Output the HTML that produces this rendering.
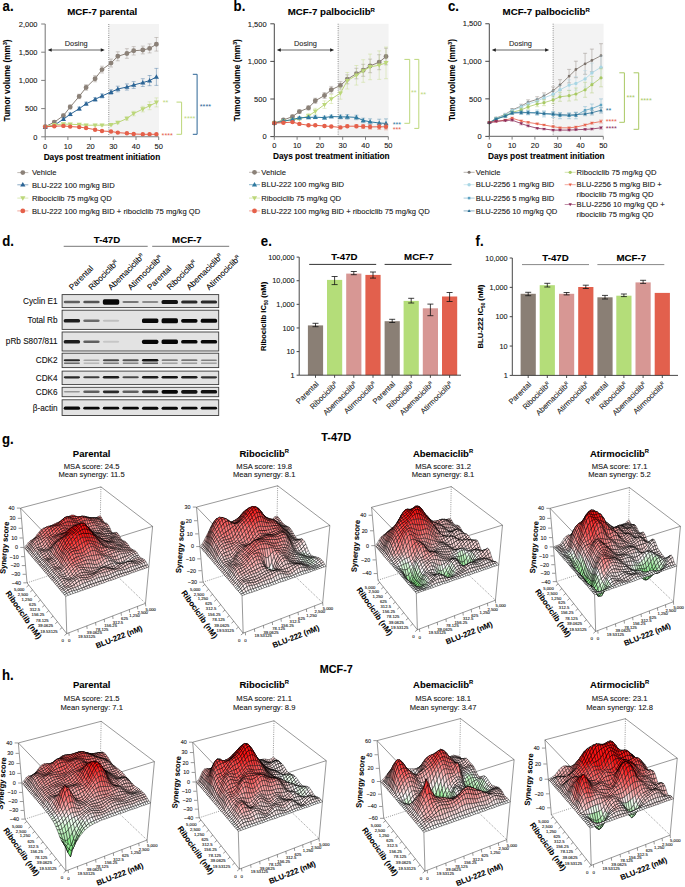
<!DOCTYPE html>
<html><head><meta charset="utf-8"><style>
html,body{margin:0;padding:0;background:#fff;width:685px;height:887px;overflow:hidden}
svg{display:block;font-family:"Liberation Sans",sans-serif}
text{stroke:#000;stroke-width:.22px;stroke-opacity:.45}.ns{stroke:none}
.a{fill:#ffa0a0}.b{fill:#ffb4b4}.c{fill:#ffc8c8}.d{fill:#ffdcdc}.e{fill:#fff0f0}.f{fill:#ff8c8c}.g{fill:#ff7878}.h{fill:#ff6464}.i{fill:#ff5050}.j{fill:#ff3c3c}.k{fill:#ff2828}.l{fill:#ff1414}.m{fill:#ffffff}.n{fill:#f0fff0}.o{fill:#dcffdc}.p{fill:#c8ffc8}.q{fill:#b4f0b4}.r{fill:#a0f0a0}.s{fill:#8cf08c}.t{fill:#c8f0c8}.u{fill:#78f078}.v{fill:#64f064}.w{fill:#50f050}.x{fill:#3cf03c}.y{fill:#28f028}
</style></head><body>
<svg width="685" height="887" viewBox="0 0 685 887">
<rect x="108.76" y="24" width="50.24" height="112.8" fill="#f3f3f3"/>
<line x1="108.76" y1="24" x2="108.76" y2="136.8" stroke="#555" stroke-width="0.8" stroke-dasharray="0.8 1.4"/>
<path d="M45.2 126V127.2M43.2 126h4M43.2 127.2h4M54.3 121.1V123.3M52.3 121.1h4M52.3 123.3h4M63.4 114V117.4M61.4 114h4M61.4 117.4h4M70.2 105V109M68.2 105h4M68.2 109h4M79.2 94.2V98.7M77.2 94.2h4M77.2 98.7h4M86.1 84.7V90.3M84.1 84.7h4M84.1 90.3h4M95.1 75.6V81.8M93.1 75.6h4M93.1 81.8h4M102 66.2V73M100 66.2h4M100 73h4M111 59.1V67M109 59.1h4M109 67h4M117.8 51.8V60.8M115.8 51.8h4M115.8 60.8h4M126.9 48.7V58.3M124.9 48.7h4M124.9 58.3h4M133.7 46.6V55M131.7 46.6h4M131.7 55h4M142.8 46.1V53.9M140.8 46.1h4M140.8 53.9h4M149.6 43.9V52.9M147.6 43.9h4M147.6 52.9h4M156.4 37.5V51.1M154.4 37.5h4M154.4 51.1h4" stroke="#8b8178" stroke-width="0.7" fill="none" opacity="0.55"/>
<polyline points="45.2,126.6 54.3,122.2 63.4,115.7 70.2,107 79.2,96.4 86.1,87.5 95.1,78.7 102,69.6 111,63.1 117.8,56.3 126.9,53.5 133.7,50.8 142.8,50 149.6,48.4 156.4,44.3" fill="none" stroke="#8b8178" stroke-width="1.0"/>
<path d="M45.2 126.6h0M54.3 122.2h0M63.4 115.7h0M70.2 107h0M79.2 96.4h0M86.1 87.5h0M95.1 78.7h0M102 69.6h0M111 63.1h0M117.8 56.3h0M126.9 53.5h0M133.7 50.8h0M142.8 50h0M149.6 48.4h0M156.4 44.3h0" stroke="#8b8178" stroke-width="4.9" stroke-linecap="round"/>
<path d="M45.2 126.6V127.8M43.2 126.6h4M43.2 127.8h4M54.3 124.4V126.1M52.3 124.4h4M52.3 126.1h4M63.4 118.1V120.3M61.4 118.1h4M61.4 120.3h4M70.2 112.9V115.7M68.2 112.9h4M68.2 115.7h4M79.2 107V110.4M77.2 107h4M77.2 110.4h4M86.1 102.1V105.5M84.1 102.1h4M84.1 105.5h4M95.1 97.7V101.1M93.1 97.7h4M93.1 101.1h4M102 93.9V97.9M100 93.9h4M100 97.9h4M111 89.8V94.3M109 89.8h4M109 94.3h4M117.8 86.2V91.8M115.8 86.2h4M115.8 91.8h4M126.9 83.9V90.1M124.9 83.9h4M124.9 90.1h4M133.7 81.6V88.4M131.7 81.6h4M131.7 88.4h4M142.8 78.7V86.5M140.8 78.7h4M140.8 86.5h4M149.6 75.5V85.7M147.6 75.5h4M147.6 85.7h4M156.4 68.4V85.4M154.4 68.4h4M154.4 85.4h4" stroke="#2c6596" stroke-width="0.7" fill="none" opacity="0.55"/>
<polyline points="45.2,127.2 54.3,125.2 63.4,119.2 70.2,114.3 79.2,108.7 86.1,103.8 95.1,99.4 102,95.9 111,92.1 117.8,89 126.9,87 133.7,85 142.8,82.6 149.6,80.6 156.4,76.9" fill="none" stroke="#2c6596" stroke-width="1.0"/>
<path d="M45.2 124.6l-2.5 4.4h5.1zM54.3 122.6l-2.5 4.4h5.1zM63.4 116.6l-2.5 4.4h5.1zM70.2 111.7l-2.5 4.4h5.1zM79.2 106.1l-2.5 4.4h5.1zM86.1 101.2l-2.5 4.4h5.1zM95.1 96.8l-2.5 4.4h5.1zM102 93.3l-2.5 4.4h5.1zM111 89.5l-2.5 4.4h5.1zM117.8 86.4l-2.5 4.4h5.1zM126.9 84.4l-2.5 4.4h5.1zM133.7 82.4l-2.5 4.4h5.1zM142.8 80l-2.5 4.4h5.1zM149.6 78l-2.5 4.4h5.1zM156.4 74.3l-2.5 4.4h5.1z" fill="#2c6596"/>
<path d="M45.2 126.1V127.2M43.2 126.1h4M43.2 127.2h4M54.3 124V125.7M52.3 124h4M52.3 125.7h4M63.4 123.3V125M61.4 123.3h4M61.4 125h4M70.2 123.4V125.1M68.2 123.4h4M68.2 125.1h4M79.2 123.8V125.5M77.2 123.8h4M77.2 125.5h4M86.1 124.3V126M84.1 124.3h4M84.1 126h4M95.1 124.3V126M93.1 124.3h4M93.1 126h4M102 124.3V126M100 124.3h4M100 126h4M111 123.9V125.6M109 123.9h4M109 125.6h4M117.8 121.5V123.7M115.8 121.5h4M115.8 123.7h4M126.9 116.8V120.2M124.9 116.8h4M124.9 120.2h4M133.7 111.3V115.8M131.7 111.3h4M131.7 115.8h4M142.8 106.3V111.9M140.8 106.3h4M140.8 111.9h4M149.6 101.8V109.7M147.6 101.8h4M147.6 109.7h4M156.4 97.9V106.9M154.4 97.9h4M154.4 106.9h4" stroke="#bcd77a" stroke-width="0.7" fill="none" opacity="0.55"/>
<polyline points="45.2,126.6 54.3,124.8 63.4,124.1 70.2,124.3 79.2,124.6 86.1,125.2 95.1,125.2 102,125.2 111,124.8 117.8,122.6 126.9,118.5 133.7,113.5 142.8,109.1 149.6,105.8 156.4,102.4" fill="none" stroke="#bcd77a" stroke-width="1.0"/>
<path d="M45.2 129.3l-2.5 -4.4h5.1zM54.3 127.5l-2.5 -4.4h5.1zM63.4 126.7l-2.5 -4.4h5.1zM70.2 126.9l-2.5 -4.4h5.1zM79.2 127.2l-2.5 -4.4h5.1zM86.1 127.8l-2.5 -4.4h5.1zM95.1 127.8l-2.5 -4.4h5.1zM102 127.8l-2.5 -4.4h5.1zM111 127.4l-2.5 -4.4h5.1zM117.8 125.2l-2.5 -4.4h5.1zM126.9 121.1l-2.5 -4.4h5.1zM133.7 116.1l-2.5 -4.4h5.1zM142.8 111.7l-2.5 -4.4h5.1zM149.6 108.4l-2.5 -4.4h5.1zM156.4 105l-2.5 -4.4h5.1z" fill="#bcd77a"/>
<path d="M45.2 126.3V127.2M43.2 126.3h4M43.2 127.2h4M54.3 125.6V126.8M52.3 125.6h4M52.3 126.8h4M63.4 125.4V126.5M61.4 125.4h4M61.4 126.5h4M70.2 126V127.2M68.2 126h4M68.2 127.2h4M79.2 126.5V127.7M77.2 126.5h4M77.2 127.7h4M86.1 127.4V128.6M84.1 127.4h4M84.1 128.6h4M95.1 129.1V130.3M93.1 129.1h4M93.1 130.3h4M102 130.4V131.6M100 130.4h4M100 131.6h4M111 130.9V132.1M109 130.9h4M109 132.1h4M117.8 132.2V133.1M115.8 132.2h4M115.8 133.1h4M126.9 132.9V133.8M124.9 132.9h4M124.9 133.8h4M133.7 133.5V134.4M131.7 133.5h4M131.7 134.4h4M142.8 133.9V134.8M140.8 133.9h4M140.8 134.8h4M149.6 133.9V134.8M147.6 133.9h4M147.6 134.8h4M156.4 133.9V134.8M154.4 133.9h4M154.4 134.8h4" stroke="#e5604a" stroke-width="0.7" fill="none" opacity="0.55"/>
<polyline points="45.2,126.8 54.3,126.2 63.4,125.9 70.2,126.6 79.2,127.1 86.1,128 95.1,129.7 102,131 111,131.5 117.8,132.6 126.9,133.3 133.7,134 142.8,134.3 149.6,134.3 156.4,134.3" fill="none" stroke="#e5604a" stroke-width="1.0"/>
<path d="M45.2 126.8h0M54.3 126.2h0M63.4 125.9h0M70.2 126.6h0M79.2 127.1h0M86.1 128h0M95.1 129.7h0M102 131h0M111 131.5h0M117.8 132.6h0M126.9 133.3h0M133.7 134h0M142.8 134.3h0M149.6 134.3h0M156.4 134.3h0" stroke="#e5604a" stroke-width="4.4" stroke-linecap="round"/>
<path d="M45.2 24V136.8" stroke="#7f7f7f" stroke-width="1.1" fill="none"/>
<path d="M44.7 136.8H158.7" stroke="#7f7f7f" stroke-width="1.1" fill="none"/>
<path d="M41.2 136.8h4" stroke="#7f7f7f" stroke-width="1.0"/>
<text x="37.5" y="139.5" font-size="7.5" text-anchor="end" fill="#222">0</text>
<path d="M41.2 108.6h4" stroke="#7f7f7f" stroke-width="1.0"/>
<text x="37.5" y="111.3" font-size="7.5" text-anchor="end" fill="#222">500</text>
<path d="M41.2 80.4h4" stroke="#7f7f7f" stroke-width="1.0"/>
<text x="37.5" y="83.1" font-size="7.5" text-anchor="end" fill="#222">1,000</text>
<path d="M41.2 52.2h4" stroke="#7f7f7f" stroke-width="1.0"/>
<text x="37.5" y="54.9" font-size="7.5" text-anchor="end" fill="#222">1,500</text>
<path d="M41.2 24h4" stroke="#7f7f7f" stroke-width="1.0"/>
<text x="37.5" y="26.7" font-size="7.5" text-anchor="end" fill="#222">2,000</text>
<path d="M45.2 136.8v3.2" stroke="#7f7f7f" stroke-width="1"/>
<text x="45.2" y="148.5" font-size="7.5" text-anchor="middle" fill="#222">0</text>
<path d="M67.9 136.8v3.2" stroke="#7f7f7f" stroke-width="1"/>
<text x="67.9" y="148.5" font-size="7.5" text-anchor="middle" fill="#222">10</text>
<path d="M90.6 136.8v3.2" stroke="#7f7f7f" stroke-width="1"/>
<text x="90.6" y="148.5" font-size="7.5" text-anchor="middle" fill="#222">20</text>
<path d="M113.3 136.8v3.2" stroke="#7f7f7f" stroke-width="1"/>
<text x="113.3" y="148.5" font-size="7.5" text-anchor="middle" fill="#222">30</text>
<path d="M136 136.8v3.2" stroke="#7f7f7f" stroke-width="1"/>
<text x="136" y="148.5" font-size="7.5" text-anchor="middle" fill="#222">40</text>
<path d="M158.7 136.8v3.2" stroke="#7f7f7f" stroke-width="1"/>
<text x="158.7" y="148.5" font-size="7.5" text-anchor="middle" fill="#222">50</text>
<path d="M49.7 50H102.76" stroke="#222" stroke-width="0.7"/>
<path d="M47.7 50l4 -1.8v3.6z" fill="#222"/>
<path d="M104.76 50l-4 -1.8v3.6z" fill="#222"/>
<text x="76.23" y="46" font-size="7.4" text-anchor="middle" fill="#333">Dosing</text>
<text x="101.95" y="159.5" font-size="8.3" font-weight="bold" text-anchor="middle" fill="#000">Days post treatment initiation</text>
<text transform="translate(9.9 80.4) rotate(-90)" font-size="8.3" font-weight="bold" text-anchor="middle">Tumor volume (mm<tspan font-size="5.2" dy="-3">3</tspan><tspan dy="3">)</tspan></text>
<path d="M192.8 74.3H197.1V134.3H192.8" fill="none" stroke="#2c6596" stroke-width="1"/>
<text x="199.8" y="108.7" font-size="7.2" fill="#2c6596" class="ns">****</text>
<path d="M176.5 102.1H181.6V134.3H176.5" fill="none" stroke="#bcd77a" stroke-width="1"/>
<text x="184.1" y="121.2" font-size="7.2" fill="#bcd77a" class="ns">****</text>
<text x="162.7" y="105.1" font-size="7.2" fill="#bcd77a" class="ns">**</text>
<text x="161.6" y="138.3" font-size="7.2" fill="#e5604a" class="ns">****</text>
<path d="M17.3 172.6h11" stroke="#8b8178" stroke-width="0.9" opacity="0.6"/>
<circle cx="22.8" cy="172.6" r="2.4" fill="#8b8178"/>
<text x="31.9" y="175.3" font-size="7.65" fill="#222">Vehicle</text>
<path d="M17.3 184.8h11" stroke="#2c6596" stroke-width="0.9" opacity="0.6"/>
<path d="M22.8 182.06L20.16 186.62L25.44 186.62Z" fill="#2c6596"/>
<text x="31.9" y="187.5" font-size="7.65" fill="#222">BLU-222 100 mg/kg BID</text>
<path d="M17.3 198.1h11" stroke="#bcd77a" stroke-width="0.9" opacity="0.6"/>
<path d="M22.8 200.84L20.16 196.28L25.44 196.28Z" fill="#bcd77a"/>
<text x="31.9" y="200.8" font-size="7.65" fill="#222">Ribociclib 75 mg/kg QD</text>
<path d="M17.3 210.9h11" stroke="#e5604a" stroke-width="0.9" opacity="0.6"/>
<circle cx="22.8" cy="210.9" r="2.4" fill="#e5604a"/>
<text x="31.9" y="213.6" font-size="7.65" fill="#222">BLU-222 100 mg/kg BID + ribociclib 75 mg/kg QD</text>
<rect x="338.14" y="23.8" width="50.46" height="112.8" fill="#f3f3f3"/>
<line x1="338.14" y1="23.8" x2="338.14" y2="136.6" stroke="#555" stroke-width="0.8" stroke-dasharray="0.8 1.4"/>
<path d="M274.3 122.2V123.7M272.3 122.2h4M272.3 123.7h4M283.4 118.9V121.1M281.4 118.9h4M281.4 121.1h4M292.5 115.1V118.1M290.5 115.1h4M290.5 118.1h4M299.4 109.8V113.5M297.4 109.8h4M297.4 113.5h4M308.5 105.6V110.1M306.5 105.6h4M306.5 110.1h4M315.3 98.2V103.4M313.3 98.2h4M313.3 103.4h4M324.5 92.5V98.5M322.5 92.5h4M322.5 98.5h4M331.3 86.4V93.2M329.3 86.4h4M329.3 93.2h4M340.4 81.6V89.1M338.4 81.6h4M338.4 89.1h4M347.3 74.8V83.8M345.3 74.8h4M345.3 83.8h4M356.4 68.3V78.8M354.4 68.3h4M354.4 78.8h4M363.2 64.3V76.3M361.2 64.3h4M361.2 76.3h4M370.1 59.1V72.7M368.1 59.1h4M368.1 72.7h4M379.2 54.7V69.7M377.2 54.7h4M377.2 69.7h4M386 48.2V64.8M384 48.2h4M384 64.8h4" stroke="#8b8178" stroke-width="0.7" fill="none" opacity="0.55"/>
<polyline points="274.3,123 283.4,120 292.5,116.6 299.4,111.6 308.5,107.9 315.3,100.8 324.5,95.5 331.3,89.8 340.4,85.4 347.3,79.3 356.4,73.6 363.2,70.3 370.1,65.9 379.2,62.2 386,56.5" fill="none" stroke="#8b8178" stroke-width="1.0"/>
<path d="M274.3 123h0M283.4 120h0M292.5 116.6h0M299.4 111.6h0M308.5 107.9h0M315.3 100.8h0M324.5 95.5h0M331.3 89.8h0M340.4 85.4h0M347.3 79.3h0M356.4 73.6h0M363.2 70.3h0M370.1 65.9h0M379.2 62.2h0M386 56.5h0" stroke="#8b8178" stroke-width="4.9" stroke-linecap="round"/>
<path d="M274.3 122.3V123.8M272.3 122.3h4M272.3 123.8h4M283.4 120.1V122.3M281.4 120.1h4M281.4 122.3h4M292.5 118.6V120.8M290.5 118.6h4M290.5 120.8h4M299.4 117.4V120.4M297.4 117.4h4M297.4 120.4h4M308.5 113.7V118.3M306.5 113.7h4M306.5 118.3h4M315.3 108.3V114.3M313.3 108.3h4M313.3 114.3h4M324.5 100.9V108.4M322.5 100.9h4M322.5 108.4h4M331.3 94.5V103.5M329.3 94.5h4M329.3 103.5h4M340.4 87.2V99.2M338.4 87.2h4M338.4 99.2h4M347.3 72.5V89M345.3 72.5h4M345.3 89h4M356.4 65.5V85.1M354.4 65.5h4M354.4 85.1h4M363.2 59.7V82.3M361.2 59.7h4M361.2 82.3h4M370.1 54.1V79.7M368.1 54.1h4M368.1 79.7h4M379.2 50.9V79.4M377.2 50.9h4M377.2 79.4h4M386 47.1V78.7M384 47.1h4M384 78.7h4" stroke="#bcd77a" stroke-width="0.7" fill="none" opacity="0.55"/>
<polyline points="274.3,123.1 283.4,121.2 292.5,119.7 299.4,118.9 308.5,116 315.3,111.3 324.5,104.6 331.3,99 340.4,93.2 347.3,80.7 356.4,75.3 363.2,71 370.1,66.9 379.2,65.2 386,62.9" fill="none" stroke="#bcd77a" stroke-width="1.0"/>
<path d="M274.3 125.7l-2.5 -4.4h5.1zM283.4 123.8l-2.5 -4.4h5.1zM292.5 122.3l-2.5 -4.4h5.1zM299.4 121.5l-2.5 -4.4h5.1zM308.5 118.6l-2.5 -4.4h5.1zM315.3 114l-2.5 -4.4h5.1zM324.5 107.3l-2.5 -4.4h5.1zM331.3 101.6l-2.5 -4.4h5.1zM340.4 95.8l-2.5 -4.4h5.1zM347.3 83.3l-2.5 -4.4h5.1zM356.4 77.9l-2.5 -4.4h5.1zM363.2 73.6l-2.5 -4.4h5.1zM370.1 69.5l-2.5 -4.4h5.1zM379.2 67.8l-2.5 -4.4h5.1zM386 65.5l-2.5 -4.4h5.1z" fill="#bcd77a"/>
<path d="M274.3 122.3V123.8M272.3 122.3h4M272.3 123.8h4M283.4 120.1V122.3M281.4 120.1h4M281.4 122.3h4M292.5 118.4V120.7M290.5 118.4h4M290.5 120.7h4M299.4 116.7V118.9M297.4 116.7h4M297.4 118.9h4M308.5 116.3V118.6M306.5 116.3h4M306.5 118.6h4M315.3 115.7V118.7M313.3 115.7h4M313.3 118.7h4M324.5 116.1V119.1M322.5 116.1h4M322.5 119.1h4M331.3 115V118M329.3 115h4M329.3 118h4M340.4 115V118.8M338.4 115h4M338.4 118.8h4M347.3 114.6V119.2M345.3 114.6h4M345.3 119.2h4M356.4 115.2V119.7M354.4 115.2h4M354.4 119.7h4M363.2 118.2V122.7M361.2 118.2h4M361.2 122.7h4M370.1 118.8V124.8M368.1 118.8h4M368.1 124.8h4M379.2 119.2V126.7M377.2 119.2h4M377.2 126.7h4M386 118.9V128M384 118.9h4M384 128h4" stroke="#2f7aa0" stroke-width="0.7" fill="none" opacity="0.55"/>
<polyline points="274.3,123.1 283.4,121.2 292.5,119.5 299.4,117.8 308.5,117.4 315.3,117.2 324.5,117.6 331.3,116.5 340.4,116.9 347.3,116.9 356.4,117.4 363.2,120.4 370.1,121.8 379.2,123 386,123.4" fill="none" stroke="#2f7aa0" stroke-width="1.0"/>
<path d="M274.3 120.4l-2.5 4.4h5.1zM283.4 118.6l-2.5 4.4h5.1zM292.5 116.9l-2.5 4.4h5.1zM299.4 115.2l-2.5 4.4h5.1zM308.5 114.8l-2.5 4.4h5.1zM315.3 114.6l-2.5 4.4h5.1zM324.5 115l-2.5 4.4h5.1zM331.3 113.9l-2.5 4.4h5.1zM340.4 114.3l-2.5 4.4h5.1zM347.3 114.3l-2.5 4.4h5.1zM356.4 114.8l-2.5 4.4h5.1zM363.2 117.8l-2.5 4.4h5.1zM370.1 119.2l-2.5 4.4h5.1zM379.2 120.4l-2.5 4.4h5.1zM386 120.8l-2.5 4.4h5.1z" fill="#2f7aa0"/>
<path d="M274.3 122.5V123.7M272.3 122.5h4M272.3 123.7h4M283.4 121.9V123.4M281.4 121.9h4M281.4 123.4h4M292.5 121.3V122.8M290.5 121.3h4M290.5 122.8h4M299.4 123.1V124.6M297.4 123.1h4M297.4 124.6h4M308.5 124.6V126.1M306.5 124.6h4M306.5 126.1h4M315.3 124.6V126.1M313.3 124.6h4M313.3 126.1h4M324.5 125.2V126.7M322.5 125.2h4M322.5 126.7h4M331.3 125.8V127.3M329.3 125.8h4M329.3 127.3h4M340.4 126.3V128.6M338.4 126.3h4M338.4 128.6h4M347.3 125.1V127.4M345.3 125.1h4M345.3 127.4h4M356.4 124.7V127.7M354.4 124.7h4M354.4 127.7h4M363.2 124.6V128.4M361.2 124.6h4M361.2 128.4h4M370.1 124.6V129.2M368.1 124.6h4M368.1 129.2h4M379.2 124.2V129.5M377.2 124.2h4M377.2 129.5h4M386 123.8V129.8M384 123.8h4M384 129.8h4" stroke="#e5604a" stroke-width="0.7" fill="none" opacity="0.55"/>
<polyline points="274.3,123.1 283.4,122.7 292.5,122.1 299.4,123.9 308.5,125.3 315.3,125.3 324.5,126 331.3,126.5 340.4,127.4 347.3,126.2 356.4,126.2 363.2,126.5 370.1,126.9 379.2,126.8 386,126.8" fill="none" stroke="#e5604a" stroke-width="1.0"/>
<path d="M274.3 123.1h0M283.4 122.7h0M292.5 122.1h0M299.4 123.9h0M308.5 125.3h0M315.3 125.3h0M324.5 126h0M331.3 126.5h0M340.4 127.4h0M347.3 126.2h0M356.4 126.2h0M363.2 126.5h0M370.1 126.9h0M379.2 126.8h0M386 126.8h0" stroke="#e5604a" stroke-width="4.4" stroke-linecap="round"/>
<path d="M274.3 23.8V136.6" stroke="#333" stroke-width="0.9" fill="none"/>
<path d="M273.8 136.6H388.3" stroke="#7f7f7f" stroke-width="1.1" fill="none"/>
<path d="M270.3 136.6h4" stroke="#333" stroke-width="0.9"/>
<text x="266.6" y="139.3" font-size="7.5" text-anchor="end" fill="#222">0</text>
<path d="M270.3 99h4" stroke="#333" stroke-width="0.9"/>
<text x="266.6" y="101.7" font-size="7.5" text-anchor="end" fill="#222">500</text>
<path d="M270.3 61.4h4" stroke="#333" stroke-width="0.9"/>
<text x="266.6" y="64.1" font-size="7.5" text-anchor="end" fill="#222">1,000</text>
<path d="M270.3 23.8h4" stroke="#333" stroke-width="0.9"/>
<text x="266.6" y="26.5" font-size="7.5" text-anchor="end" fill="#222">1,500</text>
<path d="M274.3 136.6v3.2" stroke="#7f7f7f" stroke-width="1"/>
<text x="274.3" y="148.3" font-size="7.5" text-anchor="middle" fill="#222">0</text>
<path d="M297.1 136.6v3.2" stroke="#7f7f7f" stroke-width="1"/>
<text x="297.1" y="148.3" font-size="7.5" text-anchor="middle" fill="#222">10</text>
<path d="M319.9 136.6v3.2" stroke="#7f7f7f" stroke-width="1"/>
<text x="319.9" y="148.3" font-size="7.5" text-anchor="middle" fill="#222">20</text>
<path d="M342.7 136.6v3.2" stroke="#7f7f7f" stroke-width="1"/>
<text x="342.7" y="148.3" font-size="7.5" text-anchor="middle" fill="#222">30</text>
<path d="M365.5 136.6v3.2" stroke="#7f7f7f" stroke-width="1"/>
<text x="365.5" y="148.3" font-size="7.5" text-anchor="middle" fill="#222">40</text>
<path d="M388.3 136.6v3.2" stroke="#7f7f7f" stroke-width="1"/>
<text x="388.3" y="148.3" font-size="7.5" text-anchor="middle" fill="#222">50</text>
<path d="M278.8 50H332.14" stroke="#222" stroke-width="0.7"/>
<path d="M276.8 50l4 -1.8v3.6z" fill="#222"/>
<path d="M334.14 50l-4 -1.8v3.6z" fill="#222"/>
<text x="305.47" y="46" font-size="7.4" text-anchor="middle" fill="#333">Dosing</text>
<text x="331.3" y="159.3" font-size="8.3" font-weight="bold" text-anchor="middle" fill="#000">Days post treatment initiation</text>
<text transform="translate(239.5 80.2) rotate(-90)" font-size="8.3" font-weight="bold" text-anchor="middle">Tumor volume (mm<tspan font-size="5.2" dy="-3">3</tspan><tspan dy="3">)</tspan></text>
<path d="M404.4 59.4H409.7V123.3H404.4" fill="none" stroke="#bcd77a" stroke-width="1"/>
<text x="411" y="94.8" font-size="7.2" fill="#bcd77a" class="ns">**</text>
<path d="M414.3 59.4H418.8V128.4H414.3" fill="none" stroke="#bcd77a" stroke-width="1"/>
<text x="420.4" y="97.1" font-size="7.2" fill="#bcd77a" class="ns">**</text>
<text x="392.7" y="126.5" font-size="7.2" fill="#2f7aa0" class="ns">***</text>
<text x="392.7" y="132.2" font-size="7.2" fill="#e5604a" class="ns">***</text>
<path d="M249 172.3h11" stroke="#8b8178" stroke-width="0.9" opacity="0.6"/>
<circle cx="254.5" cy="172.3" r="2.4" fill="#8b8178"/>
<text x="261.3" y="175" font-size="7.65" fill="#222">Vehicle</text>
<path d="M249 184.7h11" stroke="#2f7aa0" stroke-width="0.9" opacity="0.6"/>
<path d="M254.5 181.96L251.86 186.52L257.14 186.52Z" fill="#2f7aa0"/>
<text x="261.3" y="187.4" font-size="7.65" fill="#222">BLU-222 100 mg/kg BID</text>
<path d="M249 198.1h11" stroke="#bcd77a" stroke-width="0.9" opacity="0.6"/>
<path d="M254.5 200.84L251.86 196.28L257.14 196.28Z" fill="#bcd77a"/>
<text x="261.3" y="200.8" font-size="7.65" fill="#222">Ribociclib 75 mg/kg QD</text>
<path d="M249 210.9h11" stroke="#e5604a" stroke-width="0.9" opacity="0.6"/>
<circle cx="254.5" cy="210.9" r="2.4" fill="#e5604a"/>
<text x="261.3" y="213.6" font-size="7.65" fill="#222">BLU-222 100 mg/kg BID + ribociclib 75 mg/kg QD</text>
<rect x="553.14" y="23.75" width="50.46" height="112.65" fill="#f3f3f3"/>
<line x1="553.14" y1="23.75" x2="553.14" y2="136.4" stroke="#555" stroke-width="0.8" stroke-dasharray="0.8 1.4"/>
<path d="M489.3 122.2V123.4M487.3 122.2h4M487.3 123.4h4M496.1 117.2V119M494.1 117.2h4M494.1 119h4M505.3 113.3V115.5M503.3 113.3h4M503.3 115.5h4M512.1 108.5V111.5M510.1 108.5h4M510.1 111.5h4M521.2 104.2V107.9M519.2 104.2h4M519.2 107.9h4M528.1 99.8V104.3M526.1 99.8h4M526.1 104.3h4M537.2 96.7V102M535.2 96.7h4M535.2 102h4M544 92.9V98.9M542 92.9h4M542 98.9h4M553.1 86.9V94.4M551.1 86.9h4M551.1 94.4h4M560 79.7V90.2M558 79.7h4M558 90.2h4M569.1 69.4V82.9M567.1 69.4h4M567.1 82.9h4M575.9 61.2V77.7M573.9 61.2h4M573.9 77.7h4M585.1 53.3V74.3M583.1 53.3h4M583.1 74.3h4M591.9 49.1V71.7M589.9 49.1h4M589.9 71.7h4M601 43.7V67.7M599 43.7h4M599 67.7h4" stroke="#7d736c" stroke-width="0.7" fill="none" opacity="0.55"/>
<polyline points="489.3,122.8 496.1,118.1 505.3,114.4 512.1,110 521.2,106.1 528.1,102.1 537.2,99.4 544,95.9 553.1,90.7 560,85 569.1,76.2 575.9,69.5 585.1,63.8 591.9,60.4 601,55.7" fill="none" stroke="#7d736c" stroke-width="0.8"/>
<path d="M489.3 122.8h0M496.1 118.1h0M505.3 114.4h0M512.1 110h0M521.2 106.1h0M528.1 102.1h0M537.2 99.4h0M544 95.9h0M553.1 90.7h0M560 85h0M569.1 76.2h0M575.9 69.5h0M585.1 63.8h0M591.9 60.4h0M601 55.7h0" stroke="#7d736c" stroke-width="2.8" stroke-linecap="round"/>
<path d="M489.3 122.2V123.4M487.3 122.2h4M487.3 123.4h4M496.1 117.6V119.4M494.1 117.6h4M494.1 119.4h4M505.3 113.6V115.9M503.3 113.6h4M503.3 115.9h4M512.1 109.1V112.1M510.1 109.1h4M510.1 112.1h4M521.2 105.1V108.8M519.2 105.1h4M519.2 108.8h4M528.1 101.7V106.2M526.1 101.7h4M526.1 106.2h4M537.2 98.5V103.7M535.2 98.5h4M535.2 103.7h4M544 94.9V101M542 94.9h4M542 101h4M553.1 90.6V98.1M551.1 90.6h4M551.1 98.1h4M560 85.3V94.3M558 85.3h4M558 94.3h4M569.1 79.8V90.4M567.1 79.8h4M567.1 90.4h4M575.9 76.7V90.2M573.9 76.7h4M573.9 90.2h4M585.1 70.6V87.1M583.1 70.6h4M583.1 87.1h4M591.9 63.1V82.6M589.9 63.1h4M589.9 82.6h4M601 55.9V78.4M599 55.9h4M599 78.4h4" stroke="#a8d6e4" stroke-width="0.7" fill="none" opacity="0.55"/>
<polyline points="489.3,122.8 496.1,118.5 505.3,114.8 512.1,110.6 521.2,107 528.1,104 537.2,101.1 544,97.9 553.1,94.3 560,89.8 569.1,85.1 575.9,83.5 585.1,78.9 591.9,72.9 601,67.2" fill="none" stroke="#a8d6e4" stroke-width="0.8"/>
<path d="M489.3 122.8h0M496.1 118.5h0M505.3 114.8h0M512.1 110.6h0M521.2 107h0M528.1 104h0M537.2 101.1h0M544 97.9h0M553.1 94.3h0M560 89.8h0M569.1 85.1h0M575.9 83.5h0M585.1 78.9h0M591.9 72.9h0M601 67.2h0" stroke="#a8d6e4" stroke-width="3.4" stroke-linecap="round"/>
<path d="M489.3 122.2V123.4M487.3 122.2h4M487.3 123.4h4M496.1 118.2V120M494.1 118.2h4M494.1 120h4M505.3 114.6V116.9M503.3 114.6h4M503.3 116.9h4M512.1 110.9V113.9M510.1 110.9h4M510.1 113.9h4M521.2 108V111.8M519.2 108h4M519.2 111.8h4M528.1 104.6V109.1M526.1 104.6h4M526.1 109.1h4M537.2 101.4V106.7M535.2 101.4h4M535.2 106.7h4M544 99.7V105.7M542 99.7h4M542 105.7h4M553.1 96.1V103.7M551.1 96.1h4M551.1 103.7h4M560 92.3V101.3M558 92.3h4M558 101.3h4M569.1 90.4V101M567.1 90.4h4M567.1 101h4M575.9 88V100M573.9 88h4M573.9 100h4M585.1 82.3V97.3M583.1 82.3h4M583.1 97.3h4M591.9 76.4V92.9M589.9 76.4h4M589.9 92.9h4M601 68.8V86.8M599 68.8h4M599 86.8h4" stroke="#a9c963" stroke-width="0.7" fill="none" opacity="0.55"/>
<polyline points="489.3,122.8 496.1,119.1 505.3,115.7 512.1,112.4 521.2,109.9 528.1,106.9 537.2,104 544,102.7 553.1,99.9 560,96.8 569.1,95.7 575.9,94 585.1,89.8 591.9,84.7 601,77.8" fill="none" stroke="#a9c963" stroke-width="0.8"/>
<path d="M489.3 122.8h0M496.1 119.1h0M505.3 115.7h0M512.1 112.4h0M521.2 109.9h0M528.1 106.9h0M537.2 104h0M544 102.7h0M553.1 99.9h0M560 96.8h0M569.1 95.7h0M575.9 94h0M585.1 89.8h0M591.9 84.7h0M601 77.8h0" stroke="#a9c963" stroke-width="3.2" stroke-linecap="round"/>
<path d="M489.3 122.2V123.4M487.3 122.2h4M487.3 123.4h4M496.1 118.1V119.9M494.1 118.1h4M494.1 119.9h4M505.3 114.8V117.1M503.3 114.8h4M503.3 117.1h4M512.1 111.2V114.2M510.1 111.2h4M510.1 114.2h4M521.2 110.3V114M519.2 110.3h4M519.2 114h4M528.1 110.3V114.8M526.1 110.3h4M526.1 114.8h4M537.2 110V115.2M535.2 110h4M535.2 115.2h4M544 110.9V116.9M542 110.9h4M542 116.9h4M553.1 111.5V117.5M551.1 111.5h4M551.1 117.5h4M560 112.7V118.7M558 112.7h4M558 118.7h4M569.1 112.7V118.7M567.1 112.7h4M567.1 118.7h4M575.9 112.1V118.8M573.9 112.1h4M573.9 118.8h4M585.1 106.6V114.1M583.1 106.6h4M583.1 114.1h4M591.9 104V113M589.9 104h4M589.9 113h4M601 98.9V110.9M599 98.9h4M599 110.9h4" stroke="#5da3c2" stroke-width="0.7" fill="none" opacity="0.55"/>
<polyline points="489.3,122.8 496.1,119 505.3,116 512.1,112.7 521.2,112.1 528.1,112.6 537.2,112.6 544,113.9 553.1,114.5 560,115.7 569.1,115.7 575.9,115.4 585.1,110.3 591.9,108.5 601,104.9" fill="none" stroke="#5da3c2" stroke-width="0.8"/>
<path d="M488 121.5h2.5v2.5h-2.5zM494.9 117.7h2.5v2.5h-2.5zM504 114.7h2.5v2.5h-2.5zM510.8 111.5h2.5v2.5h-2.5zM519.9 110.9h2.5v2.5h-2.5zM526.8 111.3h2.5v2.5h-2.5zM535.9 111.3h2.5v2.5h-2.5zM542.7 112.6h2.5v2.5h-2.5zM551.9 113.3h2.5v2.5h-2.5zM558.7 114.4h2.5v2.5h-2.5zM567.8 114.4h2.5v2.5h-2.5zM574.7 114.2h2.5v2.5h-2.5zM583.8 109.1h2.5v2.5h-2.5zM590.6 107.2h2.5v2.5h-2.5zM599.7 103.7h2.5v2.5h-2.5z" fill="#5da3c2"/>
<path d="M489.3 122.2V123.4M487.3 122.2h4M487.3 123.4h4M496.1 118.2V120M494.1 118.2h4M494.1 120h4M505.3 115V117.2M503.3 115h4M503.3 117.2h4M512.1 111.6V114.6M510.1 111.6h4M510.1 114.6h4M521.2 111.2V114.2M519.2 111.2h4M519.2 114.2h4M528.1 111.2V114.2M526.1 111.2h4M526.1 114.2h4M537.2 111.6V114.6M535.2 111.6h4M535.2 114.6h4M544 112V115M542 112h4M542 115h4M553.1 112.4V115.4M551.1 112.4h4M551.1 115.4h4M560 113.1V116.1M558 113.1h4M558 116.1h4M569.1 113.5V116.5M567.1 113.5h4M567.1 116.5h4M575.9 112.7V116.5M573.9 112.7h4M573.9 116.5h4M585.1 112V115.7M583.1 112h4M583.1 115.7h4M591.9 110.4V114.9M589.9 110.4h4M589.9 114.9h4M601 107.7V113M599 107.7h4M599 113h4" stroke="#2b6f94" stroke-width="0.7" fill="none" opacity="0.55"/>
<polyline points="489.3,122.8 496.1,119.1 505.3,116.1 512.1,113.1 521.2,112.7 528.1,112.7 537.2,113.1 544,113.5 553.1,113.9 560,114.6 569.1,115 575.9,114.6 585.1,113.9 591.9,112.7 601,110.3" fill="none" stroke="#2b6f94" stroke-width="0.8"/>
<path d="M489.3 121.2l-1.5 2.7h3.1zM496.1 117.5l-1.5 2.7h3.1zM505.3 114.5l-1.5 2.7h3.1zM512.1 111.5l-1.5 2.7h3.1zM521.2 111.1l-1.5 2.7h3.1zM528.1 111.1l-1.5 2.7h3.1zM537.2 111.5l-1.5 2.7h3.1zM544 111.9l-1.5 2.7h3.1zM553.1 112.3l-1.5 2.7h3.1zM560 113l-1.5 2.7h3.1zM569.1 113.4l-1.5 2.7h3.1zM575.9 113l-1.5 2.7h3.1zM585.1 112.3l-1.5 2.7h3.1zM591.9 111.1l-1.5 2.7h3.1zM601 108.7l-1.5 2.7h3.1z" fill="#2b6f94"/>
<path d="M489.3 121.8V123M487.3 121.8h4M487.3 123h4M496.1 120.6V122.1M494.1 120.6h4M494.1 122.1h4M505.3 119.2V121M503.3 119.2h4M503.3 121h4M512.1 117.1V119.4M510.1 117.1h4M510.1 119.4h4M521.2 119.9V122.1M519.2 119.9h4M519.2 122.1h4M528.1 121.5V123.3M526.1 121.5h4M526.1 123.3h4M537.2 123V124.5M535.2 123h4M535.2 124.5h4M544 124.2V125.7M542 124.2h4M542 125.7h4M553.1 125.9V127.4M551.1 125.9h4M551.1 127.4h4M560 127.1V128.6M558 127.1h4M558 128.6h4M569.1 127.1V128.6M567.1 127.1h4M567.1 128.6h4M575.9 126.2V128M573.9 126.2h4M573.9 128h4M585.1 123.9V126.1M583.1 123.9h4M583.1 126.1h4M591.9 122V124.2M589.9 122h4M589.9 124.2h4M601 120V123M599 120h4M599 123h4" stroke="#e8604a" stroke-width="0.7" fill="none" opacity="0.55"/>
<polyline points="489.3,122.4 496.1,121.4 505.3,120.1 512.1,118.2 521.2,121 528.1,122.4 537.2,123.8 544,125 553.1,126.6 560,127.8 569.1,127.8 575.9,127.1 585.1,125 591.9,123.1 601,121.5" fill="none" stroke="#e8604a" stroke-width="0.8"/>
<path d="M489.3 124l-1.5 -2.7h3.1zM496.1 123l-1.5 -2.7h3.1zM505.3 121.7l-1.5 -2.7h3.1zM512.1 119.8l-1.5 -2.7h3.1zM521.2 122.6l-1.5 -2.7h3.1zM528.1 124l-1.5 -2.7h3.1zM537.2 125.4l-1.5 -2.7h3.1zM544 126.6l-1.5 -2.7h3.1zM553.1 128.2l-1.5 -2.7h3.1zM560 129.4l-1.5 -2.7h3.1zM569.1 129.4l-1.5 -2.7h3.1zM575.9 128.7l-1.5 -2.7h3.1zM585.1 126.6l-1.5 -2.7h3.1zM591.9 124.7l-1.5 -2.7h3.1zM601 123.1l-1.5 -2.7h3.1z" fill="#e8604a"/>
<path d="M489.3 122.2V123.4M487.3 122.2h4M487.3 123.4h4M496.1 120.6V122.1M494.1 120.6h4M494.1 122.1h4M505.3 119.7V121.5M503.3 119.7h4M503.3 121.5h4M512.1 119V121.2M510.1 119h4M510.1 121.2h4M521.2 122.5V124.8M519.2 122.5h4M519.2 124.8h4M528.1 125V126.8M526.1 125h4M526.1 126.8h4M537.2 127.5V129M535.2 127.5h4M535.2 129h4M544 128.3V129.8M542 128.3h4M542 129.8h4M553.1 129.3V130.8M551.1 129.3h4M551.1 130.8h4M560 129.3V130.8M558 129.3h4M558 130.8h4M569.1 129.3V130.8M567.1 129.3h4M567.1 130.8h4M575.9 129V130.5M573.9 129h4M573.9 130.5h4M585.1 128.7V130.2M583.1 128.7h4M583.1 130.2h4M591.9 128.1V129.9M589.9 128.1h4M589.9 129.9h4M601 126.7V129M599 126.7h4M599 129h4" stroke="#8c2d5c" stroke-width="0.7" fill="none" opacity="0.55"/>
<polyline points="489.3,122.8 496.1,121.4 505.3,120.6 512.1,120.1 521.2,123.6 528.1,125.9 537.2,128.3 544,129 553.1,130.1 560,130.1 569.1,130.1 575.9,129.7 585.1,129.4 591.9,129 601,127.8" fill="none" stroke="#8c2d5c" stroke-width="0.8"/>
<path d="M489.3 124.4l-1.5 -2.7h3.1zM496.1 123l-1.5 -2.7h3.1zM505.3 122.2l-1.5 -2.7h3.1zM512.1 121.7l-1.5 -2.7h3.1zM521.2 125.2l-1.5 -2.7h3.1zM528.1 127.5l-1.5 -2.7h3.1zM537.2 129.9l-1.5 -2.7h3.1zM544 130.6l-1.5 -2.7h3.1zM553.1 131.7l-1.5 -2.7h3.1zM560 131.7l-1.5 -2.7h3.1zM569.1 131.7l-1.5 -2.7h3.1zM575.9 131.3l-1.5 -2.7h3.1zM585.1 131l-1.5 -2.7h3.1zM591.9 130.6l-1.5 -2.7h3.1zM601 129.4l-1.5 -2.7h3.1z" fill="#8c2d5c"/>
<path d="M489.3 23.75V136.4" stroke="#333" stroke-width="0.9" fill="none"/>
<path d="M488.8 136.4H603.3" stroke="#7f7f7f" stroke-width="1.1" fill="none"/>
<path d="M485.3 136.4h4" stroke="#333" stroke-width="0.9"/>
<text x="481.6" y="139.1" font-size="7.5" text-anchor="end" fill="#222">0</text>
<path d="M485.3 98.85h4" stroke="#333" stroke-width="0.9"/>
<text x="481.6" y="101.55" font-size="7.5" text-anchor="end" fill="#222">500</text>
<path d="M485.3 61.3h4" stroke="#333" stroke-width="0.9"/>
<text x="481.6" y="64" font-size="7.5" text-anchor="end" fill="#222">1,000</text>
<path d="M485.3 23.75h4" stroke="#333" stroke-width="0.9"/>
<text x="481.6" y="26.45" font-size="7.5" text-anchor="end" fill="#222">1,500</text>
<path d="M489.3 136.4v3.2" stroke="#7f7f7f" stroke-width="1"/>
<text x="489.3" y="148.1" font-size="7.5" text-anchor="middle" fill="#222">0</text>
<path d="M512.1 136.4v3.2" stroke="#7f7f7f" stroke-width="1"/>
<text x="512.1" y="148.1" font-size="7.5" text-anchor="middle" fill="#222">10</text>
<path d="M534.9 136.4v3.2" stroke="#7f7f7f" stroke-width="1"/>
<text x="534.9" y="148.1" font-size="7.5" text-anchor="middle" fill="#222">20</text>
<path d="M557.7 136.4v3.2" stroke="#7f7f7f" stroke-width="1"/>
<text x="557.7" y="148.1" font-size="7.5" text-anchor="middle" fill="#222">30</text>
<path d="M580.5 136.4v3.2" stroke="#7f7f7f" stroke-width="1"/>
<text x="580.5" y="148.1" font-size="7.5" text-anchor="middle" fill="#222">40</text>
<path d="M603.3 136.4v3.2" stroke="#7f7f7f" stroke-width="1"/>
<text x="603.3" y="148.1" font-size="7.5" text-anchor="middle" fill="#222">50</text>
<path d="M493.8 50H547.14" stroke="#222" stroke-width="0.7"/>
<path d="M491.8 50l4 -1.8v3.6z" fill="#222"/>
<path d="M549.14 50l-4 -1.8v3.6z" fill="#222"/>
<text x="520.47" y="46" font-size="7.4" text-anchor="middle" fill="#333">Dosing</text>
<text x="546.3" y="159.1" font-size="8.3" font-weight="bold" text-anchor="middle" fill="#000">Days post treatment initiation</text>
<text transform="translate(454.5 80.08) rotate(-90)" font-size="8.3" font-weight="bold" text-anchor="middle">Tumor volume (mm<tspan font-size="5.2" dy="-3">3</tspan><tspan dy="3">)</tspan></text>
<path d="M619.3 72.8H624.4V122.3H619.3" fill="none" stroke="#a9c963" stroke-width="1"/>
<text x="626.5" y="100" font-size="7.2" fill="#a9c963" class="ns">***</text>
<path d="M633.6 72.8H638.7V129.3H633.6" fill="none" stroke="#a9c963" stroke-width="1"/>
<text x="640.5" y="103.2" font-size="7.2" fill="#a9c963" class="ns">****</text>
<text x="605.7" y="113.3" font-size="7.2" fill="#2b6f94" class="ns">**</text>
<text x="605.7" y="124.3" font-size="7.2" fill="#e8604a" class="ns">****</text>
<text x="605.7" y="130.8" font-size="7.2" fill="#8c2d5c" class="ns">****</text>
<path d="M463.6 172.3h11" stroke="#7d736c" stroke-width="0.9" opacity="0.6"/>
<circle cx="469.1" cy="172.3" r="1.5" fill="#7d736c"/>
<text x="475.8" y="175" font-size="7.65" fill="#222">Vehicle</text>
<path d="M463.6 184.7h11" stroke="#a8d6e4" stroke-width="0.9" opacity="0.6"/>
<circle cx="469.1" cy="184.7" r="1.7" fill="#a8d6e4"/>
<text x="475.8" y="187.4" font-size="7.65" fill="#222">BLU-2256 1 mg/kg BID</text>
<path d="M463.6 198.1h11" stroke="#5da3c2" stroke-width="0.9" opacity="0.6"/>
<rect x="467.83" y="196.82" width="2.55" height="2.55" fill="#5da3c2"/>
<text x="475.8" y="200.8" font-size="7.65" fill="#222">BLU-2256 5 mg/kg BID</text>
<path d="M463.6 210.9h11" stroke="#2b6f94" stroke-width="0.9" opacity="0.6"/>
<path d="M469.1 209.19L467.45 212.04L470.75 212.04Z" fill="#2b6f94"/>
<text x="475.8" y="213.6" font-size="7.65" fill="#222">BLU-2256 10 mg/kg QD</text>
<path d="M564.7 172.3h11" stroke="#a9c963" stroke-width="0.9" opacity="0.6"/>
<circle cx="570.2" cy="172.3" r="1.6" fill="#a9c963"/>
<text x="576.6" y="175" font-size="7.65" fill="#222">Ribociclib 75 mg/kg QD</text>
<path d="M564.7 184.7h11" stroke="#e8604a" stroke-width="0.9" opacity="0.6"/>
<path d="M570.2 186.41L568.55 183.56L571.85 183.56Z" fill="#e8604a"/>
<text x="576.6" y="187.4" font-size="7.65" fill="#222">BLU-2256 5 mg/kg BID +</text>
<text x="576.6" y="196.9" font-size="7.65" fill="#222">ribociclib 75 mg/kg QD</text>
<path d="M564.7 204.5h11" stroke="#8c2d5c" stroke-width="0.9" opacity="0.6"/>
<path d="M570.2 206.21L568.55 203.36L571.85 203.36Z" fill="#8c2d5c"/>
<text x="576.6" y="207.2" font-size="7.65" fill="#222">BLU-2256 10 mg/kg QD +</text>
<text x="576.6" y="216.7" font-size="7.65" fill="#222">ribociclib 75 mg/kg QD</text>
<text x="67.3" y="15.4" font-size="9.7" font-weight="bold" fill="#000">MCF-7 parental</text>
<text x="287.7" y="15.4" font-size="9.7" font-weight="bold">MCF-7 palbociclib<tspan font-size="6" dy="-3.6">R</tspan></text>
<text x="502.6" y="15.4" font-size="9.7" font-weight="bold">MCF-7 palbociclib<tspan font-size="6" dy="-3.6">R</tspan></text>
<defs><filter id="bl" x="-20%" y="-100%" width="140%" height="300%"><feGaussianBlur stdDeviation="0.55 0.45"/></filter></defs>
<rect x="62.1" y="294.6" width="156.6" height="13" fill="#e3e3e3" stroke="#3a3a3a" stroke-width="0.9"/>
<g filter="url(#bl)"><rect x="63.69" y="300.8" width="16.4" height="2.4" rx="1.6" fill="#000" opacity="0.58"/><rect x="83.26" y="300.8" width="16.4" height="2.4" rx="1.6" fill="#000" opacity="0.63"/><rect x="102.84" y="299.3" width="16.4" height="5.4" rx="1.6" fill="#000" opacity="0.97"/><rect x="122.41" y="301" width="16.4" height="2" rx="1.6" fill="#000" opacity="0.48"/><rect x="141.99" y="301.1" width="16.4" height="1.8" rx="1.6" fill="#000" opacity="0.39"/><rect x="161.56" y="300" width="16.4" height="4" rx="1.6" fill="#000" opacity="0.92"/><rect x="181.14" y="300.4" width="16.4" height="3.2" rx="1.6" fill="#000" opacity="0.82"/><rect x="200.71" y="300.5" width="16.4" height="3" rx="1.6" fill="#000" opacity="0.82"/></g>
<text x="57.6" y="304" font-size="8.2" text-anchor="end" fill="#111">Cyclin E1</text>
<rect x="62.1" y="310.2" width="156.6" height="19.2" fill="#e3e3e3" stroke="#3a3a3a" stroke-width="0.9"/>
<g filter="url(#bl)"><rect x="63.69" y="319" width="16.4" height="3.6" rx="1.6" fill="#000" opacity="0.87"/><rect x="83.26" y="319.5" width="16.4" height="2.6" rx="1.6" fill="#000" opacity="0.53"/><rect x="102.84" y="319.8" width="16.4" height="2" rx="1.6" fill="#000" opacity="0.16"/><rect x="141.99" y="318.5" width="16.4" height="4.6" rx="1.6" fill="#000" opacity="0.97"/><rect x="161.56" y="318.3" width="16.4" height="5" rx="1.6" fill="#000" opacity="0.97"/><rect x="181.14" y="318.9" width="16.4" height="3.8" rx="1.6" fill="#000" opacity="0.97"/><rect x="200.71" y="318.8" width="16.4" height="4" rx="1.6" fill="#000" opacity="0.97"/></g>
<text x="57.6" y="322.7" font-size="8.2" text-anchor="end" fill="#111">Total Rb</text>
<rect x="62.1" y="332" width="156.6" height="19" fill="#e3e3e3" stroke="#3a3a3a" stroke-width="0.9"/>
<g filter="url(#bl)"><rect x="63.69" y="340" width="16.4" height="3.6" rx="1.6" fill="#000" opacity="0.87"/><rect x="83.26" y="340.5" width="16.4" height="2.6" rx="1.6" fill="#000" opacity="0.58"/><rect x="102.84" y="340.8" width="16.4" height="2" rx="1.6" fill="#000" opacity="0.13"/><rect x="141.99" y="339.7" width="16.4" height="4.2" rx="1.6" fill="#000" opacity="0.97"/><rect x="161.56" y="339.5" width="16.4" height="4.6" rx="1.6" fill="#000" opacity="0.97"/><rect x="181.14" y="340" width="16.4" height="3.6" rx="1.6" fill="#000" opacity="0.97"/><rect x="200.71" y="340" width="16.4" height="3.6" rx="1.6" fill="#000" opacity="0.97"/></g>
<text x="57.6" y="344.4" font-size="8.2" text-anchor="end" fill="#111">pRb S807/811</text>
<rect x="62.1" y="353.2" width="156.6" height="14.4" fill="#e3e3e3" stroke="#3a3a3a" stroke-width="0.9"/>
<g filter="url(#bl)"><rect x="63.69" y="359.2" width="16.4" height="2" rx="1.6" fill="#000" opacity="0.82"/><rect x="83.26" y="359.4" width="16.4" height="1.6" rx="1.6" fill="#000" opacity="0.29"/><rect x="102.84" y="359.2" width="16.4" height="2" rx="1.6" fill="#000" opacity="0.68"/><rect x="122.41" y="359.2" width="16.4" height="2" rx="1.6" fill="#000" opacity="0.63"/><rect x="141.99" y="359" width="16.4" height="2.4" rx="1.6" fill="#000" opacity="0.92"/><rect x="161.56" y="359.3" width="16.4" height="1.8" rx="1.6" fill="#000" opacity="0.44"/><rect x="181.14" y="359.3" width="16.4" height="1.8" rx="1.6" fill="#000" opacity="0.48"/><rect x="200.71" y="359.4" width="16.4" height="1.6" rx="1.6" fill="#000" opacity="0.44"/></g>
<g filter="url(#bl)"><rect x="64.09" y="362.5" width="15.6" height="1.4" fill="#000" opacity="0.59"/><rect x="83.66" y="362.5" width="15.6" height="1.4" fill="#000" opacity="0.21"/><rect x="103.24" y="362.5" width="15.6" height="1.4" fill="#000" opacity="0.49"/><rect x="122.81" y="362.5" width="15.6" height="1.4" fill="#000" opacity="0.45"/><rect x="142.39" y="362.5" width="15.6" height="1.4" fill="#000" opacity="0.66"/><rect x="161.96" y="362.5" width="15.6" height="1.4" fill="#000" opacity="0.32"/><rect x="181.54" y="362.5" width="15.6" height="1.4" fill="#000" opacity="0.35"/><rect x="201.11" y="362.5" width="15.6" height="1.4" fill="#000" opacity="0.32"/></g>
<text x="57.6" y="363.3" font-size="8.2" text-anchor="end" fill="#111">CDK2</text>
<rect x="62.1" y="371.1" width="156.6" height="13.5" fill="#e3e3e3" stroke="#3a3a3a" stroke-width="0.9"/>
<g filter="url(#bl)"><rect x="63.69" y="376.2" width="16.4" height="2.2" rx="1.6" fill="#000" opacity="0.82"/><rect x="83.26" y="376.3" width="16.4" height="2" rx="1.6" fill="#000" opacity="0.73"/><rect x="102.84" y="376.1" width="16.4" height="2.4" rx="1.6" fill="#000" opacity="0.87"/><rect x="122.41" y="376.3" width="16.4" height="2" rx="1.6" fill="#000" opacity="0.68"/><rect x="141.99" y="376.1" width="16.4" height="2.4" rx="1.6" fill="#000" opacity="0.87"/><rect x="161.56" y="376" width="16.4" height="2.6" rx="1.6" fill="#000" opacity="0.92"/><rect x="181.14" y="376.1" width="16.4" height="2.4" rx="1.6" fill="#000" opacity="0.87"/><rect x="200.71" y="376.2" width="16.4" height="2.2" rx="1.6" fill="#000" opacity="0.78"/></g>
<text x="57.6" y="380.75" font-size="8.2" text-anchor="end" fill="#111">CDK4</text>
<rect x="62.1" y="387.3" width="156.6" height="9.4" fill="#e3e3e3" stroke="#3a3a3a" stroke-width="0.9"/>
<g filter="url(#bl)"><rect x="63.69" y="391" width="16.4" height="1.6" rx="1.6" fill="#000" opacity="0.34"/><rect x="83.26" y="390.6" width="16.4" height="2.4" rx="1.6" fill="#000" opacity="0.58"/><rect x="102.84" y="390.4" width="16.4" height="2.8" rx="1.6" fill="#000" opacity="0.82"/><rect x="122.41" y="390.6" width="16.4" height="2.4" rx="1.6" fill="#000" opacity="0.58"/><rect x="141.99" y="390.3" width="16.4" height="3" rx="1.6" fill="#000" opacity="0.82"/><rect x="161.56" y="389.9" width="16.4" height="3.8" rx="1.6" fill="#000" opacity="0.97"/><rect x="181.14" y="389.9" width="16.4" height="3.8" rx="1.6" fill="#000" opacity="0.92"/><rect x="200.71" y="390.1" width="16.4" height="3.4" rx="1.6" fill="#000" opacity="0.92"/></g>
<text x="57.6" y="394.9" font-size="8.2" text-anchor="end" fill="#111">CDK6</text>
<rect x="62.1" y="399.8" width="156.6" height="15.7" fill="#e3e3e3" stroke="#3a3a3a" stroke-width="0.9"/>
<g filter="url(#bl)"><rect x="63.69" y="406.6" width="16.4" height="3.2" rx="1.6" fill="#000" opacity="0.97"/><rect x="83.26" y="406.8" width="16.4" height="2.8" rx="1.6" fill="#000" opacity="0.97"/><rect x="102.84" y="406.8" width="16.4" height="2.8" rx="1.6" fill="#000" opacity="0.97"/><rect x="122.41" y="406.8" width="16.4" height="2.8" rx="1.6" fill="#000" opacity="0.97"/><rect x="141.99" y="406.7" width="16.4" height="3" rx="1.6" fill="#000" opacity="0.97"/><rect x="161.56" y="406.7" width="16.4" height="3" rx="1.6" fill="#000" opacity="0.97"/><rect x="181.14" y="406.8" width="16.4" height="2.8" rx="1.6" fill="#000" opacity="0.97"/><rect x="200.71" y="406.8" width="16.4" height="2.8" rx="1.6" fill="#000" opacity="0.97"/></g>
<text x="57.6" y="410.55" font-size="8.2" text-anchor="end" fill="#111">β-actin</text>
<text x="107" y="243.1" font-size="9.7" font-weight="bold" text-anchor="middle" fill="#000">T-47D</text>
<text x="186.9" y="243.1" font-size="9.7" font-weight="bold" text-anchor="middle" fill="#000">MCF-7</text>
<path d="M63.7 246.3H147.7M152.2 246.3H229.2" stroke="#777" stroke-width="1"/>
<text transform="translate(72.19 290.6) rotate(-45)" font-size="8.2">Parental</text>
<text transform="translate(91.76 290.6) rotate(-45)" font-size="8.2">Ribociclib<tspan font-size="4.8" dy="-3">R</tspan></text>
<text transform="translate(111.34 290.6) rotate(-45)" font-size="8.2">Abemaciclib<tspan font-size="4.8" dy="-3">R</tspan></text>
<text transform="translate(130.91 290.6) rotate(-45)" font-size="8.2">Atirmociclib<tspan font-size="4.8" dy="-3">R</tspan></text>
<text transform="translate(150.49 290.6) rotate(-45)" font-size="8.2">Parental</text>
<text transform="translate(170.06 290.6) rotate(-45)" font-size="8.2">Ribociclib<tspan font-size="4.8" dy="-3">R</tspan></text>
<text transform="translate(189.64 290.6) rotate(-45)" font-size="8.2">Abemaciclib<tspan font-size="4.8" dy="-3">R</tspan></text>
<text transform="translate(209.21 290.6) rotate(-45)" font-size="8.2">Atirmociclib<tspan font-size="4.8" dy="-3">R</tspan></text>
<rect x="307.9" y="325.4" width="15.2" height="49.8" fill="#8a7f75"/>
<rect x="327" y="279.9" width="15.2" height="95.3" fill="#b4dd79"/>
<rect x="346.2" y="273.6" width="15.2" height="101.6" fill="#d79794"/>
<rect x="365.4" y="274.9" width="15.2" height="100.3" fill="#e2604d"/>
<rect x="384.6" y="321.2" width="15.2" height="54" fill="#8a7f75"/>
<rect x="403.6" y="300.9" width="15.2" height="74.3" fill="#b4dd79"/>
<rect x="422.8" y="308.3" width="15.2" height="66.9" fill="#d79794"/>
<rect x="442" y="296.5" width="15.2" height="78.7" fill="#e2604d"/>
<path d="M315.5 323.3V326.7M312.5 323.3h6M312.5 326.7h6" stroke="#111" stroke-width="0.8" fill="none"/>
<path d="M334.6 276.5V284.6M331.6 276.5h6M331.6 284.6h6" stroke="#111" stroke-width="0.8" fill="none"/>
<path d="M353.8 271.5V274.7M350.8 271.5h6M350.8 274.7h6" stroke="#111" stroke-width="0.8" fill="none"/>
<path d="M373 272V278.1M370 272h6M370 278.1h6" stroke="#111" stroke-width="0.8" fill="none"/>
<path d="M392.2 319.3V322.5M389.2 319.3h6M389.2 322.5h6" stroke="#111" stroke-width="0.8" fill="none"/>
<path d="M411.2 298.3V303M408.2 298.3h6M408.2 303h6" stroke="#111" stroke-width="0.8" fill="none"/>
<path d="M430.4 304.1V315.7M427.4 304.1h6M427.4 315.7h6" stroke="#111" stroke-width="0.8" fill="none"/>
<path d="M449.6 292.5V301.5M446.6 292.5h6M446.6 301.5h6" stroke="#111" stroke-width="0.8" fill="none"/>
<path d="M299.2 257.1V375.2H461" stroke="#333" stroke-width="0.9" fill="none"/>
<path d="M296.6 375.2h2.6" stroke="#333" stroke-width="0.9"/>
<text x="294.6" y="377.8" font-size="7.3" text-anchor="end" fill="#222">1</text>
<path d="M296.6 351.58h2.6" stroke="#333" stroke-width="0.9"/>
<text x="294.6" y="354.18" font-size="7.3" text-anchor="end" fill="#222">10</text>
<path d="M296.6 327.96h2.6" stroke="#333" stroke-width="0.9"/>
<text x="294.6" y="330.56" font-size="7.3" text-anchor="end" fill="#222">100</text>
<path d="M296.6 304.34h2.6" stroke="#333" stroke-width="0.9"/>
<text x="294.6" y="306.94" font-size="7.3" text-anchor="end" fill="#222">1,000</text>
<path d="M296.6 280.72h2.6" stroke="#333" stroke-width="0.9"/>
<text x="294.6" y="283.32" font-size="7.3" text-anchor="end" fill="#222">10,000</text>
<path d="M296.6 257.1h2.6" stroke="#333" stroke-width="0.9"/>
<text x="294.6" y="259.7" font-size="7.3" text-anchor="end" fill="#222">100,000</text>
<path d="M315.5 375.2v2.6" stroke="#333" stroke-width="0.9"/>
<text transform="translate(319.1 384.6) rotate(-45)" font-size="7.6" text-anchor="end" fill="#222">Parental</text>
<path d="M334.6 375.2v2.6" stroke="#333" stroke-width="0.9"/>
<text transform="translate(338.2 384.6) rotate(-45)" font-size="7.6" text-anchor="end" fill="#222">Ribociclib<tspan font-size="4.4" dy="-2.6">R</tspan></text>
<path d="M353.8 375.2v2.6" stroke="#333" stroke-width="0.9"/>
<text transform="translate(357.4 384.6) rotate(-45)" font-size="7.6" text-anchor="end" fill="#222">Abemaciclib<tspan font-size="4.4" dy="-2.6">R</tspan></text>
<path d="M373 375.2v2.6" stroke="#333" stroke-width="0.9"/>
<text transform="translate(376.6 384.6) rotate(-45)" font-size="7.6" text-anchor="end" fill="#222">Atirmociclib<tspan font-size="4.4" dy="-2.6">R</tspan></text>
<path d="M392.2 375.2v2.6" stroke="#333" stroke-width="0.9"/>
<text transform="translate(395.8 384.6) rotate(-45)" font-size="7.6" text-anchor="end" fill="#222">Parental</text>
<path d="M411.2 375.2v2.6" stroke="#333" stroke-width="0.9"/>
<text transform="translate(414.8 384.6) rotate(-45)" font-size="7.6" text-anchor="end" fill="#222">Ribociclib<tspan font-size="4.4" dy="-2.6">R</tspan></text>
<path d="M430.4 375.2v2.6" stroke="#333" stroke-width="0.9"/>
<text transform="translate(434 384.6) rotate(-45)" font-size="7.6" text-anchor="end" fill="#222">Abemaciclib<tspan font-size="4.4" dy="-2.6">R</tspan></text>
<path d="M449.6 375.2v2.6" stroke="#333" stroke-width="0.9"/>
<text transform="translate(453.2 384.6) rotate(-45)" font-size="7.6" text-anchor="end" fill="#222">Atirmociclib<tspan font-size="4.4" dy="-2.6">R</tspan></text>
<text x="344.4" y="260.3" font-size="9.7" font-weight="bold" text-anchor="middle" fill="#000">T-47D</text>
<text x="418.9" y="260.3" font-size="9.7" font-weight="bold" text-anchor="middle" fill="#000">MCF-7</text>
<path d="M309.2 264.4H376.2M384.6 264.4H451.6" stroke="#333" stroke-width="1"/>
<text transform="translate(266.3 316.4) rotate(-90)" font-size="7.6" font-weight="bold" text-anchor="middle">Ribociclib IC<tspan font-size="4.6" dy="1.6">50</tspan><tspan dy="-1.6"> (nM)</tspan></text>
<rect x="520.6" y="293.8" width="15.2" height="81.6" fill="#8a7f75"/>
<rect x="539.7" y="285.2" width="15.2" height="90.2" fill="#b4dd79"/>
<rect x="559" y="293.8" width="15.2" height="81.6" fill="#d79794"/>
<rect x="578.2" y="287" width="15.2" height="88.4" fill="#e2604d"/>
<rect x="597.4" y="297.3" width="15.2" height="78.1" fill="#8a7f75"/>
<rect x="616.3" y="295.7" width="15.2" height="79.7" fill="#b4dd79"/>
<rect x="635.5" y="282.4" width="15.2" height="93" fill="#d79794"/>
<rect x="654.7" y="292.9" width="15.2" height="82.5" fill="#e2604d"/>
<path d="M528.2 292.3V295.7M525.2 292.3h6M525.2 295.7h6" stroke="#111" stroke-width="0.8" fill="none"/>
<path d="M547.3 283.3V287M544.3 283.3h6M544.3 287h6" stroke="#111" stroke-width="0.8" fill="none"/>
<path d="M566.6 292.5V294.9M563.6 292.5h6M563.6 294.9h6" stroke="#111" stroke-width="0.8" fill="none"/>
<path d="M585.8 285.2V288.5M582.8 285.2h6M582.8 288.5h6" stroke="#111" stroke-width="0.8" fill="none"/>
<path d="M605 295.4V299M602 295.4h6M602 299h6" stroke="#111" stroke-width="0.8" fill="none"/>
<path d="M623.9 294V296.6M620.9 294h6M620.9 296.6h6" stroke="#111" stroke-width="0.8" fill="none"/>
<path d="M643.1 280.3V283.4M640.1 280.3h6M640.1 283.4h6" stroke="#111" stroke-width="0.8" fill="none"/>
<path d="M512.3 258V375.4H678" stroke="#333" stroke-width="0.9" fill="none"/>
<path d="M509.7 375.4h2.6" stroke="#333" stroke-width="0.9"/>
<text x="507.7" y="378" font-size="7.3" text-anchor="end" fill="#222">1</text>
<path d="M509.7 346.05h2.6" stroke="#333" stroke-width="0.9"/>
<text x="507.7" y="348.65" font-size="7.3" text-anchor="end" fill="#222">10</text>
<path d="M509.7 316.7h2.6" stroke="#333" stroke-width="0.9"/>
<text x="507.7" y="319.3" font-size="7.3" text-anchor="end" fill="#222">100</text>
<path d="M509.7 287.35h2.6" stroke="#333" stroke-width="0.9"/>
<text x="507.7" y="289.95" font-size="7.3" text-anchor="end" fill="#222">1,000</text>
<path d="M509.7 258h2.6" stroke="#333" stroke-width="0.9"/>
<text x="507.7" y="260.6" font-size="7.3" text-anchor="end" fill="#222">10,000</text>
<path d="M528.2 375.4v2.6" stroke="#333" stroke-width="0.9"/>
<text transform="translate(531.8 384.8) rotate(-45)" font-size="7.6" text-anchor="end" fill="#222">Parental</text>
<path d="M547.3 375.4v2.6" stroke="#333" stroke-width="0.9"/>
<text transform="translate(550.9 384.8) rotate(-45)" font-size="7.6" text-anchor="end" fill="#222">Ribociclib<tspan font-size="4.4" dy="-2.6">R</tspan></text>
<path d="M566.6 375.4v2.6" stroke="#333" stroke-width="0.9"/>
<text transform="translate(570.2 384.8) rotate(-45)" font-size="7.6" text-anchor="end" fill="#222">Abemaciclib<tspan font-size="4.4" dy="-2.6">R</tspan></text>
<path d="M585.8 375.4v2.6" stroke="#333" stroke-width="0.9"/>
<text transform="translate(589.4 384.8) rotate(-45)" font-size="7.6" text-anchor="end" fill="#222">Atirmociclib<tspan font-size="4.4" dy="-2.6">R</tspan></text>
<path d="M605 375.4v2.6" stroke="#333" stroke-width="0.9"/>
<text transform="translate(608.6 384.8) rotate(-45)" font-size="7.6" text-anchor="end" fill="#222">Parental</text>
<path d="M623.9 375.4v2.6" stroke="#333" stroke-width="0.9"/>
<text transform="translate(627.5 384.8) rotate(-45)" font-size="7.6" text-anchor="end" fill="#222">Ribociclib<tspan font-size="4.4" dy="-2.6">R</tspan></text>
<path d="M643.1 375.4v2.6" stroke="#333" stroke-width="0.9"/>
<text transform="translate(646.7 384.8) rotate(-45)" font-size="7.6" text-anchor="end" fill="#222">Abemaciclib<tspan font-size="4.4" dy="-2.6">R</tspan></text>
<path d="M662.3 375.4v2.6" stroke="#333" stroke-width="0.9"/>
<text transform="translate(665.9 384.8) rotate(-45)" font-size="7.6" text-anchor="end" fill="#222">Atirmociclib<tspan font-size="4.4" dy="-2.6">R</tspan></text>
<text x="555.5" y="261" font-size="9.7" font-weight="bold" text-anchor="middle" fill="#000">T-47D</text>
<text x="631.3" y="261" font-size="9.7" font-weight="bold" text-anchor="middle" fill="#000">MCF-7</text>
<path d="M522 264.6H589M597.4 264.6H664.3" stroke="#888" stroke-width="1"/>
<text transform="translate(483.3 316.5) rotate(-90)" font-size="7.6" font-weight="bold" text-anchor="middle">BLU-222 IC<tspan font-size="4.6" dy="1.6">50</tspan><tspan dy="-1.6"> (nM)</tspan></text>
<text x="336.2" y="440.8" font-size="11" font-weight="bold" text-anchor="middle" fill="#000">T-47D</text>
<text x="336.3" y="672.8" font-size="10.8" font-weight="bold" text-anchor="middle" fill="#000">MCF-7</text>
<g stroke="#333" stroke-width="0.5"><line x1="20.57" y1="508.08" x2="100.94" y2="486.87"/><line x1="100.94" y1="486.87" x2="152.6" y2="526.36"/><line x1="20.57" y1="508.08" x2="27.03" y2="582.83"/><line x1="152.6" y1="526.36" x2="145.48" y2="603.35"/><line x1="27.03" y1="582.83" x2="66.76" y2="633.6"/><line x1="66.76" y1="633.6" x2="145.48" y2="603.35"/><line x1="20.57" y1="508.08" x2="64.42" y2="554.06"/><line x1="152.6" y1="526.36" x2="64.42" y2="554.06"/><line x1="64.42" y1="554.06" x2="66.76" y2="633.6"/><line x1="100.94" y1="486.87" x2="99.46" y2="559.04" stroke-dasharray="1 1.2"/><line x1="27.03" y1="582.83" x2="99.46" y2="559.04" stroke-dasharray="1 1.2"/><line x1="99.46" y1="559.04" x2="145.48" y2="603.35" stroke-dasharray="1 1.2"/></g>
<g transform="scale(0.25)" stroke="#000" stroke-width="1.68" stroke-linejoin="round"><path class="a" d="M398 2071l8 0-5-8-8 3zm5 7l8 2-5-9-8 0zm5 7l8 3-5-8-8-2zm5 5l8 2-5-4-8-3z"/><path class="b" d="M418 2095l8-2-5-1-8-2zm5 5l8-3-5-4-8 2zm5 7l8-3-5-7-8 3z"/><path class="c" d="M432 2114l9 1-5-11-8 3zm5 9l8 2-4-10-9-1zm5 6l8 2-5-6-8-2zm6 5l8-2-6-1-8-2zm5 1l8-5-5 2-8 2zm5 2l9-7-6 0-8 5zm6 2l8-5-5-4-9 7zm5 5l8-2-5-8-8 5zm5 7l8 1-5-10-8 2zm5 7l8 1-5-7-8-1zm6 6l8-1-6-4-8-1zm5 4l8-3-5-2-8 1zm6 4l8-4-6-3-8 3zm5 5l8-3-5-6-8 4zm6 6l8-1-6-8-8 3zm5 8l8 0-5-9-8 1zm5 6l9-1-6-5-8 0zm6 5l9-3-6-3-9 1zm6 3l8-4-5-2-9 3z"/><path class="d" d="M535 2208l8-3-6-4-8 4zm5 7l9-3-6-7-8 3z"/><path class="e" d="M546 2223l8-2-5-9-9 3zm6 8l8-3-6-7-8 2z"/><path class="d" d="M557 2237l9-4-6-5-8 3zm6 5l9-7-6-2-9 4zm7 3l8-6-6-4-9 7zm6 5l8-3-6-8-8 6z"/><path class="e" d="M581 2262l9-3-6-12-8 3zm6 9l8-3-5-9-9 3z"/><path class="a" d="M390 2072l8-1-5-5-8 5zm5 2l8 4-5-7-8 1zm5 6l8 5-5-7-8-4zm5 8l8 2-5-5-8-5zm5 9l8-2-5-5-8-2z"/><path class="b" d="M414 2105l9-5-5-5-8 2zm5 5l9-3-5-7-9 5z"/><path class="c" d="M424 2115l8-1-4-7-9 3zm5 5l8 3-5-9-8 1zm5 7l8 2-5-6-8-3zm5 7l9 0-6-5-8-2zm6 6l8-5-5-1-9 0zm5 4l8-7-5-2-8 5zm5 1l9-6-6-2-8 7zm6 2l8-3-5-5-9 6zm5 4l8 0-5-7-8 3zm5 6l8 1-5-7-8 0zm5 7l9 0-6-6-8-1zm6 7l8-3-5-4-9 0zm5 5l9-4-6-4-8 3zm6 4l8-3-5-5-9 4zm5 4l9-1-6-6-8 3zm6 6l8 1-5-8-9 1zm5 7l8 0-5-6-8-1zm6 6l8-1-6-5-8 0zm5 6l9-4-6-3-8 1z"/><path class="d" d="M526 2214l9-6-6-3-9 4zm6 5l8-4-5-7-9 6z"/><path class="e" d="M537 2226l9-3-6-8-8 4zm6 7l9-2-6-8-9 3z"/><path class="d" d="M549 2240l8-3-5-6-9 2zm6 6l8-4-6-5-8 3zm6 4l9-5-7-3-8 4zm6 5l9-5-6-5-9 5z"/><path class="e" d="M572 2265l9-3-5-12-9 5zm6 9l9-3-6-9-9 3z"/><path class="a" d="M382 2072l8 0-5-1-8 2z"/><path class="f" d="M387 2072l8 2-5-2-8 0zm5 5l8 3-5-6-8-2z"/><path class="a" d="M397 2086l8 2-5-8-8-3zm4 11l9 0-5-9-8-2z"/><path class="b" d="M406 2107l8-2-4-8-9 0zm5 6l8-3-5-5-8 2zm5 3l8-1-5-5-8 3z"/><path class="c" d="M421 2119l8 1-5-5-8 1zm5 6l8 2-5-7-8-1zm5 9l8 0-5-7-8-2zm5 8l9-2-6-6-8 0zm5 6l9-4-5-4-9 2zm6 2l8-5-5-1-9 4zm5 1l9-4-6-2-8 5zm6 1l8-1-5-4-9 4zm5 5l8 0-5-6-8 1zm5 7l8 0-5-7-8 0zm5 8l9-1-6-7-8 0zm6 6l8-2-5-5-9 1zm5 4l9-2-6-4-8 2zm6 3l8-1-5-4-9 2zm5 5l9 0-6-6-8 1zm6 7l8 0-5-7-9 0zm5 7l9-1-6-6-8 0zm6 8l8-3-5-6-9 1z"/><path class="d" d="M517 2219l9-5-6-5-8 3zm6 6l9-6-6-5-9 5z"/><path class="e" d="M529 2231l8-5-5-7-9 6zm6 5l8-3-6-7-8 5z"/><path class="d" d="M540 2242l9-2-6-7-8 3zm6 6l9-2-6-6-9 2zm6 5l9-3-6-4-9 2zm6 5l9-3-6-5-9 3z"/><path class="e" d="M564 2268l8-3-5-10-9 3zm6 9l8-3-6-9-8 3z"/><path class="f" d="M374 2071l8 1-5 1-8 0zm5 1l8 0-5 0-8-1zm5 4l8 1-5-5-8 0zm4 9l9 1-5-9-8-1z"/><path class="a" d="M393 2096l8 1-4-11-9-1zm5 10l8 1-5-10-8-1z"/><path class="b" d="M403 2113l8 0-5-6-8-1zm5 5l8-2-5-3-8 0zm5 4l8-3-5-3-8 2z"/><path class="c" d="M418 2127l8-2-5-6-8 3zm5 7l8 0-5-9-8 2zm5 8l8 0-5-8-8 0zm5 7l8-1-5-6-8 0zm5 4l9-3-6-2-8 1zm6 2l8-4-5-1-9 3zm5 2l9-5-6-1-8 4zm5 3l9-3-5-5-9 5zm6 5l8-1-5-7-9 3zm5 6l8 1-5-8-8 1zm5 7l9 0-6-6-8-1zm6 5l8-1-5-4-9 0zm5 4l9-2-6-3-8 1zm6 4l8-1-5-5-9 2zm5 6l9 0-6-7-8 1zm6 7l8 0-5-7-9 0zm5 9l9-1-6-8-8 0z"/><path class="d" d="M509 2223l8-4-5-7-9 1zm5 9l9-7-6-6-8 4z"/><path class="e" d="M520 2238l9-7-6-6-9 7zm6 4l9-6-6-5-9 7z"/><path class="d" d="M532 2244l8-2-5-6-9 6zm6 4l8 0-6-6-8 2zm6 5l8 0-6-5-8 0zm5 8l9-3-6-5-8 0z"/><path class="e" d="M555 2271l9-3-6-10-9 3zm6 9l9-3-6-9-9 3z"/><path class="f" d="M366 2071l8 0-5 2-8-2zm5 1l8 0-5-1-8 0zm4 5l9-1-5-4-8 0zm5 7l8 1-4-9-9 1zm5 9l8 3-5-11-8-1z"/><path class="a" d="M390 2103l8 3-5-10-8-3z"/><path class="b" d="M395 2113l8 0-5-7-8-3zm5 8l8-3-5-5-8 0zm5 5l8-4-5-4-8 3zm5 4l8-3-5-5-8 4z"/><path class="c" d="M415 2135l8-1-5-7-8 3zm5 5l8 2-5-8-8 1zm5 7l8 2-5-7-8-2zm5 7l8-1-5-4-8-2z"/><path class="b" d="M435 2159l9-4-6-2-8 1zm6 3l8-5-5-2-9 4zm5 2l8-4-5-3-8 5zm5 2l9-1-6-5-8 4zm6 4l8 1-5-6-9 1z"/><path class="c" d="M462 2176l8 2-5-7-8-1zm6 7l8 0-6-5-8-2zm5 6l8-2-5-4-8 0zm5 5l9-3-6-4-8 2zm6 4l8-1-5-6-9 3zm6 6l8 0-6-7-8 1zm5 10l8-1-5-9-8 0z"/><path class="d" d="M500 2226l9-3-6-10-8 1zm5 12l9-6-5-9-9 3z"/><path class="e" d="M511 2246l9-8-6-6-9 6zm6 1l9-5-6-4-9 8z"/><path class="d" d="M523 2246l9-2-6-2-9 5zm6 0l9 2-6-4-9 2zm6 6l9 1-6-5-9-2zm6 11l8-2-5-8-9-1z"/><path class="e" d="M546 2275l9-4-6-10-8 2zm6 8l9-3-6-9-9 4z"/><path class="g" d="M358 2070l8 1-5 0-8-2zm4 3l9-1-5-1-8-1zm5 4l8 0-4-5-9 1z"/><path class="f" d="M372 2083l8 1-5-7-8 0zm5 8l8 2-5-9-8-1z"/><path class="a" d="M382 2101l8 2-5-10-8-2zm5 12l8 0-5-10-8-2z"/><path class="b" d="M391 2123l9-2-5-8-8 0zm5 7l9-4-5-5-9 2zm5 3l9-3-5-4-9 4zm6 3l8-1-5-5-9 3zm5 3l8 1-5-5-8 1zm5 7l8 1-5-7-8-1zm5 8l8 0-5-7-8-1zm5 8l8-3-5-5-8 0zm5 4l9-4-6-3-8 3zm6 1l8-3-5-2-9 4zm5 1l8-2-5-2-8 3zm5 2l9 0-6-4-8 2zm6 6l8 0-5-6-9 0zm5 7l9 0-6-7-8 0zm5 7l9-1-5-6-9 0z"/><path class="c" d="M470 2195l8-1-5-5-9 1zm6 4l8-1-6-4-8 1zm5 6l9-1-6-6-8 1zm5 10l9-1-5-10-9 1z"/><path class="d" d="M492 2229l8-3-5-12-9 1zm5 15l8-6-5-12-8 3z"/><path class="e" d="M502 2252l9-6-6-8-8 6zm6 0l9-5-6-1-9 6z"/><path class="d" d="M515 2247l8-1-6 1-9 5zm6-2l8 1-6 0-8 1zm6 7l8 0-6-6-8-1zm5 13l9-2-6-11-8 0z"/><path class="e" d="M538 2278l8-3-5-12-9 2zm5 8l9-3-6-8-8 3z"/><path class="g" d="M349 2069l9 1-5-1-8 0zm5 2l8 2-4-3-9-1zm5 4l8 2-5-4-8-2zm5 7l8 1-5-6-8-2z"/><path class="f" d="M369 2091l8 0-5-8-8-1zm4 11l9-1-5-10-8 0z"/><path class="a" d="M378 2114l9-1-5-12-9 1z"/><path class="b" d="M383 2124l8-1-4-10-9 1zm5 7l8-1-5-7-8 1zm5 3l8-1-5-3-8 1zm5 2l9 0-6-3-8 1zm5 4l9-1-5-3-9 0zm5 6l9 0-5-7-9 1zm5 8l9 0-5-8-9 0zm6 8l8 0-5-8-9 0zm5 4l8 0-5-4-8 0zm5 2l9-1-6-1-8 0zm5 1l9-1-5-1-9 1zm6 3l8-2-5-2-9 1zm5 5l9-1-6-6-8 2zm6 8l8-2-5-7-9 1zm5 6l8-1-5-7-8 2zm5 5l9-1-6-5-8 1z"/><path class="c" d="M467 2200l9-1-6-4-9 1zm5 6l9-1-5-6-9 1zm6 12l8-3-5-10-9 1z"/><path class="d" d="M483 2233l9-4-6-14-8 3zm5 15l9-4-5-15-9 4z"/><path class="e" d="M494 2256l8-4-5-8-9 4zm6-2l8-2-6 0-8 4z"/><path class="d" d="M506 2248l9-1-7 5-8 2zm6-2l9-1-6 2-9 1zm6 8l9-2-6-7-9 1zm5 14l9-3-5-13-9 2z"/><path class="e" d="M529 2282l9-4-6-13-9 3zm6 7l8-3-5-8-9 4z"/><path class="g" d="M341 2068l8 1-4 0-9 2z"/><path class="h" d="M346 2068l8 3-5-2-8-1zm5 4l8 3-5-4-8-3z"/><path class="g" d="M355 2081l9 1-5-7-8-3zm5 12l9-2-5-9-9-1z"/><path class="f" d="M365 2105l8-3-4-11-9 2z"/><path class="a" d="M370 2116l8-2-5-12-8 3zm5 8l8 0-5-10-8 2z"/><path class="b" d="M380 2130l8 1-5-7-8 0zm5 3l8 1-5-3-8-1zm5 4l8-1-5-2-8-1zm5 5l8-2-5-4-8 1zm5 6l8-2-5-6-8 2zm5 6l8 0-5-8-8 2zm5 5l9 3-6-8-8 0zm5 3l9 4-5-4-9-3zm6 3l8 3-5-2-9-4zm5 4l8 0-5-1-8-3zm5 6l9-3-6-3-8 0zm6 6l8-4-5-5-9 3zm5 5l9-1-6-8-8 4zm5 5l9 0-5-6-9 1zm6 3l8 2-5-5-9 0zm5 6l9 0-6-4-8-2z"/><path class="c" d="M464 2209l8-3-5-6-9 0zm5 13l9-4-6-12-8 3z"/><path class="d" d="M474 2238l9-5-5-15-9 4zm5 13l9-3-5-15-9 5z"/><path class="e" d="M485 2256l9 0-6-8-9 3zm6-2l9 0-6 2-9 0z"/><path class="d" d="M497 2250l9-2-6 6-9 0zm6 0l9-4-6 2-9 2zm6 8l9-4-6-8-9 4zm5 14l9-4-5-14-9 4z"/><path class="e" d="M520 2285l9-3-6-14-9 4zm6 7l9-3-6-7-9 3z"/><path class="h" d="M333 2067l8 1-5 3-8 2zm4-2l9 3-5 0-8-1zm5 4l9 3-5-4-9-3zm5 12l8 0-4-9-9-3z"/><path class="g" d="M352 2096l8-3-5-12-8 0z"/><path class="f" d="M357 2109l8-4-5-12-8 3z"/><path class="a" d="M362 2118l8-2-5-11-8 4zm4 6l9 0-5-8-8 2zm5 3l9 3-5-6-9 0z"/><path class="b" d="M376 2131l9 2-5-3-9-3zm5 7l9-1-5-4-9-2zm5 6l9-2-5-5-9 1z"/><path class="a" d="M391 2150l9-2-5-6-9 2zm6 3l8 1-5-6-9 2zm5 1l8 5-5-5-8-1zm5 2l8 6-5-3-8-5zm5 5l9 4-6-3-8-6zm5 8l9 0-5-4-9-4zm6 8l8-2-5-6-9 0zm5 7l9-3-6-6-8 2z"/><path class="b" d="M433 2188l9-2-5-5-9 3zm6 2l8 1-5-5-9 2zm5 4l9 0-6-3-8-1zm6 7l8-1-5-6-9 0zm5 11l9-3-6-9-8 1z"/><path class="c" d="M460 2226l9-4-5-13-9 3zm5 14l9-2-5-16-9 4z"/><path class="d" d="M471 2251l8 0-5-13-9 2z"/><path class="e" d="M476 2255l9 1-6-5-8 0zm6-1l9 0-6 2-9-1z"/><path class="d" d="M488 2253l9-3-6 4-9 0zm6 3l9-6-6 0-9 3zm6 8l9-6-6-8-9 6zm6 12l8-4-5-14-9 6z"/><path class="e" d="M511 2288l9-3-6-13-8 4zm6 8l9-4-6-7-9 3z"/><path class="h" d="M324 2066l9 1-5 6-8-1zm5-2l8 1-4 2-9-1zm5 6l8-1-5-4-8-1zm5 12l8-1-5-12-8 1z"/><path class="g" d="M343 2097l9-1-5-15-8 1z"/><path class="f" d="M348 2110l9-1-5-13-9 1zm5 8l9 0-5-9-9 1z"/><path class="a" d="M358 2123l8 1-4-6-9 0zm5 3l8 1-5-3-8-1zm5 5l8 0-5-4-8-1zm5 7l8 0-5-7-8 0zm5 6l8 0-5-6-8 0zm5 4l8 2-5-6-8 0zm5 1l9 4-6-3-8-2zm5-1l9 6-5-1-9-4zm6 2l8 6-5-2-9-6zm5 7l8 4-5-5-8-6zm5 10l8 2-5-8-8-4zm5 10l9 0-6-8-8-2zm5 7l9 0-5-7-9 0zm6 3l8 1-5-4-9 0zm5 3l9 0-6-2-8-1z"/><path class="b" d="M436 2196l8-2-5-4-9 0zm5 8l9-3-6-7-8 2zm5 12l9-4-5-11-9 3z"/><path class="c" d="M451 2228l9-2-5-14-9 4zm6 12l8 0-5-14-9 2z"/><path class="d" d="M462 2248l9 3-6-11-8 0z"/><path class="e" d="M468 2253l8 2-5-4-9-3zm6 2l8-1-6 1-8-2z"/><path class="d" d="M480 2258l8-5-6 1-8 1zm5 5l9-7-6-3-8 5zm6 7l9-6-6-8-9 7zm6 9l9-3-6-12-9 6z"/><path class="e" d="M502 2290l9-2-5-12-9 3zm6 9l9-3-6-8-9 2z"/><path class="h" d="M316 2066l8 0-4 6-9-3z"/><path class="i" d="M321 2067l8-3-5 2-8 0zm4 7l9-4-5-6-8 3z"/><path class="h" d="M330 2085l9-3-5-12-9 4zm5 12l8 0-4-15-9 3z"/><path class="g" d="M340 2108l8 2-5-13-8 0z"/><path class="f" d="M345 2116l8 2-5-8-8-2z"/><path class="a" d="M350 2122l8 1-5-5-8-2zm4 5l9-1-5-3-8-1zm5 5l9-1-5-5-9 1zm5 5l9 1-5-7-9 1zm5 4l9 3-5-6-9-1z"/><path class="f" d="M375 2142l8 6-5-4-9-3zm5-1l8 8-5-1-8-6zm5 1l8 6-5 1-8-8zm5 4l9 4-6-2-8-6zm5 7l9 4-5-7-9-4zm5 10l9 4-5-10-9-4zm6 9l8 5-5-10-9-4zm5 7l8 5-5-7-8-5z"/><path class="a" d="M416 2185l9 2-6-3-8-5zm6 6l8-1-5-3-9-2zm5 9l9-4-6-6-8 1z"/><path class="b" d="M432 2209l9-5-5-8-9 4zm5 10l9-3-5-12-9 5zm6 9l8 0-5-12-9 3z"/><path class="c" d="M448 2237l9 3-6-12-8 0z"/><path class="d" d="M454 2245l8 3-5-8-9-3z"/><path class="e" d="M459 2252l9 1-6-5-8-3zm6 6l9-3-6-2-9-1z"/><path class="d" d="M471 2264l9-6-6-3-9 3zm5 5l9-6-5-5-9 6zm6 5l9-4-6-7-9 6zm6 7l9-2-6-9-9 4z"/><path class="e" d="M493 2292l9-2-5-11-9 2zm6 10l9-3-6-9-9 2z"/><path class="h" d="M307 2066l9 0-5 3-8-5z"/><path class="i" d="M312 2071l9-4-5-1-9 0zm5 8l8-5-4-7-9 4zm5 9l8-3-5-11-8 5z"/><path class="h" d="M326 2096l9 1-5-12-8 3z"/><path class="g" d="M331 2104l9 4-5-11-9-1z"/><path class="f" d="M336 2113l9 3-5-8-9-4zm5 9l9 0-5-6-9-3zm5 8l8-3-4-5-9 0zm5 4l8-2-5-5-8 3zm5 1l8 2-5-5-8 2zm5-1l8 7-5-4-8-2z"/><path class="g" d="M366 2131l9 11-6-1-8-7zm5 0l9 10-5 1-9-11zm5 4l9 7-5-1-9-10zm5 7l9 4-5-4-9-7zm6 7l8 4-5-7-9-4zm5 8l8 6-5-10-8-4zm5 7l9 8-6-9-8-6z"/><path class="f" d="M402 2171l9 8-5-7-9-8zm6 10l8 4-5-6-9-8zm5 11l9-1-6-6-8-4z"/><path class="a" d="M418 2204l9-4-5-9-9 1zm5 10l9-5-5-9-9 4z"/><path class="b" d="M429 2221l8-2-5-10-9 5zm5 5l9 2-6-9-8 2z"/><path class="c" d="M440 2233l8 4-5-9-9-2z"/><path class="d" d="M445 2243l9 2-6-8-8-4zm5 11l9-2-5-7-9-2z"/><path class="e" d="M456 2263l9-5-6-6-9 2z"/><path class="d" d="M461 2270l10-6-6-6-9 5zm6 4l9-5-5-5-10 6z"/><path class="c" d="M473 2276l9-2-6-5-9 5z"/><path class="d" d="M479 2282l9-1-6-7-9 2z"/><path class="e" d="M484 2295l9-3-5-11-9 1zm6 10l9-3-6-10-9 3z"/><path class="i" d="M299 2066l8 0-4-2-9-4zm5 9l8-4-5-5-8 0zm4 9l9-5-5-8-8 4zm5 6l9-2-5-9-9 5z"/><path class="h" d="M318 2095l8 1-4-8-9 2z"/><path class="g" d="M323 2101l8 3-5-8-8-1zm5 10l8 2-5-9-8-3z"/><path class="f" d="M332 2122l9 0-5-9-8-2zm5 9l9-1-5-8-9 0zm5 3l9 0-5-4-9 1z"/><path class="g" d="M347 2131l9 4-5-1-9 0zm5-6l9 9-5 1-9-4z"/><path class="h" d="M357 2120l9 11-5 3-9-9zm5 1l9 10-5 0-9-11zm6 6l8 8-5-4-9-10zm5 9l8 6-5-7-8-8zm5 7l9 6-6-7-8-6zm5 5l9 9-5-8-9-6zm5 6l9 10-5-7-9-9z"/><path class="g" d="M394 2162l8 9-5-7-9-10zm5 14l9 5-6-10-8-9z"/><path class="f" d="M404 2192l9 0-5-11-9-5zm5 15l9-3-5-12-9 0z"/><path class="a" d="M414 2217l9-3-5-10-9 3zm6 5l9-1-6-7-9 3z"/><path class="b" d="M425 2225l9 1-5-5-9 1z"/><path class="c" d="M431 2232l9 1-6-7-9-1z"/><path class="d" d="M436 2243l9 0-5-10-9-1zm6 13l8-2-5-11-9 0zm5 11l9-4-6-9-8 2zm6 7l8-4-5-7-9 4zm5 2l9-2-6-4-8 4z"/><path class="c" d="M464 2278l9-2-6-2-9 2z"/><path class="d" d="M470 2284l9-2-6-6-9 2z"/><path class="e" d="M475 2298l9-3-5-13-9 2zm6 10l9-3-6-10-9 3z"/><path class="i" d="M290 2066l9 0-5-6-8 0zm5 9l9 0-5-9-9 0zm5 9l8 0-4-9-9 0zm5 7l8-1-5-6-8 0z"/><path class="h" d="M309 2096l9-1-5-5-8 1zm5 6l9-1-5-6-9 1z"/><path class="g" d="M319 2111l9 0-5-10-9 1zm5 11l8 0-4-11-9 0zm5 7l8 2-5-9-8 0zm5 1l8 4-5-3-8-2zm5-5l8 6-5 3-8-4z"/><path class="h" d="M344 2116l8 9-5 6-8-6z"/><path class="i" d="M349 2111l8 9-5 5-8-9zm5 1l8 9-5-1-8-9z"/><path class="j" d="M359 2118l9 9-6-6-8-9zm5 8l9 10-5-9-9-9zm5 7l9 10-5-7-9-10zm5 6l9 9-5-5-9-10z"/><path class="i" d="M380 2145l8 9-5-6-9-9z"/><path class="h" d="M385 2156l9 6-6-8-8-9zm5 15l9 5-5-14-9-6z"/><path class="g" d="M395 2189l9 3-5-16-9-5z"/><path class="f" d="M400 2205l9 2-5-15-9-3zm6 11l8 1-5-10-9-2z"/><path class="a" d="M411 2221l9 1-6-5-8-1z"/><path class="b" d="M417 2226l8-1-5-3-9-1z"/><path class="c" d="M422 2234l9-2-6-7-8 1zm5 13l9-4-5-11-9 2z"/><path class="d" d="M433 2260l9-4-6-13-9 4zm5 9l9-2-5-11-9 4zm6 5l9 0-6-7-9 2zm5 2l9 0-5-2-9 0z"/><path class="c" d="M455 2279l9-1-6-2-9 0z"/><path class="d" d="M461 2288l9-4-6-6-9 1z"/><path class="e" d="M466 2301l9-3-5-14-9 4zm6 10l9-3-6-10-9 3z"/><path class="i" d="M282 2066l8 0-4-6-9 5z"/><path class="j" d="M286 2072l9 3-5-9-8 0zm5 8l9 4-5-9-9-3z"/><path class="i" d="M296 2089l9 2-5-7-9-4zm5 9l8-2-4-5-9-2z"/><path class="h" d="M305 2106l9-4-5-6-8 2z"/><path class="g" d="M310 2114l9-3-5-9-9 4zm5 7l9 1-5-11-9 3zm5 3l9 5-5-7-9-1z"/><path class="h" d="M325 2123l9 7-5-1-9-5zm5-6l9 8-5 5-9-7z"/><path class="i" d="M335 2110l9 6-5 9-9-8z"/><path class="j" d="M340 2105l9 6-5 5-9-6z"/><path class="k" d="M345 2105l9 7-5-1-9-6zm5 3l9 10-5-6-9-7zm5 6l9 12-5-8-9-10zm5 7l9 12-5-7-9-12zm6 8l8 10-5-6-9-12z"/><path class="j" d="M371 2139l9 6-6-6-8-10zm5 13l9 4-5-11-9-6z"/><path class="i" d="M381 2168l9 3-5-15-9-4z"/><path class="h" d="M386 2185l9 4-5-18-9-3z"/><path class="g" d="M392 2199l8 6-5-16-9-4z"/><path class="f" d="M397 2211l9 5-6-11-8-6z"/><path class="a" d="M402 2220l9 1-5-5-9-5zm6 10l9-4-6-5-9-1z"/><path class="b" d="M413 2241l9-7-5-8-9 4z"/><path class="c" d="M418 2253l9-6-5-13-9 7z"/><path class="d" d="M424 2263l9-3-6-13-9 6zm5 6l9 0-5-9-9 3zm6 3l9 2-6-5-9 0z"/><path class="c" d="M441 2275l8 1-5-2-9-2zm5 6l9-2-6-3-8-1z"/><path class="d" d="M452 2292l9-4-6-9-9 2z"/><path class="e" d="M457 2305l9-4-5-13-9 4zm6 10l9-4-6-10-9 4z"/><path class="i" d="M273 2067l9-1-5-1-8 7z"/><path class="j" d="M278 2068l8 4-4-6-9 1zm4 7l9 5-5-8-8-4z"/><path class="i" d="M287 2088l9 1-5-9-9-5zm5 13l9-3-5-9-9-1z"/><path class="h" d="M297 2112l8-6-4-8-9 3zm5 7l8-5-5-8-8 6z"/><path class="g" d="M306 2120l9 1-5-7-8 5z"/><path class="h" d="M311 2118l9 6-5-3-9-1zm5-4l9 9-5 1-9-6z"/><path class="i" d="M321 2111l9 6-5 6-9-9z"/><path class="j" d="M326 2107l9 3-5 7-9-6z"/><path class="k" d="M331 2103l9 2-5 5-9-3z"/><path class="l" d="M336 2100l9 5-5 0-9-2zm5-1l9 9-5-3-9-5zm5 3l9 12-5-6-9-9zm5 7l9 12-5-7-9-12zm6 12l9 8-6-8-9-12z"/><path class="k" d="M362 2136l9 3-5-10-9-8zm5 15l9 1-5-13-9-3z"/><path class="j" d="M372 2166l9 2-5-16-9-1z"/><path class="i" d="M378 2179l8 6-5-17-9-2z"/><path class="h" d="M383 2192l9 7-6-14-8-6z"/><path class="g" d="M388 2206l9 5-5-12-9-7z"/><path class="f" d="M393 2220l9 0-5-9-9-5z"/><path class="a" d="M398 2235l10-5-6-10-9 0z"/><path class="b" d="M404 2249l9-8-5-11-10 5z"/><path class="c" d="M409 2260l9-7-5-12-9 8z"/><path class="d" d="M415 2266l9-3-6-10-9 7zm5 2l9 1-5-6-9 3zm6 2l9 2-6-3-9-1z"/><path class="c" d="M432 2275l9 0-6-3-9-2zm5 9l9-3-5-6-9 0z"/><path class="d" d="M443 2297l9-5-6-11-9 3z"/><path class="e" d="M448 2309l9-4-5-13-9 5zm6 9l9-3-6-10-9 4z"/><path class="i" d="M264 2070l9-3-4 5-9 7z"/><path class="j" d="M269 2066l9 2-5-1-9 3zm4 6l9 3-4-7-9-2z"/><path class="i" d="M278 2087l9 1-5-13-9-3zm5 17l9-3-5-13-9-1z"/><path class="h" d="M288 2117l9-5-5-11-9 3zm5 5l9-3-5-7-9 5zm5-3l8 1-4-1-9 3zm4-5l9 4-5 2-8-1z"/><path class="i" d="M307 2109l9 5-5 4-9-4z"/><path class="j" d="M312 2107l9 4-5 3-9-5z"/><path class="k" d="M317 2105l9 2-5 4-9-4z"/><path class="l" d="M322 2102l9 1-5 4-9-2zm5-5l9 3-5 3-9-1zm5-4l9 6-5 1-9-3zm5 0l9 9-5-3-9-6zm5 9l9 7-5-7-9-9zm6 15l9 4-6-12-9-7zm5 17l9 2-5-15-9-4z"/><path class="k" d="M358 2151l9 0-5-15-9-2z"/><path class="j" d="M363 2164l9 2-5-15-9 0z"/><path class="i" d="M369 2175l9 4-6-13-9-2z"/><path class="h" d="M374 2187l9 5-5-13-9-4z"/><path class="g" d="M379 2202l9 4-5-14-9-5z"/><path class="f" d="M384 2220l9 0-5-14-9-4z"/><path class="a" d="M389 2239l9-4-5-15-9 0z"/><path class="b" d="M395 2255l9-6-6-14-9 4z"/><path class="c" d="M400 2266l9-6-5-11-9 6z"/><path class="d" d="M405 2270l10-4-6-6-9 6zm6-1l9-1-5-2-10 4zm6 1l9 0-6-2-9 1z"/><path class="c" d="M422 2276l10-1-6-5-9 0zm6 11l9-3-5-9-10 1z"/><path class="d" d="M433 2301l10-4-6-13-9 3z"/><path class="e" d="M439 2313l9-4-5-12-10 4zm6 8l9-3-6-9-9 4z"/><path class="i" d="M256 2074l8-4-4 9-8 6z"/><path class="j" d="M260 2069l9-3-5 4-8 4zm5 5l8-2-4-6-9 3z"/><path class="i" d="M270 2087l8 0-5-15-8 2zm5 17l8 0-5-17-8 0z"/><path class="h" d="M279 2118l9-1-5-13-8 0zm5 5l9-1-5-5-9 1zm5-3l9-1-5 3-9 1zm4-6l9 0-4 5-9 1z"/><path class="i" d="M298 2109l9 0-5 5-9 0z"/><path class="j" d="M303 2106l9 1-5 2-9 0z"/><path class="k" d="M308 2105l9 0-5 2-9-1z"/><path class="l" d="M313 2102l9 0-5 3-9 0zm5-5l9 0-5 5-9 0zm5-5l9 1-5 4-9 0zm5 0l9 1-5 0-9-1zm5 9l9 1-5-9-9-1zm5 15l10 1-6-15-9-1zm6 18l9 0-5-17-10-1zm5 16l9 1-5-17-9 0z"/><path class="k" d="M354 2163l9 1-5-13-9-1z"/><path class="i" d="M359 2174l10 1-6-11-9-1z"/><path class="h" d="M365 2186l9 1-5-12-10-1z"/><path class="g" d="M370 2202l9 0-5-15-9-1z"/><path class="f" d="M375 2222l9-2-5-18-9 0z"/><path class="a" d="M380 2242l9-3-5-19-9 2z"/><path class="b" d="M386 2259l9-4-6-16-9 3z"/><path class="c" d="M391 2270l9-4-5-11-9 4z"/><path class="d" d="M396 2274l9-4-5-4-9 4zm6-1l9-4-6 1-9 4zm6 0l9-3-6-1-9 4z"/><path class="c" d="M413 2279l9-3-5-6-9 3zm6 11l9-3-6-11-9 3z"/><path class="d" d="M424 2304l9-3-5-14-9 3z"/><path class="e" d="M430 2316l9-3-6-12-9 3zm5 8l10-3-6-8-9 3z"/><path class="i" d="M247 2080l9-6-4 11-9 2z"/><path class="j" d="M251 2077l9-8-4 5-9 6zm5 3l9-6-5-5-9 8z"/><path class="i" d="M261 2090l9-3-5-13-9 6zm5 13l9 1-5-17-9 3z"/><path class="h" d="M271 2115l8 3-4-14-9-1zm4 7l9 1-5-5-8-3zm5 0l9-2-5 3-9-1zm5-3l8-5-4 6-9 2z"/><path class="i" d="M289 2114l9-5-5 5-8 5z"/><path class="j" d="M294 2109l9-3-5 3-9 5z"/><path class="k" d="M299 2105l9 0-5 1-9 3z"/><path class="l" d="M304 2102l9 0-5 3-9 0zm5-4l9-1-5 5-9 0zm5-1l9-5-5 5-9 1zm5 2l9-7-5 0-9 5zm5 7l9-5-5-9-9 7zm5 12l9-2-5-15-9 5zm5 15l10 1-6-18-9 2zm6 16l9 1-5-16-10-1z"/><path class="k" d="M345 2164l9-1-5-13-9-1z"/><path class="j" d="M350 2178l9-4-5-11-9 1z"/><path class="h" d="M356 2191l9-5-6-12-9 4z"/><path class="g" d="M361 2206l9-4-5-16-9 5z"/><path class="f" d="M366 2223l9-1-5-20-9 4z"/><path class="a" d="M371 2241l9 1-5-20-9 1z"/><path class="b" d="M376 2258l10 1-6-17-9-1z"/><path class="c" d="M382 2271l9-1-5-11-10-1zm5 7l9-4-5-4-9 1z"/><path class="d" d="M393 2279l9-6-6 1-9 4zm5 0l10-6-6 0-9 6z"/><path class="c" d="M404 2283l9-4-5-6-10 6zm6 9l9-2-6-11-9 4z"/><path class="d" d="M415 2306l9-2-5-14-9 2z"/><path class="e" d="M420 2319l10-3-6-12-9 2zm6 8l9-3-5-8-10 3z"/><path class="i" d="M238 2087l9-7-4 7-9 2z"/><path class="j" d="M243 2086l8-9-4 3-9 7zm4 3l9-9-5-3-8 9z"/><path class="i" d="M252 2094l9-4-5-10-9 9zm5 9l9 0-5-13-9 4z"/><path class="h" d="M262 2112l9 3-5-12-9 0zm4 8l9 2-4-7-9-3zm5 5l9-3-5 0-9-2zm5 0l9-6-5 3-9 3z"/><path class="i" d="M280 2121l9-7-4 5-9 6z"/><path class="j" d="M285 2114l9-5-5 5-9 7z"/><path class="k" d="M290 2108l9-3-5 4-9 5z"/><path class="l" d="M295 2104l9-2-5 3-9 3zm5-1l9-5-5 4-9 2zm5 2l9-8-5 1-9 5zm5 4l9-10-5-2-9 8zm5 5l9-8-5-7-9 10zm5 9l9-5-5-12-9 8zm5 12l9-2-5-15-9 5zm5 15l10-1-6-16-9 2z"/><path class="k" d="M336 2168l9-4-5-15-10 1z"/><path class="j" d="M341 2184l9-6-5-14-9 4z"/><path class="h" d="M346 2199l10-8-6-13-9 6z"/><path class="g" d="M352 2212l9-6-5-15-10 8z"/><path class="f" d="M357 2225l9-2-5-17-9 6z"/><path class="a" d="M362 2240l9 1-5-18-9 2z"/><path class="b" d="M367 2256l9 2-5-17-9-1z"/><path class="c" d="M373 2272l9-1-6-13-9-2zm5 10l9-4-5-7-9 1z"/><path class="d" d="M383 2286l10-7-6-1-9 4z"/><path class="c" d="M389 2286l9-7-5 0-10 7zm6 2l9-5-6-4-9 7zm5 6l10-2-6-9-9 5z"/><path class="d" d="M406 2308l9-2-5-14-10 2z"/><path class="e" d="M411 2322l9-3-5-13-9 2zm6 9l9-4-6-8-9 3z"/><path class="i" d="M230 2093l8-6-4 2-8 3zm4 2l9-9-5 1-8 6zm5 2l8-8-4-3-9 9zm4 2l9-5-5-5-8 8zm5 5l9-1-5-9-9 5z"/><path class="h" d="M253 2112l9 0-5-9-9 1zm5 9l8-1-4-8-9 0zm4 8l9-4-5-5-8 1zm5 2l9-6-5 0-9 4z"/><path class="i" d="M272 2127l8-6-4 4-9 6z"/><path class="j" d="M276 2120l9-6-5 7-8 6z"/><path class="k" d="M281 2113l9-5-5 6-9 6z"/><path class="l" d="M286 2110l9-6-5 4-9 5zm4 2l10-9-5 1-9 6zm5 4l10-11-5-2-10 9zm6 4l9-11-5-4-10 11zm5 4l9-10-5-5-9 11zm5 5l9-6-5-9-9 10zm5 10l9-4-5-12-9 6zm5 16l9-5-5-15-9 4z"/><path class="j" d="M327 2174l9-6-6-18-9 5z"/><path class="i" d="M332 2192l9-8-5-16-9 6z"/><path class="h" d="M337 2207l9-8-5-15-9 8z"/><path class="g" d="M342 2218l10-6-6-13-9 8z"/><path class="f" d="M348 2227l9-2-5-13-10 6z"/><path class="a" d="M353 2239l9 1-5-15-9 2z"/><path class="b" d="M358 2255l9 1-5-16-9-1z"/><path class="c" d="M364 2272l9 0-6-16-9-1zm5 13l9-3-5-10-9 0zm5 6l9-5-5-4-9 3zm6 1l9-6-6 0-9 5zm5 1l10-5-6-2-9 6zm6 5l9-4-5-6-10 5z"/><path class="d" d="M396 2310l10-2-6-14-9 4z"/><path class="e" d="M402 2325l9-3-5-14-10 2zm5 9l10-3-6-9-9 3z"/><path class="i" d="M221 2098l9-5-4-1-9 4zm5 2l8-5-4-2-9 5zm4 2l9-5-5-2-8 5zm5 2l8-5-4-2-9 5zm4 5l9-5-5-5-8 5z"/><path class="h" d="M244 2116l9-4-5-8-9 5zm5 9l9-4-5-9-9 4zm4 7l9-3-4-8-9 4zm5 2l9-3-5-2-9 3z"/><path class="i" d="M263 2132l9-5-5 4-9 3z"/><path class="j" d="M267 2126l9-6-4 7-9 5z"/><path class="k" d="M272 2121l9-8-5 7-9 6z"/><path class="l" d="M277 2120l9-10-5 3-9 8zm4 2l9-10-4-2-9 10zm5 3l9-9-5-4-9 10zm5 3l10-8-6-4-9 9zm5 4l10-8-5-4-10 8zm6 5l9-8-5-5-10 8zm5 10l9-8-5-10-9 8z"/><path class="k" d="M312 2163l9-8-5-16-9 8z"/><path class="j" d="M317 2181l10-7-6-19-9 8z"/><path class="i" d="M323 2198l9-6-5-18-10 7z"/><path class="h" d="M328 2212l9-5-5-15-9 6z"/><path class="g" d="M333 2222l9-4-5-11-9 5z"/><path class="f" d="M338 2230l10-3-6-9-9 4z"/><path class="a" d="M344 2241l9-2-5-12-10 3z"/><path class="b" d="M349 2255l9 0-5-16-9 2zm5 17l10 0-6-17-9 0z"/><path class="c" d="M360 2285l9 0-5-13-10 0zm5 8l9-2-5-6-9 0zm5 3l10-4-6-1-9 2zm6 2l9-5-5-1-10 4zm6 5l9-5-6-5-9 5z"/><path class="d" d="M387 2314l9-4-5-12-9 5z"/><path class="e" d="M393 2327l9-2-6-15-9 4zm5 10l9-3-5-9-9 2z"/><path class="h" d="M212 2101l9-3-4-2-9 5z"/><path class="i" d="M217 2102l9-2-5-2-9 3zm4 3l9-3-4-2-9 2zm5 5l9-6-5-2-9 3z"/><path class="h" d="M230 2117l9-8-4-5-9 6zm5 7l9-8-5-7-9 8zm5 7l9-6-5-9-9 8zm4 4l9-3-4-7-9 6zm5 1l9-2-5-2-9 3z"/><path class="i" d="M254 2135l9-3-5 2-9 2zm4-2l9-7-4 6-9 3z"/><path class="j" d="M263 2132l9-11-5 5-9 7z"/><path class="k" d="M268 2131l9-11-5 1-9 11z"/><path class="l" d="M272 2132l9-10-4-2-9 11zm5 1l9-8-5-3-9 10zm5 2l9-7-5-3-9 8zm5 4l9-7-5-4-9 7zm5 8l10-10-6-5-9 7z"/><path class="k" d="M298 2158l9-11-5-10-10 10zm5 15l9-10-5-16-9 11z"/><path class="j" d="M308 2188l9-7-5-18-9 10z"/><path class="i" d="M313 2202l10-4-6-17-9 7z"/><path class="h" d="M319 2214l9-2-5-14-10 4z"/><path class="g" d="M324 2224l9-2-5-10-9 2z"/><path class="f" d="M329 2233l9-3-5-8-9 2z"/><path class="a" d="M334 2244l10-3-6-11-9 3zm6 13l9-2-5-14-10 3z"/><path class="b" d="M345 2271l9 1-5-17-9 2z"/><path class="c" d="M350 2283l10 2-6-13-9-1zm6 9l9 1-5-8-10-2zm5 6l9-2-5-3-9-1zm6 5l9-5-6-2-9 2zm5 6l10-6-6-5-9 5z"/><path class="d" d="M378 2318l9-4-5-11-10 6z"/><path class="e" d="M383 2331l10-4-6-13-9 4zm6 10l9-4-5-10-10 4z"/><path class="h" d="M204 2103l8-2-4 0-9 5z"/><path class="i" d="M208 2104l9-2-5-1-8 2zm4 4l9-3-4-3-9 2z"/><path class="h" d="M217 2117l9-7-5-5-9 3zm5 9l8-9-4-7-9 7zm4 8l9-10-5-7-8 9z"/><path class="g" d="M231 2137l9-6-5-7-9 10zm4 1l9-3-4-4-9 6z"/><path class="h" d="M240 2138l9-2-5-1-9 3zm5 1l9-4-5 1-9 2z"/><path class="i" d="M249 2141l9-8-4 2-9 4z"/><path class="j" d="M254 2142l9-10-5 1-9 8z"/><path class="k" d="M259 2142l9-11-5 1-9 10zm4-1l9-9-4-1-9 11zm5-1l9-7-5-1-9 9z"/><path class="l" d="M273 2141l9-6-5-2-9 7zm5 7l9-9-5-4-9 6z"/><path class="k" d="M283 2158l9-11-5-8-9 9zm5 12l10-12-6-11-9 11z"/><path class="j" d="M294 2182l9-9-5-15-10 12z"/><path class="i" d="M299 2193l9-5-5-15-9 9zm5 10l9-1-5-14-9 5z"/><path class="h" d="M309 2214l10 0-6-12-9 1z"/><path class="g" d="M314 2226l10-2-5-10-10 0z"/><path class="f" d="M320 2237l9-4-5-9-10 2zm5 12l9-5-5-11-9 4z"/><path class="a" d="M330 2260l10-3-6-13-9 5z"/><path class="b" d="M336 2270l9 1-5-14-10 3z"/><path class="c" d="M341 2280l9 3-5-12-9-1zm5 10l10 2-6-9-9-3zm6 9l9-1-5-6-10-2zm5 8l10-4-6-5-9 1zm6 7l9-5-5-6-10 4z"/><path class="d" d="M368 2322l10-4-6-9-9 5z"/><path class="e" d="M374 2334l9-3-5-13-10 4zm5 10l10-3-6-10-9 3z"/><path class="h" d="M195 2105l9-2-5 3-8 2zm4 2l9-3-4-1-9 2zm5 7l8-6-4-4-9 3zm4 10l9-7-5-9-8 6zm5 11l9-9-5-9-9 7z"/><path class="g" d="M218 2141l8-7-4-8-9 9zm4 2l9-6-5-3-8 7zm5 0l8-5-4-1-9 6zm4 1l9-6-5 0-8 5z"/><path class="h" d="M236 2146l9-7-5-1-9 6z"/><path class="i" d="M240 2149l9-8-4-2-9 7zm5 2l9-9-5-1-9 8z"/><path class="j" d="M250 2150l9-8-5 0-9 9zm4-2l9-7-4 1-9 8z"/><path class="k" d="M259 2147l9-7-5 1-9 7zm5 3l9-9-5-1-9 7zm5 9l9-11-5-7-9 9zm5 11l9-12-5-10-9 11z"/><path class="j" d="M279 2180l9-10-5-12-9 12zm5 9l10-7-6-12-9 10z"/><path class="i" d="M289 2196l10-3-5-11-10 7zm6 8l9-1-5-10-10 3z"/><path class="h" d="M300 2215l9-1-5-11-9 1z"/><path class="g" d="M305 2229l9-3-5-12-9 1zm5 13l10-5-6-11-9 3z"/><path class="f" d="M316 2253l9-4-5-12-10 5z"/><path class="a" d="M321 2261l9-1-5-11-9 4z"/><path class="b" d="M326 2269l10 1-6-10-9 1zm6 9l9 2-5-10-10-1z"/><path class="c" d="M337 2289l9 1-5-10-9-2zm5 11l10-1-6-9-9-1zm6 10l9-3-5-8-10 1zm5 7l10-3-6-7-9 3z"/><path class="d" d="M359 2325l9-3-5-8-10 3z"/><path class="e" d="M364 2337l10-3-6-12-9 3zm6 10l9-3-5-10-10 3z"/><path class="g" d="M186 2108l9-3-4 3-9 2z"/><path class="h" d="M190 2113l9-6-4-2-9 3zm5 9l9-8-5-7-9 6zm5 10l8-8-4-10-9 8z"/><path class="g" d="M204 2141l9-6-5-11-8 8zm5 6l9-6-5-6-9 6zm4 2l9-6-4-2-9 6zm5 2l9-8-5 0-9 6zm4 2l9-9-4-1-9 8zm5 4l9-11-5-2-9 9z"/><path class="h" d="M231 2159l9-10-4-3-9 11z"/><path class="i" d="M236 2158l9-7-5-2-9 10zm4-2l10-6-5 1-9 7z"/><path class="j" d="M245 2154l9-6-4 2-10 6zm5 2l9-9-5 1-9 6zm5 7l9-13-5-3-9 9zm5 10l9-14-5-9-9 13zm5 10l9-13-5-11-9 14zm5 7l9-10-5-10-9 13z"/><path class="i" d="M275 2195l9-6-5-9-9 10zm5 5l9-4-5-7-9 6z"/><path class="h" d="M285 2208l10-4-6-8-9 4zm5 12l10-5-5-11-10 4z"/><path class="g" d="M296 2234l9-5-5-14-10 5zm5 12l9-4-5-13-9 5z"/><path class="f" d="M306 2256l10-3-6-11-9 4z"/><path class="a" d="M312 2263l9-2-5-8-10 3z"/><path class="b" d="M317 2270l9-1-5-8-9 2zm5 9l10-1-6-9-9 1z"/><path class="c" d="M328 2290l9-1-5-11-10 1zm5 11l9-1-5-11-9 1zm5 10l10-1-6-10-9 1zm6 7l9-1-5-7-10 1z"/><path class="d" d="M349 2328l10-3-6-8-9 1z"/><path class="e" d="M355 2341l9-4-5-12-10 3zm5 10l10-4-6-10-9 4z"/><path class="g" d="M177 2114l9-6-4 2-9 3zm5 7l8-8-4-5-9 6zm4 10l9-9-5-9-8 8zm5 9l9-8-5-10-9 9zm4 7l9-6-4-9-9 8zm5 4l9-4-5-6-9 6z"/><path class="f" d="M204 2156l9-7-4-2-9 4zm5 5l9-10-5-2-9 7zm5 5l8-13-4-2-9 10z"/><path class="g" d="M218 2169l9-12-5-4-8 13zm5 0l8-10-4-2-9 12z"/><path class="h" d="M227 2166l9-8-5 1-8 10zm4-3l9-7-4 2-9 8z"/><path class="i" d="M236 2164l9-10-5 2-9 7zm5 6l9-14-5-2-9 10zm5 9l9-16-5-7-9 14zm5 10l9-16-5-10-9 16zm5 7l9-13-5-10-9 16zm5 3l9-9-5-7-9 13zm5 3l9-7-5-5-9 9z"/><path class="h" d="M271 2207l9-7-5-5-9 7zm5 9l9-8-5-8-9 7zm5 12l9-8-5-12-9 8z"/><path class="g" d="M286 2241l10-7-6-14-9 8zm6 10l9-5-5-12-10 7z"/><path class="f" d="M297 2260l9-4-5-10-9 5z"/><path class="a" d="M302 2267l10-4-6-7-9 4zm5 8l10-5-5-7-10 4z"/><path class="b" d="M313 2285l9-6-5-9-10 5z"/><path class="c" d="M318 2294l10-4-6-11-9 6zm5 9l10-2-5-11-10 4zm6 7l9 1-5-10-10 2zm5 9l10-1-6-7-9-1z"/><path class="d" d="M340 2331l9-3-5-10-10 1z"/><path class="e" d="M345 2345l10-4-6-13-9 3zm6 9l9-3-5-10-10 4z"/><path class="f" d="M168 2122l9-8-4-1-9 6z"/><path class="g" d="M173 2130l9-9-5-7-9 8zm5 9l8-8-4-10-9 9zm4 8l9-7-5-9-8 8z"/><path class="f" d="M187 2152l8-5-4-7-9 7zm4 6l9-7-5-4-8 5zm5 7l8-9-4-5-9 7zm4 8l9-12-5-5-8 9zm5 6l9-13-5-5-9 12zm4 3l9-13-4-3-9 13zm5-3l9-10-5 0-9 13z"/><path class="g" d="M218 2176l9-10-4 3-9 10zm4-2l9-11-4 3-9 10zm5 4l9-14-5-1-9 11z"/><path class="h" d="M232 2186l9-16-5-6-9 14zm5 10l9-17-5-9-9 16zm5 9l9-16-5-10-9 17zm5 4l9-13-5-7-9 16zm5 3l9-13-5-3-9 13z"/><path class="g" d="M257 2215l9-13-5-3-9 13zm5 6l9-14-5-5-9 13zm5 8l9-13-5-9-9 14zm5 11l9-12-5-12-9 13zm5 9l9-8-5-13-9 12z"/><path class="f" d="M282 2258l10-7-6-10-9 8zm5 8l10-6-5-9-10 7z"/><path class="a" d="M293 2275l9-8-5-7-10 6z"/><path class="b" d="M298 2285l9-10-5-8-9 8zm5 8l10-8-6-10-9 10z"/><path class="c" d="M308 2300l10-6-5-9-10 8zm6 5l9-2-5-9-10 6zm5 6l10-1-6-7-9 2zm6 10l9-2-5-9-10 1z"/><path class="d" d="M330 2335l10-4-6-12-9 2z"/><path class="e" d="M336 2349l9-4-5-14-10 4zm5 8l10-3-6-9-9 4z"/><path class="f" d="M160 2132l8-10-4-3-8 9zm4 6l9-8-5-8-8 10zm5 8l9-7-5-9-9 8zm4 7l9-6-4-8-9 7zm5 6l9-7-5-5-9 6z"/><path class="a" d="M182 2167l9-9-4-6-9 7zm5 9l9-11-5-7-9 9zm5 9l8-12-4-8-9 11zm4 6l9-12-5-6-8 12zm5 1l8-10-4-3-9 12zm4-1l9-12-5 3-8 10zm4-2l9-13-4 3-9 12z"/><path class="f" d="M214 2191l8-17-4 2-9 13zm5 5l8-18-5-4-8 17zm4 9l9-19-5-8-8 18zm5 8l9-17-5-10-9 19zm5 6l9-14-5-9-9 17zm5 4l9-14-5-4-9 14zm5 4l9-15-5-3-9 14zm5 5l9-17-5-3-9 15zm5 6l9-17-5-6-9 17zm5 8l9-17-5-8-9 17zm5 7l9-13-5-11-9 17z"/><path class="a" d="M268 2260l9-11-5-9-9 13zm5 7l9-9-5-9-9 11zm5 9l9-10-5-8-9 9z"/><path class="b" d="M283 2286l10-11-6-9-9 10zm6 10l9-11-5-10-10 11z"/><path class="c" d="M294 2304l9-11-5-8-9 11zm5 3l9-7-5-7-9 11zm5 3l10-5-6-5-9 7zm6 5l9-4-5-6-10 5z"/><path class="d" d="M315 2325l10-4-6-10-9 4zm5 16l10-6-5-14-10 4z"/><path class="e" d="M326 2353l10-4-6-14-10 6zm5 8l10-4-5-8-10 4z"/><path class="a" d="M151 2142l9-10-4-4-9 12z"/><path class="f" d="M156 2145l8-7-4-6-9 10zm4 5l9-4-5-8-8 7z"/><path class="a" d="M164 2158l9-5-4-7-9 4zm5 9l9-8-5-6-9 5zm5 11l8-11-4-8-9 8z"/><path class="b" d="M178 2187l9-11-5-9-8 11zm5 7l9-9-5-9-9 11zm4 4l9-7-4-6-9 9zm5 2l9-8-5-1-9 7zm4 1l9-10-4 1-9 8zm5 3l8-15-4 2-9 10zm4 5l9-18-5-2-8 15zm5 6l9-19-5-5-9 18z"/><path class="a" d="M215 2221l8-16-4-9-9 19zm4 5l9-13-5-8-8 16zm5 5l9-12-5-6-9 13zm5 5l9-13-5-4-9 12zm5 6l9-15-5-4-9 13zm5 7l9-17-5-5-9 15zm5 7l9-18-5-6-9 17zm5 5l9-15-5-8-9 18z"/><path class="b" d="M253 2265l10-12-5-7-9 15zm5 4l10-9-5-7-10 12zm6 8l9-10-5-7-10 9zm5 10l9-11-5-9-9 10z"/><path class="c" d="M274 2298l9-12-5-10-9 11zm5 9l10-11-6-10-9 12zm5 5l10-8-5-8-10 11z"/><path class="d" d="M289 2314l10-7-5-3-10 8zm6 2l9-6-5-3-10 7zm5 5l10-6-6-5-9 6zm5 11l10-7-5-10-10 6zm6 14l9-5-5-16-10 7z"/><path class="e" d="M316 2357l10-4-6-12-9 5z"/><path class="m" d="M322 2364l9-3-5-8-10 4z"/><path class="a" d="M143 2150l8-8-4-2-8 11zm4 0l9-5-5-3-8 8zm4 4l9-4-4-5-9 5zm4 8l9-4-4-8-9 4z"/><path class="b" d="M160 2174l9-7-5-9-9 4zm5 12l9-8-5-11-9 7zm5 8l8-7-4-9-9 8z"/><path class="c" d="M174 2199l9-5-5-7-8 7zm4 2l9-3-4-4-9 5zm5 3l9-4-5-2-9 3zm4 5l9-8-4-1-9 4zm5 8l9-13-5-3-9 8zm5 7l8-15-4-5-9 13zm4 5l9-14-5-6-8 15zm5 3l9-11-5-6-9 14zm4 2l9-8-4-5-9 11zm5 4l9-7-5-5-9 8zm5 6l9-8-5-5-9 7zm5 9l9-11-5-6-9 8zm5 9l9-13-5-7-9 11zm5 6l9-12-5-7-9 13zm4 3l10-10-5-5-9 12zm5 2l9-8-4-4-10 10zm5 4l9-8-5-4-9 8zm5 8l10-8-6-8-9 8zm5 10l10-8-5-10-10 8zm5 10l10-7-5-11-10 8z"/><path class="d" d="M270 2313l9-6-5-9-10 7zm5 4l9-5-5-5-9 6zm5 2l9-5-5-2-9 5zm5 4l10-7-6-2-9 5zm5 6l10-8-5-5-10 7zm6 10l9-7-5-11-10 8zm5 11l10-4-6-14-9 7z"/><path class="e" d="M307 2360l9-3-5-11-10 4z"/><path class="m" d="M312 2368l10-4-6-7-9 3z"/><path class="a" d="M134 2157l9-7-4 1-9 7zm4-1l9-6-4 0-9 7zm4 3l9-5-4-4-9 6z"/><path class="b" d="M147 2167l8-5-4-8-9 5zm4 12l9-5-5-12-8 5zm5 10l9-3-5-12-9 5z"/><path class="c" d="M161 2196l9-2-5-8-9 3zm4 4l9-1-4-5-9 2zm4 2l9-1-4-2-9 1zm5 5l9-3-5-3-9 1zm4 8l9-6-4-5-9 3zm5 9l9-7-5-8-9 6zm5 8l9-8-5-7-9 7zm4 4l9-7-4-5-9 8zm5 1l9-5-5-3-9 7zm4 1l9-4-4-2-9 5zm5 4l9-4-5-4-9 4zm4 7l10-5-5-6-9 4zm5 9l10-5-5-9-10 5zm5 9l10-5-5-9-10 5zm5 5l10-4-5-6-10 5zm5 3l9-4-4-3-10 4zm5 3l9-5-5-2-9 4zm5 5l9-6-5-4-9 5zm5 7l9-5-5-8-9 6z"/><path class="d" d="M250 2299l9-4-5-10-9 5zm5 8l9-2-5-10-9 4zm5 7l10-1-6-8-9 2zm5 5l10-2-5-4-10 1zm5 5l10-5-5-2-10 2zm5 6l10-7-5-4-10 5zm6 7l9-8-5-6-10 7zm5 8l10-6-6-10-9 8zm5 8l10-3-5-11-10 6z"/><path class="e" d="M297 2362l10-2-6-10-10 3z"/><path class="m" d="M302 2371l10-3-5-8-10 2z"/><path class="b" d="M125 2165l9-8-4 1-9 5zm4 1l9-10-4 1-9 8zm4 3l9-10-4-3-9 10zm5 6l9-8-5-8-9 10zm4 8l9-4-4-12-9 8z"/><path class="c" d="M147 2191l9-2-5-10-9 4zm4 7l10-2-5-7-9 2zm5 4l9-2-4-4-10 2zm4 4l9-4-4-2-9 2zm4 6l10-5-5-5-9 4zm5 8l9-5-4-8-10 5zm5 9l9-5-5-9-9 5zm4 7l10-4-5-8-9 5zm5 4l9-4-4-4-10 4zm4 2l10-5-5-1-9 4zm5 2l9-6-4-1-10 5zm4 4l10-6-5-4-9 6zm5 6l9-5-4-7-10 6zm5 7l9-3-5-9-9 5zm5 7l9-1-5-9-9 3zm5 6l9-2-5-5-9 1zm4 5l10-4-5-3-9 2zm5 5l10-6-5-3-10 4z"/><path class="d" d="M230 2289l10-6-5-5-10 6zm5 6l10-5-5-7-10 6zm5 6l10-2-5-9-10 5zm5 6l10 0-5-8-10 2zm5 7l10 0-5-7-10 0zm5 8l10-3-5-5-10 0zm6 8l9-6-5-5-10 3zm5 8l9-8-5-6-9 6zm5 6l10-7-6-7-9 8zm5 5l10-4-5-8-10 7zm6 6l9-2-5-8-10 4z"/><path class="e" d="M287 2365l10-3-6-9-9 2z"/><path class="m" d="M292 2374l10-3-5-9-10 3z"/><path class="c" d="M117 2175l8-10-4-2-8 8zm4 4l8-13-4-1-8 10zm4 4l8-14-4-3-8 13zm4 4l9-12-5-6-8 14zm5 5l8-9-4-8-9 12zm4 6l9-7-5-8-8 9zm4 6l9-6-4-7-9 7z"/><path class="d" d="M147 2210l9-8-5-4-9 6zm4 6l9-10-4-4-9 8zm5 6l8-10-4-6-9 10zm4 6l9-8-5-8-8 10zm5 6l9-5-5-9-9 8zm4 6l9-4-4-7-9 5zm5 5l9-5-5-4-9 4zm4 5l9-8-4-2-9 5zm5 4l9-10-5-2-9 8zm4 4l9-10-4-4-9 10zm5 4l9-8-5-6-9 10zm5 5l9-6-5-7-9 8zm4 6l10-5-5-7-9 6zm5 7l10-6-5-6-10 5zm5 6l9-7-4-5-10 6zm5 7l9-9-5-5-9 7zm5 5l9-9-5-5-9 9zm5 4l9-7-5-6-9 9zm5 5l9-6-5-6-9 7zm5 6l9-6-5-6-9 6zm5 7l9-6-5-7-9 6zm5 8l9-6-5-8-9 6zm5 9l10-7-6-8-9 6zm5 7l10-6-5-8-10 7zm5 5l10-5-5-6-10 6zm5 4l10-4-5-5-10 5z"/><path class="e" d="M272 2360l10-5-6-6-10 4zm5 9l10-4-5-10-10 5z"/><path class="m" d="M282 2378l10-4-5-9-10 4z"/><path class="d" d="M109 2187l8-12-4-4-8 11zm4 5l8-13-4-4-8 12zm4 5l8-14-4-4-8 13zm4 4l8-14-4-4-8 14zm4 5l9-14-5-5-8 14zm4 5l9-13-4-6-9 14zm5 5l8-12-4-6-9 13z"/><path class="e" d="M138 2222l9-12-5-6-8 12zm5 5l8-11-4-6-9 12zm4 6l9-11-5-6-8 11zm4 5l9-10-4-6-9 11zm5 5l9-9-5-6-9 10zm4 5l9-8-4-6-9 9zm5 6l9-9-5-5-9 8zm4 5l9-9-4-5-9 9zm5 5l9-10-5-4-9 9zm4 5l9-11-4-4-9 10zm5 5l9-12-5-4-9 11zm5 4l9-11-5-5-9 12zm4 6l9-11-4-6-9 11zm5 6l9-10-5-7-9 11zm5 6l9-10-5-6-9 10zm5 6l9-9-5-7-9 10zm5 6l9-10-5-5-9 9zm4 5l10-11-5-4-9 10zm5 5l10-11-5-5-10 11zm5 6l10-11-5-6-10 11zm5 6l10-10-5-7-10 11zm5 7l10-9-5-8-10 10zm5 7l10-7-5-9-10 9zm5 6l10-6-5-7-10 7zm6 5l9-6-5-5-10 6zm5 6l9-8-5-4-9 6zm5 6l10-7-6-7-9 8zm5 7l10-5-5-9-10 7z"/><path class="m" d="M273 2381l9-3-5-9-10 5z"/><path class="e" d="M100 2194l9-7-4-5-9 8zm4 5l9-7-4-5-9 7zm4 5l9-7-4-5-9 7zm4 5l9-8-4-4-9 7zm5 5l8-8-4-5-9 8zm4 5l8-8-4-5-8 8zm4 5l9-8-5-5-8 8zm4 5l9-7-4-6-9 8zm5 5l9-7-5-5-9 7zm4 5l9-6-4-6-9 7zm4 5l9-6-4-5-9 6zm5 5l9-6-5-5-9 6zm4 5l9-6-4-5-9 6zm5 6l9-6-5-6-9 6zm4 5l9-6-4-5-9 6zm5 5l9-6-5-5-9 6zm4 5l9-6-4-5-9 6zm5 6l9-7-5-5-9 6zm4 5l10-8-5-4-9 7zm5 6l9-8-4-6-10 8zm5 5l9-7-5-6-9 8zm4 6l10-7-5-6-9 7zm5 5l10-6-5-6-10 7zm5 6l10-6-5-6-10 6zm5 6l9-7-4-5-10 6zm5 5l9-7-5-5-9 7zm5 6l9-7-5-6-9 7zm5 6l9-7-5-6-9 7zm5 6l9-6-5-7-9 7zm5 6l9-5-5-7-9 6zm5 6l9-5-5-6-9 5zm5 6l10-6-6-5-9 5zm5 6l10-6-5-6-10 6z"/><path class="m" d="M252 2373l10-6-5-6-10 6zm5 6l10-5-5-7-10 6zm6 6l10-4-6-7-10 5z"/></g>
<path d="M26.63 582.83h-3.3M25.89 574.31h-3.3M25.14 565.58h-3.3M24.36 556.62h-3.3M23.57 547.42h-3.3M22.75 537.98h-3.3M21.92 528.28h-3.3M21.06 518.32h-3.3M20.17 508.08h-3.3M66.76 633.6l-2.3 1.9M62.08 627.61l-2.3 1.9M57.52 621.79l-2.3 1.9M53.08 616.12l-2.3 1.9M48.77 610.61l-2.3 1.9M44.56 605.24l-2.3 1.9M40.47 600.01l-2.3 1.9M36.48 594.91l-2.3 1.9M32.6 589.95l-2.3 1.9M28.81 585.1l-2.3 1.9M68.87 632.79l0.3 3M77.92 629.32l0.3 3M86.83 625.89l0.3 3M95.6 622.52l0.3 3M104.23 619.2l0.3 3M112.73 615.94l0.3 3M121.1 612.72l0.3 3M129.34 609.55l0.3 3M137.46 606.43l0.3 3M145.46 603.36l0.3 3" stroke="#333" stroke-width="0.5" fill="none"/>
<text x="21.03" y="584.73" font-size="5.4" text-anchor="end" fill="#222">−40</text>
<text x="20.29" y="576.21" font-size="5.4" text-anchor="end" fill="#222">−30</text>
<text x="19.54" y="567.48" font-size="5.4" text-anchor="end" fill="#222">−20</text>
<text x="18.76" y="558.52" font-size="5.4" text-anchor="end" fill="#222">−10</text>
<text x="17.97" y="549.32" font-size="5.4" text-anchor="end" fill="#222">0</text>
<text x="17.15" y="539.88" font-size="5.4" text-anchor="end" fill="#222">10</text>
<text x="16.32" y="530.18" font-size="5.4" text-anchor="end" fill="#222">20</text>
<text x="15.46" y="520.22" font-size="5.4" text-anchor="end" fill="#222">30</text>
<text x="14.57" y="509.98" font-size="5.4" text-anchor="end" fill="#222">40</text>
<text x="62.76" y="642.2" font-size="4.4" text-anchor="middle" fill="#222">0</text>
<text x="57.68" y="632.76" font-size="4.2" text-anchor="end" fill="#222">19.53125</text>
<text x="53.12" y="627.09" font-size="4.2" text-anchor="end" fill="#222">39.0625</text>
<text x="48.68" y="621.57" font-size="4.2" text-anchor="end" fill="#222">78.125</text>
<text x="44.37" y="616.21" font-size="4.2" text-anchor="end" fill="#222">156.25</text>
<text x="40.16" y="610.99" font-size="4.2" text-anchor="end" fill="#222">312.5</text>
<text x="36.07" y="605.91" font-size="4.2" text-anchor="end" fill="#222">625</text>
<text x="32.08" y="600.96" font-size="4.2" text-anchor="end" fill="#222">1,250</text>
<text x="28.2" y="596.15" font-size="4.2" text-anchor="end" fill="#222">2,500</text>
<text x="24.41" y="591.45" font-size="4.2" text-anchor="end" fill="#222">5,000</text>
<text x="69.17" y="642.39" font-size="4.4" text-anchor="middle" fill="#222">0</text>
<text x="77.92" y="637.77" font-size="4.2" fill="#222">19.53125</text>
<text x="86.83" y="634.19" font-size="4.2" fill="#222">39.0625</text>
<text x="95.6" y="630.67" font-size="4.2" fill="#222">78.125</text>
<text x="104.23" y="627.2" font-size="4.2" fill="#222">156.25</text>
<text x="112.73" y="623.79" font-size="4.2" fill="#222">312.5</text>
<text x="121.1" y="620.42" font-size="4.2" fill="#222">625</text>
<text x="129.34" y="617.1" font-size="4.2" fill="#222">1,250</text>
<text x="137.46" y="613.83" font-size="4.2" fill="#222">2,500</text>
<text x="145.46" y="610.61" font-size="4.2" fill="#222">5,000</text>
<text transform="translate(7.17 547.92) rotate(-86)" font-size="7.6" font-weight="bold" text-anchor="middle">Synergy score</text>
<text transform="translate(21.38 616.41) rotate(55)" font-size="7.9" font-weight="bold" text-anchor="middle">Ribociclib (nM)</text>
<text transform="translate(119.93 639.34) rotate(-21.5)" font-size="7.7" font-weight="bold" text-anchor="middle">BLU-222 (nM)</text>
<text x="91.6" y="456.8" font-size="9.5" font-weight="bold" text-anchor="middle">Parental</text>
<text x="91.6" y="469.3" font-size="7.6" text-anchor="middle" fill="#222">MSA score: 24.5</text>
<text x="91.6" y="477.2" font-size="7.6" text-anchor="middle" fill="#222">Mean synergy: 11.5</text>
<g stroke="#333" stroke-width="0.5"><line x1="196.49" y1="507.07" x2="277.68" y2="485.76"/><line x1="277.68" y1="485.76" x2="329.87" y2="525.43"/><line x1="196.49" y1="507.07" x2="203.01" y2="582.16"/><line x1="329.87" y1="525.43" x2="322.68" y2="602.77"/><line x1="203.01" y1="582.16" x2="243.16" y2="633.17"/><line x1="243.16" y1="633.17" x2="322.68" y2="602.77"/><line x1="196.49" y1="507.07" x2="240.78" y2="553.26"/><line x1="329.87" y1="525.43" x2="240.78" y2="553.26"/><line x1="240.78" y1="553.26" x2="243.16" y2="633.17"/><line x1="277.68" y1="485.76" x2="276.18" y2="558.26" stroke-dasharray="1 1.2"/><line x1="203.01" y1="582.16" x2="276.18" y2="558.26" stroke-dasharray="1 1.2"/><line x1="276.18" y1="558.26" x2="322.68" y2="602.77" stroke-dasharray="1 1.2"/></g>
<g transform="scale(0.25)" stroke="#000" stroke-width="1.68" stroke-linejoin="round"><path class="c" d="M1105 2072l8-3-5-5-8 3zm5 6l8-3-5-6-8 3zm5 6l8-2-5-7-8 3zm5 7l8-3-5-6-8 2zm5 5l8-2-5-6-8 3zm5 5l8-2-5-5-8 2zm5 3l8-2-5-3-8 2zm5 2l8-1-5-3-8 2zm5 2l8-1-5-2-8 1zm5 4l9-1-6-4-8 1zm5 5l9 0-5-6-9 1z"/><path class="d" d="M1161 2125l8 0-5-8-9 0zm5 9l8 0-5-9-8 0zm5 9l8 0-5-9-8 0zm5 8l8 0-5-8-8 0zm5 6l9-1-6-5-8 0zm6 2l8-2-5-1-9 1zm5 1l9-4-6 1-8 2zm6 1l9-6-6 1-9 4zm6 4l8-7-5-3-9 6zm5 9l9-9-6-7-8 7z"/><path class="e" d="M1214 2186l9-10-5-11-9 9zm5 13l9-10-5-13-9 10zm5 12l9-9-5-13-9 10z"/><path class="m" d="M1230 2219l9-6-6-11-9 9zm6 6l8-5-5-7-9 6zm5 3l9-4-6-4-8 5zm7 1l8-3-6-2-9 4zm6 1l8-3-6-1-8 3zm6 2l8-3-6-2-8 3z"/><path class="e" d="M1266 2236l9-5-7-2-8 3zm6 5l9-6-6-4-9 5zm6 6l9-7-6-5-9 6zm6 7l9-7-6-7-9 7zm6 7l8-4-5-10-9 7z"/><path class="m" d="M1296 2268l8-3-6-8-8 4z"/><path class="c" d="M1097 2078l8-6-5-5-8 7zm5 4l8-4-5-6-8 6zm5 5l8-3-5-6-8 4zm5 4l8 0-5-7-8 3zm4 4l9 1-5-5-8 0zm6 4l8 2-5-5-9-1zm5 4l8 1-5-3-8-2zm5 3l8 0-5-2-8-1zm5 3l8-1-5-2-8 0zm5 4l8-1-5-4-8 1zm5 5l8-1-5-5-8 1zm5 6l9 1-6-8-8 1z"/><path class="d" d="M1158 2132l8 2-5-9-9-1zm5 7l8 4-5-9-8-2zm5 8l8 4-5-8-8-4zm5 7l8 3-5-6-8-4zm6 5l8 0-6-2-8-3zm5 4l8-3-5-1-8 0zm5 5l9-7-6-1-8 3zm6 7l9-10-6-4-9 7zm5 10l9-11-5-9-9 10z"/><path class="e" d="M1205 2196l9-10-5-12-9 11zm6 11l8-8-5-13-9 10z"/><path class="m" d="M1216 2216l8-5-5-12-8 8z"/><path class="n" d="M1221 2222l9-3-6-8-8 5zm6 4l9-1-6-6-9 3zm6 3l8-1-5-3-9 1zm6 3l9-3-7-1-8 1zm6 2l9-4-6-1-9 3zm6 4l9-6-6-2-9 4z"/><path class="m" d="M1257 2243l9-7-6-4-9 6zm6 6l9-8-6-5-9 7zm6 5l9-7-6-6-9 8z"/><path class="e" d="M1275 2260l9-6-6-7-9 7z"/><path class="m" d="M1281 2265l9-4-6-7-9 6zm6 6l9-3-6-7-9 4z"/><path class="c" d="M1089 2084l8-6-5-4-8 6zm4 2l9-4-5-4-8 6zm5 2l9-1-5-5-9 4zm5 2l9 1-5-4-9 1zm5 2l8 3-4-4-9-1zm5 3l9 4-6-4-8-3zm5 5l9 3-5-4-9-4zm6 5l8 1-5-3-9-3zm5 5l8-1-5-3-8-1zm5 4l8-1-5-4-8 1zm5 5l8-1-5-5-8 1zm5 4l8 1-5-6-8 1zm5 4l9 5-6-8-8-1zm6 6l8 6-5-7-9-5z"/><path class="d" d="M1160 2140l8 7-5-8-8-6zm5 8l8 6-5-7-8-7zm5 8l9 3-6-5-8-6zm6 8l8-1-5-4-9-3zm5 9l8-5-5-5-8 1zm5 10l9-8-6-7-8 5zm5 10l9-8-5-10-9 8z"/><path class="e" d="M1197 2203l8-7-5-11-9 8zm5 8l9-4-6-11-8 7z"/><path class="n" d="M1207 2217l9-1-5-9-9 4zm6 4l8 1-5-6-9 1zm6 4l8 1-6-4-8-1zm6 4l8 0-6-3-8-1zm5 5l9-2-6-3-8 0zm6 5l9-5-6-2-9 2zm6 6l9-7-6-4-9 5zm6 5l9-7-6-5-9 7zm6 5l9-6-6-6-9 7z"/><path class="m" d="M1260 2260l9-6-6-5-9 6zm6 4l9-4-6-6-9 6zm6 5l9-4-6-5-9 4zm6 5l9-3-6-6-9 4z"/><path class="c" d="M1080 2087l9-3-5-4-8 5zm5 1l8-2-4-2-9 3zm5-1l8 1-5-2-8 2zm5 0l8 3-5-2-8-1zm5 1l8 4-5-2-8-3zm5 3l8 4-5-3-8-4z"/><path class="b" d="M1110 2096l8 4-5-5-8-4zm5 6l9 3-6-5-8-4zm5 5l9 3-5-5-9-3zm5 5l9 2-5-4-9-3zm6 4l8 3-5-5-9-2zm5 2l8 5-5-4-8-3z"/><path class="c" d="M1141 2121l8 6-5-4-8-5zm6 4l8 8-6-6-8-6zm5 6l8 9-5-7-8-8zm5 9l8 8-5-8-8-9zm5 10l8 6-5-8-8-8zm5 11l9 3-6-8-8-6z"/><path class="d" d="M1172 2173l9 0-5-9-9-3zm6 12l8-2-5-10-9 0zm5 11l8-3-5-10-8 2z"/><path class="e" d="M1188 2205l9-2-6-10-8 3zm6 7l8-1-5-8-9 2z"/><path class="m" d="M1199 2216l8 1-5-6-8 1z"/><path class="n" d="M1205 2219l8 2-6-4-8-1zm6 4l8 2-6-4-8-2zm5 6l9 0-6-4-8-2zm6 7l8-2-5-5-9 0zm6 7l8-4-6-5-8 2zm5 7l9-5-6-6-8 4zm6 5l9-5-6-5-9 5zm6 5l9-5-6-5-9 5z"/><path class="m" d="M1251 2264l9-4-6-5-9 5zm6 4l9-4-6-4-9 4zm6 4l9-3-6-5-9 4zm6 5l9-3-6-5-9 3z"/><path class="c" d="M1072 2085l8 2-4-2-9-1zm5 0l8 3-5-1-8-2zm5 0l8 2-5 1-8-3z"/><path class="b" d="M1087 2086l8 1-5 0-8-2zm5 1l8 1-5-1-8-1zm5 2l8 2-5-3-8-1zm5 4l8 3-5-5-8-2zm5 4l8 5-5-6-8-3zm5 5l8 5-5-5-8-5zm5 4l8 6-5-5-8-5zm6 2l8 8-6-4-8-6zm5 2l8 8-5-2-8-8zm5 3l8 8-5-3-8-8zm5 4l9 8-6-4-8-8zm6 6l8 8-5-6-9-8zm5 9l8 8-5-9-8-8z"/><path class="c" d="M1154 2143l8 7-5-10-8-8zm5 11l8 7-5-11-8-7zm5 12l8 7-5-12-8-7zm5 12l9 7-6-12-8-7z"/><path class="d" d="M1175 2191l8 5-5-11-9-7zm5 11l8 3-5-9-8-5z"/><path class="e" d="M1185 2209l9 3-6-7-8-3z"/><path class="m" d="M1191 2214l8 2-5-4-9-3z"/><path class="n" d="M1196 2218l9 1-6-3-8-2zm6 5l9 0-6-4-9-1zm6 6l8 0-5-6-9 0zm5 8l9-1-6-7-8 0zm6 8l9-2-6-7-9 1zm6 7l8-2-5-7-9 2zm5 6l9-3-6-5-8 2zm6 4l9-2-6-5-9 3z"/><path class="m" d="M1242 2266l9-2-6-4-9 2zm6 4l9-2-6-4-9 2zm6 5l9-3-6-4-9 2zm7 5l8-3-6-5-9 3z"/><path class="c" d="M1064 2080l8 5-5-1-8-5zm5 1l8 4-5 0-8-5z"/><path class="b" d="M1074 2082l8 3-5 0-8-4zm5 3l8 1-5-1-8-3zm5 2l8 0-5-1-8-1zm5 2l8 0-5-2-8 0zm5 2l8 2-5-4-8 0z"/><path class="a" d="M1099 2093l8 4-5-4-8-2zm5 1l8 8-5-5-8-4zm5 2l8 10-5-4-8-8zm5 2l9 10-6-2-8-10zm6 3l8 9-5-2-9-10zm5 4l8 8-5-3-8-9zm5 6l8 6-5-4-8-8zm5 7l9 5-6-6-8-6zm6 8l8 6-5-9-9-5z"/><path class="b" d="M1146 2135l8 8-5-11-8-6zm5 9l8 10-5-11-8-8zm5 10l8 12-5-12-8-10zm5 12l8 12-5-12-8-12z"/><path class="c" d="M1167 2180l8 11-6-13-8-12z"/><path class="d" d="M1172 2193l8 9-5-11-8-11zm5 11l8 5-5-7-8-9z"/><path class="e" d="M1182 2212l9 2-6-5-8-5zm6 6l8 0-5-4-9-2z"/><path class="m" d="M1194 2224l8-1-6-5-8 0z"/><path class="n" d="M1199 2231l9-2-6-6-8 1zm6 7l8-1-5-8-9 2zm5 8l9-1-6-8-8 1zm6 6l9 0-6-7-9 1z"/><path class="m" d="M1222 2257l8 1-5-6-9 0zm6 5l8 0-6-4-8-1zm6 5l8-1-6-4-8 0z"/><path class="e" d="M1240 2272l8-2-6-4-8 1z"/><path class="m" d="M1246 2277l8-2-6-5-8 2zm6 6l9-3-7-5-8 2z"/><path class="c" d="M1056 2073l8 7-5-1-8-5z"/><path class="b" d="M1061 2075l8 6-5-1-8-7zm4 4l9 3-5-1-8-6zm5 5l9 1-5-3-9-3zm5 4l9-1-5-2-9-1z"/><path class="a" d="M1080 2089l9 0-5-2-9 1zm5 0l9 2-5-2-9 0zm5-1l9 5-5-2-9-2zm6-2l8 8-5-1-9-5z"/><path class="f" d="M1101 2086l8 10-5-2-8-8zm5 2l8 10-5-2-8-10zm5 4l9 9-6-3-8-10zm5 6l9 7-5-4-9-9zm6 8l8 5-5-6-9-7zm5 8l8 4-5-7-8-5zm5 8l9 4-6-8-8-4z"/><path class="a" d="M1137 2128l9 7-5-9-9-4zm6 6l8 10-5-9-9-7zm5 7l8 13-5-10-8-10z"/><path class="b" d="M1153 2152l8 14-5-12-8-13zm6 14l8 14-6-14-8-14z"/><path class="c" d="M1164 2182l8 11-5-13-8-14z"/><path class="d" d="M1169 2197l8 7-5-11-8-11zm5 12l8 3-5-8-8-7z"/><path class="e" d="M1179 2218l9 0-6-6-8-3zm6 8l9-2-6-6-9 0zm5 7l9-2-5-7-9 2zm6 7l9-2-6-7-9 2z"/><path class="m" d="M1202 2246l8 0-5-8-9 2zm6 5l8 1-6-6-8 0z"/><path class="e" d="M1213 2256l9 1-6-5-8-1zm6 4l9 2-6-5-9-1zm6 5l9 2-6-5-9-2zm6 7l9 0-6-5-9-2zm6 7l9-2-6-5-9 0z"/><path class="m" d="M1243 2287l9-4-6-6-9 2z"/><path class="b" d="M1047 2070l9 3-5 1-8-4zm5 3l9 2-5-2-9-3zm5 5l8 1-4-4-9-2zm5 5l8 1-5-5-8-1z"/><path class="a" d="M1067 2087l8 1-5-4-8-1zm5 1l8 1-5-1-8-1zm5-2l8 3-5 0-8-1z"/><path class="f" d="M1082 2083l8 5-5 1-8-3zm5-3l9 6-6 2-8-5zm5-1l9 7-5 0-9-6z"/><path class="g" d="M1098 2081l8 7-5-2-9-7zm5 5l8 6-5-4-8-7zm5 8l8 4-5-6-8-6zm5 9l9 3-6-8-8-4zm5 9l9 2-5-8-9-3z"/><path class="f" d="M1124 2120l8 2-5-8-9-2zm5 5l8 3-5-6-8-2zm5 3l9 6-6-6-8-3zm6 4l8 9-5-7-9-6z"/><path class="a" d="M1145 2141l8 11-5-11-8-9zm5 14l9 11-6-14-8-11z"/><path class="b" d="M1155 2173l9 9-5-16-9-11z"/><path class="c" d="M1160 2190l9 7-5-15-9-9z"/><path class="d" d="M1166 2204l8 5-5-12-9-7zm5 12l8 2-5-9-8-5zm5 10l9 0-6-8-8-2z"/><path class="e" d="M1182 2235l8-2-5-7-9 0zm5 7l9-2-6-7-8 2zm6 5l9-1-6-6-9 2zm6 4l9 0-6-5-9 1zm6 3l8 2-5-5-9 0zm6 4l8 2-6-4-8-2zm6 4l8 3-6-5-8-2zm5 8l9 2-6-7-8-3zm6 11l9-2-6-7-9-2z"/><path class="m" d="M1234 2290l9-3-6-8-9 2z"/><path class="b" d="M1039 2071l8-1-4 0-9 1zm5 3l8-1-5-3-8 1zm5 4l8 0-5-5-8 1z"/><path class="a" d="M1053 2081l9 2-5-5-8 0zm5 2l9 4-5-4-9-2zm5 0l9 5-5-1-9-4z"/><path class="f" d="M1068 2081l9 5-5 2-9-5zm5-2l9 4-5 3-9-5z"/><path class="g" d="M1079 2076l8 4-5 3-9-4zm5 0l8 3-5 1-8-4zm5 2l9 3-6-2-8-3zm5 6l9 2-5-5-9-3zm5 8l9 2-5-8-9-2zm5 10l9 1-5-9-9-2zm6 10l8 0-5-9-9-1zm5 8l9 0-6-8-8 0z"/><path class="f" d="M1120 2124l9 1-5-5-9 0zm6 3l8 1-5-3-9-1zm5 3l9 2-6-4-8-1zm6 7l8 4-5-9-9-2z"/><path class="a" d="M1142 2150l8 5-5-14-8-4z"/><path class="b" d="M1147 2166l8 7-5-18-8-5zm5 17l8 7-5-17-8-7z"/><path class="c" d="M1157 2199l9 5-6-14-8-7z"/><path class="d" d="M1162 2212l9 4-5-12-9-5zm6 12l8 2-5-10-9-4zm5 11l9 0-6-9-8-2zm6 8l8-1-5-7-9 0z"/><path class="e" d="M1184 2249l9-2-6-5-8 1zm6 3l9-1-6-4-9 2zm6 2l9 0-6-3-9 1zm6 1l9 3-6-4-9 0zm6 4l9 3-6-4-9-3zm6 10l8 1-5-8-9-3zm5 14l9-2-6-11-8-1z"/><path class="m" d="M1225 2293l9-3-6-9-9 2z"/><path class="b" d="M1030 2077l9-6-5 0-8 4zm5 1l9-4-5-3-9 6z"/><path class="a" d="M1040 2079l9-1-5-4-9 4zm5 0l8 2-4-3-9 1zm5-2l8 6-5-2-8-2z"/><path class="f" d="M1055 2076l8 7-5 0-8-6zm5-2l8 7-5 2-8-7z"/><path class="g" d="M1065 2073l8 6-5 2-8-7zm5-1l9 4-6 3-8-6zm5 2l9 2-5 0-9-4z"/><path class="h" d="M1080 2078l9 0-5-2-9-2zm5 6l9 0-5-6-9 0zm5 8l9 0-5-8-9 0z"/><path class="g" d="M1096 2102l8 0-5-10-9 0zm5 11l9-1-6-10-8 0zm5 8l9-1-5-8-9 1z"/><path class="f" d="M1111 2127l9-3-5-4-9 1zm6 3l9-3-6-3-9 3zm5 2l9-2-5-3-9 3zm6 7l9-2-6-7-9 2zm5 11l9 0-5-13-9 2z"/><path class="a" d="M1138 2164l9 2-5-16-9 0z"/><path class="b" d="M1143 2179l9 4-5-17-9-2zm6 14l8 6-5-16-9-4z"/><path class="c" d="M1154 2207l8 5-5-13-8-6zm5 13l9 4-6-12-8-5z"/><path class="d" d="M1164 2232l9 3-5-11-9-4zm6 10l9 1-6-8-9-3zm6 7l8 0-5-6-9-1zm5 4l9-1-6-3-8 0zm6 1l9 0-6-2-9 1zm6 1l9 0-6-1-9 0zm6 3l9 1-6-4-9 0z"/><path class="e" d="M1205 2269l9 0-6-10-9-1zm5 16l9-2-5-14-9 0z"/><path class="m" d="M1216 2296l9-3-6-10-9 2z"/><path class="b" d="M1022 2083l8-6-4-2-9 6z"/><path class="a" d="M1027 2082l8-4-5-1-8 6zm5-2l8-1-5-1-8 4z"/><path class="f" d="M1036 2075l9 4-5 0-8 1zm5-5l9 7-5 2-9-4z"/><path class="g" d="M1046 2067l9 9-5 1-9-7zm5-3l9 10-5 2-9-9zm5 0l9 9-5 1-9-10z"/><path class="h" d="M1061 2066l9 6-5 1-9-9zm5 4l9 4-5-2-9-6zm5 6l9 2-5-4-9-4zm6 7l8 1-5-6-9-2zm5 10l8-1-5-8-8-1z"/><path class="g" d="M1087 2104l9-2-6-10-8 1zm5 11l9-2-5-11-9 2zm5 10l9-4-5-8-9 2z"/><path class="f" d="M1102 2131l9-4-5-6-9 4zm6 4l9-5-6-3-9 4zm5 2l9-5-5-2-9 5zm6 6l9-4-6-7-9 5zm5 10l9-3-5-11-9 4z"/><path class="a" d="M1129 2165l9-1-5-14-9 3zm6 13l8 1-5-15-9 1z"/><path class="b" d="M1140 2190l9 3-6-14-8-1zm5 12l9 5-5-14-9-3z"/><path class="c" d="M1151 2215l8 5-5-13-9-5zm5 13l8 4-5-12-8-5z"/><path class="d" d="M1161 2239l9 3-6-10-8-4zm6 8l9 2-6-7-9-3zm6 5l8 1-5-4-9-2zm5 3l9-1-6-1-8-1zm6 1l9-1-6-1-9 1zm6 5l9-3-6-3-9 1zm6 11l9-3-6-11-9 3z"/><path class="e" d="M1201 2288l9-3-5-16-9 3z"/><path class="m" d="M1207 2299l9-3-6-11-9 3z"/><path class="a" d="M1014 2086l8-3-5-2-8 3zm4-2l9-2-5 1-8 3z"/><path class="f" d="M1023 2079l9 1-5 2-9 2zm5-8l8 4-4 5-9-1z"/><path class="g" d="M1032 2063l9 7-5 5-8-4zm5-6l9 10-5 3-9-7z"/><path class="h" d="M1042 2054l9 10-5 3-9-10zm5 0l9 10-5 0-9-10zm5 3l9 9-5-2-9-10z"/><path class="i" d="M1058 2063l8 7-5-4-9-9zm5 8l8 5-5-6-8-7z"/><path class="h" d="M1068 2080l9 3-6-7-8-5zm5 12l9 1-5-10-9-3z"/><path class="g" d="M1078 2105l9-1-5-11-9-1zm5 13l9-3-5-11-9 1z"/><path class="f" d="M1088 2128l9-3-5-10-9 3zm6 7l8-4-5-6-9 3zm5 4l9-4-6-4-8 4zm5 2l9-4-5-2-9 4zm6 6l9-4-6-6-9 4zm5 9l9-3-5-10-9 4zm5 12l9-3-5-12-9 3z"/><path class="a" d="M1126 2180l9-2-6-13-9 3z"/><path class="b" d="M1131 2190l9 0-5-12-9 2zm5 10l9 2-5-12-9 0zm6 11l9 4-6-13-9-2z"/><path class="c" d="M1147 2222l9 6-5-13-9-4zm6 11l8 6-5-11-9-6z"/><path class="d" d="M1158 2242l9 5-6-8-8-6zm6 7l9 3-6-5-9-5zm6 6l8 0-5-3-9-3zm5 5l9-4-6-1-8 0zm6 7l9-6-6-5-9 4zm6 11l9-6-6-11-9 6z"/><path class="e" d="M1192 2292l9-4-5-16-9 6z"/><path class="m" d="M1198 2302l9-3-6-11-9 4z"/><path class="a" d="M1005 2086l9 0-5-2-9 1zm5-3l8 1-4 2-9 0z"/><path class="f" d="M1014 2076l9 3-5 5-8-1z"/><path class="g" d="M1019 2066l9 5-5 8-9-3zm5-9l8 6-4 8-9-5z"/><path class="h" d="M1029 2049l8 8-5 6-8-6z"/><path class="i" d="M1033 2043l9 11-5 3-8-8zm5-1l9 12-5 0-9-11zm6 3l8 12-5-3-9-12zm5 7l9 11-6-6-8-12zm5 10l9 9-5-8-9-11zm5 13l9 5-5-9-9-9z"/><path class="h" d="M1064 2090l9 2-5-12-9-5zm5 16l9-1-5-13-9-2z"/><path class="g" d="M1074 2120l9-2-5-13-9 1z"/><path class="f" d="M1079 2132l9-4-5-10-9 2zm6 6l9-3-6-7-9 4zm5 2l9-1-5-4-9 3zm5 2l9-1-5-2-9 1z"/><path class="g" d="M1101 2148l9-1-6-6-9 1z"/><path class="f" d="M1106 2158l9-2-5-9-9 1zm5 13l9-3-5-12-9 2z"/><path class="a" d="M1117 2183l9-3-6-12-9 3zm5 9l9-2-5-10-9 3z"/><path class="b" d="M1127 2200l9 0-5-10-9 2zm6 9l9 2-6-11-9 0zm5 8l9 5-5-11-9-2z"/><path class="c" d="M1144 2226l9 7-6-11-9-5zm6 10l8 6-5-9-9-7z"/><path class="d" d="M1155 2245l9 4-6-7-8-6zm6 10l9 0-6-6-9-4zm5 9l9-4-5-5-9 0zm6 10l9-7-6-7-9 4zm5 11l10-7-6-11-9 7z"/><path class="e" d="M1183 2297l9-5-5-14-10 7z"/><path class="m" d="M1189 2305l9-3-6-10-9 5z"/><path class="a" d="M996 2082l9 4-5-1-8-1z"/><path class="f" d="M1001 2078l9 5-5 3-9-4zm5-8l8 6-4 7-9-5z"/><path class="g" d="M1010 2060l9 6-5 10-8-6z"/><path class="h" d="M1015 2050l9 7-5 9-9-6z"/><path class="i" d="M1020 2041l9 8-5 8-9-7zm4-7l9 9-4 6-9-8z"/><path class="j" d="M1029 2032l9 10-5 1-9-9zm6 2l9 11-6-3-9-10zm5 7l9 11-5-7-9-11zm5 12l9 9-5-10-9-11z"/><path class="i" d="M1050 2069l9 6-5-13-9-9zm5 19l9 2-5-15-9-6z"/><path class="h" d="M1060 2106l9 0-5-16-9-2z"/><path class="g" d="M1065 2122l9-2-5-14-9 0z"/><path class="f" d="M1070 2134l9-2-5-12-9 2zm6 5l9-1-6-6-9 2zm5 1l9 0-5-2-9 1z"/><path class="g" d="M1086 2141l9 1-5-2-9 0zm6 6l9 1-6-6-9-1z"/><path class="f" d="M1097 2158l9 0-5-10-9-1zm5 15l9-2-5-13-9 0zm6 12l9-2-6-12-9 2z"/><path class="a" d="M1113 2195l9-3-5-9-9 2zm5 7l9-2-5-8-9 3z"/><path class="b" d="M1124 2208l9 1-6-9-9 2zm6 7l8 2-5-8-9-1z"/><path class="c" d="M1135 2222l9 4-6-9-8-2zm6 9l9 5-6-10-9-4zm5 11l9 3-5-9-9-5z"/><path class="d" d="M1152 2255l9 0-6-10-9-3zm5 14l9-5-5-9-9 0zm5 13l10-8-6-10-9 5zm6 10l9-7-5-11-10 8z"/><path class="e" d="M1174 2301l9-4-6-12-9 7z"/><path class="m" d="M1180 2309l9-4-6-8-9 4z"/><path class="a" d="M988 2078l8 4-4 2-9-2z"/><path class="f" d="M992 2071l9 7-5 4-8-4z"/><path class="g" d="M997 2063l9 7-5 8-9-7z"/><path class="h" d="M1001 2054l9 6-4 10-9-7z"/><path class="i" d="M1006 2044l9 6-5 10-9-6z"/><path class="j" d="M1011 2035l9 6-5 9-9-6zm4-6l9 5-4 7-9-6z"/><path class="k" d="M1020 2026l9 6-5 2-9-5zm5 2l10 6-6-2-9-6zm6 8l9 5-5-7-10-6zm5 13l9 4-5-12-9-5z"/><path class="j" d="M1041 2066l9 3-5-16-9-4z"/><path class="i" d="M1046 2086l9 2-5-19-9-3z"/><path class="h" d="M1051 2106l9 0-5-18-9-2z"/><path class="g" d="M1056 2122l9 0-5-16-9 0zm6 12l8 0-5-12-9 0z"/><path class="f" d="M1067 2139l9 0-6-5-8 0zm5 1l9 0-5-1-9 0z"/><path class="g" d="M1077 2141l9 0-5-1-9 0zm6 5l9 1-6-6-9 0zm5 12l9 0-5-11-9-1z"/><path class="f" d="M1093 2173l9 0-5-15-9 0zm6 12l9 0-6-12-9 0z"/><path class="a" d="M1104 2195l9 0-5-10-9 0zm5 7l9 0-5-7-9 0zm6 7l9-1-6-6-9 0z"/><path class="b" d="M1120 2216l10-1-6-7-9 1z"/><path class="c" d="M1126 2223l9-1-5-7-10 1zm6 9l9-1-6-9-9 1zm5 12l9-2-5-11-9 1z"/><path class="d" d="M1142 2258l10-3-6-13-9 2zm6 15l9-4-5-14-10 3zm5 14l9-5-5-13-9 4zm6 10l9-5-6-10-9 5z"/><path class="e" d="M1165 2305l9-4-6-9-9 5z"/><path class="m" d="M1170 2312l10-3-6-8-9 4z"/><path class="a" d="M979 2074l9 4-5 4-9-1z"/><path class="f" d="M983 2066l9 5-4 7-9-4z"/><path class="g" d="M988 2057l9 6-5 8-9-5z"/><path class="h" d="M992 2048l9 6-4 9-9-6z"/><path class="i" d="M997 2039l9 5-5 10-9-6z"/><path class="j" d="M1002 2032l9 3-5 9-9-5z"/><path class="k" d="M1006 2027l9 2-4 6-9-3zm5-1l9 0-5 3-9-2z"/><path class="l" d="M1016 2030l9-2-5-2-9 0zm5 8l10-2-6-8-9 2z"/><path class="k" d="M1027 2051l9-2-5-13-10 2z"/><path class="j" d="M1032 2067l9-1-5-17-9 2z"/><path class="i" d="M1037 2086l9 0-5-20-9 1z"/><path class="h" d="M1042 2105l9 1-5-20-9 0z"/><path class="g" d="M1047 2122l9 0-5-16-9-1zm6 12l9 0-6-12-9 0z"/><path class="f" d="M1058 2140l9-1-5-5-9 0zm5 1l9-1-5-1-9 1z"/><path class="g" d="M1068 2142l9-1-5-1-9 1zm6 5l9-1-6-5-9 1zm5 11l9 0-5-12-9 1z"/><path class="f" d="M1084 2171l9 2-5-15-9 0zm6 12l9 2-6-12-9-2zm5 10l9 2-5-10-9-2z"/><path class="a" d="M1100 2203l9-1-5-7-9-2zm6 11l9-5-6-7-9 1z"/><path class="b" d="M1111 2224l9-8-5-7-9 5z"/><path class="c" d="M1117 2233l9-10-6-7-9 8zm5 8l10-9-6-9-9 10zm6 11l9-8-5-12-10 9z"/><path class="d" d="M1133 2264l9-6-5-14-9 8zm6 12l9-3-6-15-9 6zm5 12l9-1-5-14-9 3zm6 10l9-1-6-10-9 1z"/><path class="e" d="M1155 2307l10-2-6-8-9 1z"/><path class="m" d="M1161 2315l9-3-5-7-10 2z"/><path class="f" d="M970 2073l9 1-5 7-8 0zm4-9l9 2-4 8-9-1z"/><path class="g" d="M979 2054l9 3-5 9-9-2z"/><path class="h" d="M983 2045l9 3-4 9-9-3z"/><path class="i" d="M988 2038l9 1-5 9-9-3z"/><path class="j" d="M993 2033l9-1-5 7-9-1z"/><path class="k" d="M997 2031l9-4-4 5-9 1z"/><path class="l" d="M1002 2032l9-6-5 1-9 4zm5 6l9-8-5-4-9 6zm5 9l9-9-5-8-9 8z"/><path class="k" d="M1018 2059l9-8-6-13-9 9z"/><path class="j" d="M1023 2074l9-7-5-16-9 8zm5 16l9-4-5-19-9 7z"/><path class="h" d="M1033 2107l9-2-5-19-9 4z"/><path class="g" d="M1038 2122l9 0-5-17-9 2zm5 12l10 0-6-12-9 0z"/><path class="f" d="M1049 2141l9-1-5-6-10 0zm5 3l9-3-5-1-9 1z"/><path class="g" d="M1059 2145l9-3-5-1-9 3zm5 5l10-3-6-5-9 3zm6 8l9 0-5-11-10 3zm5 11l9 2-5-13-9 0z"/><path class="f" d="M1080 2179l10 4-6-12-9-2zm6 12l9 2-5-10-10-4z"/><path class="a" d="M1091 2208l9-5-5-10-9-2z"/><path class="b" d="M1096 2227l10-13-6-11-9 5z"/><path class="c" d="M1102 2243l9-19-5-10-10 13zm5 9l10-19-6-9-9 19zm6 5l9-16-5-8-10 19z"/><path class="d" d="M1118 2263l10-11-6-11-9 16zm6 7l9-6-5-12-10 11zm5 8l10-2-6-12-9 6zm6 8l9 2-5-12-10 2zm6 11l9 1-6-10-9-2z"/><path class="e" d="M1146 2309l9-2-5-9-9-1z"/><path class="m" d="M1152 2318l9-3-6-8-9 2z"/><path class="f" d="M961 2074l9-1-4 8-9 1zm5-9l8-1-4 9-9 1z"/><path class="g" d="M970 2056l9-2-5 10-8 1z"/><path class="h" d="M974 2048l9-3-4 9-9 2z"/><path class="i" d="M979 2043l9-5-5 7-9 3z"/><path class="j" d="M984 2040l9-7-5 5-9 5z"/><path class="k" d="M988 2040l9-9-4 2-9 7zm5 3l9-11-5-1-9 9zm5 7l9-12-5-6-9 11zm5 9l9-12-5-9-9 12zm5 11l10-11-6-12-9 12z"/><path class="j" d="M1014 2083l9-9-5-15-10 11z"/><path class="i" d="M1019 2097l9-7-5-16-9 9z"/><path class="h" d="M1024 2112l9-5-5-17-9 7z"/><path class="g" d="M1029 2126l9-4-5-15-9 5zm5 12l9-4-5-12-9 4z"/><path class="f" d="M1040 2146l9-5-6-7-9 4zm5 3l9-5-5-3-9 5z"/><path class="g" d="M1050 2150l9-5-5-1-9 5zm5 3l9-3-5-5-9 5zm6 6l9-1-6-8-9 3zm5 7l9 3-5-11-9 1z"/><path class="f" d="M1071 2176l9 3-5-10-9-3zm6 16l9-1-6-12-9-3z"/><path class="a" d="M1082 2218l9-10-5-17-9 1z"/><path class="c" d="M1087 2250l9-23-5-19-9 10z"/><path class="d" d="M1092 2271l10-28-6-16-9 23zm5 6l10-25-5-9-10 28zm6-1l10-19-6-5-10 25zm6-1l9-12-5-6-10 19zm6 2l9-7-6-7-9 12zm5 2l9-1-5-8-9 7zm6 5l9 2-6-8-9 1zm6 11l9 2-6-11-9-2z"/><path class="e" d="M1137 2311l9-2-5-12-9-2z"/><path class="m" d="M1143 2322l9-4-6-9-9 2z"/><path class="f" d="M952 2076l9-2-4 8-9 1zm5-7l9-4-5 9-9 2z"/><path class="g" d="M961 2063l9-7-4 9-9 4z"/><path class="h" d="M966 2057l8-9-4 8-9 7z"/><path class="i" d="M970 2054l9-11-5 5-8 9z"/><path class="j" d="M975 2052l9-12-5 3-9 11zm5 1l8-13-4 0-9 12z"/><path class="k" d="M984 2056l9-13-5-3-8 13zm5 6l9-12-5-7-9 13zm5 9l9-12-5-9-9 12z"/><path class="j" d="M999 2082l9-12-5-11-9 12zm6 12l9-11-6-13-9 12z"/><path class="i" d="M1010 2107l9-10-5-14-9 11z"/><path class="h" d="M1015 2122l9-10-5-15-9 10z"/><path class="g" d="M1020 2135l9-9-5-14-9 10z"/><path class="f" d="M1025 2146l9-8-5-12-9 9zm5 7l10-7-6-8-9 8zm6 2l9-6-5-3-10 7z"/><path class="g" d="M1041 2154l9-4-5-1-9 6zm5 1l9-2-5-3-9 4zm5 4l10 0-6-6-9 2zm6 6l9 1-5-7-10 0z"/><path class="f" d="M1062 2175l9 1-5-10-9-1zm5 20l10-3-6-16-9-1z"/><path class="b" d="M1073 2230l9-12-5-26-10 3z"/><path class="d" d="M1078 2269l9-19-5-32-9 12z"/><path class="m" d="M1083 2294l9-23-5-21-9 19z"/><path class="n" d="M1088 2297l9-20-5-6-9 23z"/><path class="e" d="M1094 2290l9-14-6 1-9 20z"/><path class="d" d="M1099 2283l10-8-6 1-9 14zm6-2l10-4-6-2-10 8zm6-1l9-1-5-2-10 4zm6 3l9 1-6-5-9 1zm5 12l10 0-6-11-9-1z"/><path class="e" d="M1128 2313l9-2-5-16-10 0z"/><path class="m" d="M1133 2325l10-3-6-11-9 2z"/><path class="f" d="M944 2079l8-3-4 7-9 1zm4-4l9-6-5 7-8 3z"/><path class="g" d="M952 2073l9-10-4 6-9 6z"/><path class="h" d="M957 2070l9-13-5 6-9 10zm4-1l9-15-4 3-9 13z"/><path class="i" d="M966 2067l9-15-5 2-9 15z"/><path class="j" d="M971 2067l9-14-5-1-9 15zm4 2l9-13-4-3-9 14zm5 4l9-11-5-6-9 13zm5 8l9-10-5-9-9 11z"/><path class="i" d="M990 2091l9-9-5-11-9 10zm6 13l9-10-6-12-9 9z"/><path class="h" d="M1001 2119l9-12-5-13-9 10z"/><path class="g" d="M1006 2134l9-12-5-15-9 12zm5 14l9-13-5-13-9 12z"/><path class="f" d="M1016 2157l9-11-5-11-9 13zm5 4l9-8-5-7-9 11zm5-1l10-5-6-2-9 8z"/><path class="g" d="M1032 2158l9-4-5 1-10 5zm5-1l9-2-5-1-9 4zm5 3l9-1-5-4-9 2zm5 6l10-1-6-6-9 1zm6 10l9-1-5-10-10 1z"/><path class="f" d="M1058 2196l9-1-5-20-9 1z"/><path class="b" d="M1063 2231l10-1-6-35-9 1z"/><path class="d" d="M1068 2271l10-2-5-39-10 1z"/><path class="n" d="M1074 2296l9-2-5-25-10 2z"/><path class="o" d="M1079 2299l9-2-5-3-9 2z"/><path class="m" d="M1085 2291l9-1-6 7-9 2z"/><path class="d" d="M1090 2285l9-2-5 7-9 1zm6-3l9-1-6 2-9 2zm6-1l9-1-6 1-9 1zm5 5l10-3-6-3-9 1zm6 12l9-3-5-12-10 3z"/><path class="e" d="M1118 2317l10-4-6-18-9 3z"/><path class="m" d="M1124 2328l9-3-5-12-10 4z"/><path class="f" d="M935 2083l9-4-5 5-8 2zm4-1l9-7-4 4-9 4z"/><path class="g" d="M944 2083l8-10-4 2-9 7zm4 1l9-14-5 3-8 10z"/><path class="h" d="M953 2083l8-14-4 1-9 14zm4-1l9-15-5 2-8 14z"/><path class="i" d="M962 2080l9-13-5 0-9 15zm5-1l8-10-4-2-9 13zm4 3l9-9-5-4-8 10zm5 7l9-8-5-8-9 9zm5 11l9-9-5-10-9 8z"/><path class="h" d="M987 2115l9-11-6-13-9 9z"/><path class="g" d="M992 2131l9-12-5-15-9 11zm5 16l9-13-5-15-9 12z"/><path class="f" d="M1002 2161l9-13-5-14-9 13zm5 8l9-12-5-9-9 13zm5 1l9-9-5-4-9 12zm5-4l9-6-5 1-9 9z"/><path class="g" d="M1022 2161l10-3-6 2-9 6zm5-2l10-2-5 1-10 3zm6 3l9-2-5-3-10 2zm5 6l9-2-5-6-9 2zm5 10l10-2-6-10-9 2z"/><path class="f" d="M1049 2196l9 0-5-20-10 2z"/><path class="a" d="M1054 2223l9 8-5-35-9 0z"/><path class="c" d="M1059 2255l9 16-5-40-9-8z"/><path class="e" d="M1065 2277l9 19-6-25-9-16z"/><path class="m" d="M1070 2284l9 15-5-3-9-19z"/><path class="e" d="M1075 2282l10 9-6 8-9-15z"/><path class="d" d="M1081 2280l9 5-5 6-10-9zm6 1l9 1-6 3-9-5zm5 2l10-2-6 1-9-1zm6 7l9-4-5-5-10 2zm5 14l10-6-6-12-9 4z"/><path class="e" d="M1109 2321l9-4-5-19-10 6z"/><path class="m" d="M1114 2331l10-3-6-11-9 4z"/><path class="f" d="M926 2088l9-5-4 3-9 3zm4 1l9-7-4 1-9 5z"/><path class="g" d="M935 2091l9-8-5-1-9 7zm4 2l9-9-4-1-9 8z"/><path class="h" d="M944 2093l9-10-5 1-9 9zm4-2l9-9-4 1-9 10zm5-2l9-9-5 2-9 9zm5-1l9-9-5 1-9 9zm4 2l9-8-4-3-9 9zm5 7l9-8-5-7-9 8zm5 12l9-9-5-11-9 8z"/><path class="g" d="M978 2125l9-10-6-15-9 9zm5 17l9-11-5-16-9 10z"/><path class="f" d="M988 2158l9-11-5-16-9 11zm5 13l9-10-5-14-9 11z"/><path class="a" d="M998 2177l9-8-5-8-9 10zm5 0l9-7-5-1-9 8z"/><path class="f" d="M1008 2171l9-5-5 4-9 7zm5-6l9-4-5 5-9 5z"/><path class="g" d="M1018 2163l9-4-5 2-9 4zm5 4l10-5-6-3-9 4zm6 7l9-6-5-6-10 5zm5 9l9-5-5-10-9 6z"/><path class="f" d="M1039 2196l10 0-6-18-9 5z"/><path class="a" d="M1045 2215l9 8-5-27-10 0z"/><path class="b" d="M1050 2237l9 18-5-32-9-8z"/><path class="c" d="M1055 2255l10 22-6-22-9-18z"/><path class="d" d="M1061 2266l9 18-5-7-10-22zm5 5l9 11-5 2-9-18zm6 4l9 5-6 2-9-11zm5 5l10 1-6-1-9-5zm6 6l9-3-5-2-10-1zm5 10l10-6-6-7-9 3zm6 14l9-6-5-14-10 6z"/><path class="e" d="M1099 2325l10-4-6-17-9 6z"/><path class="m" d="M1105 2335l9-4-5-10-10 4z"/><path class="f" d="M917 2093l9-5-4 1-9 4zm5 1l8-5-4-1-9 5z"/><path class="g" d="M926 2094l9-3-5-2-8 5zm4 1l9-2-4-2-9 3z"/><path class="h" d="M935 2095l9-2-5 0-9 2zm4-1l9-3-4 2-9 2zm5-1l9-4-5 2-9 3zm5 2l9-7-5 1-9 4zm4 5l9-10-4-2-9 7z"/><path class="g" d="M958 2108l9-11-5-7-9 10zm5 13l9-12-5-12-9 11zm6 15l9-11-6-16-9 12z"/><path class="f" d="M974 2152l9-10-5-17-9 11zm5 14l9-8-5-16-9 10z"/><path class="a" d="M984 2176l9-5-5-13-9 8zm5 5l9-4-5-6-9 5zm5 0l9-4-5 0-9 4z"/><path class="f" d="M999 2176l9-5-5 6-9 4zm5-4l9-7-5 6-9 5z"/><path class="g" d="M1009 2171l9-8-5 2-9 7zm5 5l9-9-5-4-9 8zm5 7l10-9-6-7-9 9zm5 7l10-7-5-9-10 9z"/><path class="f" d="M1030 2199l9-3-5-13-10 7zm5 12l10 4-6-19-9 3z"/><path class="a" d="M1041 2226l9 11-5-22-10-4z"/><path class="b" d="M1046 2242l9 13-5-18-9-11z"/><path class="c" d="M1051 2255l10 11-6-11-9-13zm6 11l9 5-5-5-10-11zm5 8l10 1-6-4-9-5z"/><path class="d" d="M1068 2282l9-2-5-5-10-1zm5 8l10-4-6-6-9 2zm6 11l9-5-5-10-10 4zm5 14l10-5-6-14-9 5z"/><path class="e" d="M1090 2329l9-4-5-15-10 5z"/><path class="m" d="M1095 2338l10-3-6-10-9 4z"/><path class="f" d="M908 2096l9-3-4 0-9 4z"/><path class="g" d="M913 2094l9 0-5-1-9 3zm4-2l9 2-4 0-9 0zm4-2l9 5-4-1-9-2z"/><path class="h" d="M925 2090l10 5-5 0-9-5zm5 1l9 3-4 1-10-5zm5 4l9-2-5 1-9-3zm5 6l9-6-5-2-9 2z"/><path class="g" d="M944 2111l9-11-4-5-9 6zm5 11l9-14-5-8-9 11zm6 13l8-14-5-13-9 14z"/><path class="f" d="M960 2147l9-11-6-15-8 14zm5 12l9-7-5-16-9 11z"/><path class="a" d="M970 2170l9-4-5-14-9 7zm5 8l9-2-5-10-9 4zm5 5l9-2-5-5-9 2zm5 0l9-2-5 0-9 2zm4-2l10-5-5 5-9 2z"/><path class="f" d="M994 2179l10-7-5 4-10 5zm5 2l10-10-5 1-10 7z"/><path class="g" d="M1005 2186l9-10-5-5-10 10zm5 7l9-10-5-7-9 10zm5 5l9-8-5-7-9 10z"/><path class="f" d="M1020 2204l10-5-6-9-9 8zm6 8l9-1-5-12-10 5zm5 12l10 2-6-15-9 1z"/><path class="a" d="M1036 2239l10 3-5-16-10-2z"/><path class="b" d="M1042 2254l9 1-5-13-10-3z"/><path class="c" d="M1047 2266l10 0-6-11-9-1zm6 11l9-3-5-8-10 0z"/><path class="d" d="M1058 2286l10-4-6-8-9 3zm6 9l9-5-5-8-10 4zm5 10l10-4-6-11-9 5zm6 13l9-3-5-14-10 4z"/><path class="e" d="M1080 2332l10-3-6-14-9 3z"/><path class="m" d="M1086 2341l9-3-5-9-10 3z"/><path class="f" d="M899 2096l9 0-4 1-9 2z"/><path class="g" d="M903 2091l10 3-5 2-9 0zm4-5l10 6-4 2-10-3z"/><path class="h" d="M911 2082l10 8-4 2-10-6zm5 0l9 8-4 0-10-8zm5 5l9 4-5-1-9-8zm4 9l10-1-5-4-9-4z"/><path class="g" d="M930 2108l10-7-5-6-10 1zm6 14l8-11-4-10-10 7zm5 14l8-14-5-11-8 11z"/><path class="f" d="M946 2148l9-13-6-13-8 14zm5 10l9-11-5-12-9 13z"/><path class="a" d="M956 2166l9-7-5-12-9 11zm4 7l10-3-5-11-9 7zm5 6l10-1-5-8-10 3zm5 4l10 0-5-5-10 1zm5 3l10-3-5 0-10 0zm5 1l9-6-4 2-10 3z"/><path class="f" d="M985 2188l9-9-5 2-9 6zm5 3l9-10-5-2-9 9zm5 6l10-11-6-5-9 10zm5 6l10-10-5-7-10 11zm6 3l9-8-5-5-10 10zm5 4l9-6-5-6-9 8zm5 6l10-4-6-8-9 6zm6 11l9-3-5-12-10 4z"/><path class="a" d="M1027 2241l9-2-5-15-9 3z"/><path class="b" d="M1032 2257l10-3-6-15-9 2z"/><path class="c" d="M1038 2271l9-5-5-12-10 3zm5 11l10-5-6-11-9 5z"/><path class="d" d="M1049 2292l9-6-5-9-10 5zm5 8l10-5-6-9-9 6zm6 10l9-5-5-10-10 5zm5 11l10-3-6-13-9 5z"/><path class="e" d="M1071 2335l9-3-5-14-10 3z"/><path class="m" d="M1076 2345l10-4-6-9-9 3z"/><path class="g" d="M890 2091l9 5-4 3-9-2zm4-7l9 7-4 5-9-5z"/><path class="h" d="M898 2077l9 9-4 5-9-7zm4-3l9 8-4 4-9-9zm4 2l10 6-5 0-9-8zm5 8l10 3-5-5-10-6zm5 14l9-2-4-9-10-3z"/><path class="g" d="M921 2115l9-7-5-12-9 2zm6 17l9-10-6-14-9 7z"/><path class="f" d="M932 2147l9-11-5-14-9 10zm5 11l9-10-5-12-9 11z"/><path class="a" d="M942 2167l9-9-5-10-9 10zm4 6l10-7-5-8-9 9zm5 5l9-5-4-7-10 7z"/><path class="b" d="M956 2183l9-4-5-6-9 5zm5 4l9-4-5-4-9 4zm5 4l9-5-5-3-9 4z"/><path class="a" d="M971 2193l9-6-5-1-9 5zm5 3l9-8-5-1-9 6z"/><path class="f" d="M981 2200l9-9-5-3-9 8zm5 7l9-10-5-6-9 9zm5 5l9-9-5-6-9 10zm5 3l10-9-6-3-9 9zm5 3l10-8-5-4-10 9zm6 6l9-8-5-6-10 8z"/><path class="a" d="M1012 2234l10-7-6-11-9 8zm5 13l10-6-5-14-10 7z"/><path class="b" d="M1023 2262l9-5-5-16-10 6z"/><path class="c" d="M1028 2276l10-5-6-14-9 5zm6 12l9-6-5-11-10 5z"/><path class="d" d="M1039 2297l10-5-6-10-9 6zm6 9l9-6-5-8-10 5zm5 8l10-4-6-10-9 6zm6 11l9-4-5-11-10 4z"/><path class="e" d="M1061 2338l10-3-6-14-9 4z"/><path class="m" d="M1067 2348l9-3-5-10-10 3z"/><path class="g" d="M880 2084l10 7-4 6-9-4z"/><path class="h" d="M884 2076l10 8-4 7-10-7zm4-6l10 7-4 7-10-8z"/><path class="i" d="M892 2070l10 4-4 3-10-7zm5 5l9 1-4-2-10-4z"/><path class="h" d="M902 2087l9-3-5-8-9-1zm5 17l9-6-5-14-9 3z"/><path class="g" d="M912 2122l9-7-5-17-9 6zm6 17l9-7-6-17-9 7z"/><path class="f" d="M923 2154l9-7-5-15-9 7zm5 11l9-7-5-11-9 7z"/><path class="a" d="M932 2173l10-6-5-9-9 7zm5 6l9-6-4-6-10 6z"/><path class="b" d="M942 2185l9-7-5-5-9 6zm5 5l9-7-5-5-9 7zm5 5l9-8-5-4-9 7zm5 4l9-8-5-4-9 8zm5 3l9-9-5-2-9 8z"/><path class="a" d="M966 2204l10-8-5-3-9 9zm5 4l10-8-5-4-10 8zm6 7l9-8-5-7-10 8zm5 6l9-9-5-5-9 8zm5 4l9-10-5-3-9 9zm5 3l9-10-5-3-9 10zm5 6l10-10-6-6-9 10zm5 9l10-9-5-10-10 10z"/><path class="b" d="M1008 2255l9-8-5-13-10 9zm5 13l10-6-6-15-9 8z"/><path class="c" d="M1019 2281l9-5-5-14-10 6zm5 11l10-4-6-12-9 5z"/><path class="d" d="M1030 2302l9-5-5-9-10 4zm5 9l10-5-6-9-9 5zm5 8l10-5-5-8-10 5zm6 10l10-4-6-11-10 5z"/><path class="e" d="M1051 2341l10-3-5-13-10 4z"/><path class="m" d="M1057 2351l10-3-6-10-10 3z"/><path class="g" d="M871 2080l9 4-3 9-10-4z"/><path class="h" d="M874 2072l10 4-4 8-9-4zm4-3l10 1-4 6-10-4z"/><path class="i" d="M883 2072l9-2-4 0-10-1zm5 9l9-6-5-5-9 2z"/><path class="h" d="M893 2095l9-8-5-12-9 6zm5 17l9-8-5-17-9 8z"/><path class="g" d="M903 2129l9-7-5-18-9 8zm5 15l10-5-6-17-9 7z"/><path class="f" d="M913 2157l10-3-5-15-10 5zm5 10l10-2-5-11-10 3z"/><path class="a" d="M923 2176l9-3-4-8-10 2zm5 8l9-5-5-6-9 3z"/><path class="b" d="M933 2193l9-8-5-6-9 5zm5 8l9-11-5-5-9 8zm5 6l9-12-5-5-9 11zm5 4l9-12-5-4-9 12zm4 1l10-10-5-3-9 12zm5 1l9-9-4-2-10 10zm5 3l9-8-5-4-9 9z"/><path class="a" d="M967 2222l10-7-6-7-9 8zm5 7l10-8-5-6-10 7zm5 5l10-9-5-4-10 8zm6 5l9-11-5-3-10 9zm5 6l9-11-5-6-9 11zm5 8l9-10-5-9-9 11z"/><path class="b" d="M998 2263l10-8-6-12-9 10zm6 11l9-6-5-13-10 8z"/><path class="c" d="M1009 2285l10-4-6-13-9 6zm5 10l10-3-5-11-10 4z"/><path class="d" d="M1020 2306l10-4-6-10-10 3zm5 9l10-4-5-9-10 4zm6 9l9-5-5-8-10 4zm5 9l10-4-6-10-9 5z"/><path class="e" d="M1042 2345l9-4-5-12-10 4z"/><path class="m" d="M1047 2355l10-4-6-10-9 4z"/><path class="g" d="M861 2081l10-1-4 9-9 2z"/><path class="h" d="M865 2075l9-3-3 8-10 1zm4 0l9-6-4 3-9 3z"/><path class="i" d="M874 2081l9-9-5-3-9 6zm5 11l9-11-5-9-9 9z"/><path class="h" d="M884 2106l9-11-5-14-9 11zm5 15l9-9-5-17-9 11z"/><path class="g" d="M894 2135l9-6-5-17-9 9zm5 13l9-4-5-15-9 6z"/><path class="f" d="M904 2159l9-2-5-13-9 4z"/><path class="a" d="M909 2168l9-1-5-10-9 2zm5 10l9-2-5-9-9 1z"/><path class="b" d="M919 2189l9-5-5-8-9 2zm5 11l9-7-5-9-9 5zm5 11l9-10-5-8-9 7z"/><path class="c" d="M934 2219l9-12-5-6-9 10zm5 4l9-12-5-4-9 12zm4 1l9-12-4-1-9 12zm5 0l9-11-5-1-9 12z"/><path class="b" d="M953 2226l9-10-5-3-9 11zm5 5l9-9-5-6-9 10zm5 6l9-8-5-7-9 9zm5 6l9-9-5-5-9 8zm5 6l10-10-6-5-9 9zm5 6l10-10-5-6-10 10zm5 7l10-9-5-8-10 10zm6 9l9-8-5-10-10 9z"/><path class="c" d="M994 2280l10-6-6-11-9 8zm5 9l10-4-5-11-10 6zm6 10l9-4-5-10-10 4z"/><path class="d" d="M1010 2309l10-3-6-11-9 4zm6 10l9-4-5-9-10 3zm5 9l10-4-6-9-9 4zm6 9l9-4-5-9-10 4z"/><path class="e" d="M1032 2348l10-3-6-12-9 4z"/><path class="m" d="M1038 2358l9-3-5-10-10 3z"/><path class="f" d="M853 2091l8-10-3 10-9 8z"/><path class="g" d="M856 2087l9-12-4 6-8 10z"/><path class="h" d="M861 2088l8-13-4 0-9 12zm4 6l9-13-5-6-8 13zm5 11l9-13-5-11-9 13zm5 12l9-11-5-14-9 13z"/><path class="g" d="M880 2130l9-9-5-15-9 11zm5 12l9-7-5-14-9 9z"/><path class="f" d="M890 2152l9-4-5-13-9 7zm5 9l9-2-5-11-9 4z"/><path class="a" d="M900 2171l9-3-5-9-9 2zm5 10l9-3-5-10-9 3z"/><path class="b" d="M910 2193l9-4-5-11-9 3zm5 13l9-6-5-11-9 4z"/><path class="c" d="M920 2218l9-7-5-11-9 6zm5 10l9-9-5-8-9 7zm5 6l9-11-5-4-9 9zm4 2l9-12-4-1-9 11zm5 0l9-12-5 0-9 12zm5 1l9-11-5-2-9 12zm5 3l9-9-5-5-9 11zm4 5l10-8-5-6-9 9zm6 5l9-7-5-6-10 8z"/><path class="b" d="M964 2255l9-6-5-6-9 7zm5 6l9-6-5-6-9 6zm5 8l9-7-5-7-9 6zm5 8l10-6-6-9-9 7z"/><path class="c" d="M984 2286l10-6-5-9-10 6zm6 9l9-6-5-9-10 6zm5 8l10-4-6-10-9 6z"/><path class="d" d="M1000 2312l10-3-5-10-10 4zm6 9l10-2-6-10-10 3zm5 9l10-2-5-9-10 2zm6 10l10-3-6-9-10 2z"/><path class="e" d="M1022 2352l10-4-5-11-10 3z"/><path class="m" d="M1028 2362l10-4-6-10-10 4z"/><path class="f" d="M844 2108l9-17-4 8-8 13z"/><path class="g" d="M848 2105l8-18-3 4-9 17zm4 1l9-18-5-1-8 18zm5 4l8-16-4-6-9 18zm4 8l9-13-5-11-8 16zm5 10l9-11-5-12-9 13zm5 11l9-9-5-13-9 11z"/><path class="f" d="M876 2149l9-7-5-12-9 9zm5 9l9-6-5-10-9 7z"/><path class="a" d="M885 2166l10-5-5-9-9 6zm5 9l10-4-5-10-10 5z"/><path class="b" d="M895 2185l10-4-5-10-10 4zm5 11l10-3-5-12-10 4zm5 13l10-3-5-13-10 3z"/><path class="c" d="M910 2222l10-4-5-12-10 3zm5 12l10-6-5-10-10 4z"/><path class="d" d="M920 2242l10-8-5-6-10 6zm5 4l9-10-4-2-10 8z"/><path class="c" d="M930 2247l9-11-5 0-9 10zm4 1l10-11-5-1-9 11zm5 2l10-10-5-3-10 11zm5 3l9-8-4-5-10 10zm5 3l10-6-6-5-9 8zm5 3l10-4-5-5-10 6zm5 6l10-4-5-6-10 4zm5 8l10-4-5-8-10 4zm5 10l10-6-5-8-10 4zm6 9l9-6-5-9-10 6zm5 9l10-6-6-9-9 6z"/><path class="d" d="M985 2309l10-6-5-8-10 6zm6 7l9-4-5-9-10 6zm5 7l10-2-6-9-9 4zm5 8l10-1-5-9-10 2zm6 11l10-2-6-10-10 1z"/><path class="e" d="M1012 2355l10-3-5-12-10 2z"/><path class="m" d="M1018 2365l10-3-6-10-10 3z"/><path class="a" d="M836 2128l8-20-3 4-8 17z"/><path class="f" d="M840 2127l8-22-4 3-8 20zm4 0l8-21-4-1-8 22z"/><path class="g" d="M848 2128l9-18-5-4-8 21zm5 5l8-15-4-8-9 18z"/><path class="f" d="M857 2140l9-12-5-10-8 15zm5 8l9-9-5-11-9 12zm5 9l9-8-5-10-9 9z"/><path class="a" d="M872 2166l9-8-5-9-9 8zm4 8l9-8-4-8-9 8z"/><path class="b" d="M881 2182l9-7-5-9-9 8zm5 9l9-6-5-10-9 7zm5 10l9-5-5-11-9 6z"/><path class="c" d="M896 2212l9-3-5-13-9 5zm5 12l9-2-5-13-9 3zm5 12l9-2-5-12-9 2z"/><path class="d" d="M911 2245l9-3-5-8-9 2zm5 6l9-5-5-4-9 3zm4 4l10-8-5-1-9 5zm5 2l9-9-4-1-10 8z"/><path class="c" d="M930 2259l9-9-5-2-9 9zm5 1l9-7-5-3-9 9zm4 1l10-5-5-3-9 7zm5 3l10-5-5-3-10 5zm5 5l10-4-5-6-10 5zm6 8l9-4-5-8-10 4zm5 11l9-5-5-10-9 4zm5 10l10-6-6-9-9 5zm5 9l10-6-5-9-10 6z"/><path class="d" d="M976 2314l9-5-5-8-10 6zm5 5l10-3-6-7-9 5zm5 5l10-1-5-7-10 3zm6 7l9 0-5-8-10 1zm5 12l10-1-6-11-9 0z"/><path class="e" d="M1003 2358l9-3-5-13-10 1z"/><path class="m" d="M1008 2369l10-4-6-10-9 3z"/><path class="a" d="M828 2148l8-20-3 1-9 17zm4 0l8-21-4 1-8 20zm4 1l8-22-4 0-8 21zm4 1l8-22-4-1-8 22zm5 2l8-19-5-5-8 22zm4 4l8-16-4-7-8 19zm5 6l8-14-5-8-8 16zm4 8l9-13-5-9-8 14zm5 8l9-12-5-9-9 13z"/><path class="b" d="M868 2186l8-12-4-8-9 12zm4 8l9-12-5-8-8 12zm5 8l9-11-5-9-9 12z"/><path class="c" d="M882 2210l9-9-5-10-9 11zm5 9l9-7-5-11-9 9zm5 10l9-5-5-12-9 7z"/><path class="d" d="M896 2238l10-2-5-12-9 5zm5 9l10-2-5-9-10 2zm5 7l10-3-5-6-10 2zm5 5l9-4-4-4-10 3zm5 4l9-6-5-2-9 4zm4 3l10-7-5-2-9 6zm5 2l10-8-5-1-10 7z"/><path class="c" d="M930 2270l9-9-4-1-10 8zm5 2l9-8-5-3-9 9zm5 5l9-8-5-5-9 8zm5 8l10-8-6-8-9 8zm5 10l10-7-5-11-10 8zm5 10l10-7-5-10-10 7z"/><path class="d" d="M961 2313l9-6-5-9-10 7zm5 6l10-5-6-7-9 6zm5 4l10-4-5-5-10 5zm5 4l10-3-5-5-10 4zm6 7l10-3-6-7-10 3zm5 13l10-4-5-12-10 3z"/><path class="e" d="M993 2362l10-4-6-15-10 4z"/><path class="m" d="M998 2372l10-3-5-11-10 4z"/><path class="c" d="M821 2166l7-18-4-2-8 16z"/><path class="b" d="M825 2169l7-21-4 0-7 18zm4 3l7-23-4-1-7 21zm4 2l7-24-4-1-7 23zm4 3l8-25-5-2-7 24zm4 3l8-24-4-4-8 25zm5 5l8-23-5-6-8 24zm4 6l8-21-4-8-8 23z"/><path class="c" d="M855 2197l8-19-5-8-8 21zm4 7l9-18-5-8-8 19zm5 8l8-18-4-8-9 18zm4 7l9-17-5-8-8 18zm5 7l9-16-5-8-9 17z"/><path class="d" d="M878 2232l9-13-5-9-9 16zm4 7l10-10-5-10-9 13zm5 7l9-8-4-9-10 10zm5 7l9-6-5-9-9 8zm5 6l9-5-5-7-9 6zm4 5l10-5-5-5-9 5zm5 5l10-6-5-4-10 5zm5 5l9-8-4-3-10 6zm5 5l9-11-5-2-9 8zm5 4l9-13-5-2-9 11zm5 4l9-15-5-2-9 13zm5 6l9-16-5-5-9 15zm5 6l9-14-5-8-9 16zm5 8l9-12-5-10-9 14zm5 7l9-9-5-10-9 12zm5 7l10-8-6-8-9 9zm5 5l10-7-5-6-10 8zm5 5l10-8-5-4-10 7zm5 5l10-9-5-4-10 8zm6 7l10-9-6-7-10 9z"/><path class="e" d="M977 2355l10-8-5-13-10 9zm6 12l10-5-6-15-10 8z"/><path class="m" d="M988 2375l10-3-5-10-10 5z"/><path class="d" d="M812 2182l9-16-5-4-8 15zm5 5l8-18-4-3-9 16zm4 4l8-19-4-3-8 18zm4 5l8-22-4-2-8 19zm4 4l8-23-4-3-8 22zm4 4l8-24-4-3-8 23zm5 5l8-24-5-5-8 24zm4 5l8-23-4-6-8 24zm4 5l9-22-5-6-8 23zm5 6l8-21-4-7-9 22zm4 6l9-19-5-8-8 21zm5 6l8-18-4-7-9 19zm5 6l8-17-5-7-8 18z"/><path class="e" d="M869 2248l9-16-5-6-8 17zm5 6l8-15-4-7-9 16zm4 5l9-13-5-7-8 15zm5 5l9-11-5-7-9 13zm5 5l9-10-5-6-9 11zm4 5l9-10-4-5-9 10zm5 6l9-11-5-5-9 10zm5 6l9-12-5-5-9 11zm5 6l9-13-5-5-9 12zm5 6l9-15-5-4-9 13zm4 5l10-16-5-4-9 15zm5 6l10-16-5-6-10 16zm5 6l10-16-5-6-10 16zm5 6l10-14-5-8-10 16zm5 5l10-12-5-7-10 14zm5 6l10-11-5-7-10 12zm6 6l9-12-5-5-10 11zm5 5l9-12-5-5-9 12zm5 6l9-13-5-5-9 12zm5 7l10-13-6-7-9 13zm5 8l10-9-5-12-10 13zm6 8l10-5-6-12-10 9z"/><path class="m" d="M978 2379l10-4-5-8-10 5z"/><path class="e" d="M804 2191l8-9-4-5-8 9zm4 5l9-9-5-5-8 9zm4 5l9-10-4-4-9 9zm4 5l9-10-4-5-9 10zm5 5l8-11-4-4-9 10zm4 5l8-12-4-4-8 11zm4 5l9-12-5-5-8 12zm4 5l9-12-4-5-9 12zm5 5l8-12-4-5-9 12zm4 5l9-11-5-6-8 12zm5 5l8-10-4-6-9 11zm4 5l9-9-5-6-8 10zm4 5l10-8-5-6-9 9zm5 6l9-9-4-5-10 8zm5 5l9-8-5-6-9 9zm4 5l9-8-4-5-9 8zm5 6l9-9-5-5-9 8zm4 5l10-9-5-5-9 9zm5 5l9-9-4-5-10 9zm5 6l9-9-5-6-9 9zm4 5l10-8-5-6-9 9zm5 6l10-8-5-6-10 8zm5 6l10-8-5-6-10 8zm5 5l9-8-4-5-10 8zm5 6l9-8-5-6-9 8zm5 6l9-8-5-6-9 8zm5 5l9-7-5-6-9 8zm5 6l9-8-5-5-9 7zm5 6l9-8-5-6-9 8zm5 6l10-8-6-6-9 8z"/><path class="m" d="M942 2352l10-9-5-5-10 8zm5 6l10-9-5-6-10 9zm5 6l10-8-5-7-10 9zm6 6l9-6-5-8-10 8zm5 6l10-4-6-8-9 6zm5 6l10-3-5-7-10 4z"/></g>
<path d="M202.61 582.16h-3.3M201.62 570.7h-3.3M200.59 558.85h-3.3M199.52 546.59h-3.3M198.42 533.89h-3.3M197.28 520.72h-3.3M196.09 507.07h-3.3M243.16 633.17l-2.3 1.9M238.42 627.15l-2.3 1.9M233.81 621.3l-2.3 1.9M229.33 615.61l-2.3 1.9M224.97 610.07l-2.3 1.9M220.73 604.67l-2.3 1.9M216.59 599.42l-2.3 1.9M212.57 594.3l-2.3 1.9M208.64 589.31l-2.3 1.9M204.81 584.44l-2.3 1.9M245.29 632.35l0.3 3M254.43 628.86l0.3 3M263.43 625.42l0.3 3M272.28 622.03l0.3 3M281 618.7l0.3 3M289.59 615.42l0.3 3M298.05 612.19l0.3 3M306.37 609.01l0.3 3M314.58 605.87l0.3 3M322.66 602.78l0.3 3" stroke="#333" stroke-width="0.5" fill="none"/>
<text x="197.01" y="584.06" font-size="5.4" text-anchor="end" fill="#222">−30</text>
<text x="196.02" y="572.6" font-size="5.4" text-anchor="end" fill="#222">−20</text>
<text x="194.99" y="560.75" font-size="5.4" text-anchor="end" fill="#222">−10</text>
<text x="193.92" y="548.49" font-size="5.4" text-anchor="end" fill="#222">0</text>
<text x="192.82" y="535.79" font-size="5.4" text-anchor="end" fill="#222">10</text>
<text x="191.68" y="522.62" font-size="5.4" text-anchor="end" fill="#222">20</text>
<text x="190.49" y="508.97" font-size="5.4" text-anchor="end" fill="#222">30</text>
<text x="239.16" y="641.77" font-size="4.4" text-anchor="middle" fill="#222">0</text>
<text x="234.02" y="632.3" font-size="4.2" text-anchor="end" fill="#222">19.53125</text>
<text x="229.41" y="626.6" font-size="4.2" text-anchor="end" fill="#222">39.0625</text>
<text x="224.93" y="621.06" font-size="4.2" text-anchor="end" fill="#222">78.125</text>
<text x="220.57" y="615.67" font-size="4.2" text-anchor="end" fill="#222">156.25</text>
<text x="216.33" y="610.42" font-size="4.2" text-anchor="end" fill="#222">312.5</text>
<text x="212.19" y="605.32" font-size="4.2" text-anchor="end" fill="#222">625</text>
<text x="208.17" y="600.35" font-size="4.2" text-anchor="end" fill="#222">1,250</text>
<text x="204.24" y="595.51" font-size="4.2" text-anchor="end" fill="#222">2,500</text>
<text x="200.41" y="590.79" font-size="4.2" text-anchor="end" fill="#222">5,000</text>
<text x="245.59" y="641.95" font-size="4.4" text-anchor="middle" fill="#222">0</text>
<text x="254.43" y="637.31" font-size="4.2" fill="#222">19.53125</text>
<text x="263.43" y="633.72" font-size="4.2" fill="#222">39.0625</text>
<text x="272.28" y="630.18" font-size="4.2" fill="#222">78.125</text>
<text x="281" y="626.7" font-size="4.2" fill="#222">156.25</text>
<text x="289.59" y="623.27" font-size="4.2" fill="#222">312.5</text>
<text x="298.05" y="619.89" font-size="4.2" fill="#222">625</text>
<text x="306.37" y="616.56" font-size="4.2" fill="#222">1,250</text>
<text x="314.58" y="613.27" font-size="4.2" fill="#222">2,500</text>
<text x="322.66" y="610.03" font-size="4.2" fill="#222">5,000</text>
<text transform="translate(182.95 547.09) rotate(-86)" font-size="7.6" font-weight="bold" text-anchor="middle">Synergy score</text>
<text transform="translate(197.31 615.9) rotate(55)" font-size="7.9" font-weight="bold" text-anchor="middle">Ribociclib (nM)</text>
<text transform="translate(296.87 638.93) rotate(-21.5)" font-size="7.7" font-weight="bold" text-anchor="middle">BLU-222 (nM)</text>
<text x="264.2" y="457" font-size="9.5" font-weight="bold" text-anchor="middle">Ribociclib<tspan font-size="5.8" dy="-3.6">R</tspan></text>
<text x="264.2" y="469.3" font-size="7.6" text-anchor="middle" fill="#222">MSA score: 19.8</text>
<text x="264.2" y="477.2" font-size="7.6" text-anchor="middle" fill="#222">Mean synergy: 8.1</text>
<g stroke="#333" stroke-width="0.5"><line x1="371.58" y1="507.26" x2="451.26" y2="486.57"/><line x1="451.26" y1="486.57" x2="502.49" y2="525.1"/><line x1="371.58" y1="507.26" x2="377.98" y2="580.2"/><line x1="502.49" y1="525.1" x2="495.43" y2="600.23"/><line x1="377.98" y1="580.2" x2="417.38" y2="629.75"/><line x1="417.38" y1="629.75" x2="495.43" y2="600.23"/><line x1="371.58" y1="507.26" x2="415.05" y2="552.13"/><line x1="502.49" y1="525.1" x2="415.05" y2="552.13"/><line x1="415.05" y1="552.13" x2="417.38" y2="629.75"/><line x1="451.26" y1="486.57" x2="449.79" y2="556.99" stroke-dasharray="1 1.2"/><line x1="377.98" y1="580.2" x2="449.79" y2="556.99" stroke-dasharray="1 1.2"/><line x1="449.79" y1="556.99" x2="495.43" y2="600.23" stroke-dasharray="1 1.2"/></g>
<g transform="scale(0.25)" stroke="#000" stroke-width="1.68" stroke-linejoin="round"><path class="d" d="M1799 2081l8 1-5-8-8 1zm5 8l8 2-5-9-8-1zm5 7l8 1-5-6-8-2zm4 6l8-2-4-3-8-1zm5 4l8-5-5-1-8 2zm5 2l9-7-6 0-8 5zm5 2l9-6-5-3-9 7zm5 3l8-3-4-6-9 6zm5 4l8 2-5-9-8 3zm5 5l8 5-5-8-8-2zm6 6l7 4-5-5-8-5zm5 6l8 0-6-2-7-4zm5 7l8-5-5-2-8 0zm5 7l8-8-5-4-8 5zm5 7l8-8-5-7-8 8zm5 6l8-6-5-8-8 8zm5 2l9-2-6-6-8 6zm6-1l8 1-5-2-9 2zm6-2l8 1-6 2-8-1zm5 1l9-1-6 1-8-1zm6 6l8-4-5-3-9 1zm5 11l8-5-5-10-8 4zm5 13l8-4-5-14-8 5zm5 10l8-1-5-13-8 4zm6 4l8 1-6-6-8 1zm6-1l8-1-6 3-8-1zm6-4l8-3-6 6-8 1zm6-1l9-6-7 4-8 3zm6 6l9-8-6-4-9 6zm5 12l9-7-5-13-9 8zm5 14l9-4-5-17-9 7zm6 10l8 0-5-14-9 4zm6 4l8 1-6-5-8 0z"/><path class="e" d="M1975 2246l8 0-6 0-8-1zm6 7l8-2-6-5-8 0z"/><path class="m" d="M1987 2262l8-3-6-8-8 2z"/><path class="d" d="M1791 2080l8 1-5-6-7 3z"/><path class="c" d="M1796 2084l8 5-5-8-8-1zm5 8l8 4-5-7-8-5z"/><path class="d" d="M1806 2101l7 1-4-6-8-4zm4 9l8-4-5-4-7-1zm5 7l8-9-5-2-8 4zm5 2l8-9-5-2-8 9zm5-1l8-5-5-3-8 9zm5-1l8 0-5-4-8 5zm6 0l7 5-5-5-8 0zm5 6l8 5-6-6-7-5zm5 11l8 0-5-6-8-5zm4 13l9-6-5-7-8 0zm5 10l9-9-5-7-9 6zm5 7l9-9-5-7-9 9zm6 0l8-3-5-6-9 9zm5-3l8 2-5-2-8 3zm6-3l8 4-6 1-8-2zm6 1l8 1-6 2-8-4zm5 7l8-5-5-1-8-1zm5 10l9-9-6-6-8 5zm5 10l9-8-5-11-9 9zm5 9l9-4-5-13-9 8zm6 4l8 2-5-10-9 4zm6 2l8 4-6-4-8-2zm6 0l8 3-6 1-8-4zm6 2l8-3-6 4-8-3zm5 5l9-9-6 1-8 3zm6 8l9-11-6-6-9 9zm5 9l9-8-5-12-9 11zm6 8l8-2-5-14-9 8zm6 5l8 3-6-10-8 2zm6 4l8 3-6-4-8-3z"/><path class="e" d="M1967 2247l8-1-6-1-8-3zm5 9l9-3-6-7-8 1z"/><path class="m" d="M1978 2265l9-3-6-9-9 3z"/><path class="c" d="M1783 2079l8 1-4-2-8 4zm5 1l8 4-5-4-8-1zm5 6l8 6-5-8-8-4zm5 12l8 3-5-9-8-6z"/><path class="d" d="M1802 2112l8-2-4-9-8-3zm5 10l8-5-5-7-8 2zm5 4l8-7-5-2-8 5zm5-2l8-6-5 1-8 7zm5-6l8-1-5 1-8 6zm6-1l8 0-6 0-8 1zm5 5l8 1-5-6-8 0zm4 14l9-2-5-11-8-1zm5 16l8-5-4-13-9 2zm5 12l8-7-5-10-8 5zm5 4l8-4-5-7-8 7zm6-4l8 0-6 0-8 4zm5-6l8 3-5 3-8 0zm6-2l8 2-6 3-8-3zm5 5l9-2-6-1-8-2zm5 11l9-6-5-7-9 2zm5 14l9-10-5-10-9 6zm5 10l9-10-5-10-9 10zm6 3l8-4-5-9-9 10zm6-1l8 1-6-4-8 4zm6-1l8 4-6-2-8-1zm6 3l8 1-6 0-8-4zm5 7l9-4-6-2-8-1zm5 10l9-9-5-5-9 4zm6 9l9-10-6-8-9 9zm6 5l8-6-5-9-9 10zm6 2l8 0-6-8-8 6zm6 2l8 3-6-5-8 0zm6 4l8 3-6-4-8-3z"/><path class="e" d="M1958 2249l9-2-6-5-8-3zm6 11l8-4-5-9-9 2z"/><path class="m" d="M1969 2268l9-3-6-9-8 4z"/><path class="c" d="M1775 2078l8 1-4 3-8 1zm5-1l8 3-5-1-8-1zm5 6l8 3-5-6-8-3zm5 13l8 2-5-12-8-3zm4 16l8 0-4-14-8-2z"/><path class="d" d="M1799 2124l8-2-5-10-8 0zm5 5l8-3-5-4-8 2zm5-2l8-3-5 2-8 3zm5-5l8-4-5 6-8 3zm5-1l9-4-6 1-8 4zm5 6l9-5-5-5-9 4zm5 13l8-4-4-14-9 5zm5 14l8-2-5-16-8 4zm5 10l8 0-5-12-8 2zm5 2l8 2-5-4-8 0zm6-4l8 2-6 4-8-2zm5-5l8 1-5 6-8-2zm6 1l8-2-6 2-8-1zm5 8l8-5-5-5-8 2zm5 14l8-8-5-11-8 5zm5 13l8-7-5-14-8 8zm5 8l8-5-5-10-8 7zm6 2l8-4-6-3-8 5z"/><path class="e" d="M1892 2200l9-2-6 1-8 4zm6-1l9-2-6 1-9 2zm6 4l9-3-6-3-9 2zm5 10l9-6-5-7-9 3zm6 10l8-6-5-10-9 6z"/><path class="d" d="M1920 2232l9-6-6-9-8 6zm6 3l9-4-6-5-9 6zm6 0l9-2-6-2-9 4zm6 0l9 0-6-2-9 2zm6 5l9-1-6-4-9 0z"/><path class="e" d="M1950 2252l8-3-5-10-9 1zm5 12l9-4-6-11-8 3z"/><path class="m" d="M1961 2271l8-3-5-8-9 4z"/><path class="c" d="M1767 2077l8 1-4 5-9 0zm5 0l8 0-5 1-8-1zm5 7l8-1-5-6-8 0zm5 12l8 0-5-13-8 1zm4 14l8 2-4-16-8 0z"/><path class="d" d="M1791 2121l8 3-5-12-8-2zm5 6l8 2-5-5-8-3zm5 1l8-1-5 2-8-2zm5 0l8-6-5 5-8 1zm5 2l8-9-5 1-8 6zm5 7l8-10-5-6-8 9zm5 8l8-5-5-13-8 10zm5 9l8 0-5-14-8 5zm5 5l8 5-5-10-8 0zm5 1l8 6-5-2-8-5zm5 0l9 2-6 4-8-6zm6 1l8-4-5 5-9-2zm5 5l9-8-6-1-8 4zm5 9l9-9-5-8-9 8zm5 12l9-7-5-14-9 9zm5 9l9-3-5-13-9 7z"/><path class="e" d="M1873 2203l8-2-5-8-9 3zm5 2l9-2-6-2-8 2zm6 2l8-7-5 3-9 2zm5 3l9-11-6 1-8 7zm6 6l9-13-6-4-9 11zm5 7l9-10-5-10-9 13zm6 7l9-7-6-10-9 10zm6 5l8-3-5-9-9 7zm5 2l9-2-6-3-8 3z"/><path class="d" d="M1924 2237l8-2-6 0-9 2zm6 2l8-4-6 0-8 2zm5 6l9-5-6-5-8 4z"/><path class="e" d="M1941 2256l9-4-6-12-9 5zm5 11l9-3-5-12-9 4z"/><path class="m" d="M1952 2274l9-3-6-7-9 3z"/><path class="c" d="M1759 2079l8-2-5 6-8-1zm5 2l8-4-5 0-8 2zm5 7l8-4-5-7-8 4zm4 10l9-2-5-12-8 4zm5 10l8 2-4-14-9 2zm5 7l8 6-5-11-8-2z"/><path class="d" d="M1788 2122l8 5-5-6-8-6zm5 6l8 0-5-1-8-5zm5 6l8-6-5 0-8 0zm4 7l9-11-5-2-8 6zm5 5l9-9-5-7-9 11zm5 3l9-4-5-8-9 9zm6 1l8 4-5-9-9 4zm5 1l8 8-5-5-8-4zm5 3l8 6-5-1-8-8zm5 6l8 0-5 0-8-6zm5 9l9-8-6-1-8 0zm5 9l9-12-5-5-9 8zm5 8l9-11-5-9-9 12zm6 5l8-4-5-12-9 11z"/><path class="e" d="M1859 2196l8 0-5-9-8 4zm5 5l9 2-6-7-8 0zm6 8l8-4-5-2-9-2z"/><path class="m" d="M1875 2219l9-12-6-2-8 4z"/><path class="n" d="M1880 2229l9-19-5-3-9 12zm5 7l10-20-6-6-9 19zm6 4l9-17-5-7-10 20zm6 0l9-10-6-7-9 17z"/><path class="e" d="M1903 2239l9-4-6-5-9 10zm6 0l8-2-5-2-9 4zm6 1l9-3-7 0-8 2zm6 4l9-5-6-2-9 3zm5 7l9-6-5-6-9 5zm6 9l9-4-6-11-9 6zm6 10l8-3-5-11-9 4z"/><path class="m" d="M1943 2277l9-3-6-7-8 3z"/><path class="c" d="M1751 2083l8-4-5 3-8 0z"/><path class="b" d="M1756 2088l8-7-5-2-8 4zm4 6l9-6-5-7-8 7z"/><path class="c" d="M1765 2099l8-1-4-10-9 6zm5 5l8 4-5-10-8 1zm5 5l8 6-5-7-8-4zm5 8l8 5-5-7-8-6z"/><path class="d" d="M1784 2128l9 0-5-6-8-5zm5 12l9-6-5-6-9 0zm5 9l8-8-4-7-9 6zm5 4l8-7-5-5-8 8zm5-2l8-2-5-3-8 7zm5-5l9 4-6-1-8 2zm6-1l8 6-5-1-9-4zm5 6l8 3-5-3-8-6zm5 13l8-4-5-6-8-3zm5 14l8-9-5-9-8 4zm5 12l8-12-5-9-8 9zm5 5l8-9-5-8-8 12zm5-1l9-3-6-5-8 9z"/><path class="e" d="M1851 2194l8 2-5-5-9 3zm5 6l8 1-5-5-8-2z"/><path class="m" d="M1861 2214l9-5-6-8-8-1z"/><path class="n" d="M1866 2233l9-14-5-10-9 5z"/><path class="o" d="M1871 2251l9-22-5-10-9 14z"/><path class="p" d="M1876 2261l9-25-5-7-9 22zm6 1l9-22-6-4-9 25z"/><path class="o" d="M1888 2255l9-15-6 0-9 22z"/><path class="n" d="M1894 2247l9-8-6 1-9 15z"/><path class="m" d="M1900 2243l9-4-6 0-9 8z"/><path class="e" d="M1906 2244l9-4-6-1-9 4zm6 5l9-5-6-4-9 4zm6 6l8-4-5-7-9 5zm5 8l9-3-6-9-8 4zm6 9l9-2-6-10-9 3z"/><path class="m" d="M1935 2280l8-3-5-7-9 2z"/><path class="b" d="M1743 2089l8-6-5-1-8 1zm5 6l8-7-5-5-8 6zm4 3l8-4-4-6-8 7zm5 0l8 1-5-5-8 4z"/><path class="c" d="M1762 2099l8 5-5-5-8-1zm5 4l8 6-5-5-8-5zm4 11l9 3-5-8-8-6zm5 14l8 0-4-11-9-3z"/><path class="d" d="M1781 2143l8-3-5-12-8 0zm5 9l8-3-5-9-8 3zm5 1l8 0-5-4-8 3zm5-4l8 2-5 2-8 0zm5-5l8 2-5 5-8-2zm5 0l9 1-6 1-8-2zm5 10l9-3-5-6-9-1zm5 16l9-6-5-13-9 3zm5 16l9-8-5-14-9 6zm5 11l9-7-5-12-9 8zm5 2l9-4-5-5-9 7z"/><path class="e" d="M1837 2196l8-2-5 1-9 4zm5-1l9-1-6 0-8 2z"/><path class="m" d="M1848 2201l8-1-5-6-9 1z"/><path class="n" d="M1853 2220l8-6-5-14-8 1z"/><path class="p" d="M1857 2245l9-12-5-19-8 6z"/><path class="q" d="M1862 2268l9-17-5-18-9 12z"/><path class="r" d="M1867 2282l9-21-5-10-9 17zm5 0l10-20-6-1-9 21z"/><path class="q" d="M1878 2272l10-17-6 7-10 20z"/><path class="p" d="M1885 2259l9-12-6 8-10 17z"/><path class="n" d="M1891 2249l9-6-6 4-9 12z"/><path class="e" d="M1897 2247l9-3-6-1-9 6zm6 3l9-1-6-5-9 3zm6 7l9-2-6-6-9 1zm6 8l8-2-5-8-9 2zm5 10l9-3-6-9-8 2z"/><path class="m" d="M1926 2283l9-3-6-8-9 3z"/><path class="b" d="M1735 2094l8-5-5-6-8 2zm4 4l9-3-5-6-8 5zm5 0l8 0-4-3-9 3zm5-3l8 3-5 0-8 0zm5 0l8 4-5-1-8-3z"/><path class="c" d="M1758 2101l9 2-5-4-8-4zm5 12l8 1-4-11-9-2zm5 15l8 0-5-14-8-1zm5 14l8 1-5-15-8 0zm5 7l8 3-5-9-8-1z"/><path class="d" d="M1783 2149l8 4-5-1-8-3zm5-3l8 3-5 4-8-4zm5-2l8 0-5 5-8-3zm5 5l8-5-5 0-8 0zm5 11l8-6-5-10-8 5zm5 16l8-6-5-16-8 6zm5 14l8-4-5-16-8 6zm5 8l8-1-5-11-8 4zm5 2l8-1-5-2-8 1z"/><path class="e" d="M1828 2198l9-2-6 3-8 1zm6 0l8-3-5 1-9 2z"/><path class="m" d="M1839 2206l9-5-6-6-8 3z"/><path class="o" d="M1844 2224l9-4-5-19-9 5z"/><path class="q" d="M1848 2249l9-4-4-25-9 4z"/><path class="r" d="M1853 2274l9-6-5-23-9 4z"/><path class="s" d="M1858 2289l9-7-5-14-9 6zm5 3l9-10-5 0-9 7z"/><path class="r" d="M1870 2283l8-11-6 10-9 10z"/><path class="t" d="M1876 2269l9-10-7 13-8 11z"/><path class="o" d="M1882 2256l9-7-6 10-9 10z"/><path class="m" d="M1889 2249l8-2-6 2-9 7z"/><path class="e" d="M1895 2249l8 1-6-3-8 2zm5 7l9 1-6-7-8-1zm6 11l9-2-6-8-9-1zm5 11l9-3-5-10-9 2z"/><path class="m" d="M1917 2286l9-3-6-8-9 3z"/><path class="b" d="M1726 2094l9 0-5-9-8 2z"/><path class="a" d="M1731 2095l8 3-4-4-9 0zm5-2l8 5-5 0-8-3zm4-3l9 5-5 3-8-5z"/><path class="b" d="M1745 2092l9 3-5 0-9-5zm5 8l8 1-4-6-9-3zm5 13l8 0-5-12-8-1z"/><path class="c" d="M1760 2127l8 1-5-15-8 0zm4 10l9 5-5-14-8-1zm5 5l9 7-5-7-9-5zm5 1l9 6-5 0-9-7zm5 1l9 2-5 3-9-6z"/><path class="d" d="M1784 2148l9-4-5 2-9-2zm5 8l9-7-5-5-9 4zm5 11l9-7-5-11-9 7zm5 12l9-3-5-16-9 7zm5 10l9 1-5-14-9 3zm5 6l9 3-5-8-9-1zm6 3l8 2-5-2-9-3z"/><path class="e" d="M1820 2200l8-2-5 2-8-2zm5 3l9-5-6 0-8 2z"/><path class="m" d="M1830 2212l9-6-5-8-9 5z"/><path class="o" d="M1835 2226l9-2-5-18-9 6z"/><path class="q" d="M1840 2246l8 3-4-25-9 2z"/><path class="r" d="M1845 2267l8 7-5-25-8-3z"/><path class="s" d="M1850 2283l8 6-5-15-8-7zm5 6l8 3-5-3-8-6z"/><path class="r" d="M1861 2285l9-2-7 9-8-3z"/><path class="t" d="M1867 2274l9-5-6 14-9 2z"/><path class="o" d="M1874 2261l8-5-6 13-9 5z"/><path class="m" d="M1880 2252l9-3-7 7-8 5z"/><path class="e" d="M1886 2249l9 0-6 0-9 3zm6 7l8 0-5-7-9 0zm5 13l9-2-6-11-8 0zm6 12l8-3-5-11-9 2z"/><path class="m" d="M1908 2289l9-3-6-8-8 3z"/><path class="a" d="M1718 2088l8 6-4-7-9-1zm5-1l8 8-5-1-8-6zm4-2l9 8-5 2-8-8zm5 0l8 5-4 3-9-8zm5 5l8 2-5-2-8-5zm5 10l8 0-5-8-8-2z"/><path class="b" d="M1746 2111l9 2-5-13-8 0zm5 10l9 6-5-14-9-2zm5 7l8 9-4-10-9-6z"/><path class="c" d="M1761 2133l8 9-5-5-8-9zm5 5l8 5-5-1-8-9zm5 7l8-1-5-1-8-5zm5 8l8-5-5-4-8 1z"/><path class="d" d="M1781 2163l8-7-5-8-8 5zm5 9l8-5-5-11-8 7zm5 7l8 0-5-12-8 5zm5 6l8 4-5-10-8 0zm5 5l8 5-5-6-8-4zm5 6l9 2-6-3-8-5zm5 7l9-3-5-2-9-2z"/><path class="e" d="M1817 2209l8-6-5-3-9 3zm5 8l8-5-5-9-8 6z"/><path class="n" d="M1827 2226l8 0-5-14-8 5z"/><path class="p" d="M1832 2239l8 7-5-20-8 0z"/><path class="q" d="M1837 2253l8 14-5-21-8-7z"/><path class="r" d="M1842 2266l8 17-5-16-8-14zm5 9l8 14-5-6-8-17z"/><path class="q" d="M1853 2276l8 9-6 4-8-14z"/><path class="p" d="M1859 2272l8 2-6 11-8-9z"/><path class="n" d="M1865 2263l9-2-7 13-8-2z"/><path class="e" d="M1871 2255l9-3-6 9-9 2zm6-3l9-3-6 3-9 3zm6 6l9-2-6-7-9 3zm5 13l9-2-5-13-9 2zm6 13l9-3-6-12-9 2z"/><path class="m" d="M1899 2292l9-3-5-8-9 3z"/><path class="a" d="M1710 2077l8 11-5-2-8-3z"/><path class="f" d="M1714 2074l9 13-5 1-8-11zm5 1l8 10-4 2-9-13zm5 5l8 5-5 0-8-10zm4 9l9 1-5-5-8-5z"/><path class="a" d="M1733 2098l9 2-5-10-9-1zm5 7l8 6-4-11-9-2zm5 6l8 10-5-10-8-6zm5 6l8 11-5-7-8-10z"/><path class="b" d="M1753 2125l8 8-5-5-8-11zm4 11l9 2-5-5-8-8z"/><path class="c" d="M1762 2147l9-2-5-7-9-2zm5 11l9-5-5-8-9 2zm5 9l9-4-5-10-9 5z"/><path class="d" d="M1777 2172l9 0-5-9-9 4zm5 4l9 3-5-7-9 0zm5 4l9 5-5-6-9-3zm6 6l8 4-5-5-9-5zm5 9l8 1-5-6-8-4zm5 10l8-2-5-7-8-1z"/><path class="e" d="M1808 2214l9-5-6-6-8 2zm5 7l9-4-5-8-9 5z"/><path class="m" d="M1818 2227l9-1-5-9-9 4z"/><path class="n" d="M1824 2233l8 6-5-13-9 1z"/><path class="o" d="M1829 2240l8 13-5-14-8-6z"/><path class="p" d="M1834 2249l8 17-5-13-8-13zm5 8l8 18-5-9-8-17z"/><path class="o" d="M1845 2262l8 14-6-1-8-18z"/><path class="n" d="M1851 2264l8 8-6 4-8-14z"/><path class="m" d="M1856 2263l9 0-6 9-8-8z"/><path class="e" d="M1862 2260l9-5-6 8-9 0zm6-1l9-7-6 3-9 5zm6 4l9-5-6-6-9 7zm5 11l9-3-5-13-9 5zm6 13l9-3-6-13-9 3z"/><path class="m" d="M1891 2295l8-3-5-8-9 3z"/><path class="a" d="M1701 2066l9 11-5 6-8-5z"/><path class="f" d="M1706 2061l8 13-4 3-9-11z"/><path class="g" d="M1710 2065l9 10-5-1-8-13zm5 9l9 6-5-5-9-10zm5 10l8 5-4-9-9-6z"/><path class="f" d="M1725 2092l8 6-5-9-8-5zm4 4l9 9-5-7-8-6zm5 3l9 12-5-6-9-9z"/><path class="a" d="M1739 2106l9 11-5-6-9-12zm5 12l9 7-5-8-9-11z"/><path class="b" d="M1749 2134l8 2-4-11-9-7zm5 15l8-2-5-11-8-2z"/><path class="c" d="M1759 2161l8-3-5-11-8 2zm5 7l8-1-5-9-8 3zm5 3l8 1-5-5-8 1z"/><path class="d" d="M1774 2173l8 3-5-4-8-1zm5 4l8 3-5-4-8-3zm5 8l9 1-6-6-8-3zm5 11l9-1-5-9-9-1zm5 11l9-2-5-10-9 1zm5 11l9-4-5-9-9 2z"/><path class="e" d="M1804 2225l9-4-5-7-9 4zm6 4l8-2-5-6-9 4z"/><path class="m" d="M1815 2232l9 1-6-6-8 2z"/><path class="n" d="M1820 2234l9 6-5-7-9-1zm6 3l8 12-5-9-9-6zm5 5l8 15-5-8-8-12zm6 7l8 13-6-5-8-15z"/><path class="e" d="M1842 2256l9 8-6-2-8-13zm6 6l8 1-5 1-9-8zm5 4l9-6-6 3-8-1zm6 2l9-9-6 1-9 6z"/><path class="d" d="M1865 2271l9-8-6-4-9 9z"/><path class="e" d="M1870 2279l9-5-5-11-9 8zm6 11l9-3-6-13-9 5z"/><path class="m" d="M1882 2298l9-3-6-8-9 3z"/><path class="f" d="M1692 2059l9 7-4 12-9-4z"/><path class="g" d="M1697 2053l9 8-5 5-9-7zm5 4l8 8-4-4-9-8z"/><path class="h" d="M1706 2066l9 8-5-9-8-8zm5 9l9 9-5-10-9-8zm5 6l9 11-5-8-9-9z"/><path class="g" d="M1721 2084l8 12-4-4-9-11zm5 4l8 11-5-3-8-12z"/><path class="f" d="M1731 2097l8 9-5-7-8-11zm4 14l9 7-5-12-8-9z"/><path class="a" d="M1740 2130l9 4-5-16-9-7zm5 17l9 2-5-15-9-4z"/><path class="b" d="M1750 2160l9 1-5-12-9-2z"/><path class="c" d="M1755 2167l9 1-5-7-9-1zm5 3l9 1-5-3-9-1zm5 2l9 1-5-2-9-1z"/><path class="d" d="M1770 2177l9 0-5-4-9-1zm5 8l9 0-5-8-9 0zm5 11l9 0-5-11-9 0zm5 12l9-1-5-11-9 0zm6 11l8-1-5-11-9 1zm5 9l8-3-5-7-8 1z"/><path class="e" d="M1801 2233l9-4-6-4-8 3zm5 1l9-2-5-3-9 4zm6 0l8 0-5-2-9 2zm5 0l9 3-6-3-8 0zm6 2l8 6-5-5-9-3zm5 6l9 7-6-7-8-6zm6 9l8 5-5-7-9-7zm5 11l9 0-6-6-8-5zm5 8l9-4-5-4-9 0z"/><path class="d" d="M1850 2276l9-8-6-2-9 4zm6 3l9-8-6-3-9 8z"/><path class="e" d="M1861 2283l9-4-5-8-9 8zm6 10l9-3-6-11-9 4z"/><path class="m" d="M1873 2301l9-3-6-8-9 3z"/><path class="g" d="M1684 2058l8 1-4 15-8-2zm4-7l9 2-5 6-8-1z"/><path class="h" d="M1693 2050l9 7-5-4-9-2z"/><path class="i" d="M1698 2056l8 10-4-9-9-7zm4 6l9 13-5-9-8-10zm5 5l9 14-5-6-9-13z"/><path class="h" d="M1712 2072l9 12-5-3-9-14zm5 6l9 10-5-4-9-12zm5 10l9 9-5-9-9-10z"/><path class="g" d="M1727 2104l8 7-4-14-9-9z"/><path class="f" d="M1732 2122l8 8-5-19-8-7z"/><path class="a" d="M1737 2141l8 6-5-17-8-8zm5 15l8 4-5-13-8-6z"/><path class="b" d="M1747 2166l8 1-5-7-8-4z"/><path class="c" d="M1752 2172l8-2-5-3-8-1zm5 4l8-4-5-2-8 2z"/><path class="d" d="M1762 2180l8-3-5-5-8 4zm5 7l8-2-5-8-8 3zm5 9l8 0-5-11-8 2zm5 12l8 0-5-12-8 0zm5 11l9 0-6-11-8 0zm5 10l9-1-5-9-9 0zm5 6l9-2-5-5-9 1z"/><path class="e" d="M1797 2238l9-4-5-1-9 2zm6 0l9-4-6 0-9 4zm5-2l9-2-5 0-9 4zm6 2l9-2-6-2-9 2zm5 5l9-1-5-6-9 2zm6 10l9-2-6-9-9 1zm5 11l9-2-5-11-9 2zm5 11l9-5-5-8-9 2zm6 7l9-6-6-6-9 5zm6 3l9-6-6-3-9 6zm5 4l9-6-5-4-9 6zm6 7l9-3-6-10-9 6z"/><path class="m" d="M1864 2304l9-3-6-8-9 3z"/><path class="g" d="M1675 2061l9-3-4 14-9-2z"/><path class="h" d="M1680 2053l8-2-4 7-9 3z"/><path class="i" d="M1684 2047l9 3-5 1-8 2z"/><path class="j" d="M1689 2045l9 11-5-6-9-3zm4 2l9 15-4-6-9-11zm5 5l9 15-5-5-9-15zm5 8l9 12-5-5-9-15z"/><path class="i" d="M1708 2069l9 9-5-6-9-12zm5 12l9 7-5-10-9-9z"/><path class="h" d="M1718 2096l9 8-5-16-9-7z"/><path class="g" d="M1723 2113l9 9-5-18-9-8z"/><path class="f" d="M1728 2131l9 10-5-19-9-9z"/><path class="a" d="M1733 2149l9 7-5-15-9-10z"/><path class="b" d="M1738 2164l9 2-5-10-9-7zm5 11l9-3-5-6-9-2z"/><path class="c" d="M1748 2182l9-6-5-4-9 3zm5 4l9-6-5-4-9 6z"/><path class="d" d="M1758 2191l9-4-5-7-9 6zm5 6l9-1-5-9-9 4zm5 10l9 1-5-12-9 1zm5 11l9 1-5-11-9-1zm5 10l9 1-5-10-9-1zm5 8l9-1-5-6-9-1zm6 5l8-3-5-3-9 1z"/><path class="e" d="M1794 2243l9-5-6 0-8 3zm5 1l9-8-5 2-9 5zm6 3l9-9-6-2-9 8zm5 7l9-11-5-5-9 9zm6 8l9-9-6-10-9 11zm5 9l9-7-5-11-9 9zm5 9l9-5-5-11-9 7zm6 6l9-4-6-7-9 5zm6 4l9-5-6-3-9 4zm5 4l9-5-5-4-9 5zm6 6l9-4-6-7-9 5z"/><path class="m" d="M1855 2308l9-4-6-8-9 4z"/><path class="h" d="M1667 2064l8-3-4 9-9-1z"/><path class="i" d="M1671 2055l9-2-5 8-8 3z"/><path class="j" d="M1675 2045l9 2-4 6-9 2zm5-8l9 8-5 2-9-2z"/><path class="k" d="M1684 2034l9 13-4-2-9-8zm5 4l9 14-5-5-9-13zm5 10l9 12-5-8-9-14z"/><path class="j" d="M1699 2061l9 8-5-9-9-12zm5 13l9 7-5-12-9-8z"/><path class="i" d="M1709 2088l9 8-5-15-9-7z"/><path class="h" d="M1714 2104l9 9-5-17-9-8z"/><path class="g" d="M1719 2122l9 9-5-18-9-9z"/><path class="f" d="M1724 2142l9 7-5-18-9-9z"/><path class="a" d="M1729 2162l9 2-5-15-9-7z"/><path class="b" d="M1734 2178l9-3-5-11-9-2z"/><path class="c" d="M1739 2189l9-7-5-7-9 3zm5 5l9-8-5-4-9 7z"/><path class="d" d="M1749 2196l9-5-5-5-9 8zm5 3l9-2-5-6-9 5zm5 7l9 1-5-10-9 2zm5 9l9 3-5-11-9-1zm6 11l8 2-5-10-9-3zm5 9l8 1-5-8-8-2zm5 8l9-2-6-5-8-1z"/><path class="e" d="M1785 2249l9-6-5-2-9 2zm5 7l9-12-5-1-9 6zm6 7l9-16-6-3-9 12z"/><path class="n" d="M1801 2272l9-18-5-7-9 16zm5 7l10-17-6-8-9 18zm6 5l9-13-5-9-10 17zm5 5l9-9-5-9-9 13z"/><path class="e" d="M1823 2292l9-6-6-6-9 9zm5 3l10-5-6-4-9 6zm6 3l9-4-5-4-10 5zm6 6l9-4-6-6-9 4z"/><path class="m" d="M1845 2311l10-3-6-8-9 4z"/><path class="h" d="M1658 2063l9 1-5 5-8-3z"/><path class="i" d="M1662 2056l9-1-4 9-9-1z"/><path class="j" d="M1666 2044l9 1-4 10-9 1z"/><path class="k" d="M1671 2033l9 4-5 8-9-1z"/><path class="l" d="M1675 2026l9 8-4 3-9-4zm5 2l9 10-5-4-9-8zm5 10l9 10-5-10-9-10z"/><path class="k" d="M1690 2052l9 9-5-13-9-10zm5 15l9 7-5-13-9-9z"/><path class="j" d="M1700 2082l9 6-5-14-9-7z"/><path class="i" d="M1705 2098l9 6-5-16-9-6z"/><path class="h" d="M1710 2116l9 6-5-18-9-6z"/><path class="f" d="M1715 2137l9 5-5-20-9-6z"/><path class="a" d="M1720 2159l9 3-5-20-9-5z"/><path class="b" d="M1725 2178l9 0-5-16-9-3z"/><path class="c" d="M1730 2192l9-3-5-11-9 0zm5 7l9-5-5-5-9 3z"/><path class="d" d="M1740 2202l9-6-5-2-9 5zm5 1l9-4-5-3-9 6zm5 3l9 0-5-7-9 4zm6 6l8 3-5-9-9 0zm5 9l9 5-6-11-8-3zm5 10l9 4-5-9-9-5zm5 12l9 0-5-8-9-4z"/><path class="e" d="M1776 2255l9-6-5-6-9 0zm5 14l9-13-5-7-9 6z"/><path class="n" d="M1786 2282l10-19-6-7-9 13z"/><path class="o" d="M1792 2292l9-20-5-9-10 19z"/><path class="t" d="M1797 2299l9-20-5-7-9 20zm5 2l10-17-6-5-9 20z"/><path class="o" d="M1808 2301l9-12-5-5-10 17z"/><path class="n" d="M1814 2301l9-9-6-3-9 12z"/><path class="m" d="M1819 2301l9-6-5-3-9 9z"/><path class="e" d="M1825 2302l9-4-6-3-9 6zm6 5l9-3-6-6-9 4z"/><path class="m" d="M1836 2314l9-3-5-7-9 3z"/><path class="h" d="M1649 2058l9 5-4 3-9-3z"/><path class="j" d="M1653 2052l9 4-4 7-9-5z"/><path class="k" d="M1658 2043l8 1-4 12-9-4z"/><path class="l" d="M1662 2033l9 0-5 11-8-1zm4-8l9 1-4 7-9 0zm5-1l9 4-5-2-9-1zm5 6l9 8-5-10-9-4zm5 13l9 9-5-14-9-8z"/><path class="k" d="M1686 2060l9 7-5-15-9-9z"/><path class="j" d="M1691 2079l9 3-5-15-9-7z"/><path class="i" d="M1696 2097l9 1-5-16-9-3z"/><path class="h" d="M1701 2116l9 0-5-18-9-1z"/><path class="g" d="M1706 2135l9 2-5-21-9 0z"/><path class="f" d="M1711 2156l9 3-5-22-9-2z"/><path class="a" d="M1717 2175l8 3-5-19-9-3z"/><path class="b" d="M1722 2191l8 1-5-14-8-3z"/><path class="c" d="M1727 2202l8-3-5-7-8-1zm4 5l9-5-5-3-8 3z"/><path class="d" d="M1737 2208l8-5-5-1-9 5zm5 0l8-2-5-3-8 5zm5 2l9 2-6-6-8 2zm5 6l9 5-5-9-9-2zm5 11l9 4-5-10-9-5zm5 15l9 1-5-12-9-4z"/><path class="e" d="M1767 2260l9-5-5-12-9-1z"/><path class="m" d="M1772 2279l9-10-5-14-9 5z"/><path class="o" d="M1777 2296l9-14-5-13-9 10z"/><path class="q" d="M1783 2309l9-17-6-10-9 14z"/><path class="r" d="M1788 2315l9-16-5-7-9 17zm5 0l9-14-5-2-9 16z"/><path class="q" d="M1799 2313l9-12-6 0-9 14z"/><path class="p" d="M1804 2309l10-8-6 0-9 12z"/><path class="n" d="M1810 2307l9-6-5 0-10 8z"/><path class="m" d="M1816 2306l9-4-6-1-9 6z"/><path class="e" d="M1822 2310l9-3-6-5-9 4z"/><path class="m" d="M1827 2317l9-3-5-7-9 3z"/><path class="h" d="M1640 2052l9 6-4 5-9-2z"/><path class="j" d="M1644 2046l9 6-4 6-9-6z"/><path class="k" d="M1649 2040l9 3-5 9-9-6z"/><path class="l" d="M1653 2035l9-2-4 10-9-3zm4-6l9-4-4 8-9 2zm5-4l9-1-5 1-9 4zm5 3l9 2-5-6-9 1zm5 10l9 5-5-13-9-2zm5 18l9 4-5-17-9-5z"/><path class="k" d="M1682 2077l9 2-5-19-9-4z"/><path class="j" d="M1687 2099l9-2-5-18-9-2z"/><path class="i" d="M1692 2119l9-3-5-19-9 2z"/><path class="g" d="M1697 2137l9-2-5-19-9 3z"/><path class="f" d="M1702 2153l9 3-5-21-9 2z"/><path class="a" d="M1708 2170l9 5-6-19-9-3z"/><path class="b" d="M1713 2186l9 5-5-16-9-5z"/><path class="c" d="M1718 2200l9 2-5-11-9-5zm5 8l8-1-4-5-9-2zm5 2l9-2-6-1-8 1zm5-1l9-1-5 0-9 2zm5-1l9 2-5-2-9 1zm5 3l9 5-5-6-9-2zm5 11l9 5-5-11-9-5z"/><path class="d" d="M1753 2240l9 2-5-15-9-5zm5 22l9-2-5-18-9-2z"/><path class="n" d="M1763 2284l9-5-5-19-9 2z"/><path class="t" d="M1768 2303l9-7-5-17-9 5z"/><path class="r" d="M1774 2316l9-7-6-13-9 7z"/><path class="s" d="M1779 2322l9-7-5-6-9 7zm5 0l9-7-5 0-9 7z"/><path class="r" d="M1790 2319l9-6-6 2-9 7z"/><path class="t" d="M1795 2314l9-5-5 4-9 6z"/><path class="n" d="M1801 2310l9-3-6 2-9 5z"/><path class="m" d="M1807 2309l9-3-6 1-9 3z"/><path class="e" d="M1812 2313l10-3-6-4-9 3z"/><path class="m" d="M1818 2320l9-3-5-7-10 3z"/><path class="h" d="M1631 2049l9 3-4 9-9 3z"/><path class="j" d="M1635 2040l9 6-4 6-9-3z"/><path class="k" d="M1640 2038l9 2-5 6-9-6z"/><path class="l" d="M1644 2037l9-2-4 5-9-2zm4-2l9-6-4 6-9 2zm5-3l9-7-5 4-9 6zm5 0l9-4-5-3-9 7zm4 7l10-1-5-10-9 4zm6 15l9 2-5-18-10 1z"/><path class="k" d="M1673 2077l9 0-5-21-9-2z"/><path class="j" d="M1678 2100l9-1-5-22-9 0z"/><path class="i" d="M1683 2122l9-3-5-20-9 1z"/><path class="g" d="M1688 2139l9-2-5-18-9 3z"/><path class="f" d="M1694 2153l8 0-5-16-9 2z"/><path class="a" d="M1699 2167l9 3-6-17-8 0z"/><path class="b" d="M1704 2180l9 6-5-16-9-3zm5 13l9 7-5-14-9-6z"/><path class="c" d="M1714 2203l9 5-5-8-9-7zm5 4l9 3-5-2-9-5zm5 0l9 2-5 1-9-3zm5 0l9 1-5 1-9-2z"/><path class="b" d="M1734 2211l9 0-5-3-9-1z"/><path class="c" d="M1739 2221l9 1-5-11-9 0zm5 17l9 2-5-18-9-1z"/><path class="d" d="M1749 2259l9 3-5-22-9-2z"/><path class="n" d="M1754 2280l9 4-5-22-9-3z"/><path class="p" d="M1760 2299l8 4-5-19-9-4z"/><path class="r" d="M1765 2313l9 3-6-13-8-4z"/><path class="s" d="M1770 2319l9 3-5-6-9-3zm5 1l9 2-5 0-9-3z"/><path class="r" d="M1781 2317l9 2-6 3-9-2z"/><path class="t" d="M1786 2313l9 1-5 5-9-2z"/><path class="n" d="M1792 2310l9 0-6 4-9-1z"/><path class="m" d="M1798 2310l9-1-6 1-9 0z"/><path class="e" d="M1803 2316l9-3-5-4-9 1z"/><path class="m" d="M1809 2323l9-3-6-7-9 3z"/><path class="h" d="M1622 2052l9-3-4 15-8 7z"/><path class="j" d="M1626 2040l9 0-4 9-9 3z"/><path class="k" d="M1630 2036l10 2-5 2-9 0z"/><path class="l" d="M1635 2038l9-1-4 1-10-2zm5 2l8-5-4 2-9 1zm4 1l9-9-5 3-8 5zm5 0l9-9-5 0-9 9zm4 5l9-7-4-7-9 9zm6 12l9-4-6-15-9 7z"/><path class="k" d="M1664 2077l9 0-5-23-9 4z"/><path class="j" d="M1669 2100l9 0-5-23-9 0z"/><path class="i" d="M1674 2122l9 0-5-22-9 0z"/><path class="h" d="M1679 2141l9-2-5-17-9 0z"/><path class="f" d="M1685 2155l9-2-6-14-9 2z"/><path class="a" d="M1690 2166l9 1-5-14-9 2z"/><path class="b" d="M1694 2175l10 5-5-13-9-1zm5 8l10 10-5-13-10-5zm5 9l10 11-5-10-10-10zm6 7l9 8-5-4-10-11zm5 6l9 2-5 0-9-8zm5 5l9-3-5 0-9-2zm5 6l9-5-5-4-9 3zm5 9l9-4-5-10-9 5z"/><path class="c" d="M1735 2238l9 0-5-17-9 4z"/><path class="d" d="M1740 2254l9 5-5-21-9 0z"/><path class="e" d="M1745 2272l9 8-5-21-9-5z"/><path class="o" d="M1751 2290l9 9-6-19-9-8z"/><path class="q" d="M1756 2304l9 9-5-14-9-9zm5 8l9 7-5-6-9-9zm5 1l9 7-5-1-9-7z"/><path class="t" d="M1772 2310l9 7-6 3-9-7z"/><path class="o" d="M1777 2306l9 7-5 4-9-7z"/><path class="n" d="M1783 2306l9 4-6 3-9-7z"/><path class="e" d="M1788 2311l10-1-6 0-9-4zm6 9l9-4-5-6-10 1z"/><path class="m" d="M1799 2327l10-4-6-7-9 4z"/><path class="h" d="M1614 2061l8-9-3 19-9 10z"/><path class="i" d="M1617 2046l9-6-4 12-8 9z"/><path class="k" d="M1621 2039l9-3-4 4-9 6z"/><path class="l" d="M1626 2040l9-2-5-2-9 3zm5 5l9-5-5-2-9 2zm4 5l9-9-4-1-9 5zm5 4l9-13-5 0-9 9zm5 4l8-12-4-5-9 13zm5 7l9-7-6-12-8 12z"/><path class="k" d="M1655 2078l9-1-5-19-9 7z"/><path class="j" d="M1660 2098l9 2-5-23-9 1z"/><path class="i" d="M1665 2120l9 2-5-22-9-2z"/><path class="h" d="M1670 2141l9 0-5-19-9-2z"/><path class="g" d="M1675 2156l10-1-6-14-9 0z"/><path class="f" d="M1680 2165l10 1-5-11-10 1z"/><path class="a" d="M1685 2170l9 5-4-9-10-1zm5 4l9 9-5-8-9-5zm5 6l9 12-5-9-9-9zm5 10l10 9-6-7-9-12zm5 13l10 2-5-6-10-9zm6 12l9-5-5-5-10-2z"/><path class="b" d="M1716 2225l9-9-5-6-9 5zm5 7l9-7-5-9-9 9z"/><path class="c" d="M1726 2240l9-2-5-13-9 7z"/><path class="d" d="M1731 2250l9 4-5-16-9 2z"/><path class="e" d="M1736 2265l9 7-5-18-9-4z"/><path class="n" d="M1742 2282l9 8-6-18-9-7z"/><path class="o" d="M1747 2296l9 8-5-14-9-8zm5 8l9 8-5-8-9-8zm5 1l9 8-5-1-9-8zm6-3l9 8-6 3-9-8z"/><path class="n" d="M1768 2299l9 7-5 4-9-8z"/><path class="e" d="M1774 2302l9 4-6 0-9-7zm5 10l9-1-5-5-9-4zm6 11l9-3-6-9-9 1z"/><path class="m" d="M1790 2330l9-3-5-7-9 3z"/><path class="h" d="M1605 2074l9-13-4 20-8 11z"/><path class="i" d="M1609 2058l8-12-3 15-9 13z"/><path class="j" d="M1613 2048l8-9-4 7-8 12z"/><path class="k" d="M1617 2045l9-5-5-1-8 9z"/><path class="l" d="M1622 2050l9-5-5-5-9 5zm4 8l9-8-4-5-9 5zm5 7l9-11-5-4-9 8zm5 5l9-12-5-4-9 11zm5 5l9-10-5-7-9 12z"/><path class="k" d="M1645 2082l10-4-5-13-9 10z"/><path class="j" d="M1651 2096l9 2-5-20-10 4z"/><path class="i" d="M1656 2116l9 4-5-22-9-2z"/><path class="h" d="M1661 2136l9 5-5-21-9-4z"/><path class="g" d="M1666 2153l9 3-5-15-9-5z"/><path class="f" d="M1671 2163l9 2-5-9-9-3zm5 4l9 3-5-5-9-2zm5 3l9 4-5-4-9-3zm5 6l9 4-5-6-9-4zm5 12l9 2-5-10-9-4z"/><path class="a" d="M1696 2205l9-2-5-13-9-2zm5 16l10-6-6-12-9 2z"/><path class="b" d="M1707 2233l9-8-5-10-10 6z"/><path class="c" d="M1712 2240l9-8-5-7-9 8zm5 5l9-5-5-8-9 8z"/><path class="d" d="M1722 2251l9-1-5-10-9 5z"/><path class="e" d="M1727 2263l9 2-5-15-9 1zm5 15l10 4-6-17-9-2z"/><path class="m" d="M1738 2292l9 4-5-14-10-4z"/><path class="n" d="M1743 2300l9 4-5-8-9-4zm5 1l9 4-5-1-9-4z"/><path class="m" d="M1753 2297l10 5-6 3-9-4z"/><path class="e" d="M1759 2295l9 4-5 3-10-5zm5 5l10 2-6-3-9-4zm6 13l9-1-5-10-10-2zm5 13l10-3-6-11-9 1z"/><path class="m" d="M1781 2333l9-3-5-7-10 3z"/><path class="g" d="M1597 2088l8-14-3 18-8 7z"/><path class="h" d="M1601 2074l8-16-4 16-8 14z"/><path class="j" d="M1604 2062l9-14-4 10-8 16zm4-6l9-11-4 3-9 14z"/><path class="k" d="M1613 2057l9-7-5-5-9 11z"/><path class="l" d="M1617 2065l9-7-4-8-9 7zm5 8l9-8-5-7-9 7zm5 7l9-10-5-5-9 8zm5 4l9-9-5-5-9 10z"/><path class="k" d="M1636 2089l9-7-4-7-9 9z"/><path class="j" d="M1641 2098l10-2-6-14-9 7z"/><path class="i" d="M1646 2112l10 4-5-20-10 2z"/><path class="h" d="M1652 2130l9 6-5-20-10-4zm5 17l9 6-5-17-9-6z"/><path class="g" d="M1662 2160l9 3-5-10-9-6zm5 8l9-1-5-4-9-3z"/><path class="f" d="M1672 2175l9-5-5-3-9 1zm5 8l9-7-5-6-9 5zm5 13l9-8-5-12-9 7z"/><path class="a" d="M1687 2212l9-7-5-17-9 8z"/><path class="b" d="M1692 2227l9-6-5-16-9 7zm5 11l10-5-6-12-9 6z"/><path class="c" d="M1703 2246l9-6-5-7-10 5z"/><path class="d" d="M1708 2251l9-6-5-5-9 6zm5 7l9-7-5-6-9 6zm5 9l9-4-5-12-9 7z"/><path class="e" d="M1723 2279l9-1-5-15-9 4zm5 12l10 1-6-14-9 1zm6 7l9 2-5-8-10-1zm5 2l9 1-5-1-9-2zm5-2l9-1-5 4-9-1zm6-1l9-2-6 2-9 1zm5 5l9-2-5-5-9 2zm5 12l10-1-6-13-9 2zm6 14l9-2-5-13-10 1z"/><path class="m" d="M1771 2336l10-3-6-7-9 2z"/><path class="g" d="M1589 2098l8-10-3 11-9 5z"/><path class="h" d="M1592 2089l9-15-4 14-8 10z"/><path class="i" d="M1596 2078l8-16-3 12-9 15z"/><path class="j" d="M1600 2070l8-14-4 6-8 16zm4-2l9-11-5-1-8 14z"/><path class="k" d="M1609 2071l8-6-4-8-9 11zm4 8l9-6-5-8-8 6zm5 8l9-7-5-7-9 6zm5 7l9-10-5-4-9 7zm5 5l8-10-4-5-9 10z"/><path class="j" d="M1632 2104l9-6-5-9-8 10z"/><path class="i" d="M1637 2112l9 0-5-14-9 6zm5 12l10 6-6-18-9 0z"/><path class="h" d="M1647 2139l10 8-5-17-10-6z"/><path class="g" d="M1653 2157l9 3-5-13-10-8zm5 17l9-6-5-8-9-3zm5 15l9-14-5-7-9 6z"/><path class="f" d="M1668 2201l9-18-5-8-9 14z"/><path class="a" d="M1673 2212l9-16-5-13-9 18z"/><path class="b" d="M1678 2221l9-9-5-16-9 16z"/><path class="c" d="M1683 2231l9-4-5-15-9 9zm5 9l9-2-5-11-9 4z"/><path class="d" d="M1693 2250l10-4-6-8-9 2zm5 10l10-9-5-5-10 4zm6 8l9-10-5-7-10 9zm5 8l9-9-5-9-9 10z"/><path class="e" d="M1714 2284l9-5-5-12-9 9zm5 6l9 1-5-12-9 5zm5 6l10 2-6-7-9-1zm6 4l9 0-5-2-10-2zm5 2l9-4-5 2-9 0zm5 2l10-7-6 1-9 4zm6 4l9-6-5-5-10 7zm5 9l9-3-5-12-9 6zm5 13l10-2-6-14-9 3z"/><path class="m" d="M1762 2340l9-4-5-8-10 2z"/><path class="g" d="M1580 2106l9-8-4 6-9 4z"/><path class="h" d="M1584 2101l8-12-3 9-9 8zm4-7l8-16-4 11-8 12z"/><path class="i" d="M1591 2086l9-16-4 8-8 16z"/><path class="j" d="M1595 2080l9-12-4 2-9 16zm5-1l9-8-5-3-9 12zm4 5l9-5-4-8-9 8z"/><path class="k" d="M1609 2093l9-6-5-8-9 5zm5 9l9-8-5-7-9 6z"/><path class="j" d="M1619 2109l9-10-5-5-9 8zm4 4l9-9-4-5-9 10z"/><path class="i" d="M1628 2117l9-5-5-8-9 9zm5 7l9 0-5-12-9 5z"/><path class="h" d="M1638 2138l9 1-5-15-9 0zm5 21l10-2-6-18-9-1z"/><path class="g" d="M1649 2184l9-10-5-17-10 2z"/><path class="f" d="M1654 2206l9-17-5-15-9 10z"/><path class="a" d="M1659 2221l9-20-5-12-9 17z"/><path class="b" d="M1664 2229l9-17-5-11-9 20z"/><path class="c" d="M1669 2233l9-12-5-9-9 17zm5 4l9-6-5-10-9 12z"/><path class="d" d="M1679 2244l9-4-5-9-9 6zm5 13l9-7-5-10-9 4z"/><path class="e" d="M1689 2270l9-10-5-10-9 7zm6 11l9-13-6-8-9 10zm5 7l9-12-5-8-9 13zm5 3l9-7-5-8-9 12zm5 2l9-3-5-6-9 7zm5 4l9-1-5-6-9 3zm5 6l10-3-6-4-9 1zm5 6l10-7-5-2-10 3zm6 5l9-10-5-2-10 7zm5 2l10-8-6-4-9 10zm5 5l10-4-5-9-10 8zm6 12l9-3-5-13-10 4z"/><path class="m" d="M1752 2343l10-3-6-10-9 3z"/><path class="f" d="M1571 2112l9-6-4 2-9 4z"/><path class="g" d="M1575 2110l9-9-4 5-9 6z"/><path class="h" d="M1579 2106l9-12-4 7-9 9zm4-7l8-13-3 8-9 12z"/><path class="i" d="M1587 2092l8-12-4 6-8 13zm4-3l9-10-5 1-8 12z"/><path class="j" d="M1595 2091l9-7-4-5-9 10zm5 9l9-7-5-9-9 7zm5 10l9-8-5-9-9 7zm5 9l9-10-5-7-9 8zm4 5l9-11-4-4-9 10z"/><path class="i" d="M1619 2128l9-11-5-4-9 11zm5 6l9-10-5-7-9 11z"/><path class="h" d="M1629 2147l9-9-5-14-9 10z"/><path class="g" d="M1634 2169l9-10-5-21-9 9z"/><path class="f" d="M1640 2195l9-11-6-25-9 10z"/><path class="a" d="M1645 2220l9-14-5-22-9 11z"/><path class="b" d="M1651 2237l8-16-5-15-9 14z"/><path class="c" d="M1656 2245l8-16-5-8-8 16z"/><path class="d" d="M1660 2248l9-15-5-4-8 16zm5 2l9-13-5-4-9 15z"/><path class="e" d="M1670 2257l9-13-5-7-9 13zm5 12l9-12-5-13-9 13zm5 15l9-14-5-13-9 12z"/><path class="m" d="M1685 2295l10-14-6-11-9 14zm6 5l9-12-5-7-10 14zm4 1l10-10-5-3-9 12z"/><path class="e" d="M1701 2301l9-8-5-2-10 10zm5 3l9-7-5-4-9 8zm5 6l9-7-5-6-9 7zm5 8l9-9-5-6-9 7zm5 5l10-9-6-5-9 9zm6 1l9-8-5-2-10 9zm5 3l9-6-5-5-9 8zm5 10l10-4-6-12-9 6z"/><path class="m" d="M1743 2346l9-3-5-10-10 4z"/><path class="f" d="M1563 2118l8-6-4 0-8 7z"/><path class="g" d="M1567 2117l8-7-4 2-8 6zm4-3l8-8-4 4-8 7z"/><path class="h" d="M1574 2109l9-10-4 7-8 8zm4-5l9-12-4 7-9 10z"/><path class="i" d="M1582 2102l9-13-4 3-9 12zm5 2l8-13-4-2-9 13zm4 6l9-10-5-9-8 13zm5 9l9-9-5-10-9 10zm5 10l9-10-5-9-9 9zm5 8l8-13-4-5-9 10zm4 7l9-16-5-4-8 13z"/><path class="h" d="M1615 2152l9-18-5-6-9 16z"/><path class="g" d="M1620 2166l9-19-5-13-9 18z"/><path class="f" d="M1626 2184l8-15-5-22-9 19z"/><path class="a" d="M1631 2207l9-12-6-26-8 15z"/><path class="b" d="M1637 2229l8-9-5-25-9 12z"/><path class="c" d="M1642 2246l9-9-6-17-8 9z"/><path class="d" d="M1647 2258l9-13-5-8-9 9z"/><path class="e" d="M1652 2266l8-18-4-3-9 13z"/><path class="m" d="M1656 2272l9-22-5-2-8 18z"/><path class="n" d="M1661 2280l9-23-5-7-9 22zm5 10l9-21-5-12-9 23z"/><path class="o" d="M1671 2301l9-17-5-15-9 21zm6 8l8-14-5-11-9 17zm4 5l10-14-6-5-8 14zm5 2l9-15-4-1-10 14zm5 1l10-16-6 0-9 15z"/><path class="n" d="M1696 2319l10-15-5-3-10 16zm6 4l9-13-5-6-10 15zm5 5l9-10-5-8-9 13z"/><path class="m" d="M1712 2331l9-8-5-5-9 10z"/><path class="e" d="M1717 2333l10-9-6-1-9 8zm5 2l10-8-5-3-10 9zm6 7l9-5-5-10-10 8z"/><path class="m" d="M1733 2350l10-4-6-9-9 5z"/><path class="a" d="M1554 2125l9-7-4 1-9 8z"/><path class="f" d="M1558 2123l9-6-4 1-9 7z"/><path class="g" d="M1562 2120l9-6-4 3-9 6zm4-2l8-9-3 5-9 6zm4-1l8-13-4 5-8 9z"/><path class="h" d="M1574 2117l8-15-4 2-8 13zm4 2l9-15-5-2-8 15zm5 4l8-13-4-6-9 15zm4 7l9-11-5-9-8 13zm5 9l9-10-5-10-9 11zm5 11l9-13-5-8-9 10zm5 12l8-18-4-7-9 13z"/><path class="g" d="M1607 2175l8-23-5-8-8 18z"/><path class="f" d="M1612 2188l8-22-5-14-8 23z"/><path class="a" d="M1617 2202l9-18-6-18-8 22z"/><path class="b" d="M1622 2217l9-10-5-23-9 18z"/><path class="c" d="M1627 2233l10-4-6-22-9 10z"/><path class="e" d="M1633 2251l9-5-5-17-10 4z"/><path class="m" d="M1638 2269l9-11-5-12-9 5z"/><path class="n" d="M1643 2286l9-20-5-8-9 11z"/><path class="o" d="M1648 2299l8-27-4-6-9 20z"/><path class="t" d="M1653 2308l8-28-5-8-8 27z"/><path class="q" d="M1658 2314l8-24-5-10-8 28zm5 5l8-18-5-11-8 24zm5 5l9-15-6-8-8 18zm5 5l8-15-4-5-9 15zm4 5l9-18-5-2-8 15zm5 4l9-21-5-1-9 18z"/><path class="t" d="M1687 2339l9-20-5-2-9 21z"/><path class="p" d="M1692 2339l10-16-6-4-9 20z"/><path class="o" d="M1697 2338l10-10-5-5-10 16zm6 0l9-7-5-3-10 10z"/><path class="n" d="M1708 2340l9-7-5-2-9 7z"/><path class="m" d="M1713 2343l9-8-5-2-9 7zm5 4l10-5-6-7-9 8zm6 6l9-3-5-8-10 5z"/><path class="a" d="M1545 2132l9-7-4 2-8 7zm4-2l9-7-4 2-9 7z"/><path class="f" d="M1553 2128l9-8-4 3-9 7zm4 0l9-10-4 2-9 8z"/><path class="g" d="M1561 2130l9-13-4 1-9 10zm4 3l9-16-4 0-9 13zm5 2l8-16-4-2-9 16zm4 2l9-14-5-4-8 16z"/><path class="h" d="M1579 2142l8-12-4-7-9 14z"/><path class="g" d="M1583 2151l9-12-5-9-8 12zm5 13l9-14-5-11-9 12zm5 16l9-18-5-12-9 14z"/><path class="f" d="M1599 2196l8-21-5-13-9 18z"/><path class="a" d="M1604 2209l8-21-5-13-8 21z"/><path class="b" d="M1608 2217l9-15-5-14-8 21z"/><path class="c" d="M1613 2225l9-8-5-15-9 15z"/><path class="d" d="M1618 2237l9-4-5-16-9 8z"/><path class="m" d="M1623 2254l10-3-6-18-9 4z"/><path class="o" d="M1629 2277l9-8-5-18-10 3z"/><path class="p" d="M1634 2300l9-14-5-17-9 8z"/><path class="q" d="M1640 2319l8-20-5-13-9 14z"/><path class="r" d="M1645 2329l8-21-5-9-8 20zm4 4l9-19-5-6-8 21z"/><path class="s" d="M1654 2333l9-14-5-5-9 19zm5 2l9-11-5-5-9 14zm4 6l10-12-5-5-9 11zm5 8l9-15-4-5-10 12zm5 6l9-17-5-4-9 15z"/><path class="r" d="M1678 2356l9-17-5-1-9 17z"/><path class="q" d="M1683 2352l9-13-5 0-9 17zm5-5l9-9-5 1-9 13z"/><path class="p" d="M1693 2344l10-6-6 0-9 9z"/><path class="o" d="M1698 2346l10-6-5-2-10 6z"/><path class="n" d="M1703 2350l10-7-5-3-10 6z"/><path class="m" d="M1709 2352l9-5-5-4-10 7zm5 4l10-3-6-6-9 5z"/><path class="b" d="M1537 2140l8-8-3 2-9 7z"/><path class="a" d="M1541 2139l8-9-4 2-8 8zm4 1l8-12-4 2-8 9z"/><path class="f" d="M1549 2143l8-15-4 0-8 12zm4 3l8-16-4-2-8 15zm4 3l8-16-4-3-8 16zm4 1l9-15-5-2-8 16zm5 2l8-15-4-2-9 15zm4 4l9-14-5-5-8 15zm5 9l8-14-4-9-9 14zm5 14l8-15-5-13-8 14z"/><path class="a" d="M1585 2196l8-16-5-16-8 15zm5 16l9-16-6-16-8 16z"/><path class="b" d="M1595 2222l9-13-5-13-9 16z"/><path class="c" d="M1600 2228l8-11-4-8-9 13z"/><path class="d" d="M1604 2233l9-8-5-8-8 11z"/><path class="e" d="M1609 2242l9-5-5-12-9 8z"/><path class="n" d="M1614 2258l9-4-5-17-9 5z"/><path class="o" d="M1620 2280l9-3-6-23-9 4z"/><path class="t" d="M1625 2304l9-4-5-23-9 3z"/><path class="r" d="M1630 2323l10-4-6-19-9 4zm5 11l10-5-5-10-10 4z"/><path class="s" d="M1640 2337l9-4-4-4-10 5z"/><path class="u" d="M1645 2337l9-4-5 0-9 4zm4 2l10-4-5-2-9 4zm5 6l9-4-4-6-10 4zm5 8l9-4-5-8-9 4z"/><path class="s" d="M1664 2359l9-4-5-6-9 4zm5 1l9-4-5-1-9 4z"/><path class="r" d="M1674 2356l9-4-5 4-9 4z"/><path class="q" d="M1679 2350l9-3-5 5-9 4z"/><path class="t" d="M1683 2347l10-3-5 3-9 3z"/><path class="o" d="M1689 2350l9-4-5-2-10 3z"/><path class="n" d="M1694 2354l9-4-5-4-9 4zm5 2l10-4-6-2-9 4z"/><path class="m" d="M1704 2360l10-4-5-4-10 4z"/><path class="b" d="M1528 2150l9-10-4 1-9 7zm4 4l9-15-4 1-9 10zm5 4l8-18-4-1-9 15z"/><path class="a" d="M1541 2162l8-19-4-3-8 18zm4 3l8-19-4-3-8 19zm4 1l8-17-4-3-8 19zm4 0l8-16-4-1-8 17zm4 2l9-16-5-2-8 16zm5 5l8-17-4-4-9 16zm4 10l9-18-5-9-8 17zm5 13l9-17-5-14-9 18z"/><path class="b" d="M1576 2209l9-13-5-17-9 17zm5 12l9-9-5-16-9 13z"/><path class="c" d="M1586 2230l9-8-5-10-9 9z"/><path class="d" d="M1591 2236l9-8-5-6-9 8z"/><path class="e" d="M1595 2241l9-8-4-5-9 8zm5 8l9-7-5-9-9 8z"/><path class="n" d="M1605 2262l9-4-5-16-9 7z"/><path class="o" d="M1610 2278l10 2-6-22-9 4z"/><path class="t" d="M1615 2294l10 10-5-24-10-2z"/><path class="q" d="M1621 2308l9 15-5-19-10-10z"/><path class="r" d="M1625 2318l10 16-5-11-9-15zm5 7l10 12-5-3-10-16z"/><path class="s" d="M1635 2329l10 8-5 0-10-12zm5 4l9 6-4-2-10-8zm5 5l9 7-5-6-9-6zm4 6l10 9-5-8-9-7zm5 4l10 11-5-6-10-9z"/><path class="r" d="M1659 2349l10 11-5-1-10-11z"/><path class="q" d="M1664 2348l10 8-5 4-10-11zm5-1l10 3-5 6-10-8z"/><path class="p" d="M1674 2348l9-1-4 3-10-3z"/><path class="o" d="M1679 2351l10-1-6-3-9 1z"/><path class="n" d="M1684 2355l10-1-5-4-10 1z"/><path class="m" d="M1689 2358l10-2-5-2-10 1zm6 5l9-3-5-4-10 2z"/><path class="c" d="M1520 2165l8-15-4-2-8 12zm5 6l7-17-4-4-8 15zm4 6l8-19-5-4-7 17zm4 5l8-20-4-4-8 19zm4 2l8-19-4-3-8 20zm4 1l8-19-4-1-8 19zm4 1l8-20-4 0-8 19z"/><path class="b" d="M1549 2189l8-21-4-2-8 20z"/><path class="c" d="M1554 2196l8-23-5-5-8 21zm4 8l8-21-4-10-8 23zm5 9l8-17-5-13-8 21zm5 9l8-13-5-13-8 17zm4 7l9-8-5-12-8 13z"/><path class="d" d="M1577 2236l9-6-5-9-9 8zm5 7l9-7-5-6-9 6z"/><path class="e" d="M1586 2250l9-9-4-5-9 7zm5 8l9-9-5-8-9 9z"/><path class="m" d="M1596 2266l9-4-5-13-9 9z"/><path class="n" d="M1600 2274l10 4-5-16-9 4z"/><path class="o" d="M1605 2281l10 13-5-16-10-4zm5 8l11 19-6-14-10-13z"/><path class="t" d="M1615 2297l10 21-4-10-11-19zm5 8l10 20-5-7-10-21z"/><path class="q" d="M1625 2313l10 16-5-4-10-20zm5 7l10 13-5-4-10-16zm4 5l11 13-5-5-10-13zm5 3l10 16-4-6-11-13zm5 2l10 18-5-4-10-16z"/><path class="t" d="M1649 2333l10 16-5-1-10-18z"/><path class="p" d="M1654 2337l10 11-5 1-10-16z"/><path class="o" d="M1659 2342l10 5-5 1-10-11zm5 5l10 1-5-1-10-5z"/><path class="n" d="M1669 2352l10-1-5-3-10-1zm5 3l10 0-5-4-10 1z"/><path class="m" d="M1680 2360l9-2-5-3-10 0zm5 6l10-3-6-5-9 2z"/><path class="e" d="M1512 2180l8-15-4-5-8 15z"/><path class="d" d="M1517 2185l8-14-5-6-8 15zm4 6l8-14-4-6-8 14zm4 4l8-13-4-5-8 14zm4 4l8-15-4-2-8 13zm4 4l8-18-4-1-8 15zm4 3l8-20-4-1-8 18zm5 5l7-22-4-3-8 20zm4 6l8-21-5-7-7 22zm4 5l8-18-4-8-8 21zm5 6l8-15-5-9-8 18zm4 6l9-12-5-9-8 15z"/><path class="e" d="M1564 2239l8-10-4-7-9 12zm4 5l9-8-5-7-8 10zm5 7l9-8-5-7-9 8zm4 6l9-7-4-7-9 8zm5 6l9-5-5-8-9 7z"/><path class="m" d="M1586 2269l10-3-5-8-9 5zm5 4l9 1-4-8-10 3z"/><path class="n" d="M1596 2278l9 3-5-7-9-1zm4 5l10 6-5-8-9-3zm5 6l10 8-5-8-10-6zm5 7l10 9-5-8-10-8zm5 8l10 9-5-8-10-9z"/><path class="o" d="M1620 2310l10 10-5-7-10-9zm4 5l10 10-4-5-10-10z"/><path class="n" d="M1629 2319l10 9-5-3-10-10zm5 4l10 7-5-2-10-9zm5 5l10 5-5-3-10-7zm5 6l10 3-5-4-10-5zm5 7l10 1-5-5-10-3zm5 6l10 0-5-5-10-1z"/><path class="m" d="M1659 2352l10 0-5-5-10 0zm6 5l9-2-5-3-10 0zm5 6l10-3-6-5-9 2zm5 7l10-4-5-6-10 3z"/><path class="e" d="M1504 2187l8-7-4-5-8 8zm4 5l9-7-5-5-8 7zm4 5l9-6-4-6-9 7zm4 4l9-6-4-4-9 6zm4 5l9-7-4-4-9 6zm4 5l9-8-4-4-9 7zm5 5l8-10-4-3-9 8zm4 5l9-10-5-5-8 10zm4 5l9-9-4-6-9 10zm4 5l9-9-4-5-9 9zm5 5l9-8-5-6-9 9zm4 5l9-7-4-6-9 8zm5 5l9-7-5-5-9 7zm4 5l9-7-4-5-9 7z"/><path class="m" d="M1563 2256l10-5-5-7-9 7zm5 5l9-4-4-6-10 5zm4 5l10-3-5-6-9 4zm5 6l9-3-4-6-10 3zm5 5l9-4-5-4-9 3zm4 5l10-4-5-5-9 4zm5 6l9-5-4-5-10 4zm5 5l9-4-5-6-9 5zm4 5l10-2-5-7-9 4zm5 6l10 0-5-8-10 2zm5 5l10 1-5-6-10 0zm5 6l9 0-4-5-10-1zm5 6l9-2-5-4-9 0zm4 5l10-3-5-4-9 2zm5 6l10-4-5-5-10 3zm5 6l10-4-5-6-10 4zm5 5l10-2-5-7-10 4zm5 6l10-2-5-6-10 2zm6 6l9-3-5-5-10 2zm5 6l10-4-6-5-9 3zm5 6l10-4-5-6-10 4zm5 6l10-3-5-7-10 4z"/></g>
<path d="M377 573.57h-3.3M375.8 559.9h-3.3M374.55 545.65h-3.3M373.24 530.79h-3.3M371.88 515.28h-3.3M417.38 629.75l-2.3 1.9M412.73 623.91l-2.3 1.9M408.21 618.22l-2.3 1.9M403.81 612.69l-2.3 1.9M399.53 607.31l-2.3 1.9M395.37 602.07l-2.3 1.9M391.31 596.97l-2.3 1.9M387.35 591.99l-2.3 1.9M383.5 587.15l-2.3 1.9M379.74 582.42l-2.3 1.9M419.47 628.96l0.3 3M428.44 625.57l0.3 3M437.27 622.22l0.3 3M445.97 618.94l0.3 3M454.53 615.7l0.3 3M462.95 612.51l0.3 3M471.25 609.37l0.3 3M479.43 606.28l0.3 3M487.48 603.23l0.3 3M495.41 600.24l0.3 3" stroke="#333" stroke-width="0.5" fill="none"/>
<text x="371.4" y="575.47" font-size="5.4" text-anchor="end" fill="#222">−40</text>
<text x="370.2" y="561.8" font-size="5.4" text-anchor="end" fill="#222">−20</text>
<text x="368.95" y="547.55" font-size="5.4" text-anchor="end" fill="#222">0</text>
<text x="367.64" y="532.69" font-size="5.4" text-anchor="end" fill="#222">20</text>
<text x="366.28" y="517.18" font-size="5.4" text-anchor="end" fill="#222">40</text>
<text x="413.38" y="638.35" font-size="4.4" text-anchor="middle" fill="#222">0</text>
<text x="408.33" y="629.06" font-size="4.2" text-anchor="end" fill="#222">19.53125</text>
<text x="403.81" y="623.52" font-size="4.2" text-anchor="end" fill="#222">39.0625</text>
<text x="399.41" y="618.14" font-size="4.2" text-anchor="end" fill="#222">78.125</text>
<text x="395.13" y="612.91" font-size="4.2" text-anchor="end" fill="#222">156.25</text>
<text x="390.97" y="607.82" font-size="4.2" text-anchor="end" fill="#222">312.5</text>
<text x="386.91" y="602.87" font-size="4.2" text-anchor="end" fill="#222">625</text>
<text x="382.95" y="598.04" font-size="4.2" text-anchor="end" fill="#222">1,250</text>
<text x="379.1" y="593.35" font-size="4.2" text-anchor="end" fill="#222">2,500</text>
<text x="375.34" y="588.77" font-size="4.2" text-anchor="end" fill="#222">5,000</text>
<text x="419.77" y="638.56" font-size="4.4" text-anchor="middle" fill="#222">0</text>
<text x="428.44" y="634.02" font-size="4.2" fill="#222">19.53125</text>
<text x="437.27" y="630.52" font-size="4.2" fill="#222">39.0625</text>
<text x="445.97" y="627.09" font-size="4.2" fill="#222">78.125</text>
<text x="454.53" y="623.7" font-size="4.2" fill="#222">156.25</text>
<text x="462.95" y="620.36" font-size="4.2" fill="#222">312.5</text>
<text x="471.25" y="617.07" font-size="4.2" fill="#222">625</text>
<text x="479.43" y="613.83" font-size="4.2" fill="#222">1,250</text>
<text x="487.48" y="610.63" font-size="4.2" fill="#222">2,500</text>
<text x="495.41" y="607.49" font-size="4.2" fill="#222">5,000</text>
<text transform="translate(358.29 546.15) rotate(-86)" font-size="7.6" font-weight="bold" text-anchor="middle">Synergy score</text>
<text transform="translate(372.38 612.97) rotate(55)" font-size="7.9" font-weight="bold" text-anchor="middle">Ribociclib (nM)</text>
<text transform="translate(470.09 635.34) rotate(-21.5)" font-size="7.7" font-weight="bold" text-anchor="middle">BLU-222 (nM)</text>
<text x="443" y="457" font-size="9.5" font-weight="bold" text-anchor="middle">Abemaciclib<tspan font-size="5.8" dy="-3.6">R</tspan></text>
<text x="443" y="469.3" font-size="7.6" text-anchor="middle" fill="#222">MSA score: 31.2</text>
<text x="443" y="477.2" font-size="7.6" text-anchor="middle" fill="#222">Mean synergy: 8.1</text>
<g stroke="#333" stroke-width="0.5"><line x1="550.06" y1="508.33" x2="629.42" y2="487.54"/><line x1="629.42" y1="487.54" x2="680.44" y2="526.25"/><line x1="550.06" y1="508.33" x2="556.43" y2="581.61"/><line x1="680.44" y1="526.25" x2="673.41" y2="601.72"/><line x1="556.43" y1="581.61" x2="595.67" y2="631.38"/><line x1="595.67" y1="631.38" x2="673.41" y2="601.72"/><line x1="550.06" y1="508.33" x2="593.35" y2="553.41"/><line x1="680.44" y1="526.25" x2="593.35" y2="553.41"/><line x1="593.35" y1="553.41" x2="595.67" y2="631.38"/><line x1="629.42" y1="487.54" x2="627.95" y2="558.28" stroke-dasharray="1 1.2"/><line x1="556.43" y1="581.61" x2="627.95" y2="558.28" stroke-dasharray="1 1.2"/><line x1="627.95" y1="558.28" x2="673.41" y2="601.72" stroke-dasharray="1 1.2"/></g>
<g transform="scale(0.25)" stroke="#000" stroke-width="1.68" stroke-linejoin="round"><path class="d" d="M2512 2092l8-5-5-8-8 9zm5 4l7-2-4-7-8 5zm4 3l8-1-5-4-7 2zm5-1l8 0-5 0-8 1zm5 1l8 0-5-1-8 0zm5 3l8 2-5-5-8 0zm5 9l8 3-5-10-8-2zm5 11l8 3-5-11-8-3zm5 9l8 0-5-6-8-3zm5 4l8-3-5-1-8 0zm5 0l8-6-5 3-8 3zm5 1l8-7-5 0-8 6zm5 4l8-3-5-8-8 7zm5 10l8 0-5-13-8 3zm5 11l8 2-5-13-8 0zm5 8l8 1-5-7-8-2zm6 1l8-2-6 2-8-1zm5-4l9-5-6 7-8 2z"/><path class="e" d="M2603 2161l9-5-6 5-9 5zm6 1l8-3-5-3-9 5zm5 8l8-1-5-10-8 3zm5 13l8-1-5-13-8 1zm5 14l8-3-5-12-8 1zm5 11l9-5-6-9-8 3zm5 8l9-6-5-7-9 5zm6 6l8-5-5-7-9 6zm5 6l9-3-6-8-8 5zm6 5l8-2-5-6-9 3zm6 2l8-3-6-1-8 2zm6-1l9-6-7 4-8 3zm7-4l9-8-7 6-9 6zm6-2l9-7-6 1-9 8zm6 7l9-5-6-9-9 7zm5 14l9-2-5-17-9 5zm6 12l8-2-5-12-9 2z"/><path class="m" d="M2698 2267l9-3-6-5-8 2z"/><path class="d" d="M2504 2095l8-3-5-4-8 6zm5 2l8-1-5-4-8 3zm4 3l8-1-4-3-8 1zm5 2l8-4-5 1-8 1zm5 1l8-4-5-1-8 4zm5 2l8-3-5-3-8 4zm5 4l8 2-5-9-8 3zm5 7l8 6-5-11-8-2zm5 10l8 5-5-9-8-6zm5 9l8 0-5-4-8-5zm5 7l8-7-5 0-8 0zm5 3l8-9-5-1-8 7zm5 2l8-7-5-4-8 9zm5 3l8 0-5-10-8 7zm5 5l8 6-5-11-8 0zm5 7l8 7-5-8-8-6zm6 5l8 3-6-1-8-7zm5 3l8-4-5 4-8-3zm6 1l8-10-6 5-8 4z"/><path class="e" d="M2600 2172l9-10-6-1-8 10zm5 5l9-7-5-8-9 10zm6 10l8-4-5-13-9 7zm5 12l8-2-5-14-8 4zm5 11l8-2-5-11-8 2zm5 8l8-2-5-8-8 2zm6 4l8 0-6-6-8 2zm5 4l8 2-5-6-8 0zm6 5l8 2-6-5-8-2z"/><path class="m" d="M2649 2238l8-3-6-2-8-2zm5 5l9-9-6 1-8 3zm6 2l10-15-7 4-9 9zm7 0l9-17-6 2-10 15z"/><path class="e" d="M2673 2245l9-10-6-7-9 17zm6 7l8-3-5-14-9 10zm5 11l9-2-6-12-8 3z"/><path class="m" d="M2690 2270l8-3-5-6-9 2z"/><path class="d" d="M2496 2097l8-2-5-1-8 3zm5 2l8-2-5-2-8 2zm4 3l8-2-4-3-8 2zm5 5l8-5-5-2-8 2zm5 3l8-7-5-1-8 5zm5 0l8-5-5-2-8 7zm5-1l8 0-5-4-8 5zm5 4l8 3-5-7-8 0zm5 8l8 5-5-10-8-3zm5 12l8 2-5-9-8-5zm4 12l9-3-5-7-8-2zm5 7l9-7-5-3-9 3zm6 0l8-5-5-2-9 7zm5-2l8 0-5-3-8 5zm5-1l8 6-5-5-8 0zm6 5l7 8-5-7-8-6zm5 9l8 4-6-5-7-8zm5 10l8-3-5-3-8-4zm5 8l9-10-6-1-8 3z"/><path class="e" d="M2591 2187l9-15-5-1-9 10zm6 4l8-14-5-5-9 15zm5 5l9-9-6-10-8 14zm5 7l9-4-5-12-9 9zm6 7l8 0-5-11-9 4zm5 5l8 3-5-8-8 0zm6 3l8 4-6-4-8-3z"/><path class="m" d="M2629 2223l8 3-5-4-8-4z"/><path class="n" d="M2635 2231l8 0-6-5-8-3zm5 12l9-5-6-7-8 0zm5 12l9-12-5-5-9 5zm6 8l9-18-6-2-9 12zm6 1l10-19-7 0-9 18z"/><path class="m" d="M2663 2259l10-14-6 0-10 19z"/><path class="e" d="M2670 2258l9-6-6-7-10 14zm6 7l8-2-5-11-9 6z"/><path class="m" d="M2681 2273l9-3-6-7-8 2z"/><path class="d" d="M2488 2100l8-3-5 0-8 2zm5 1l8-2-5-2-8 3zm4 3l8-2-4-3-8 2zm5 5l8-2-5-5-8 2zm5 3l8-2-5-3-8 2zm5 2l8-4-5 0-8 2z"/><path class="c" d="M2517 2113l8-4-5 1-8 4zm5 2l8-2-5-4-8 4z"/><path class="d" d="M2527 2121l8 0-5-8-8 2zm5 11l8 1-5-12-8 0zm4 12l8 1-4-12-8-1zm5 8l8 0-5-7-8-1zm6 1l8-1-6 0-8 0zm5-3l8 0-5 2-8 1zm5-3l8 2-5 1-8 0zm6 3l8 4-6-5-8-2zm5 10l8 3-5-9-8-4zm4 16l9-3-5-10-8-3zm5 14l9-9-5-8-9 3zm5 10l9-13-5-6-9 9z"/><path class="e" d="M2588 2205l9-14-6-4-9 13zm5 0l9-9-5-5-9 14zm6 0l8-2-5-7-9 9zm6 2l8 3-6-7-8 2zm5 3l8 5-5-5-8-3zm6 5l8 3-6-3-8-5z"/><path class="n" d="M2621 2224l8-1-5-5-8-3z"/><path class="o" d="M2626 2236l9-5-6-8-8 1zm5 16l9-9-5-12-9 5zm5 15l9-12-5-12-9 9zm6 11l9-15-6-8-9 12zm5 2l10-16-6-1-9 15z"/><path class="n" d="M2654 2274l9-15-6 5-10 16z"/><path class="m" d="M2661 2266l9-8-7 1-9 15zm6 3l9-4-6-7-9 8zm6 7l8-3-5-8-9 4z"/><path class="d" d="M2480 2105l8-5-5-1-8 4zm5 0l8-4-5-1-8 5zm4-1l8 0-4-3-8 4z"/><path class="c" d="M2494 2106l8 3-5-5-8 0zm5 4l8 2-5-3-8-3zm5 5l8-1-5-2-8-2zm5 4l8-6-5 1-8 1zm5 3l8-7-5-2-8 6zm5 4l8-5-5-6-8 7zm5 6l8 0-5-11-8 5zm4 7l8 5-4-12-8 0z"/><path class="d" d="M2533 2146l8 6-5-8-8-5zm6 4l8 3-6-1-8-6zm5 0l8 0-5 3-8-3zm5 0l8-3-5 3-8 0zm5 3l9-3-6-3-8 3zm5 9l9-2-5-10-9 3zm5 16l8-2-4-16-9 2zm5 18l8-6-5-14-8 2zm5 13l8-9-5-10-8 6z"/><path class="e" d="M2579 2214l9-9-6-5-8 9zm6-2l8-7-5 0-9 9zm6-5l8-2-6 0-8 7zm6-3l8 3-6-2-8 2zm5 4l8 2-5-3-8-3z"/><path class="m" d="M2607 2218l9-3-6-5-8-2z"/><path class="n" d="M2612 2233l9-9-5-9-9 3z"/><path class="p" d="M2617 2250l9-14-5-12-9 9z"/><path class="t" d="M2622 2265l9-13-5-16-9 14z"/><path class="q" d="M2627 2278l9-11-5-15-9 13z"/><path class="t" d="M2633 2286l9-8-6-11-9 11z"/><path class="p" d="M2639 2289l8-9-5-2-9 8z"/><path class="n" d="M2645 2284l9-10-7 6-8 9zm7-9l9-9-7 8-9 10z"/><path class="m" d="M2658 2273l9-4-6-3-9 9zm6 6l9-3-6-7-9 4z"/><path class="d" d="M2472 2110l8-5-5-2-8 4zm5-2l8-3-5 0-8 5z"/><path class="c" d="M2481 2104l8 0-4 1-8 3zm5-2l8 4-5-2-8 0zm5 4l8 4-5-4-8-4zm5 8l8 1-5-5-8-4zm5 10l8-5-5-4-8-1zm4 6l9-8-5-3-8 5zm5 2l9-6-5-4-9 8zm5 1l9-1-5-6-9 6zm5 2l8 4-4-7-9 1zm5 5l8 6-5-7-8-4z"/><path class="d" d="M2530 2146l9 4-6-4-8-6zm6 5l8-1-5 0-9-4zm5 4l8-5-5 0-8 1zm5 5l8-7-5-3-8 5zm5 8l8-6-5-9-8 7zm5 13l8-3-5-16-8 6zm5 16l8-1-5-18-8 3zm5 13l8-1-5-13-8 1zm5 6l8-2-5-5-8 1z"/><path class="e" d="M2576 2214l9-2-6 2-8 2zm6-6l9-1-6 5-9 2zm6-3l9-1-6 3-9 1zm6 6l8-3-5-4-9 1z"/><path class="n" d="M2599 2227l8-9-5-10-8 3z"/><path class="o" d="M2603 2247l9-14-5-15-8 9z"/><path class="q" d="M2608 2267l9-17-5-17-9 14z"/><path class="r" d="M2613 2280l9-15-5-15-9 17zm5 7l9-9-5-13-9 15zm6 4l9-5-6-8-9 9z"/><path class="q" d="M2630 2292l9-3-6-3-9 5z"/><path class="o" d="M2636 2290l9-6-6 5-9 3z"/><path class="n" d="M2643 2283l9-8-7 9-9 6z"/><path class="m" d="M2649 2278l9-5-6 2-9 8zm6 4l9-3-6-6-9 5z"/><path class="d" d="M2464 2113l8-3-5-3-8 3z"/><path class="c" d="M2468 2110l9-2-5 2-8 3zm5-6l8 0-4 4-9 2zm5-3l8 1-5 2-8 0zm5 3l8 2-5-4-8-1zm5 8l8 2-5-8-8-2zm4 11l9 1-5-10-8-2zm5 9l8-2-4-6-9-1zm5 3l8-3-5-2-8 2zm5-1l8-1-5-1-8 3zm5 0l8 1-5-2-8 1zm5 4l8 2-5-5-8-1zm5 7l8 1-5-6-8-2z"/><path class="d" d="M2527 2154l9-3-6-5-8-1zm5 8l9-7-5-4-9 3zm5 6l9-8-5-5-9 7zm5 7l9-7-5-8-9 8zm5 9l9-3-5-13-9 7zm5 11l9 2-5-16-9 3zm6 11l8 4-5-13-9-2zm5 5l8 5-5-6-8-4z"/><path class="e" d="M2568 2212l8 2-5 2-8-5zm6-2l8-2-6 6-8-2zm5 1l9-6-6 3-8 2z"/><path class="m" d="M2585 2221l9-10-6-6-9 6z"/><path class="n" d="M2590 2240l9-13-5-16-9 10z"/><path class="t" d="M2594 2262l9-15-4-20-9 13z"/><path class="r" d="M2599 2282l9-15-5-20-9 15z"/><path class="s" d="M2604 2294l9-14-5-13-9 15zm6 3l8-10-5-7-9 14zm6-2l8-4-6-4-8 10z"/><path class="r" d="M2622 2293l8-1-6-1-8 4z"/><path class="p" d="M2628 2291l8-1-6 2-8 1z"/><path class="n" d="M2634 2286l9-3-7 7-8 1z"/><path class="m" d="M2641 2282l8-4-6 5-9 3zm6 3l8-3-6-4-8 4z"/><path class="c" d="M2456 2111l8 2-5-3-8-1zm4-1l8 0-4 3-8-2zm5-3l8-3-5 6-8 0zm5-3l8-3-5 3-8 3zm5 2l8-2-5-3-8 3zm4 5l9 1-5-8-8 2zm5 8l8 4-4-11-9-1zm5 7l8 6-5-9-8-4zm5 5l8 4-5-3-8-6zm5 4l8-1-5 1-8-4zm5 3l8-4-5 0-8 1zm5 5l8-5-5-4-8 4zm5 7l8-5-5-7-8 5zm5 8l8-4-5-9-8 5z"/><path class="d" d="M2524 2166l8-4-5-8-8 4zm5 7l8-5-5-6-8 4zm5 6l8-4-5-7-8 5zm5 6l8-1-5-9-8 4zm5 7l8 3-5-11-8 1zm5 6l9 8-6-11-8-3zm6 6l8 7-5-5-9-8z"/><path class="e" d="M2560 2209l8 3-5-1-8-7zm5 5l9-4-6 2-8-3zm6 8l8-11-5-1-9 4z"/><path class="m" d="M2576 2234l9-13-6-10-8 11z"/><path class="o" d="M2581 2252l9-12-5-19-9 13z"/><path class="q" d="M2585 2272l9-10-4-22-9 12z"/><path class="r" d="M2590 2291l9-9-5-20-9 10z"/><path class="u" d="M2595 2303l9-9-5-12-9 9zm6 4l9-10-6-3-9 9zm6-4l9-8-6 2-9 10z"/><path class="r" d="M2613 2296l9-3-6 2-9 8z"/><path class="t" d="M2620 2290l8 1-6 2-9 3z"/><path class="o" d="M2626 2286l8 0-6 5-8-1z"/><path class="n" d="M2632 2284l9-2-7 4-8 0z"/><path class="m" d="M2638 2288l9-3-6-3-9 2z"/><path class="c" d="M2448 2106l8 5-5-2-8-5zm4 3l8 1-4 1-8-5zm5 2l8-4-5 3-8-1zm5 1l8-8-5 3-8 4zm4-1l9-5-5-2-8 8zm5 0l8 0-4-5-9 5z"/><path class="b" d="M2476 2112l8 7-5-8-8 0zm5 4l8 10-5-7-8-7zm5 9l8 6-5-5-8-10z"/><path class="c" d="M2491 2135l8 0-5-4-8-6zm4 9l9-6-5-3-8 0zm5 7l9-8-5-5-9 6zm5 6l9-7-5-7-9 8zm5 6l9-5-5-8-9 7zm5 6l9-3-5-8-9 5z"/><path class="d" d="M2520 2175l9-2-5-7-9 3zm6 6l8-2-5-6-9 2zm5 4l8 0-5-6-8 2zm5 3l8 4-5-7-8 0zm5 4l8 6-5-6-8-4zm5 6l9 6-6-6-8-6z"/><path class="e" d="M2552 2208l8 1-5-5-9-6zm5 12l8-6-5-5-8-1zm5 13l9-11-6-8-8 6z"/><path class="m" d="M2567 2245l9-11-5-12-9 11z"/><path class="o" d="M2572 2259l9-7-5-18-9 11z"/><path class="q" d="M2577 2276l8-4-4-20-9 7z"/><path class="s" d="M2582 2294l8-3-5-19-8 4z"/><path class="u" d="M2587 2309l8-6-5-12-8 3z"/><path class="v" d="M2592 2316l9-9-6-4-8 6z"/><path class="u" d="M2598 2312l9-9-6 4-9 9z"/><path class="s" d="M2604 2301l9-5-6 7-9 9z"/><path class="q" d="M2611 2289l9 1-7 6-9 5z"/><path class="o" d="M2618 2283l8 3-6 4-9-1z"/><path class="n" d="M2623 2286l9-2-6 2-8-3z"/><path class="m" d="M2629 2291l9-3-6-4-9 2z"/><path class="c" d="M2439 2099l9 7-5-2-8-8zm5 7l8 3-4-3-9-7zm5 8l8-3-5-2-8-3zm4 4l9-6-5-1-8 3z"/><path class="b" d="M2458 2117l8-6-4 1-9 6zm5-6l8 0-5 0-8 6zm5-4l8 5-5-1-8 0zm5 3l8 6-5-4-8-5zm4 9l9 6-5-9-8-6zm5 14l9 2-5-10-9-6zm5 14l8-3-4-9-9-2z"/><path class="c" d="M2492 2157l8-6-5-7-8 3zm5 5l8-5-5-6-8 6zm5 4l8-3-5-6-8 5zm5 4l8-1-5-6-8 3zm5 6l8-1-5-6-8 1z"/><path class="d" d="M2517 2182l9-1-6-6-8 1zm5 3l9 0-5-4-9 1zm6 1l8 2-5-3-9 0zm5 3l8 3-5-4-8-2zm5 8l8 1-5-6-8-3z"/><path class="e" d="M2543 2210l9-2-6-10-8-1zm5 16l9-6-5-12-9 2zm5 15l9-8-5-13-9 6z"/><path class="m" d="M2558 2252l9-7-5-12-9 8z"/><path class="o" d="M2563 2262l9-3-5-14-9 7z"/><path class="q" d="M2568 2275l9 1-5-17-9 3z"/><path class="s" d="M2573 2293l9 1-5-18-9-1z"/><path class="u" d="M2578 2310l9-1-5-15-9-1z"/><path class="v" d="M2583 2320l9-4-5-7-9 1z"/><path class="u" d="M2589 2318l9-6-6 4-9 4z"/><path class="s" d="M2596 2305l8-4-6 11-9 6z"/><path class="q" d="M2603 2288l8 1-7 12-8 4z"/><path class="o" d="M2609 2281l9 2-7 6-8-1z"/><path class="n" d="M2615 2287l8-1-5-3-9-2z"/><path class="m" d="M2621 2294l8-3-6-5-8 1z"/><path class="c" d="M2431 2093l8 6-4-3-9-7zm5 9l8 4-5-7-8-6z"/><path class="b" d="M2440 2113l9 1-5-8-8-4zm5 5l8 0-4-4-9-1zm5 0l8-1-5 1-8 0zm5-5l8-2-5 6-8 1zm4-4l9-2-5 4-8 2zm5 2l9-1-5-3-9 2zm5 9l8-1-4-9-9 1zm5 12l8 1-5-14-8 1zm5 13l8 2-5-14-8-1zm5 9l8 3-5-10-8-2z"/><path class="c" d="M2489 2160l8 2-5-5-8-3zm5 6l8 0-5-4-8-2zm5 6l8-2-5-4-8 0zm5 7l8-3-5-6-8 2z"/><path class="d" d="M2509 2184l8-2-5-6-8 3zm5 2l8-1-5-3-8 2zm5 1l9-1-6-1-8 1zm5 3l9-1-5-3-9 1zm6 9l8-2-5-8-9 1zm5 14l8-3-5-13-8 2z"/><path class="e" d="M2539 2229l9-3-5-16-8 3zm6 14l8-2-5-15-9 3z"/><path class="m" d="M2550 2253l8-1-5-11-8 2z"/><path class="o" d="M2555 2262l8 0-5-10-8 1z"/><path class="q" d="M2560 2275l8 0-5-13-8 0z"/><path class="r" d="M2565 2292l8 1-5-18-8 0z"/><path class="u" d="M2570 2308l8 2-5-17-8-1zm5 10l8 2-5-10-8-2zm6-2l8 2-6 2-8-2z"/><path class="r" d="M2587 2303l9 2-7 13-8-2z"/><path class="t" d="M2594 2288l9 0-7 17-9-2z"/><path class="o" d="M2600 2283l9-2-6 7-9 0z"/><path class="n" d="M2606 2290l9-3-6-6-9 2z"/><path class="m" d="M2612 2298l9-4-6-7-9 3z"/><path class="c" d="M2423 2090l8 3-5-4-8-4z"/><path class="b" d="M2427 2098l9 4-5-9-8-3zm5 8l8 7-4-11-9-4zm5 5l8 7-5-5-8-7zm4 2l9 5-5 0-8-7z"/><path class="a" d="M2446 2113l9 0-5 5-9-5zm5 1l8-5-4 4-9 0zm5 4l8-7-5-2-8 5zm5 6l8-4-5-9-8 7zm4 7l9 1-5-12-8 4z"/><path class="b" d="M2470 2137l9 8-5-13-9-1zm5 7l9 10-5-9-9-8zm5 8l9 8-5-6-9-10z"/><path class="c" d="M2485 2163l9 3-5-6-9-8zm5 12l9-3-5-6-9-3zm5 9l9-5-5-7-9 3zm5 4l9-4-5-5-9 5z"/><path class="d" d="M2505 2189l9-3-5-2-9 4zm6 1l8-3-5-1-9 3zm5 4l8-4-5-3-8 3zm5 9l9-4-6-9-8 4zm5 12l9-2-5-14-9 4z"/><path class="e" d="M2531 2228l8 1-4-16-9 2zm5 12l9 3-6-14-8-1z"/><path class="m" d="M2541 2250l9 3-5-10-9-3z"/><path class="n" d="M2546 2261l9 1-5-9-9-3z"/><path class="t" d="M2551 2276l9-1-5-13-9-1z"/><path class="r" d="M2556 2292l9 0-5-17-9 1z"/><path class="s" d="M2562 2305l8 3-5-16-9 0zm5 5l8 8-5-10-8-3zm6-5l8 11-6 2-8-8z"/><path class="r" d="M2579 2296l8 7-6 13-8-11z"/><path class="p" d="M2585 2288l9 0-7 15-8-7z"/><path class="n" d="M2591 2288l9-5-6 5-9 0z"/><path class="m" d="M2597 2294l9-4-6-7-9 5zm6 7l9-3-6-8-9 4z"/><path class="b" d="M2414 2089l9 1-5-5-8 2zm5 4l8 5-4-8-9-1zm5 4l8 9-5-8-8-5z"/><path class="a" d="M2428 2100l9 11-5-5-8-9zm5 4l8 9-4-2-9-11zm5 7l8 2-5 0-8-9zm4 8l9-5-5-1-8-2zm5 6l9-7-5-4-9 5zm5 3l9-4-5-6-9 7zm5-1l8 4-4-7-9 4zm5 0l8 10-5-6-8-4z"/><path class="b" d="M2467 2132l8 12-5-7-8-10zm5 12l8 8-5-8-8-12zm5 17l8 2-5-11-8-8z"/><path class="c" d="M2482 2176l8-1-5-12-8-2zm4 11l9-3-5-9-8 1zm6 5l8-4-5-4-9 3z"/><path class="d" d="M2497 2193l8-4-5-1-8 4zm5 2l9-5-6-1-8 4zm5 5l9-6-5-4-9 5zm5 8l9-5-5-9-9 6zm5 9l9-2-5-12-9 5z"/><path class="e" d="M2522 2225l9 3-5-13-9 2zm6 9l8 6-5-12-9-3zm5 12l8 4-5-10-8-6z"/><path class="n" d="M2538 2261l8 0-5-11-8-4z"/><path class="o" d="M2543 2278l8-2-5-15-8 0z"/><path class="q" d="M2548 2293l8-1-5-16-8 2z"/><path class="r" d="M2553 2299l9 6-6-13-8 1zm6-1l8 12-5-5-9-6zm6-6l8 13-6 5-8-12z"/><path class="q" d="M2571 2287l8 9-6 9-8-13z"/><path class="o" d="M2577 2288l8 0-6 8-8-9z"/><path class="n" d="M2582 2293l9-5-6 0-8 0z"/><path class="m" d="M2588 2299l9-5-6-6-9 5zm6 5l9-3-6-7-9 5z"/><path class="b" d="M2406 2091l8-2-4-2-8 5zm4-2l9 4-5-4-8 2z"/><path class="a" d="M2415 2087l9 10-5-4-9-4zm5 2l8 11-4-3-9-10z"/><path class="f" d="M2424 2096l9 8-5-4-8-11zm5 10l9 5-5-7-9-8zm5 11l8 2-4-8-9-5zm5 7l8 1-5-6-8-2zm5 0l8 4-5-3-8-1zm4-3l9 6-5 1-8-4z"/><path class="a" d="M2453 2121l9 6-5 0-9-6zm5 6l9 5-5-5-9-6zm5 14l9 3-5-12-9-5z"/><path class="b" d="M2468 2159l9 2-5-17-9-3zm5 16l9 1-5-15-9-2z"/><path class="c" d="M2478 2186l8 1-4-11-9-1zm5 7l9-1-6-5-8-1z"/><path class="d" d="M2488 2197l9-4-5-1-9 1zm5 4l9-6-5-2-9 4zm5 6l9-7-5-5-9 6zm5 5l9-4-5-8-9 7zm6 5l8 0-5-9-9 4z"/><path class="e" d="M2514 2222l8 3-5-8-8 0zm5 8l9 4-6-9-8-3zm5 14l9 2-5-12-9-4z"/><path class="m" d="M2529 2262l9-1-5-15-9-2z"/><path class="n" d="M2534 2280l9-2-5-17-9 1z"/><path class="o" d="M2539 2291l9 2-5-15-9 2z"/><path class="t" d="M2545 2293l8 6-5-6-9-2z"/><path class="q" d="M2551 2288l8 10-6 1-8-6z"/><path class="t" d="M2557 2283l8 9-6 6-8-10z"/><path class="p" d="M2562 2282l9 5-6 5-8-9z"/><path class="n" d="M2568 2288l9 0-6-1-9-5zm6 8l8-3-5-5-9 0z"/><path class="m" d="M2579 2302l9-3-6-6-8 3zm6 5l9-3-6-5-9 3z"/><path class="b" d="M2398 2092l8-1-4 1-9 6z"/><path class="a" d="M2402 2085l8 4-4 2-8 1zm4-4l9 6-5 2-8-4z"/><path class="f" d="M2411 2082l9 7-5-2-9-6zm5 7l8 7-4-7-9-7z"/><path class="g" d="M2421 2098l8 8-5-10-8-7zm4 8l9 11-5-11-8-8zm5 4l9 14-5-7-9-11zm5 1l9 13-5 0-9-14zm5 2l8 8-4 3-9-13z"/><path class="f" d="M2445 2119l8 2-5 0-8-8zm5 11l8-3-5-6-8-2z"/><path class="a" d="M2454 2144l9-3-5-14-8 3zm5 15l9 0-5-18-9 3z"/><path class="b" d="M2464 2171l9 4-5-16-9 0z"/><path class="c" d="M2469 2181l9 5-5-11-9-4zm5 9l9 3-5-7-9-5zm5 9l9-2-5-4-9-3z"/><path class="d" d="M2484 2207l9-6-5-4-9 2zm6 6l8-6-5-6-9 6zm5 3l8-4-5-5-8 6zm5 2l9-1-6-5-8 4zm5 3l9 1-5-5-9 1z"/><path class="e" d="M2510 2230l9 0-5-8-9-1zm5 15l9-1-5-14-9 0zm6 18l8-1-5-18-9 1z"/><path class="n" d="M2526 2277l8 3-5-18-8 1zm5 8l8 6-5-11-8-3z"/><path class="o" d="M2536 2286l9 7-6-2-8-6zm6-3l9 5-6 5-9-7zm6-2l9 2-6 5-9-5zm6 2l8-1-5 1-9-2z"/><path class="n" d="M2559 2290l9-2-6-6-8 1z"/><path class="m" d="M2565 2297l9-1-6-8-9 2zm5 7l9-2-5-6-9 1zm6 6l9-3-6-5-9 2z"/><path class="a" d="M2389 2093l9-1-5 6-8 4zm4-9l9 1-4 7-9 1z"/><path class="f" d="M2398 2078l8 3-4 4-9-1z"/><path class="g" d="M2402 2079l9 3-5-1-8-3zm5 4l9 6-5-7-9-3z"/><path class="h" d="M2412 2087l9 11-5-9-9-6zm4 1l9 18-4-8-9-11zm5 1l9 21-5-4-9-18zm5 4l9 18-5-1-9-21zm5 10l9 10-5-2-9-18z"/><path class="g" d="M2436 2119l9 0-5-6-9-10z"/><path class="f" d="M2441 2136l9-6-5-11-9 0zm5 14l8-6-4-14-9 6z"/><path class="a" d="M2451 2159l8 0-5-15-8 6z"/><path class="b" d="M2456 2166l8 5-5-12-8 0zm5 8l8 7-5-10-8-5z"/><path class="c" d="M2466 2185l8 5-5-9-8-7zm5 14l8 0-5-9-8-5z"/><path class="d" d="M2476 2210l8-3-5-8-8 0zm5 7l9-4-6-6-8 3zm5 2l9-3-5-3-9 4zm5 1l9-2-5-2-9 3zm5 4l9-3-5-3-9 2z"/><path class="e" d="M2502 2234l8-4-5-9-9 3zm5 14l8-3-5-15-8 4zm5 13l9 2-6-18-8 3zm5 11l9 5-5-14-9-2z"/><path class="n" d="M2522 2277l9 8-5-8-9-5zm6 3l8 6-5-1-9-8zm5 2l9 1-6 3-8-6zm6 4l9-5-6 2-9-1zm5 3l10-6-6-2-9 5z"/><path class="m" d="M2550 2292l9-2-5-7-10 6z"/><path class="e" d="M2556 2296l9 1-6-7-9 2zm5 9l9-1-5-7-9-1z"/><path class="m" d="M2567 2313l9-3-6-6-9 1z"/><path class="a" d="M2381 2094l8-1-4 9-9 2z"/><path class="f" d="M2385 2083l8 1-4 9-8 1z"/><path class="g" d="M2389 2077l9 1-5 6-8-1z"/><path class="h" d="M2394 2076l8 3-4-1-9-1zm4-1l9 8-5-4-8-3z"/><path class="i" d="M2403 2073l9 14-5-4-9-8zm4-4l9 19-4-1-9-14zm5-1l9 21-5-1-9-19zm5 8l9 17-5-4-9-21zm5 18l9 9-5-10-9-17z"/><path class="h" d="M2427 2117l9 2-5-16-9-9z"/><path class="g" d="M2432 2138l9-2-5-17-9-2z"/><path class="f" d="M2437 2151l9-1-5-14-9 2zm5 6l9 2-5-9-9 1z"/><path class="a" d="M2447 2161l9 5-5-7-9-2z"/><path class="b" d="M2452 2168l9 6-5-8-9-5zm5 14l9 3-5-11-9-6z"/><path class="c" d="M2462 2198l9 1-5-14-9-3zm5 14l9-2-5-11-9-1z"/><path class="d" d="M2472 2219l9-2-5-7-9 2zm5 2l9-2-5-2-9 2zm5 1l9-2-5-1-9 2zm6 6l8-4-5-4-9 2zm5 9l9-3-6-10-8 4z"/><path class="e" d="M2498 2249l9-1-5-14-9 3zm5 9l9 3-5-13-9 1zm5 7l9 7-5-11-9-3zm6 5l8 7-5-5-9-7z"/><path class="m" d="M2519 2276l9 4-6-3-8-7zm5 8l9-2-5-2-9-4zm6 8l9-6-6-4-9 2z"/><path class="e" d="M2535 2295l9-6-5-3-9 6zm6-1l9-2-6-3-9 6zm6 2l9 0-6-4-9 2zm5 10l9-1-5-9-9 0z"/><path class="m" d="M2558 2316l9-3-6-8-9 1z"/><path class="f" d="M2372 2094l9 0-5 10-8-1z"/><path class="g" d="M2376 2084l9-1-4 11-9 0z"/><path class="h" d="M2380 2076l9 1-4 6-9 1zm5-6l9 6-5 1-9-1z"/><path class="i" d="M2389 2065l9 10-4 1-9-6z"/><path class="j" d="M2394 2059l9 14-5 2-9-10zm4-4l9 14-4 4-9-14zm5 1l9 12-5 1-9-14zm5 11l9 9-5-8-9-12zm5 20l9 7-5-18-9-9z"/><path class="i" d="M2418 2110l9 7-5-23-9-7z"/><path class="h" d="M2423 2130l9 8-5-21-9-7z"/><path class="g" d="M2428 2144l9 7-5-13-9-8z"/><path class="f" d="M2433 2151l9 6-5-6-9-7z"/><path class="a" d="M2438 2158l9 3-5-4-9-6zm5 10l9 0-5-7-9-3z"/><path class="b" d="M2448 2183l9-1-5-14-9 0z"/><path class="c" d="M2453 2198l9 0-5-16-9 1zm5 12l9 2-5-14-9 0zm5 7l9 2-5-7-9-2zm5 4l9 0-5-2-9-2z"/><path class="d" d="M2474 2224l8-2-5-1-9 0zm5 7l9-3-6-6-8 2zm5 8l9-2-5-9-9 3zm5 8l9 2-5-12-9 2z"/><path class="e" d="M2494 2254l9 4-5-9-9-2zm6 5l8 6-5-7-9-4zm5 7l9 4-6-5-8-6zm5 9l9 1-5-6-9-4zm6 11l8-2-5-8-9-1zm5 9l9-3-6-8-8 2zm5 3l9-3-5-3-9 3zm6-1l9-3-6 1-9 3zm6 2l9-3-6-2-9 3zm5 11l9-4-5-10-9 3z"/><path class="m" d="M2549 2319l9-3-6-10-9 4z"/><path class="f" d="M2363 2094l9 0-4 9-9-2z"/><path class="g" d="M2367 2085l9-1-4 10-9 0z"/><path class="h" d="M2372 2074l8 2-4 8-9 1z"/><path class="i" d="M2376 2063l9 7-5 6-8-2z"/><path class="j" d="M2380 2053l9 12-4 5-9-7z"/><path class="k" d="M2385 2047l9 12-5 6-9-12zm4 0l9 8-4 4-9-12zm5 7l9 2-5-1-9-8zm5 13l9 0-5-11-9-2zm5 16l9 4-5-20-9 0z"/><path class="j" d="M2409 2099l9 11-5-23-9-4z"/><path class="i" d="M2414 2114l9 16-5-20-9-11z"/><path class="h" d="M2419 2128l9 16-5-14-9-16z"/><path class="g" d="M2424 2143l9 8-5-7-9-16z"/><path class="f" d="M2429 2157l9 1-5-7-9-8z"/><path class="a" d="M2434 2172l9-4-5-10-9-1zm5 13l9-2-5-15-9 4z"/><path class="b" d="M2444 2196l9 2-5-15-9 2zm5 9l9 5-5-12-9-2z"/><path class="c" d="M2454 2212l9 5-5-7-9-5zm6 7l8 2-5-4-9-5zm5 6l9-1-6-3-8-2zm5 7l9-1-5-7-9 1z"/><path class="d" d="M2475 2237l9 2-5-8-9 1zm5 6l9 4-5-8-9-2zm5 6l9 5-5-7-9-4zm6 7l9 3-6-5-9-5z"/><path class="e" d="M2496 2266l9 0-5-7-9-3zm5 11l9-2-5-9-9 0zm6 9l9 0-6-11-9 2zm5 7l9 2-5-9-9 0zm6 4l8 1-5-3-9-2zm5 3l9-3-6 1-8-1zm6 6l9-7-6-2-9 3zm5 9l9-5-5-11-9 7z"/><path class="m" d="M2540 2323l9-4-6-9-9 5z"/><path class="f" d="M2355 2093l8 1-4 7-8-4z"/><path class="g" d="M2359 2085l8 0-4 9-8-1z"/><path class="i" d="M2363 2073l9 1-5 11-8 0z"/><path class="j" d="M2367 2057l9 6-4 11-9-1z"/><path class="k" d="M2371 2044l9 9-4 10-9-6z"/><path class="l" d="M2375 2040l10 7-5 6-9-9zm5 6l9 1-4 0-10-7zm5 12l9-4-5-7-9-1zm5 13l9-4-5-13-9 4z"/><path class="k" d="M2395 2080l9 3-5-16-9 4z"/><path class="j" d="M2400 2088l9 11-5-16-9-3z"/><path class="i" d="M2405 2097l9 17-5-15-9-11z"/><path class="h" d="M2410 2113l9 15-5-14-9-17z"/><path class="g" d="M2415 2134l9 9-5-15-9-15z"/><path class="f" d="M2420 2157l9 0-5-14-9-9zm5 18l9-3-5-15-9 0z"/><path class="a" d="M2430 2187l9-2-5-13-9 3zm5 6l9 3-5-11-9 2z"/><path class="b" d="M2440 2198l9 7-5-9-9-3zm6 7l8 7-5-7-9-7zm5 10l9 4-6-7-8-7z"/><path class="c" d="M2456 2225l9 0-5-6-9-4zm5 6l9 1-5-7-9 0zm5 3l9 3-5-5-9-1z"/><path class="d" d="M2471 2237l9 6-5-6-9-3zm6 7l8 5-5-6-9-6zm5 10l9 2-6-7-8-5zm5 13l9-1-5-10-9-2z"/><path class="e" d="M2492 2279l9-2-5-11-9 1zm6 7l9 0-6-9-9 2zm5 4l9 3-5-7-9 0zm5 5l10 2-6-4-9-3zm6 9l9-4-5-3-10-2zm5 10l10-8-6-6-9 4zm6 7l9-6-5-9-10 8z"/><path class="m" d="M2531 2326l9-3-6-8-9 6z"/><path class="f" d="M2346 2092l9 1-4 4-9-4z"/><path class="h" d="M2350 2086l9-1-4 8-9-1z"/><path class="i" d="M2354 2074l9-1-4 12-9 1z"/><path class="j" d="M2358 2057l9 0-4 16-9 1z"/><path class="k" d="M2362 2043l9 1-4 13-9 0z"/><path class="l" d="M2366 2039l9 1-4 4-9-1zm5 7l9 0-5-6-9-1zm5 14l9-2-5-12-9 0zm5 12l9-1-5-13-9 2zm5 7l9 1-5-9-9 1z"/><path class="k" d="M2391 2083l9 5-5-8-9-1z"/><path class="j" d="M2396 2090l9 7-5-9-9-5z"/><path class="i" d="M2401 2107l9 6-5-16-9-7z"/><path class="h" d="M2406 2131l9 3-5-21-9-6z"/><path class="g" d="M2411 2155l9 2-5-23-9-3z"/><path class="f" d="M2416 2174l9 1-5-18-9-2zm5 9l9 4-5-12-9-1z"/><path class="a" d="M2426 2186l9 7-5-6-9-4zm5 3l9 9-5-5-9-7zm5 8l10 8-6-7-9-9zm6 13l9 5-5-10-10-8z"/><path class="b" d="M2447 2222l9 3-5-10-9-5zm5 7l9 2-5-6-9-3z"/><path class="c" d="M2457 2232l9 2-5-3-9-2zm5 1l9 4-5-3-9-2zm5 7l10 4-6-7-9-4z"/><path class="d" d="M2473 2252l9 2-5-10-10-4zm5 15l9 0-5-13-9-2zm5 12l9 0-5-12-9 0z"/><path class="e" d="M2489 2286l9 0-6-7-9 0zm5 5l9-1-5-4-9 0zm5 7l9-3-5-5-9 1zm6 11l9-5-6-9-9 3zm5 11l9-6-5-10-9 5zm6 5l9-4-6-7-9 6z"/><path class="m" d="M2521 2329l10-3-6-5-9 4z"/><path class="g" d="M2337 2091l9 1-4 1-9 0z"/><path class="h" d="M2341 2087l9-1-4 6-9-1z"/><path class="i" d="M2345 2078l9-4-4 12-9 1z"/><path class="j" d="M2349 2064l9-7-4 17-9 4z"/><path class="k" d="M2353 2050l9-7-4 14-9 7z"/><path class="l" d="M2357 2044l9-5-4 4-9 7zm5 3l9-1-5-7-9 5zm5 11l9 2-5-14-9 1zm5 11l9 3-5-12-9-2zm5 10l9 0-5-7-9-3z"/><path class="k" d="M2382 2088l9-5-5-4-9 0z"/><path class="j" d="M2387 2098l9-8-5-7-9 5z"/><path class="i" d="M2392 2114l9-7-5-17-9 8z"/><path class="h" d="M2397 2134l9-3-5-24-9 7z"/><path class="g" d="M2402 2154l9 1-5-24-9 3zm5 13l9 7-5-19-9-1z"/><path class="f" d="M2412 2174l9 9-5-9-9-7zm5 3l9 9-5-3-9-9zm5 4l9 8-5-3-9-9zm5 10l9 6-5-8-9-8z"/><path class="a" d="M2432 2205l10 5-6-13-9-6zm6 13l9 4-5-12-10-5zm5 9l9 2-5-7-9-4z"/><path class="b" d="M2448 2231l9 1-5-3-9-2zm5 2l9 0-5-1-9-1z"/><path class="c" d="M2458 2239l9 1-5-7-9 0zm6 11l9 2-6-12-9-1z"/><path class="d" d="M2469 2264l9 3-5-15-9-2zm5 14l9 1-5-12-9-3zm5 10l10-2-6-7-9-1z"/><path class="e" d="M2485 2296l9-5-5-5-10 2zm5 8l9-6-5-7-9 5zm6 10l9-5-6-11-9 6zm5 9l9-3-5-11-9 5zm5 5l10-3-6-5-9 3z"/><path class="m" d="M2512 2332l9-3-5-4-10 3z"/><path class="f" d="M2328 2094l9-3-4 2-9 5z"/><path class="h" d="M2332 2089l9-2-4 4-9 3z"/><path class="i" d="M2336 2083l9-5-4 9-9 2z"/><path class="j" d="M2340 2074l9-10-4 14-9 5z"/><path class="k" d="M2344 2063l9-13-4 14-9 10z"/><path class="l" d="M2349 2054l8-10-4 6-9 13zm4-4l9-3-5-3-8 10zm5 5l9 3-5-11-9 3zm5 11l9 3-5-11-9-3zm5 16l9-3-5-10-9-3z"/><path class="k" d="M2373 2100l9-12-5-9-9 3z"/><path class="j" d="M2378 2117l9-19-5-10-9 12z"/><path class="i" d="M2383 2132l9-18-5-16-9 19z"/><path class="h" d="M2388 2144l9-10-5-20-9 18zm5 9l9 1-5-20-9 10z"/><path class="g" d="M2398 2160l9 7-5-13-9-1zm5 6l9 8-5-7-9-7zm5 5l9 6-5-3-9-8zm5 7l9 3-5-4-9-6z"/><path class="f" d="M2418 2188l9 3-5-10-9-3zm5 12l9 5-5-14-9-3zm5 13l10 5-6-13-9-5z"/><path class="a" d="M2434 2223l9 4-5-9-10-5zm5 7l9 1-5-4-9-4z"/><path class="b" d="M2444 2234l9-1-5-2-9-1zm5 6l9-1-5-6-9 1z"/><path class="c" d="M2454 2249l10 1-6-11-9 1zm6 12l9 3-5-14-10-1z"/><path class="d" d="M2465 2276l9 2-5-14-9-3zm5 14l9-2-5-10-9-2z"/><path class="e" d="M2476 2302l9-6-6-8-9 2zm5 10l9-8-5-8-9 6zm5 7l10-5-6-10-9 8zm6 5l9-1-5-9-10 5zm5 5l9-1-5-5-9 1z"/><path class="m" d="M2503 2336l9-4-6-4-9 1z"/><path class="f" d="M2320 2100l8-6-4 4-8 9z"/><path class="g" d="M2324 2093l8-4-4 5-8 6z"/><path class="h" d="M2328 2088l8-5-4 6-8 4z"/><path class="j" d="M2332 2083l8-9-4 9-8 5z"/><path class="k" d="M2336 2076l8-13-4 11-8 9zm4-9l9-13-5 9-8 13z"/><path class="l" d="M2344 2059l9-9-4 4-9 13zm5-1l9-3-5-5-9 9zm5 11l9-3-5-11-9 3z"/><path class="k" d="M2359 2090l9-8-5-16-9 3z"/><path class="j" d="M2364 2116l9-16-5-18-9 8zm6 23l8-22-5-17-9 16z"/><path class="i" d="M2375 2153l8-21-5-15-8 22z"/><path class="h" d="M2379 2158l9-14-5-12-8 21z"/><path class="g" d="M2384 2158l9-5-5-9-9 14zm5 1l9 1-5-7-9 5zm5 4l9 3-5-6-9-1zm5 8l9 0-5-5-9-3zm5 9l9-2-5-7-9 0z"/><path class="f" d="M2409 2189l9-1-5-10-9 2zm5 10l9 1-5-12-9 1zm5 10l9 4-5-13-9-1zm5 10l10 4-6-10-9-4zm6 8l9 3-5-7-10-4z"/><path class="a" d="M2435 2234l9 0-5-4-9-3zm5 8l9-2-5-6-9 0z"/><path class="b" d="M2445 2251l9-2-5-9-9 2z"/><path class="c" d="M2450 2262l10-1-6-12-9 2z"/><path class="d" d="M2456 2275l9 1-5-15-10 1zm5 16l9-1-5-14-9-1z"/><path class="e" d="M2466 2306l10-4-6-12-9 1zm6 10l9-4-5-10-10 4zm5 5l9-2-5-7-9 4zm5 3l10 0-6-5-9 2zm6 7l9-2-5-5-10 0z"/><path class="m" d="M2493 2339l10-3-6-7-9 2z"/><path class="f" d="M2311 2109l9-9-4 7-8 13z"/><path class="g" d="M2315 2099l9-6-4 7-9 9z"/><path class="h" d="M2319 2092l9-4-4 5-9 6z"/><path class="i" d="M2323 2089l9-6-4 5-9 4z"/><path class="j" d="M2327 2087l9-11-4 7-9 6z"/><path class="k" d="M2331 2081l9-14-4 9-9 11zm5-6l8-16-4 8-9 14zm4-1l9-16-5 1-8 16zm5 9l9-14-5-11-9 16z"/><path class="j" d="M2350 2104l9-14-5-21-9 14zm6 27l8-15-5-26-9 14z"/><path class="i" d="M2361 2155l9-16-6-23-8 15z"/><path class="h" d="M2366 2168l9-15-5-14-9 16z"/><path class="g" d="M2371 2171l8-13-4-5-9 15zm4-3l9-10-5 0-8 13zm5-2l9-7-5-1-9 10z"/><path class="f" d="M2385 2169l9-6-5-4-9 7zm5 9l9-7-5-8-9 6zm5 9l9-7-5-9-9 7zm5 9l9-7-5-9-9 7zm5 6l9-3-5-10-9 7zm5 7l9 0-5-10-9 3zm5 7l9 3-5-10-9 0zm5 7l10 4-6-8-9-3zm5 10l10 1-5-7-10-4zm6 12l9-3-5-8-10-1z"/><path class="a" d="M2436 2258l9-7-5-9-9 3z"/><path class="c" d="M2441 2268l9-6-5-11-9 7z"/><path class="d" d="M2446 2279l10-4-6-13-9 6zm6 12l9 0-5-16-10 4z"/><path class="e" d="M2457 2305l9 1-5-15-9 0zm5 11l10 0-6-10-9-1zm6 6l9-1-5-5-10 0zm5 3l9-1-5-3-9 1zm6 8l9-2-6-7-9 1z"/><path class="m" d="M2484 2342l9-3-5-8-9 2z"/><path class="a" d="M2303 2121l8-12-3 11-8 11z"/><path class="f" d="M2307 2108l8-9-4 10-8 12z"/><path class="g" d="M2310 2098l9-6-4 7-8 9z"/><path class="h" d="M2314 2094l9-5-4 3-9 6z"/><path class="i" d="M2319 2095l8-8-4 2-9 5z"/><path class="j" d="M2323 2096l8-15-4 6-8 8zm4 1l9-22-5 6-8 15zm5 3l8-26-4 1-9 22zm5 8l8-25-5-9-8 26z"/><path class="i" d="M2342 2123l8-19-5-21-8 25zm5 20l9-12-6-27-8 19z"/><path class="h" d="M2352 2163l9-8-5-24-9 12z"/><path class="g" d="M2357 2176l9-8-5-13-9 8zm5 5l9-10-5-3-9 8z"/><path class="f" d="M2366 2181l9-13-4 3-9 10zm5 0l9-15-5 2-9 13zm5 3l9-15-5-3-9 15zm5 7l9-13-5-9-9 15zm5 9l9-13-5-9-9 13z"/><path class="a" d="M2391 2207l9-11-5-9-9 13zm5 6l9-11-5-6-9 11zm5 3l9-7-5-7-9 11z"/><path class="f" d="M2406 2219l9-3-5-7-9 7zm5 5l9-1-5-7-9 3zm5 11l9-2-5-10-9 1zm5 16l10-6-6-12-9 2z"/><path class="a" d="M2427 2269l9-11-5-13-10 6z"/><path class="b" d="M2432 2281l9-13-5-10-9 11z"/><path class="d" d="M2437 2287l9-8-5-11-9 13zm5 6l10-2-6-12-9 8z"/><path class="e" d="M2448 2303l9 2-5-14-10 2zm5 11l9 2-5-11-9-2zm5 9l10-1-6-6-9-2zm6 7l9-5-5-3-10 1zm5 7l10-4-6-8-9 5z"/><path class="m" d="M2475 2345l9-3-5-9-10 4z"/><path class="a" d="M2295 2130l8-9-3 10-9 7z"/><path class="f" d="M2298 2119l9-11-4 13-8 9zm4-11l8-10-3 10-9 11z"/><path class="g" d="M2306 2102l8-8-4 4-8 10z"/><path class="h" d="M2310 2104l9-9-5-1-8 8zm5 8l8-16-4-1-9 9z"/><path class="i" d="M2319 2121l8-24-4-1-8 16zm5 8l8-29-5-3-8 24zm5 7l8-28-5-8-8 29z"/><path class="h" d="M2333 2143l9-20-5-15-8 28zm5 11l9-11-5-20-9 20z"/><path class="g" d="M2343 2167l9-4-5-20-9 11z"/><path class="f" d="M2348 2179l9-3-5-13-9 4zm5 10l9-8-5-5-9 3z"/><path class="a" d="M2358 2195l8-14-4 0-9 8zm4 3l9-17-5 0-8 14zm5 3l9-17-5-3-9 17zm5 6l9-16-5-7-9 17zm5 8l9-15-5-9-9 16z"/><path class="b" d="M2382 2223l9-16-5-7-9 15zm5 6l9-16-5-6-9 16zm5 2l9-15-5-3-9 16z"/><path class="a" d="M2397 2231l9-12-5-3-9 15zm5 2l9-9-5-5-9 12z"/><path class="f" d="M2407 2243l9-8-5-11-9 9zm5 18l9-10-5-16-9 8z"/><path class="a" d="M2417 2281l10-12-6-18-9 10z"/><path class="c" d="M2423 2295l9-14-5-12-10 12z"/><path class="d" d="M2428 2299l9-12-5-6-9 14zm5 2l9-8-5-6-9 12z"/><path class="e" d="M2438 2305l10-2-6-10-9 8zm6 10l9-1-5-11-10 2zm5 12l9-4-5-9-9 1zm5 9l10-6-6-7-9 4zm6 6l9-5-5-7-10 6z"/><path class="m" d="M2465 2349l10-4-6-8-9 5z"/><path class="b" d="M2286 2137l9-7-4 8-9 2z"/><path class="a" d="M2290 2131l8-12-3 11-9 7z"/><path class="f" d="M2293 2122l9-14-4 11-8 12zm4-5l9-15-4 6-9 14z"/><path class="g" d="M2302 2119l8-15-4-2-9 15zm4 10l9-17-5-8-8 15zm5 13l8-21-4-9-9 17zm5 12l8-25-5-8-8 21zm5 6l8-24-5-7-8 25zm4 3l8-20-4-7-8 24z"/><path class="f" d="M2330 2166l8-12-5-11-8 20zm4 7l9-6-5-13-8 12z"/><path class="a" d="M2339 2184l9-5-5-12-9 6zm5 13l9-8-5-10-9 5z"/><path class="b" d="M2349 2207l9-12-5-6-9 8zm5 7l8-16-4-3-9 12zm5 5l8-18-5-3-8 16zm4 5l9-17-5-6-8 18zm5 8l9-17-5-8-9 17z"/><path class="c" d="M2373 2241l9-18-5-8-9 17zm5 7l9-19-5-6-9 18zm5 3l9-20-5-2-9 19z"/><path class="b" d="M2388 2250l9-19-5 0-9 20zm5 0l9-17-5-2-9 19zm5 6l9-13-5-10-9 17zm5 16l9-11-5-18-9 13zm5 19l9-10-5-20-9 11z"/><path class="c" d="M2414 2306l9-11-6-14-9 10z"/><path class="d" d="M2419 2313l9-14-5-4-9 11z"/><path class="e" d="M2424 2315l9-14-5-2-9 14zm5 3l9-13-5-4-9 14z"/><path class="m" d="M2434 2326l10-11-6-10-9 13zm6 9l9-8-5-12-10 11zm5 7l9-6-5-9-9 8zm5 4l10-4-6-6-9 6zm6 6l9-3-5-7-10 4z"/><path class="b" d="M2278 2142l8-5-4 3-9 0zm4 1l8-12-4 6-8 5z"/><path class="a" d="M2285 2141l8-19-3 9-8 12zm4-2l8-22-4 5-8 19z"/><path class="f" d="M2294 2141l8-22-5-2-8 22zm4 7l8-19-4-10-8 22zm5 11l8-17-5-13-8 19zm5 12l8-17-5-12-8 17zm4 8l9-19-5-6-8 17zm5 4l8-20-4-3-9 19z"/><path class="a" d="M2321 2184l9-18-5-3-8 20zm5 4l8-15-4-7-9 18z"/><path class="b" d="M2330 2196l9-12-5-11-8 15zm5 11l9-10-5-13-9 12z"/><path class="c" d="M2340 2220l9-13-5-10-9 10zm5 10l9-16-5-7-9 13zm5 7l9-18-5-5-9 16z"/><path class="d" d="M2355 2244l8-20-4-5-9 18zm5 8l8-20-5-8-8 20zm5 10l8-21-5-9-8 20zm4 8l9-22-5-7-8 21zm5 4l9-23-5-3-9 22zm5-1l9-23-5 1-9 23zm5-2l9-21-5 0-9 23z"/><path class="c" d="M2389 2273l9-17-5-6-9 21zm5 9l9-10-5-16-9 17z"/><path class="d" d="M2399 2298l9-7-5-19-9 10z"/><path class="e" d="M2404 2314l10-8-6-15-9 7zm6 13l9-14-5-7-10 8z"/><path class="m" d="M2415 2335l9-20-5-2-9 14z"/><path class="n" d="M2420 2341l9-23-5-3-9 20z"/><path class="o" d="M2425 2345l9-19-5-8-9 23zm5 2l10-12-6-9-9 19z"/><path class="n" d="M2435 2348l10-6-5-7-10 12zm6 2l9-4-5-4-10 6z"/><path class="m" d="M2446 2355l10-3-6-6-9 4z"/><path class="c" d="M2269 2149l9-7-5-2-8 4zm4 7l9-13-4-1-9 7z"/><path class="b" d="M2278 2161l7-20-3 2-9 13zm4 3l7-25-4 2-7 20zm4 2l8-25-5-2-7 25zm4 3l8-21-4-7-8 25z"/><path class="a" d="M2295 2175l8-16-5-11-8 21z"/><path class="b" d="M2299 2184l9-13-5-12-8 16zm5 10l8-15-4-8-9 13zm5 9l8-20-5-4-8 15zm4 5l8-24-4-1-8 20z"/><path class="c" d="M2318 2212l8-24-5-4-8 24zm4 5l8-21-4-8-8 24z"/><path class="d" d="M2327 2226l8-19-5-11-8 21zm5 11l8-17-5-13-8 19z"/><path class="e" d="M2337 2250l8-20-5-10-8 17zm5 11l8-24-5-7-8 20zm4 9l9-26-5-7-8 24z"/><path class="m" d="M2351 2277l9-25-5-8-9 26zm5 8l9-23-5-10-9 25zm5 7l8-22-4-8-9 23z"/><path class="n" d="M2366 2297l8-23-5-4-8 22zm4 2l9-26-5 1-8 23z"/><path class="m" d="M2375 2297l9-26-5 2-9 26zm5-1l9-23-5-2-9 26zm5 2l9-16-5-9-9 23zm5 10l9-10-5-16-9 16z"/><path class="n" d="M2395 2323l9-9-5-16-9 10zm5 18l10-14-6-13-9 9z"/><path class="o" d="M2406 2357l9-22-5-8-10 14z"/><path class="p" d="M2411 2366l9-25-5-6-9 22z"/><path class="t" d="M2416 2367l9-22-5-4-9 25zm5-6l9-14-5-2-9 22z"/><path class="o" d="M2426 2354l9-6-5-1-9 14z"/><path class="n" d="M2431 2354l10-4-6-2-9 6z"/><path class="m" d="M2437 2359l9-4-5-5-10 4z"/><path class="d" d="M2261 2159l8-10-4-5-9 10zm4 10l8-13-4-7-8 10z"/><path class="c" d="M2270 2179l8-18-5-5-8 13zm4 7l8-22-4-3-8 18zm4 3l8-23-4-2-8 22zm4 1l8-21-4-3-8 23zm4 2l9-17-5-6-8 21zm5 7l8-15-4-9-9 17z"/><path class="d" d="M2296 2210l8-16-5-10-8 15zm5 12l8-19-5-9-8 16zm4 10l8-24-4-5-8 19z"/><path class="e" d="M2310 2238l8-26-5-4-8 24z"/><path class="m" d="M2314 2242l8-25-4-5-8 26z"/><path class="n" d="M2319 2249l8-23-5-9-8 25z"/><path class="o" d="M2324 2260l8-23-5-11-8 23zm5 14l8-24-5-13-8 23z"/><path class="p" d="M2334 2288l8-27-5-11-8 24zm4 10l8-28-4-9-8 27z"/><path class="t" d="M2343 2304l8-27-5-7-8 28zm5 4l8-23-5-8-8 27zm4 4l9-20-5-7-8 23zm5 6l9-21-5-5-9 20zm5 5l8-24-4-2-9 21zm5 1l8-27-5 2-8 24zm4-1l9-27-5 1-8 27zm5-1l9-24-5-2-9 27zm5 4l9-18-5-10-9 24zm5 12l9-15-5-15-9 18zm5 18l9-15-5-18-9 15z"/><path class="q" d="M2397 2374l9-17-6-16-9 15zm5 10l9-18-5-9-9 17z"/><path class="r" d="M2407 2383l9-16-5-1-9 18z"/><path class="q" d="M2412 2372l9-11-5 6-9 16z"/><path class="t" d="M2417 2360l9-6-5 7-9 11z"/><path class="o" d="M2422 2358l9-4-5 0-9 6z"/><path class="n" d="M2427 2362l10-3-6-5-9 4z"/><path class="e" d="M2252 2171l9-12-5-5-8 13z"/><path class="d" d="M2257 2179l8-10-4-10-9 12zm4 11l9-11-5-10-8 10zm5 9l8-13-4-7-9 11zm4 4l8-14-4-3-8 13z"/><path class="e" d="M2274 2205l8-15-4-1-8 14zm4 2l8-15-4-2-8 15zm5 6l8-14-5-7-8 15z"/><path class="m" d="M2287 2223l9-13-5-11-8 14z"/><path class="n" d="M2292 2236l9-14-5-12-9 13zm5 11l8-15-4-10-9 14z"/><path class="o" d="M2302 2254l8-16-5-6-8 15z"/><path class="p" d="M2306 2260l8-18-4-4-8 16z"/><path class="t" d="M2311 2268l8-19-5-7-8 18z"/><path class="q" d="M2315 2280l9-20-5-11-8 19z"/><path class="r" d="M2321 2295l8-21-5-14-9 20zm4 14l9-21-5-14-8 21zm5 9l8-20-4-10-9 21zm5 3l8-17-5-6-8 20z"/><path class="s" d="M2339 2321l9-13-5-4-8 17zm5 2l8-11-4-4-9 13zm4 5l9-10-5-6-8 11zm5 8l9-13-5-5-9 10zm5 6l9-18-5-1-9 13z"/><path class="r" d="M2363 2344l8-21-4 1-9 18zm4 0l9-22-5 1-8 21zm5 2l9-20-5-4-9 22zm5 6l9-14-5-12-9 20zm5 12l9-8-5-18-9 14zm5 13l10-3-6-18-9 8zm5 8l10-1-5-10-10 3z"/><path class="s" d="M2397 2384l10-1-5 1-10 1z"/><path class="r" d="M2402 2375l10-3-5 11-10 1z"/><path class="q" d="M2407 2365l10-5-5 12-10 3z"/><path class="o" d="M2412 2362l10-4-5 2-10 5z"/><path class="n" d="M2417 2365l10-3-5-4-10 4z"/><path class="e" d="M2244 2181l8-10-4-4-8 10zm4 5l9-7-5-8-8 10zm5 7l8-3-4-11-9 7zm4 7l9-1-5-9-8 3zm4 6l9-3-4-4-9 1z"/><path class="m" d="M2265 2211l9-6-4-2-9 3zm5 4l8-8-4-2-9 6z"/><path class="n" d="M2274 2221l9-8-5-6-8 8zm5 7l8-5-4-10-9 8z"/><path class="o" d="M2283 2236l9 0-5-13-8 5z"/><path class="p" d="M2288 2244l9 3-5-11-9 0z"/><path class="t" d="M2292 2252l10 2-5-7-9-3z"/><path class="q" d="M2297 2262l9-2-4-6-10-2zm5 11l9-5-5-8-9 2z"/><path class="r" d="M2307 2286l8-6-4-12-9 5zm4 12l10-3-6-15-8 6z"/><path class="s" d="M2316 2309l9 0-4-14-10 3zm5 5l9 4-5-9-9 0zm4 1l10 6-5-3-9-4zm5 0l9 6-4 0-10-6zm4 1l10 7-5-2-9-6zm5 5l9 7-4-5-10-7zm4 8l10 7-5-8-9-7zm5 9l10 4-5-6-10-7zm5 7l10-1-5-2-10-4zm5 4l9-5-4 0-10 1z"/><path class="r" d="M2363 2352l9-6-5-2-9 5zm5 3l9-3-5-6-9 6zm5 4l9 5-5-12-9 3zm4 5l10 13-5-13-9-5zm5 3l10 18-5-8-10-13zm5 2l10 15-5 1-10-18zm5-1l10 7-5 9-10-15z"/><path class="t" d="M2397 2367l10-2-5 10-10-7z"/><path class="o" d="M2402 2366l10-4-5 3-10 2z"/><path class="n" d="M2408 2369l9-4-5-3-10 4z"/><path class="e" d="M2235 2186l9-5-4-4-9 4zm4 4l9-4-4-5-9 5zm5 4l9-1-5-7-9 4zm4 5l9 1-4-7-9 1zm4 5l9 2-4-6-9-1z"/><path class="m" d="M2256 2211l9 0-4-5-9-2zm5 6l9-2-5-4-9 0z"/><path class="n" d="M2265 2222l9-1-4-6-9 2zm4 4l10 2-5-7-9 1zm4 4l10 6-4-8-10-2z"/><path class="o" d="M2278 2234l10 10-5-8-10-6zm4 8l10 10-4-8-10-10z"/><path class="p" d="M2287 2252l10 10-5-10-10-10z"/><path class="t" d="M2292 2263l10 10-5-11-10-10zm5 11l10 12-5-13-10-10z"/><path class="q" d="M2301 2282l10 16-4-12-10-12zm5 6l10 21-5-11-10-16zm4 3l11 23-5-5-10-21zm5 3l10 21-4-1-11-23zm4 2l11 19-5 0-10-21zm5 4l10 16-4-1-11-19zm4 5l11 16-5-5-10-16zm5 6l10 18-4-8-11-16zm5 8l10 19-5-9-10-18zm5 8l10 18-5-7-10-19zm5 8l10 14-5-4-10-18zm5 5l10 12-5-3-10-14zm5 3l10 12-5-3-10-12zm4 1l11 15-5-4-10-12z"/><path class="t" d="M2367 2345l10 19-4-5-11-15zm5 2l10 20-5-3-10-19zm5 6l10 16-5-2-10-20zm5 7l10 8-5 1-10-16z"/><path class="o" d="M2388 2366l9 1-5 1-10-8z"/><path class="n" d="M2393 2368l9-2-5 1-9-1z"/><path class="m" d="M2398 2372l10-3-6-3-9 2z"/><path class="e" d="M2227 2189l8-3-4-5-9 3zm4 4l8-3-4-4-8 3zm4 5l9-4-5-4-8 3zm4 4l9-3-4-5-9 4zm4 5l9-3-4-5-9 3zm4 6l9-2-4-7-9 3z"/><path class="m" d="M2251 2218l10-1-5-6-9 2zm5 5l9-1-4-5-10 1zm4 3l9 0-4-4-9 1z"/><path class="n" d="M2264 2230l9 0-4-4-9 0zm4 5l10-1-5-4-9 0zm5 6l9 1-4-8-10 1zm4 7l10 4-5-10-9-1zm5 7l10 8-5-11-10-4zm5 7l10 12-5-11-10-8z"/><path class="o" d="M2291 2267l10 15-4-8-10-12zm4 5l11 16-5-6-10-15zm5 4l10 15-4-3-11-16zm5 5l10 13-5-3-10-15zm4 5l10 10-4-2-10-13zm5 6l10 8-5-4-10-10zm5 5l9 8-4-5-10-8zm4 5l10 9-5-6-9-8zm5 6l10 11-5-8-10-9zm5 6l10 13-5-8-10-11zm5 7l10 14-5-8-10-13zm5 6l10 13-5-5-10-14zm5 5l10 11-5-3-10-13z"/><path class="n" d="M2352 2336l10 8-4-1-10-11zm5 3l10 6-5-1-10-8zm5 5l10 3-5-2-10-6zm5 7l10 2-5-6-10-3zm6 7l9 2-5-7-10-2zm5 7l10 1-6-6-9-2zm5 5l10-2-5-2-10-1z"/><path class="m" d="M2388 2376l10-4-5-4-10 2zm-170-184l9-3-5-5-8 4zm4 5l9-4-4-4-9 3zm4 5l9-4-4-5-9 4zm4 4l9-4-4-4-9 4zm4 5l9-4-4-5-9 4zm4 5l9-3-4-6-9 4zm4 5l9-3-4-5-9 3zm5 5l9-3-5-5-9 3zm4 5l9-5-4-3-9 3zm4 5l9-6-4-4-9 5zm4 5l9-6-4-5-9 6zm5 5l9-5-5-6-9 6zm4 5l9-3-4-7-9 5zm5 5l9-1-5-7-9 3zm4 5l10 1-5-7-9 1zm4 5l10 1-4-5-10-1zm5 6l9 0-4-5-10-1zm5 5l9-1-5-4-9 0zm4 5l10-1-5-5-9 1zm5 6l9-2-4-5-10 1zm4 5l10-1-5-6-9 2zm5 5l10-1-5-5-10 1zm5 6l9-2-4-5-10 1zm4 5l10-1-5-6-9 2zm5 6l10-1-5-6-10 1zm5 6l10 0-5-7-10 1zm5 5l10 1-5-6-10 0zm5 6l10 0-5-5-10-1zm5 6l9-2-4-4-10 0zm5 5l9-4-5-3-9 2zm5 6l9-5-5-5-9 4zm5 6l9-4-5-7-9 5zm5 6l10-3-6-7-9 4zm5 6l10-2-5-7-10 3zm5 6l10-3-5-5-10 2zm5 6l10-3-5-6-10 3z"/></g>
<path d="M556.03 581.61h-3.3M555.3 573.26h-3.3M554.56 564.7h-3.3M553.79 555.91h-3.3M553.01 546.9h-3.3M552.2 537.64h-3.3M551.38 528.13h-3.3M550.53 518.37h-3.3M549.66 508.33h-3.3M595.67 631.38l-2.3 1.9M591.04 625.51l-2.3 1.9M586.54 619.8l-2.3 1.9M582.16 614.25l-2.3 1.9M577.9 608.84l-2.3 1.9M573.75 603.57l-2.3 1.9M569.71 598.45l-2.3 1.9M565.77 593.45l-2.3 1.9M561.93 588.58l-2.3 1.9M558.19 583.84l-2.3 1.9M597.75 630.59l0.3 3M606.69 627.18l0.3 3M615.49 623.82l0.3 3M624.14 620.52l0.3 3M632.67 617.27l0.3 3M641.06 614.06l0.3 3M649.33 610.91l0.3 3M657.47 607.8l0.3 3M665.49 604.74l0.3 3M673.38 601.73l0.3 3" stroke="#333" stroke-width="0.5" fill="none"/>
<text x="550.43" y="583.51" font-size="5.4" text-anchor="end" fill="#222">−40</text>
<text x="549.7" y="575.16" font-size="5.4" text-anchor="end" fill="#222">−30</text>
<text x="548.96" y="566.6" font-size="5.4" text-anchor="end" fill="#222">−20</text>
<text x="548.19" y="557.81" font-size="5.4" text-anchor="end" fill="#222">−10</text>
<text x="547.41" y="548.8" font-size="5.4" text-anchor="end" fill="#222">0</text>
<text x="546.6" y="539.54" font-size="5.4" text-anchor="end" fill="#222">10</text>
<text x="545.78" y="530.03" font-size="5.4" text-anchor="end" fill="#222">20</text>
<text x="544.93" y="520.27" font-size="5.4" text-anchor="end" fill="#222">30</text>
<text x="544.06" y="510.23" font-size="5.4" text-anchor="end" fill="#222">40</text>
<text x="591.67" y="639.98" font-size="4.4" text-anchor="middle" fill="#222">0</text>
<text x="586.64" y="630.66" font-size="4.2" text-anchor="end" fill="#222">19.53125</text>
<text x="582.14" y="625.1" font-size="4.2" text-anchor="end" fill="#222">39.0625</text>
<text x="577.76" y="619.7" font-size="4.2" text-anchor="end" fill="#222">78.125</text>
<text x="573.5" y="614.44" font-size="4.2" text-anchor="end" fill="#222">156.25</text>
<text x="569.35" y="609.32" font-size="4.2" text-anchor="end" fill="#222">312.5</text>
<text x="565.31" y="604.35" font-size="4.2" text-anchor="end" fill="#222">625</text>
<text x="561.37" y="599.5" font-size="4.2" text-anchor="end" fill="#222">1,250</text>
<text x="557.53" y="594.78" font-size="4.2" text-anchor="end" fill="#222">2,500</text>
<text x="553.79" y="590.19" font-size="4.2" text-anchor="end" fill="#222">5,000</text>
<text x="598.05" y="640.19" font-size="4.4" text-anchor="middle" fill="#222">0</text>
<text x="606.69" y="635.63" font-size="4.2" fill="#222">19.53125</text>
<text x="615.49" y="632.12" font-size="4.2" fill="#222">39.0625</text>
<text x="624.14" y="628.67" font-size="4.2" fill="#222">78.125</text>
<text x="632.67" y="625.27" font-size="4.2" fill="#222">156.25</text>
<text x="641.06" y="621.91" font-size="4.2" fill="#222">312.5</text>
<text x="649.33" y="618.61" font-size="4.2" fill="#222">625</text>
<text x="657.47" y="615.35" font-size="4.2" fill="#222">1,250</text>
<text x="665.49" y="612.14" font-size="4.2" fill="#222">2,500</text>
<text x="673.38" y="608.98" font-size="4.2" fill="#222">5,000</text>
<text transform="translate(536.82 547.4) rotate(-86)" font-size="7.6" font-weight="bold" text-anchor="middle">Synergy score</text>
<text transform="translate(550.86 614.53) rotate(55)" font-size="7.9" font-weight="bold" text-anchor="middle">Ribociclib (nM)</text>
<text transform="translate(648.18 637) rotate(-21.5)" font-size="7.7" font-weight="bold" text-anchor="middle">BLU-222 (nM)</text>
<text x="619.5" y="457" font-size="9.5" font-weight="bold" text-anchor="middle">Atirmociclib<tspan font-size="5.8" dy="-3.6">R</tspan></text>
<text x="619.5" y="469.3" font-size="7.6" text-anchor="middle" fill="#222">MSA score: 17.1</text>
<text x="619.5" y="477.2" font-size="7.6" text-anchor="middle" fill="#222">Mean synergy: 5.2</text>
<g stroke="#333" stroke-width="0.5"><line x1="18.33" y1="742.93" x2="101.17" y2="721.31"/><line x1="101.17" y1="721.31" x2="154.42" y2="761.56"/><line x1="18.33" y1="742.93" x2="24.99" y2="819.13"/><line x1="154.42" y1="761.56" x2="147.08" y2="840.04"/><line x1="24.99" y1="819.13" x2="65.94" y2="870.89"/><line x1="65.94" y1="870.89" x2="147.08" y2="840.04"/><line x1="18.33" y1="742.93" x2="63.52" y2="789.8"/><line x1="154.42" y1="761.56" x2="63.52" y2="789.8"/><line x1="63.52" y1="789.8" x2="65.94" y2="870.89"/><line x1="101.17" y1="721.31" x2="99.64" y2="794.87" stroke-dasharray="1 1.2"/><line x1="24.99" y1="819.13" x2="99.64" y2="794.87" stroke-dasharray="1 1.2"/><line x1="99.64" y1="794.87" x2="147.08" y2="840.04" stroke-dasharray="1 1.2"/></g>
<g transform="scale(0.25)" stroke="#000" stroke-width="1.68" stroke-linejoin="round"><path class="b" d="M399 3010l8-1-5 1-8 1z"/><path class="a" d="M404 3010l8-1-5 0-8 1zm5 3l8-1-5-3-8 1zm5 7l9-3-6-5-8 1zm5 7l9-3-5-7-9 3zm5 7l9-3-5-7-9 3zm5 6l9 0-5-9-9 3zm6 5l8 3-5-8-9 0z"/><path class="b" d="M440 3049l8 6-5-7-8-3zm5 6l8 6-5-6-8-6zm5 6l9 4-6-4-8-6zm6 7l8 1-5-4-9-4zm5 6l8-1-5-4-8-1zm5 7l9-4-6-4-8 1z"/><path class="c" d="M472 3087l8-6-5-4-9 4zm5 7l9-8-6-5-8 6zm5 6l9-8-5-6-9 8zm6 5l9-7-6-6-9 8zm6 3l8-3-5-7-9 7zm6 2l8 1-6-6-8 3zm5 2l9 5-6-6-8-1zm6 4l8 8-5-7-9-5zm6 7l8 7-6-6-8-8zm5 10l9 3-6-6-8-7zm6 11l8-3-5-5-9-3zm5 9l9-7-6-5-8 3z"/><path class="d" d="M539 3159l9-9-6-4-9 7zm6 4l9-9-6-4-9 9zm6 2l9-7-6-4-9 9zm7 3l8-4-6-6-9 7zm6 5l8-3-6-6-8 4zm6 7l9-4-7-6-8 3zm6 8l8-4-5-8-9 4zm6 8l8-2-6-10-8 4z"/><path class="e" d="M587 3206l9-2-6-10-8 2z"/><path class="m" d="M593 3215l9-3-6-8-9 2z"/><path class="a" d="M391 3011l8-1-5 1-8 2zm5 1l8-2-5 0-8 1zm5 4l8-3-5-3-8 2z"/><path class="f" d="M406 3022l8-2-5-7-8 3zm5 7l8-2-5-7-8 2z"/><path class="a" d="M416 3035l8-1-5-7-8 2zm5 3l8 2-5-6-8 1zm5 3l9 4-6-5-8-2zm6 3l8 5-5-4-9-4z"/><path class="b" d="M437 3050l8 5-5-6-8-5zm5 8l8 3-5-6-8-5zm5 9l9 1-6-7-8-3zm5 9l9-2-5-6-9-1zm6 9l8-4-5-7-9 2zm5 8l9-6-6-6-8 4zm5 7l9-6-5-7-9 6z"/><path class="c" d="M474 3106l8-6-5-6-9 6zm5 4l9-5-6-5-8 6zm6 1l9-3-6-3-9 5zm6-1l9 0-6-2-9 3zm6-1l8 3-5-2-9 0zm6 2l8 5-6-4-8-3zm5 8l9 4-6-7-8-5zm6 13l8 1-5-10-9-4zm5 14l9-2-6-11-8-1zm5 13l9-6-5-9-9 2zm6 7l9-7-6-6-9 6z"/><path class="d" d="M536 3169l9-6-6-4-9 7zm6 1l9-5-6-2-9 6zm7 2l9-4-7-3-9 5zm6 4l9-3-6-5-9 4zm6 7l9-3-6-7-9 3zm6 8l9-3-6-8-9 3zm6 8l9-3-6-8-9 3z"/><path class="e" d="M579 3209l8-3-5-10-9 3z"/><path class="m" d="M584 3218l9-3-6-9-8 3z"/><path class="a" d="M382 3013l9-2-5 2-9 1zm5 1l9-2-5-1-9 2z"/><path class="f" d="M392 3018l9-2-5-4-9 2zm5 6l9-2-5-6-9 2zm5 6l9-1-5-7-9 2zm6 4l8 1-5-6-9 1zm5 1l8 3-5-3-8-1z"/><path class="a" d="M418 3037l8 4-5-3-8-3zm5 4l9 3-6-3-8-4zm5 7l9 2-5-6-9-3z"/><path class="b" d="M434 3058l8 0-5-8-9-2zm5 11l8-2-5-9-8 0zm5 10l8-3-5-9-8 2zm5 8l9-2-6-9-8 3zm5 8l9-2-5-8-9 2zm6 7l8-2-5-7-9 2zm5 6l9-2-6-6-8 2zm6 4l8-2-5-4-9 2z"/><path class="c" d="M476 3113l9-2-6-1-8 2zm6-1l9-2-6 1-9 2zm6-2l9-1-6 1-9 2zm6 2l9-1-6-2-9 1zm6 8l8-1-5-8-9 1zm5 13l9-1-6-13-8 1zm5 15l9-2-5-14-9 1zm6 13l8-2-5-13-9 2zm5 8l9-3-6-7-8 2zm6 3l9-3-6-3-9 3z"/><path class="d" d="M534 3173l8-3-6-1-9 3zm6 1l9-2-7-2-8 3zm6 5l9-3-6-4-9 2zm6 7l9-3-6-7-9 3zm6 8l9-3-6-8-9 3zm6 8l9-3-6-8-9 3z"/><path class="e" d="M570 3212l9-3-6-10-9 3z"/><path class="m" d="M576 3221l8-3-5-9-9 3z"/><path class="a" d="M374 3014l8-1-5 1-8 1z"/><path class="f" d="M379 3016l8-2-5-1-8 1zm5 4l8-2-5-4-8 2zm5 5l8-1-5-6-8 2zm5 4l8 1-5-6-8 1zm5 2l9 3-6-4-8-1zm5 2l9 2-5-1-9-3zm6 2l8 2-5-2-9-2z"/><path class="a" d="M415 3040l8 1-5-4-8-2zm5 9l8-1-5-7-8-1zm5 11l9-2-6-10-8 1z"/><path class="b" d="M430 3072l9-3-5-11-9 2zm5 9l9-2-5-10-9 3zm6 8l8-2-5-8-9 2zm5 6l8 0-5-8-8 2zm5 5l9 2-6-7-8 0zm6 6l8 2-5-6-9-2zm5 5l9 1-6-4-8-2zm6 3l8-1-5-1-9-1z"/><path class="c" d="M474 3115l8-3-6 1-8 1zm6 0l8-5-6 2-8 3zm5 2l9-5-6-2-8 5zm6 7l9-4-6-8-9 5zm5 11l9-2-5-13-9 4zm6 13l8 0-5-15-9 2zm5 12l9 1-6-13-8 0zm6 8l8 1-5-8-9-1zm6 4l8 0-6-3-8-1z"/><path class="d" d="M525 3174l9-1-7-1-8 0zm6 3l9-3-6-1-9 1zm6 5l9-3-6-5-9 3zm6 7l9-3-6-7-9 3zm6 8l9-3-6-8-9 3zm6 8l9-3-6-8-9 3z"/><path class="e" d="M561 3216l9-4-6-10-9 3z"/><path class="m" d="M567 3224l9-3-6-9-9 4z"/><path class="f" d="M365 3015l9-1-5 1-8-1zm5 2l9-1-5-2-9 1zm5 3l9 0-5-4-9 1z"/><path class="g" d="M380 3024l9 1-5-5-9 0zm6 3l8 2-5-4-9-1zm5 2l8 2-5-2-8-2z"/><path class="f" d="M396 3031l8 2-5-2-8-2zm5 4l9 0-6-2-8-2zm5 7l9-2-5-5-9 0z"/><path class="a" d="M411 3052l9-3-5-9-9 2zm5 12l9-4-5-11-9 3zm6 10l8-2-5-12-9 4zm5 8l8-1-5-9-8 2z"/><path class="b" d="M432 3088l9 1-6-8-8 1zm6 4l8 3-5-6-9-1zm5 4l8 4-5-5-8-3zm5 5l9 5-6-6-8-4zm6 7l8 3-5-5-9-5zm5 6l9 0-6-3-8-3zm6 5l9-4-6-1-9 0zm6 3l9-7-6 0-9 4z"/><path class="c" d="M476 3126l9-9-5-2-9 7zm6 5l9-7-6-7-9 9zm6 8l8-4-5-11-9 7zm5 9l9 0-6-13-8 4zm6 9l8 3-5-12-9 0zm5 8l9 3-6-8-8-3zm6 5l9 2-6-4-9-3zm6 5l9-1-6-2-9-2z"/><path class="d" d="M522 3179l9-2-6-3-9 1zm6 6l9-3-6-5-9 2zm6 7l9-3-6-7-9 3zm6 8l9-3-6-8-9 3zm6 9l9-4-6-8-9 3z"/><path class="e" d="M552 3219l9-3-6-11-9 4z"/><path class="m" d="M558 3227l9-3-6-8-9 3z"/><path class="f" d="M357 3014l8 1-4-1-9-2zm5 2l8 1-5-2-8-1z"/><path class="g" d="M367 3019l8 1-5-3-8-1zm5 2l8 3-5-4-8-1zm5 3l9 3-6-3-8-3zm5 2l9 3-5-2-9-3zm5 4l9 1-5-2-9-3z"/><path class="f" d="M392 3037l9-2-5-4-9-1zm6 9l8-4-5-7-9 2zm5 11l8-5-5-10-8 4z"/><path class="a" d="M408 3067l8-3-5-12-8 5zm5 8l9-1-6-10-8 3zm5 6l9 1-5-8-9 1zm6 4l8 3-5-6-9-1zm5 2l9 5-6-4-8-3z"/><path class="b" d="M434 3091l9 5-5-4-9-5zm6 5l8 5-5-5-9-5zm5 8l9 4-6-7-8-5zm6 9l8 1-5-6-9-4zm5 8l9-2-6-5-8-1zm6 7l9-6-6-3-9 2zm5 6l9-8-5-4-9 6zm6 4l9-7-6-5-9 8z"/><path class="c" d="M479 3142l9-3-6-8-9 7zm5 5l9 1-5-9-9 3zm6 6l9 4-6-9-9-1zm6 7l8 5-5-8-9-4zm6 8l8 2-6-5-8-5zm5 7l9 0-6-5-8-2zm6 7l9-3-6-4-9 0z"/><path class="d" d="M519 3189l9-4-6-6-9 3zm6 6l9-3-6-7-9 4zm6 8l9-3-6-8-9 3zm6 10l9-4-6-9-9 3z"/><path class="e" d="M543 3223l9-4-6-10-9 4z"/><path class="m" d="M549 3231l9-4-6-8-9 4z"/><path class="f" d="M349 3012l8 2-5-2-8-2z"/><path class="g" d="M353 3014l9 2-5-2-8-2zm5 2l9 3-5-3-9-2zm5 2l9 3-5-2-9-3zm6 3l8 3-5-3-9-3zm5 4l8 1-5-2-8-3zm5 7l8-2-5-4-8-1zm5 9l8-4-5-7-8 2z"/><path class="f" d="M389 3051l9-5-6-9-8 4zm5 9l9-3-5-11-9 5zm5 8l9-1-5-10-9 3z"/><path class="a" d="M404 3073l9 2-5-8-9 1zm6 4l8 4-5-6-9-2zm5 3l9 5-6-4-8-4zm5 2l9 5-5-2-9-5zm6 4l8 5-5-4-9-5zm5 5l9 5-6-5-8-5zm6 8l8 5-5-8-9-5zm5 10l9 4-6-9-8-5zm5 12l9 0-5-8-9-4z"/><path class="b" d="M453 3131l9-3-6-7-9 0zm5 7l9-4-5-6-9 3zm6 4l9-4-6-4-9 4zm6 2l9-2-6-4-9 4z"/><path class="c" d="M476 3145l8 2-5-5-9 2zm6 4l8 4-6-6-8-2zm5 7l9 4-6-7-8-4zm6 10l9 2-6-8-9-4zm5 10l9-1-5-7-9-2zm6 10l9-4-6-7-9 1z"/><path class="d" d="M510 3193l9-4-6-7-9 4zm6 6l9-4-6-6-9 4zm6 7l9-3-6-8-9 4zm6 10l9-3-6-10-9 3z"/><path class="e" d="M533 3226l10-3-6-10-9 3z"/><path class="m" d="M539 3234l10-3-6-8-10 3z"/><path class="g" d="M340 3011l9 1-5-2-9-1zm5 1l8 2-4-2-9-1zm5 1l8 3-5-2-8-2z"/><path class="h" d="M355 3014l8 4-5-2-8-3zm5 4l9 3-6-3-8-4zm5 7l9 0-5-4-9-3z"/><path class="g" d="M370 3035l9-3-5-7-9 0zm5 10l9-4-5-9-9 3zm5 10l9-4-5-10-9 4z"/><path class="f" d="M385 3062l9-2-5-9-9 4zm5 4l9 2-5-8-9 2zm6 3l8 4-5-5-9-2zm5 2l9 6-6-4-8-4zm5 3l9 6-5-3-9-6zm6 4l8 4-5-2-9-6zm5 4l9 4-6-4-8-4zm6 4l8 5-5-5-9-4zm5 7l9 6-6-8-8-5zm5 10l9 6-5-10-9-6z"/><path class="a" d="M439 3115l8 6-5-12-9-6zm5 12l9 4-6-10-8-6zm6 9l8 2-5-7-9-4zm5 6l9 0-6-4-8-2z"/><path class="b" d="M461 3144l9 0-6-2-9 0zm6 0l9 1-6-1-9 0zm6 3l9 2-6-4-9-1z"/><path class="c" d="M478 3155l9 1-5-7-9-2zm6 11l9 0-6-10-9-1zm5 12l9-2-5-10-9 0zm6 11l9-3-6-10-9 2zm6 8l9-4-6-7-9 3z"/><path class="d" d="M507 3203l9-4-6-6-9 4zm6 6l9-3-6-7-9 4zm6 9l9-2-6-10-9 3z"/><path class="e" d="M524 3229l9-3-5-10-9 2z"/><path class="m" d="M530 3237l9-3-6-8-9 3z"/><path class="g" d="M331 3010l9 1-5-2-8 1zm5 0l9 2-5-1-9-1z"/><path class="h" d="M341 3010l9 3-5-1-9-2zm5 1l9 3-5-1-9-3zm5 5l9 2-5-4-9-3zm5 9l9 0-5-7-9-2zm5 12l9-2-5-10-9 0z"/><path class="g" d="M366 3049l9-4-5-10-9 2zm5 8l9-2-5-10-9 4zm6 5l8 0-5-7-9 2z"/><path class="f" d="M382 3063l8 3-5-4-8 0zm5 0l9 6-6-3-8-3zm5 2l9 6-5-2-9-6zm6 3l8 6-5-3-9-6zm5 5l9 5-6-4-8-6z"/><path class="g" d="M409 3077l8 5-5-4-9-5zm5 4l9 5-6-4-8-5zm6 5l8 7-5-7-9-5zm5 7l8 10-5-10-8-7z"/><path class="f" d="M430 3104l9 11-6-12-8-10zm6 13l8 10-5-12-9-11zm5 12l9 7-6-9-8-10z"/><path class="a" d="M447 3137l8 5-5-6-9-7zm5 4l9 3-6-2-8-5z"/><path class="b" d="M458 3144l9 0-6 0-9-3zm6 4l9-1-6-3-9 0zm5 8l9-1-5-8-9 1z"/><path class="c" d="M475 3168l9-2-6-11-9 1zm5 13l9-3-5-12-9 2zm6 11l9-3-6-11-9 3zm6 8l9-3-6-8-9 3z"/><path class="d" d="M498 3205l9-2-6-6-9 3zm6 6l9-2-6-6-9 2zm6 10l9-3-6-9-9 2z"/><path class="e" d="M515 3232l9-3-5-11-9 3z"/><path class="m" d="M521 3240l9-3-6-8-9 3z"/><path class="g" d="M323 3011l8-1-4 0-9 2z"/><path class="h" d="M328 3009l8 1-5 0-8 1zm5-2l8 3-5 0-8-1zm5 1l8 3-5-1-8-3zm5 6l8 2-5-5-8-3zm5 11l8 0-5-9-8-2zm5 13l8-1-5-12-8 0zm5 12l8-1-5-12-8 1z"/><path class="g" d="M363 3058l8-1-5-8-8 1zm5 2l9 2-6-5-8 1zm5-2l9 5-5-1-9-2zm5-1l9 6-5 0-9-5zm6 2l8 6-5-2-9-6zm5 4l9 5-6-3-8-6zm5 5l9 5-5-5-9-5z"/><path class="h" d="M400 3072l9 5-6-4-9-5zm5 2l9 7-5-4-9-5zm6 2l9 10-6-5-9-7zm5 4l9 13-5-7-9-10zm6 9l8 15-5-11-9-13z"/><path class="g" d="M427 3102l9 15-6-13-8-15zm5 14l9 13-5-12-9-15z"/><path class="f" d="M438 3128l9 9-6-8-9-13zm5 10l9 3-5-4-9-9z"/><path class="a" d="M449 3145l9-1-6-3-9-3zm6 6l9-3-6-4-9 1z"/><path class="b" d="M460 3160l9-4-5-8-9 3zm6 11l9-3-6-12-9 4z"/><path class="c" d="M471 3183l9-2-5-13-9 3zm6 10l9-1-6-11-9 2zm6 8l9-1-6-8-9 1zm6 5l9-1-6-5-9 1z"/><path class="d" d="M495 3213l9-2-6-6-9 1zm5 10l10-2-6-10-9 2z"/><path class="e" d="M506 3235l9-3-5-11-10 2z"/><path class="m" d="M512 3243l9-3-6-8-9 3z"/><path class="g" d="M314 3012l9-1-5 1-9 3z"/><path class="h" d="M319 3009l9 0-5 2-9 1zm5-3l9 1-5 2-9 0z"/><path class="i" d="M329 3007l9 1-5-1-9-1zm5 6l9 1-5-6-9-1zm5 12l9 0-5-11-9-1z"/><path class="h" d="M344 3038l9 0-5-13-9 0zm5 11l9 1-5-12-9 0zm5 7l9 2-5-8-9-1z"/><path class="g" d="M359 3057l9 3-5-2-9-2zm5-2l9 3-5 2-9-3zm6-1l8 3-5 1-9-3z"/><path class="h" d="M375 3055l9 4-6-2-8-3zm5 3l9 5-5-4-9-4z"/><path class="i" d="M386 3062l8 6-5-5-9-5zm5 3l9 7-6-4-8-6zm5 0l9 9-5-2-9-7z"/><path class="j" d="M402 3064l9 12-6-2-9-9zm6 2l8 14-5-4-9-12z"/><path class="i" d="M413 3073l9 16-6-9-8-14zm6 12l8 17-5-13-9-16z"/><path class="h" d="M424 3102l8 14-5-14-8-17zm5 16l9 10-6-12-8-14z"/><path class="g" d="M435 3133l8 5-5-10-9-10z"/><path class="f" d="M440 3145l9 0-6-7-8-5z"/><path class="a" d="M446 3155l9-4-6-6-9 0z"/><path class="b" d="M451 3165l9-5-5-9-9 4zm6 10l9-4-6-11-9 5z"/><path class="c" d="M462 3184l9-1-5-12-9 4zm6 9l9 0-6-10-9 1zm6 7l9 1-6-8-9 0zm6 7l9-1-6-5-9-1z"/><path class="d" d="M486 3215l9-2-6-7-9 1zm5 11l9-3-5-10-9 2z"/><path class="e" d="M497 3238l9-3-6-12-9 3z"/><path class="m" d="M503 3247l9-4-6-8-9 3z"/><path class="g" d="M305 3014l9-2-5 3-8 4z"/><path class="h" d="M310 3010l9-1-5 3-9 2z"/><path class="i" d="M315 3007l9-1-5 3-9 1zm5 2l9-2-5-1-9 1zm5 6l9-2-5-6-9 2zm5 9l9 1-5-12-9 2zm5 12l9 2-5-13-9-1z"/><path class="h" d="M340 3046l9 3-5-11-9-2zm5 6l9 4-5-7-9-3zm5 2l9 3-5-1-9-4zm5 0l9 1-5 2-9-3zm6-1l9 1-6 1-9-1zm5 1l9 1-5-1-9-1z"/><path class="i" d="M371 3055l9 3-5-3-9-1z"/><path class="j" d="M377 3057l9 5-6-4-9-3zm5 0l9 8-5-3-9-5z"/><path class="k" d="M388 3055l8 10-5 0-9-8zm5-2l9 11-6 1-8-10zm6 1l9 12-6-2-9-11zm5 6l9 13-5-7-9-12z"/><path class="j" d="M410 3072l9 13-6-12-9-13zm5 18l9 12-5-17-9-13z"/><path class="i" d="M420 3110l9 8-5-16-9-12z"/><path class="h" d="M426 3129l9 4-6-15-9-8z"/><path class="g" d="M431 3146l9-1-5-12-9-4z"/><path class="f" d="M436 3160l10-5-6-10-9 1z"/><path class="a" d="M442 3170l9-5-5-10-10 5z"/><path class="b" d="M448 3178l9-3-6-10-9 5zm5 8l9-2-5-9-9 3z"/><path class="c" d="M459 3193l9 0-6-9-9 2zm6 7l9 0-6-7-9 0zm6 7l9 0-6-7-9 0z"/><path class="d" d="M476 3217l10-2-6-8-9 0zm6 12l9-3-5-11-10 2z"/><path class="e" d="M488 3241l9-3-6-12-9 3z"/><path class="m" d="M494 3250l9-3-6-9-9 3z"/><path class="h" d="M297 3016l8-2-4 5-9 2zm4-4l9-2-5 4-8 2z"/><path class="i" d="M306 3011l9-4-5 3-9 2zm5 2l9-4-5-2-9 4zm5 5l9-3-5-6-9 4zm5 7l9-1-5-9-9 3zm5 8l9 3-5-12-9 1zm5 8l9 5-5-10-9-3z"/><path class="h" d="M336 3047l9 5-5-6-9-5zm5 5l9 2-5-2-9-5zm5 3l9-1-5 0-9-2z"/><path class="i" d="M352 3056l9-3-6 1-9 1zm5 0l9-2-5-1-9 3z"/><path class="j" d="M362 3055l9 0-5-1-9 2zm6-2l9 4-6-2-9 0z"/><path class="k" d="M373 3050l9 7-5 0-9-4z"/><path class="l" d="M379 3047l9 8-6 2-9-7zm5-1l9 7-5 2-9-8zm6 2l9 6-6-1-9-7zm5 7l9 5-5-6-9-6z"/><path class="k" d="M401 3066l9 6-6-12-9-5zm5 18l9 6-5-18-9-6z"/><path class="i" d="M411 3104l9 6-5-20-9-6z"/><path class="h" d="M417 3126l9 3-6-19-9-6z"/><path class="g" d="M422 3146l9 0-5-17-9-3z"/><path class="f" d="M427 3163l9-3-5-14-9 0z"/><path class="a" d="M433 3174l9-4-6-10-9 3z"/><path class="b" d="M438 3182l10-4-6-8-9 4zm6 6l9-2-5-8-10 4z"/><path class="c" d="M450 3194l9-1-6-7-9 2zm6 6l9 0-6-7-9 1zm5 9l10-2-6-7-9 0z"/><path class="d" d="M467 3219l9-2-5-10-10 2zm6 13l9-3-6-12-9 2z"/><path class="e" d="M478 3244l10-3-6-12-9 3z"/><path class="m" d="M484 3253l10-3-6-9-10 3z"/><path class="h" d="M288 3017l9-1-5 5-9 0zm5-2l8-3-4 4-9 1z"/><path class="i" d="M297 3016l9-5-5 1-8 3zm5 3l9-6-5-2-9 5zm5 4l9-5-5-5-9 6zm5 4l9-2-5-7-9 5zm5 5l9 1-5-8-9 2zm5 5l9 4-5-8-9-1z"/><path class="h" d="M327 3044l9 3-5-6-9-4zm5 7l9 1-5-5-9-3zm5 7l9-3-5-3-9-1z"/><path class="i" d="M343 3061l9-5-6-1-9 3zm5 0l9-5-5 0-9 5z"/><path class="j" d="M353 3057l9-2-5 1-9 5z"/><path class="k" d="M358 3052l10 1-6 2-9 2z"/><path class="l" d="M364 3047l9 3-5 3-10-1zm5-1l10 1-6 3-9-3zm6 1l9-1-5 1-10-1zm5 4l10-3-6-2-9 1zm6 8l9-4-5-7-10 3zm5 11l10-4-6-11-9 4z"/><path class="k" d="M397 3085l9-1-5-18-10 4z"/><path class="j" d="M402 3104l9 0-5-20-9 1z"/><path class="i" d="M407 3125l10 1-6-22-9 0z"/><path class="h" d="M413 3146l9 0-5-20-10-1z"/><path class="f" d="M418 3164l9-1-5-17-9 0z"/><path class="a" d="M423 3177l10-3-6-11-9 1zm6 9l9-4-5-8-10 3z"/><path class="b" d="M435 3191l9-3-6-6-9 4z"/><path class="c" d="M441 3196l9-2-6-6-9 3zm5 7l10-3-6-6-9 2zm6 9l9-3-5-9-10 3z"/><path class="d" d="M458 3222l9-3-6-10-9 3zm5 13l10-3-6-13-9 3z"/><path class="e" d="M469 3247l9-3-5-12-10 3z"/><path class="m" d="M475 3256l9-3-6-9-9 3z"/><path class="h" d="M279 3018l9-1-5 4-9-1zm5 0l9-3-5 2-9 1z"/><path class="i" d="M289 3021l8-5-4-1-9 3zm4 5l9-7-5-3-8 5zm5 3l9-6-5-4-9 7zm5 2l9-4-5-4-9 6zm5 2l9-1-5-5-9 4zm5 3l9 1-5-5-9 1zm5 7l9 1-5-7-9-1z"/><path class="h" d="M323 3052l9-1-5-7-9-1z"/><path class="i" d="M328 3062l9-4-5-7-9 1zm6 5l9-6-6-3-9 4zm5 0l9-6-5 0-9 6z"/><path class="j" d="M344 3062l9-5-5 4-9 6z"/><path class="k" d="M349 3056l9-4-5 5-9 5z"/><path class="l" d="M355 3051l9-4-6 5-9 4zm5 0l9-5-5 1-9 4zm5 5l10-9-6-1-9 5zm6 8l9-13-5-4-10 9zm5 9l10-14-6-8-9 13zm6 9l9-12-5-11-10 14z"/><path class="k" d="M387 3094l10-9-6-15-9 12z"/><path class="j" d="M393 3109l9-5-5-19-10 9z"/><path class="i" d="M398 3127l9-2-5-21-9 5z"/><path class="g" d="M403 3147l10-1-6-21-9 2z"/><path class="f" d="M409 3165l9-1-5-18-10 1z"/><path class="a" d="M414 3179l9-2-5-13-9 1zm6 10l9-3-6-9-9 2z"/><path class="b" d="M425 3196l10-5-6-5-9 3z"/><path class="c" d="M431 3201l10-5-6-5-10 5zm6 7l9-5-5-7-10 5zm6 9l9-5-6-9-9 5z"/><path class="d" d="M448 3227l10-5-6-10-9 5zm6 12l9-4-5-13-10 5z"/><path class="e" d="M460 3251l9-4-6-12-9 4z"/><path class="m" d="M466 3260l9-4-6-9-9 4z"/><path class="h" d="M270 3018l9 0-5 2-8 0zm5 3l9-3-5 0-9 0z"/><path class="i" d="M280 3026l9-5-5-3-9 3zm5 6l8-6-4-5-9 5zm4 3l9-6-5-3-8 6zm5 1l9-5-5-2-9 6zm5 0l9-3-5-2-9 5zm5 2l9-2-5-3-9 3zm5 7l9-2-5-7-9 2z"/><path class="h" d="M314 3055l9-3-5-9-9 2zm5 11l9-4-5-10-9 3z"/><path class="i" d="M324 3073l10-6-6-5-9 4zm6 1l9-7-5 0-10 6z"/><path class="j" d="M335 3069l9-7-5 5-9 7zm5-6l9-7-5 6-9 7z"/><path class="k" d="M345 3061l10-10-6 5-9 7zm6 3l9-13-5 0-10 10z"/><path class="l" d="M356 3072l9-16-5-5-9 13zm5 10l10-18-6-8-9 16z"/><path class="k" d="M367 3091l9-18-5-9-10 18zm5 9l10-18-6-9-9 18z"/><path class="j" d="M378 3108l9-14-5-12-10 18z"/><path class="i" d="M383 3118l10-9-6-15-9 14z"/><path class="h" d="M389 3132l9-5-5-18-10 9z"/><path class="g" d="M394 3149l9-2-5-20-9 5z"/><path class="f" d="M399 3166l10-1-6-18-9 2z"/><path class="a" d="M405 3181l9-2-5-14-10 1z"/><path class="b" d="M410 3192l10-3-6-10-9 2zm6 9l9-5-5-7-10 3z"/><path class="c" d="M422 3208l9-7-6-5-9 5zm5 7l10-7-6-7-9 7zm6 9l10-7-6-9-10 7z"/><path class="d" d="M439 3233l9-6-5-10-10 7zm6 10l9-4-6-12-9 6z"/><path class="e" d="M450 3254l10-3-6-12-9 4z"/><path class="m" d="M456 3263l10-3-6-9-10 3z"/><path class="h" d="M261 3020l9-2-4 2-9 1zm5 4l9-3-5-3-9 2z"/><path class="i" d="M271 3030l9-4-5-5-9 3zm5 6l9-4-5-6-9 4zm4 4l9-5-4-3-9 4zm5 1l9-5-5-1-9 5zm5 1l9-6-5 0-9 5zm5 2l9-6-5-2-9 6z"/><path class="h" d="M300 3050l9-5-5-7-9 6zm5 10l9-5-5-10-9 5zm5 11l9-5-5-11-9 5zm5 7l9-5-5-7-9 5z"/><path class="i" d="M320 3080l10-6-6-1-9 5zm6-2l9-9-5 5-10 6zm5-3l9-12-5 6-9 9z"/><path class="j" d="M336 3075l9-14-5 2-9 12zm5 5l10-16-6-3-9 14zm6 10l9-18-5-8-10 16zm5 12l9-20-5-10-9 18zm5 9l10-20-6-9-9 20zm6 7l9-18-5-9-10 20z"/><path class="i" d="M368 3123l10-15-6-8-9 18z"/><path class="h" d="M374 3130l9-12-5-10-10 15z"/><path class="g" d="M379 3140l10-8-6-14-9 12z"/><path class="f" d="M385 3154l9-5-5-17-10 8zm5 15l9-3-5-17-9 5z"/><path class="a" d="M396 3183l9-2-6-15-9 3z"/><path class="b" d="M401 3195l9-3-5-11-9 2zm6 10l9-4-6-9-9 3z"/><path class="c" d="M412 3214l10-6-6-7-9 4zm6 9l9-8-5-7-10 6zm6 8l9-7-6-9-9 8z"/><path class="d" d="M429 3238l10-5-6-9-9 7zm6 9l10-4-6-10-10 5z"/><path class="e" d="M441 3257l9-3-5-11-10 4z"/><path class="m" d="M447 3266l9-3-6-9-9 3z"/><path class="h" d="M252 3024l9-4-4 1-9 3zm5 2l9-2-5-4-9 4z"/><path class="i" d="M262 3031l9-1-5-6-9 2zm5 6l9-1-5-6-9 1zm4 5l9-2-4-4-9 1zm5 3l9-4-5-1-9 2zm5 3l9-6-5-1-9 4zm5 4l9-8-5-2-9 6z"/><path class="h" d="M291 3058l9-8-5-6-9 8zm5 9l9-7-5-10-9 8zm5 8l9-4-5-11-9 7zm5 7l9-4-5-7-9 4zm5 3l9-5-5-2-9 4zm5 1l10-8-6 2-9 5zm6 1l9-12-5 3-10 8z"/><path class="i" d="M327 3091l9-16-5 0-9 12zm5 7l9-18-5-5-9 16zm5 10l10-18-6-10-9 18zm6 11l9-17-5-12-10 18zm5 8l9-16-5-9-9 17z"/><path class="h" d="M353 3133l10-15-6-7-9 16zm6 5l9-15-5-5-10 15z"/><path class="g" d="M364 3143l10-13-6-7-9 15z"/><path class="f" d="M370 3151l9-11-5-10-10 13zm5 10l10-7-6-14-9 11z"/><path class="a" d="M381 3173l9-4-5-15-10 7z"/><path class="b" d="M386 3186l10-3-6-14-9 4zm6 12l9-3-5-12-10 3z"/><path class="c" d="M397 3209l10-4-6-10-9 3zm6 10l9-5-5-9-10 4zm5 10l10-6-6-9-9 5zm6 8l10-6-6-8-10 6z"/><path class="d" d="M420 3244l9-6-5-7-10 6zm6 7l9-4-6-9-9 6z"/><path class="e" d="M431 3261l10-4-6-10-9 4z"/><path class="m" d="M437 3270l10-4-6-9-10 4z"/><path class="h" d="M243 3029l9-5-4 0-9 7zm5 1l9-4-5-2-9 5z"/><path class="i" d="M253 3032l9-1-5-5-9 4zm4 4l10 1-5-6-9 1zm5 5l9 1-4-5-10-1zm5 7l9-3-5-3-9-1zm5 6l9-6-5-3-9 3z"/><path class="h" d="M277 3061l9-9-5-4-9 6zm5 7l9-10-5-6-9 9zm5 6l9-7-5-9-9 10z"/><path class="g" d="M292 3080l9-5-5-8-9 7zm5 6l9-4-5-7-9 5zm5 4l9-5-5-3-9 4zm5 5l9-9-5-1-9 5z"/><path class="h" d="M312 3100l10-13-6-1-9 9zm6 7l9-16-5-4-10 13zm5 7l9-16-5-7-9 16zm5 8l9-14-5-10-9 16zm5 8l10-11-6-11-9 14z"/><path class="g" d="M339 3138l9-11-5-8-10 11zm5 7l9-12-5-6-9 11zm5 6l10-13-6-5-9 12z"/><path class="f" d="M355 3157l9-14-5-5-10 13zm5 6l10-12-6-8-9 14z"/><path class="a" d="M366 3171l9-10-5-10-10 12zm5 9l10-7-6-12-9 10z"/><path class="b" d="M377 3190l9-4-5-13-10 7zm5 11l10-3-6-12-9 4z"/><path class="c" d="M388 3212l9-3-5-11-10 3zm5 11l10-4-6-10-9 3zm6 9l9-3-5-10-10 4zm6 9l9-4-6-8-9 3z"/><path class="d" d="M410 3248l10-4-6-7-9 4zm6 7l10-4-6-7-10 4z"/><path class="e" d="M422 3265l9-4-5-10-10 4z"/><path class="m" d="M428 3273l9-3-6-9-9 4z"/><path class="g" d="M235 3036l8-7-4 2-9 8z"/><path class="h" d="M239 3034l9-4-5-1-8 7z"/><path class="i" d="M244 3033l9-1-5-2-9 4zm4 1l9 2-4-4-9 1zm5 6l9 1-5-5-9-2zm5 9l9-1-5-7-9-1zm5 10l9-5-5-6-9 1z"/><path class="h" d="M268 3070l9-9-5-7-9 5zm5 7l9-9-5-7-9 9z"/><path class="g" d="M278 3083l9-9-5-6-9 9zm5 3l9-6-5-6-9 9zm5 4l9-4-5-6-9 6zm5 6l9-6-5-4-9 4zm5 8l9-9-5-5-9 6zm5 8l9-12-5-5-9 9zm5 8l10-13-6-7-9 12zm6 6l9-12-5-7-10 13zm5 5l9-9-5-8-9 12zm5 6l9-7-5-8-9 9z"/><path class="f" d="M329 3143l10-5-6-8-9 7zm6 9l9-7-5-7-10 5zm5 8l9-9-5-6-9 7z"/><path class="a" d="M345 3169l10-12-6-6-9 9zm6 7l9-13-5-6-10 12z"/><path class="b" d="M356 3183l10-12-6-8-9 13zm6 6l9-9-5-9-10 12zm5 7l10-6-6-10-9 9z"/><path class="c" d="M373 3204l9-3-5-11-10 6zm5 10l10-2-6-11-9 3zm6 10l9-1-5-11-10 2zm5 9l10-1-6-9-9 1zm6 9l10-1-6-9-10 1z"/><path class="d" d="M401 3250l9-2-5-7-10 1zm6 9l9-4-6-7-9 2z"/><path class="e" d="M412 3269l10-4-6-10-9 4z"/><path class="m" d="M418 3277l10-4-6-8-10 4z"/><path class="g" d="M226 3043l9-7-5 3-9 7z"/><path class="h" d="M230 3038l9-4-4 2-9 7zm5-4l9-1-5 1-9 4z"/><path class="i" d="M239 3034l9 0-4-1-9 1zm5 5l9 1-5-6-9 0zm5 11l9-1-5-9-9-1z"/><path class="h" d="M254 3064l9-5-5-10-9 1zm5 13l9-7-5-11-9 5zm5 9l9-9-5-7-9 7z"/><path class="g" d="M269 3090l9-7-5-6-9 9zm5 3l9-7-5-3-9 7zm5 3l9-6-5-4-9 7z"/><path class="f" d="M284 3102l9-6-5-6-9 6zm5 10l9-8-5-8-9 6zm5 9l9-9-5-8-9 8zm5 8l9-9-5-8-9 9zm5 5l10-8-6-6-9 9zm5 2l10-5-5-5-10 8zm6 4l9-3-5-6-10 5zm5 6l9-3-5-6-9 3z"/><path class="a" d="M325 3156l10-4-6-9-9 3zm6 12l9-8-5-8-10 4zm5 12l9-11-5-9-9 8z"/><path class="b" d="M341 3188l10-12-6-7-9 11zm6 6l9-11-5-7-10 12zm5 4l10-9-6-6-9 11z"/><path class="c" d="M358 3202l9-6-5-7-10 9zm5 6l10-4-6-8-9 6zm6 8l9-2-5-10-10 4zm5 9l10-1-6-10-9 2zm6 8l9 0-5-9-10 1z"/><path class="d" d="M386 3242l9 0-6-9-9 0zm5 9l10-1-6-8-9 0zm6 11l10-3-6-9-10 1z"/><path class="e" d="M403 3273l9-4-5-10-10 3z"/><path class="m" d="M408 3280l10-3-6-8-9 4z"/><path class="g" d="M217 3049l9-6-5 3-8 5z"/><path class="h" d="M221 3043l9-5-4 5-9 6zm4-5l10-4-5 4-9 5zm5-2l9-2-4 0-10 4zm5 5l9-2-5-5-9 2zm5 11l9-2-5-11-9 2zm5 15l9-3-5-14-9 2zm5 15l9-5-5-13-9 3z"/><path class="g" d="M255 3092l9-6-5-9-9 5zm5 5l9-7-5-4-9 6zm5 2l9-6-5-3-9 7z"/><path class="f" d="M270 3103l9-7-5-3-9 6zm5 6l9-7-5-6-9 7zm5 10l9-7-5-10-9 7zm5 10l9-8-5-9-9 7zm5 6l9-6-5-8-9 8zm5 4l9-5-5-5-9 6z"/><path class="a" d="M300 3139l9-3-5-2-9 5zm5 3l10-2-6-4-9 3zm6 6l9-2-5-6-10 2zm5 12l9-4-5-10-9 2zm5 14l10-6-6-12-9 4z"/><path class="b" d="M327 3188l9-8-5-12-10 6zm5 9l9-9-5-8-9 8zm5 6l10-9-6-6-9 9zm6 3l9-8-5-4-10 9z"/><path class="c" d="M348 3209l10-7-6-4-9 8zm6 5l9-6-5-6-10 7zm5 6l10-4-6-8-9 6zm6 7l9-2-5-9-10 4zm5 7l10-1-6-8-9 2z"/><path class="d" d="M376 3241l10 1-6-9-10 1zm6 10l9 0-5-9-10-1zm5 13l10-2-6-11-9 0z"/><path class="e" d="M393 3276l10-3-6-11-10 2z"/><path class="m" d="M399 3284l9-4-5-7-10 3z"/><path class="g" d="M208 3052l9-3-4 2-9 3zm4-3l9-6-4 6-9 3z"/><path class="h" d="M216 3045l9-7-4 5-9 6zm5-2l9-7-5 2-9 7zm5 4l9-6-5-5-9 7zm5 10l9-5-5-11-9 6zm5 14l9-4-5-15-9 5zm5 14l9-3-5-15-9 4z"/><path class="g" d="M246 3095l9-3-5-10-9 3zm5 6l9-4-5-5-9 3z"/><path class="f" d="M255 3105l10-6-5-2-9 4zm5 4l10-6-5-4-10 6zm5 7l10-7-5-6-10 6zm5 9l10-6-5-10-10 7zm6 8l9-4-5-10-10 6z"/><path class="a" d="M281 3139l9-4-5-6-9 4zm5 3l9-3-5-4-9 4zm5 1l9-4-5 0-9 3zm5 2l9-3-5-3-9 4zm5 8l10-5-6-6-9 3zm5 12l10-5-5-12-10 5z"/><path class="b" d="M312 3179l9-5-5-14-10 5zm5 14l10-5-6-14-9 5zm5 9l10-5-5-9-10 5zm6 6l9-5-5-6-10 5z"/><path class="c" d="M333 3211l10-5-6-3-9 5zm6 4l9-6-5-3-10 5zm5 5l10-6-6-5-9 6zm6 6l9-6-5-6-10 6zm5 5l10-4-6-7-9 6z"/><path class="d" d="M361 3237l9-3-5-7-10 4zm5 5l10-1-6-7-9 3zm6 10l10-1-6-10-10 1zm6 14l9-2-5-13-10 1z"/><path class="e" d="M383 3280l10-4-6-12-9 2z"/><path class="m" d="M389 3289l10-5-6-8-10 4z"/><path class="g" d="M199 3054l9-2-4 2-10 0zm4 0l9-5-4 3-9 2z"/><path class="h" d="M208 3053l8-8-4 4-9 5zm4 0l9-10-5 2-8 8zm5 4l9-10-5-4-9 10zm4 8l10-8-5-10-9 10zm5 11l10-5-5-14-10 8z"/><path class="g" d="M232 3087l9-2-5-14-10 5zm4 10l10-2-5-10-9 2zm5 7l10-3-5-6-10 2z"/><path class="f" d="M246 3110l9-5-4-4-10 3zm5 5l9-6-5-4-9 5zm5 7l9-6-5-7-9 6zm5 8l9-5-5-9-9 6z"/><path class="a" d="M266 3137l10-4-6-8-9 5zm5 5l10-3-5-6-10 4zm5 3l10-3-5-3-10 3zm5 2l10-4-5-1-10 3zm5 5l10-7-5-2-10 4zm6 8l9-7-5-8-10 7z"/><path class="b" d="M297 3171l9-6-5-12-9 7zm5 12l10-4-6-14-9 6zm6 11l9-1-5-14-10 4zm5 8l9 0-5-9-9 1zm5 6l10 0-6-6-9 0z"/><path class="c" d="M324 3214l9-3-5-3-10 0zm5 5l10-4-6-4-9 3zm6 7l9-6-5-5-10 4zm5 7l10-7-6-6-9 6z"/><path class="d" d="M346 3238l9-7-5-5-10 7zm5 4l10-5-6-6-9 7zm6 4l9-4-5-5-10 5zm5 9l10-3-6-10-9 4z"/><path class="e" d="M368 3269l10-3-6-14-10 3zm6 15l9-4-5-14-10 3z"/><path class="m" d="M379 3293l10-4-6-9-9 4z"/><path class="f" d="M190 3056l9-2-5 0-9 0z"/><path class="g" d="M194 3059l9-5-4 0-9 2zm5 3l9-9-5 1-9 5zm4 4l9-13-4 0-9 9z"/><path class="h" d="M208 3069l9-12-5-4-9 13z"/><path class="g" d="M213 3074l8-9-4-8-9 12zm4 7l9-5-5-11-8 9zm5 8l10-2-6-11-9 5zm5 8l9 0-4-10-10 2z"/><path class="f" d="M232 3105l9-1-5-7-9 0zm5 8l9-3-5-6-9 1zm5 7l9-5-5-5-9 3zm5 7l9-5-5-7-9 5z"/><path class="a" d="M252 3133l9-3-5-8-9 5zm5 6l9-2-5-7-9 3zm5 5l9-2-5-5-9 2zm5 4l9-3-5-3-9 2zm5 6l9-7-5-2-9 3zm5 7l9-9-5-5-9 7z"/><path class="b" d="M282 3168l10-8-6-8-9 9zm5 9l10-6-5-11-10 8zm6 7l9-1-5-12-10 6zm5 7l10 3-6-11-9 1zm5 7l10 4-5-8-10-3zm6 6l9 4-5-6-10-4z"/><path class="c" d="M314 3212l10 2-6-6-9-4zm5 10l10-3-5-5-10-2zm6 9l10-5-6-7-10 3zm5 9l10-7-5-7-10 5z"/><path class="d" d="M336 3246l10-8-6-5-10 7zm5 4l10-8-5-4-10 8zm6 3l10-7-6-4-10 8zm6 7l9-5-5-9-10 7z"/><path class="e" d="M358 3274l10-5-6-14-9 5z"/><path class="m" d="M364 3289l10-5-6-15-10 5z"/><path class="n" d="M370 3298l9-5-5-9-10 5z"/><path class="f" d="M181 3059l9-3-5-2-9 1z"/><path class="g" d="M185 3065l9-6-4-3-9 3zm5 6l9-9-5-3-9 6zm4 6l9-11-4-4-9 9zm5 4l9-12-5-3-9 11zm5 3l9-10-5-5-9 12zm4 3l9-6-4-7-9 10zm5 4l9-2-5-8-9 6z"/><path class="f" d="M218 3098l9-1-5-8-9 2zm5 9l9-2-5-8-9 1zm5 9l9-3-5-8-9 2zm5 9l9-5-5-7-9 3z"/><path class="a" d="M238 3131l9-4-5-7-9 5zm4 6l10-4-5-6-9 4zm5 4l10-2-5-6-10 4zm5 5l10-2-5-5-10 2zm5 7l10-5-5-4-10 2zm6 8l9-7-5-6-10 5zm5 8l9-8-5-7-9 7z"/><path class="b" d="M273 3176l9-8-5-7-9 8zm5 3l9-2-5-9-9 8zm5 2l10 3-6-7-9 2z"/><path class="a" d="M288 3182l10 9-5-7-10-3z"/><path class="b" d="M293 3186l10 12-5-7-10-9zm6 8l10 10-6-6-10-12zm5 13l10 5-5-8-10-10z"/><path class="c" d="M310 3221l9 1-5-10-10-5zm5 13l10-3-6-9-9-1zm6 12l9-6-5-9-10 3z"/><path class="d" d="M326 3254l10-8-6-6-9 6zm6 5l9-9-5-4-10 8zm5 4l10-10-6-3-9 9z"/><path class="e" d="M343 3270l10-10-6-7-10 10zm5 11l10-7-5-14-10 10z"/><path class="m" d="M354 3295l10-6-6-15-10 7z"/><path class="n" d="M360 3304l10-6-6-9-10 6z"/><path class="f" d="M171 3063l10-4-5-4-9 5zm5 7l9-5-4-6-10 4z"/><path class="g" d="M181 3078l9-7-5-6-9 5zm5 8l8-9-4-6-9 7zm4 5l9-10-5-4-8 9zm5 1l9-8-5-3-9 10zm4 1l9-6-4-3-9 8z"/><path class="f" d="M204 3095l9-4-5-4-9 6zm4 5l10-2-5-7-9 4zm5 9l10-2-5-9-10 2zm5 10l10-3-5-9-10 2z"/><path class="a" d="M223 3129l10-4-5-9-10 3zm5 6l10-4-5-6-10 4zm5 5l9-3-4-6-10 4zm5 4l9-3-5-4-9 3zm5 6l9-4-5-5-9 3zm5 9l9-6-5-7-9 4zm5 9l10-7-6-8-9 6zm5 8l10-7-5-8-10 7zm5 3l10-3-5-7-10 7zm5-2l10 2-5-3-10 3zm5-6l10 10-5-2-10-2z"/><path class="f" d="M278 3166l10 16-5-1-10-10zm5 2l10 18-5-4-10-16zm6 11l10 15-6-8-10-18z"/><path class="a" d="M294 3196l10 11-5-13-10-15z"/><path class="b" d="M300 3215l10 6-6-14-10-11z"/><path class="c" d="M305 3233l10 1-5-13-10-6zm6 15l10-2-6-12-10-1z"/><path class="d" d="M316 3260l10-6-5-8-10 2zm6 8l10-9-6-5-10 6z"/><path class="e" d="M327 3275l10-12-5-4-10 9zm6 7l10-12-6-7-10 12z"/><path class="m" d="M339 3292l9-11-5-11-10 12z"/><path class="n" d="M344 3303l10-8-6-14-9 11zm6 8l10-7-6-9-10 8z"/><path class="a" d="M163 3071l8-8-4-3-9 9z"/><path class="f" d="M167 3076l9-6-5-7-8 8zm5 7l9-5-5-8-9 6zm4 8l10-5-5-8-9 5zm5 5l9-5-4-5-10 5zm4 2l10-6-5-1-9 5zm5 0l9-5-4-1-10 6zm4 1l10-4-5-2-9 5zm5 5l9-4-4-5-10 4zm5 9l9-4-5-9-9 4z"/><path class="a" d="M209 3123l9-4-5-10-9 4zm5 10l9-4-5-10-9 4zm5 6l9-4-5-6-9 4zm5 5l9-4-5-5-9 4zm4 4l10-4-5-4-9 4zm5 7l10-5-5-6-10 4zm6 9l9-5-5-9-10 5z"/><path class="b" d="M244 3174l9-6-5-9-9 5z"/><path class="a" d="M249 3180l9-4-5-8-9 6zm5-1l9 0-5-3-9 4z"/><path class="f" d="M258 3171l10 6-5 2-9 0zm5-13l10 13-5 6-10-6z"/><path class="g" d="M268 3149l10 17-5 5-10-13z"/><path class="h" d="M273 3150l10 18-5-2-10-17zm6 12l10 17-6-11-10-18z"/><path class="g" d="M284 3184l10 12-5-17-10-17z"/><path class="f" d="M290 3209l10 6-6-19-10-12z"/><path class="b" d="M296 3231l9 2-5-18-10-6z"/><path class="c" d="M301 3249l10-1-6-15-9-2z"/><path class="d" d="M307 3264l9-4-5-12-10 1z"/><path class="e" d="M312 3277l10-9-6-8-9 4zm6 11l9-13-5-7-10 9z"/><path class="n" d="M323 3298l10-16-6-7-9 13zm6 7l10-13-6-10-10 16zm5 8l10-10-5-11-10 13zm6 7l10-9-6-8-10 10z"/><path class="a" d="M154 3080l9-9-5-2-8 11z"/><path class="f" d="M158 3082l9-6-4-5-9 9zm4 5l10-4-5-7-9 6zm5 6l9-2-4-8-10 4zm5 5l9-2-5-5-9 2zm4 4l9-4-4-2-9 2zm5 1l9-5-5 0-9 4zm4 2l9-6-4-1-9 5zm5 5l9-6-5-5-9 6z"/><path class="a" d="M195 3119l9-6-5-9-9 6zm5 10l9-6-5-10-9 6zm5 9l9-5-5-10-9 6zm4 6l10-5-5-6-9 5zm5 5l10-5-5-5-10 5zm5 4l9-5-4-4-10 5z"/><path class="b" d="M224 3160l9-5-5-7-9 5zm5 9l10-5-6-9-9 5zm5 9l10-4-5-10-10 5z"/><path class="a" d="M239 3182l10-2-5-6-10 4zm5-4l10 1-5 1-10 2z"/><path class="f" d="M248 3167l10 4-4 8-10-1z"/><path class="g" d="M253 3153l10 5-5 13-10-4z"/><path class="i" d="M258 3142l10 7-5 9-10-5zm5 2l10 6-5-1-10-7zm5 14l11 4-6-12-10-6z"/><path class="h" d="M274 3182l10 2-5-22-11-4z"/><path class="g" d="M280 3208l10 1-6-25-10-2z"/><path class="a" d="M286 3231l10 0-6-22-10-1z"/><path class="c" d="M291 3250l10-1-5-18-10 0z"/><path class="d" d="M297 3268l10-4-6-15-10 1z"/><path class="m" d="M302 3285l10-8-5-13-10 4z"/><path class="n" d="M308 3302l10-14-6-11-10 8zm6 13l9-17-5-10-10 14z"/><path class="o" d="M319 3322l10-17-6-7-9 17zm6 5l9-14-5-8-10 17zm5 4l10-11-6-7-9 14z"/><path class="a" d="M145 3089l9-9-4 0-9 11zm4-1l9-6-4-2-9 9z"/><path class="f" d="M153 3090l9-3-4-5-9 6zm5 4l9-1-5-6-9 3zm4 5l10-1-5-5-9 1zm5 5l9-2-4-4-10 1zm4 4l10-5-5-1-9 2zm5 4l9-7-4-2-10 5z"/><path class="a" d="M181 3118l9-8-5-5-9 7zm4 8l10-7-5-9-9 8zm5 9l10-6-5-10-10 7zm5 8l10-5-5-9-10 6zm5 6l9-5-4-6-10 5zm5 5l9-5-5-5-9 5z"/><path class="b" d="M210 3160l9-7-5-4-9 5zm5 6l9-6-5-7-9 7zm5 8l9-5-5-9-9 6zm5 7l9-3-5-9-9 5z"/><path class="a" d="M229 3183l10-1-5-4-9 3zm5-3l10-2-5 4-10 1z"/><path class="f" d="M239 3171l9-4-4 11-10 2z"/><path class="g" d="M243 3161l10-8-5 14-9 4z"/><path class="i" d="M248 3155l10-13-5 11-10 8zm5 4l10-15-5-2-10 13zm6 15l9-16-5-14-10 15z"/><path class="h" d="M265 3195l9-13-6-24-9 16z"/><path class="g" d="M270 3217l10-9-6-26-9 13z"/><path class="a" d="M276 3237l10-6-6-23-10 9z"/><path class="c" d="M282 3255l9-5-5-19-10 6z"/><path class="e" d="M287 3274l10-6-6-18-9 5z"/><path class="n" d="M293 3295l9-10-5-17-10 6zm5 21l10-14-6-17-9 10z"/><path class="o" d="M304 3333l10-18-6-13-10 14zm5 8l10-19-5-7-10 18z"/><path class="p" d="M315 3343l10-16-6-5-10 19zm5 1l10-13-5-4-10 16z"/><path class="a" d="M136 3096l9-7-4 2-9 8zm4-2l9-6-4 1-9 7zm4-1l9-3-4-2-9 6zm4 2l10-1-5-4-9 3zm5 5l9-1-4-5-10 1zm4 6l10-2-5-5-9 1zm5 7l9-5-4-4-10 2zm5 6l9-7-5-4-9 5zm4 7l10-8-5-6-9 7zm5 8l9-8-4-8-10 8zm5 7l9-6-5-9-9 8zm5 7l9-5-5-8-9 6z"/><path class="b" d="M191 3154l9-5-5-6-9 5zm4 6l10-6-5-5-9 5zm5 6l10-6-5-6-10 6zm5 6l10-6-5-6-10 6zm5 6l10-4-5-8-10 6zm5 5l10-2-5-7-10 4zm5 2l9-2-4-2-10 2z"/><path class="a" d="M224 3185l10-5-5 3-9 2zm5-3l10-11-5 9-10 5z"/><path class="f" d="M234 3180l9-19-4 10-10 11z"/><path class="g" d="M239 3181l9-26-5 6-9 19z"/><path class="h" d="M244 3188l9-29-5-4-9 26zm6 13l9-27-6-15-9 29z"/><path class="g" d="M255 3217l10-22-6-21-9 27z"/><path class="a" d="M261 3233l9-16-5-22-10 22z"/><path class="b" d="M266 3248l10-11-6-20-9 16z"/><path class="d" d="M272 3264l10-9-6-18-10 11z"/><path class="m" d="M277 3282l10-8-5-19-10 9z"/><path class="n" d="M283 3306l10-11-6-21-10 8z"/><path class="o" d="M289 3332l9-16-5-21-10 11z"/><path class="t" d="M294 3355l10-22-6-17-9 16z"/><path class="q" d="M300 3365l9-24-5-8-10 22zm5-1l10-21-6-2-9 24zm6-6l9-14-5-1-10 21z"/><path class="b" d="M127 3102l9-6-4 3-9 4z"/><path class="a" d="M131 3100l9-6-4 2-9 6zm4-2l9-5-4 1-9 6zm4 2l9-5-4-2-9 5zm4 4l10-4-5-5-9 5zm5 7l9-5-4-6-10 4zm5 9l9-7-5-7-9 5zm4 8l10-9-5-6-9 7zm5 7l9-9-4-7-10 9zm5 7l9-8-5-8-9 9z"/><path class="b" d="M172 3147l9-6-5-7-9 8zm4 6l10-5-5-7-9 6zm5 6l10-5-5-6-10 5zm5 7l9-6-4-6-10 5zm5 6l9-6-5-6-9 6zm5 6l9-6-5-6-9 6zm4 5l10-5-5-6-9 6zm5 3l10-3-5-5-10 5zm5 3l10-4-5-2-10 3zm5 3l9-7-4 0-10 4zm5 3l9-13-5 3-9 7z"/><path class="a" d="M225 3200l9-20-5 2-9 13z"/><path class="f" d="M230 3207l9-26-5-1-9 20zm5 9l9-28-5-7-9 26zm5 11l10-26-6-13-9 28z"/><path class="a" d="M246 3238l9-21-5-16-10 26z"/><path class="b" d="M251 3249l10-16-6-16-9 21z"/><path class="d" d="M257 3261l9-13-5-15-10 16z"/><path class="e" d="M262 3275l10-11-6-16-9 13z"/><path class="n" d="M268 3293l9-11-5-18-10 11z"/><path class="o" d="M273 3318l10-12-6-24-9 11z"/><path class="t" d="M279 3349l10-17-6-26-10 12z"/><path class="r" d="M285 3382l9-27-5-23-10 17zm6 14l9-31-6-10-9 27zm5-10l9-22-5 1-9 31zm5-13l10-15-6 6-9 22z"/><path class="b" d="M118 3106l9-4-4 1-9 1zm4 1l9-7-4 2-9 4zm4 1l9-10-4 2-9 7zm4 3l9-11-4-2-9 10zm4 4l9-11-4-4-9 11zm5 7l9-11-5-7-9 11zm5 8l9-10-5-9-9 11zm4 8l9-10-4-8-9 10zm5 7l9-10-5-7-9 10zm5 6l9-9-5-7-9 10zm4 4l10-8-5-5-9 9zm5 5l9-7-4-6-10 8zm5 6l9-7-5-6-9 7zm4 7l10-7-5-7-9 7zm5 6l10-7-5-6-10 7zm5 6l10-7-5-6-10 7z"/><path class="c" d="M191 3189l9-6-4-5-10 7zm5 3l9-6-5-3-9 6zm4 4l10-7-5-3-9 6zm5 5l10-9-5-3-10 7zm5 8l10-14-5-3-10 9z"/><path class="b" d="M215 3217l10-17-5-5-10 14zm6 9l9-19-5-7-10 17zm5 9l9-19-5-9-9 19zm5 8l9-16-5-11-9 19z"/><path class="c" d="M236 3252l10-14-6-11-9 16z"/><path class="d" d="M242 3261l9-12-5-11-10 14z"/><path class="e" d="M247 3273l10-12-6-12-9 12z"/><path class="n" d="M252 3287l10-12-5-14-10 12zm6 18l10-12-6-18-10 12z"/><path class="p" d="M264 3329l9-11-5-25-10 12z"/><path class="q" d="M270 3361l9-12-6-31-9 11z"/><path class="s" d="M276 3404l9-22-6-33-9 12z"/><path class="u" d="M282 3427l9-31-6-14-9 22zm4-25l10-16-5 10-9 31z"/><path class="r" d="M291 3382l10-9-5 13-10 16z"/><path class="c" d="M109 3115l9-9-4-2-9 6zm4 5l9-13-4-1-9 9zm4 3l9-15-4-1-9 13zm5 4l8-16-4-3-9 15zm4 5l8-17-4-4-8 16zm5 6l8-16-5-7-8 17zm4 7l9-15-5-8-8 16zm5 7l8-14-4-8-9 15zm4 6l9-13-5-7-8 14zm5 4l9-11-5-6-9 13zm4 4l9-11-4-4-9 11zm5 5l9-11-5-5-9 11zm4 5l10-10-5-6-9 11zm5 7l9-10-4-7-10 10zm5 6l9-10-5-6-9 10zm5 6l9-10-5-6-9 10zm4 4l10-10-5-4-9 10zm5 4l10-11-5-3-10 10zm5 5l9-12-4-4-10 11zm5 7l9-14-5-5-9 12z"/><path class="d" d="M201 3223l9-14-5-8-9 14zm5 9l9-15-5-8-9 14zm5 8l10-14-6-9-9 15zm5 7l10-12-5-9-10 14zm5 6l10-10-5-8-10 12zm6 8l9-9-5-9-10 10z"/><path class="e" d="M232 3271l10-10-6-9-9 9z"/><path class="m" d="M237 3283l10-10-5-12-10 10z"/><path class="n" d="M243 3298l9-11-5-14-10 10z"/><path class="o" d="M248 3315l10-10-6-18-9 11z"/><path class="p" d="M254 3335l10-6-6-24-10 10z"/><path class="q" d="M260 3362l10-1-6-32-10 6z"/><path class="s" d="M266 3393l10 11-6-43-10 1z"/><path class="v" d="M271 3409l11 18-6-23-10-11z"/><path class="u" d="M276 3397l10 5-4 25-11-18z"/><path class="s" d="M281 3382l10 0-5 20-10-5z"/><path class="d" d="M100 3128l9-13-4-5-9 13zm5 6l8-14-4-5-9 13zm4 5l8-16-4-3-8 14zm4 5l9-17-5-4-8 16zm5 5l8-17-4-5-9 17zm4 5l9-16-5-6-8 17zm4 5l9-14-4-7-9 16zm5 6l9-13-5-7-9 14zm4 5l9-12-4-6-9 13zm5 5l9-13-5-4-9 12zm4 5l9-14-4-4-9 13zm5 4l9-13-5-5-9 14zm5 6l8-14-4-5-9 13zm4 5l9-12-5-7-8 14zm5 6l9-12-5-6-9 12zm5 6l9-12-5-6-9 12zm4 5l9-13-4-4-9 12zm5 5l9-14-5-4-9 13z"/><path class="e" d="M182 3223l9-15-5-5-9 14zm5 6l9-14-5-7-9 15zm5 7l9-13-5-8-9 14zm5 7l9-11-5-9-9 13zm5 6l9-9-5-8-9 11zm5 7l9-9-5-7-9 9zm5 6l9-9-5-6-9 9z"/><path class="m" d="M217 3270l10-9-6-8-9 9zm5 10l10-9-5-10-10 9z"/><path class="n" d="M227 3291l10-8-5-12-10 9zm6 13l10-6-6-15-10 8z"/><path class="o" d="M238 3320l10-5-5-17-10 6z"/><path class="t" d="M244 3337l10-2-6-20-10 5z"/><path class="q" d="M250 3357l10 5-6-27-10 2z"/><path class="r" d="M255 3375l11 18-6-31-10-5z"/><path class="s" d="M261 3385l10 24-5-16-11-18zm5-2l10 14-5 12-10-24z"/><path class="r" d="M271 3375l10 7-5 15-10-14z"/><path class="e" d="M92 3137l8-9-4-5-9 9zm4 5l9-8-5-6-8 9zm4 5l9-8-4-5-9 8zm4 5l9-8-4-5-9 8zm5 5l9-8-5-5-9 8zm4 5l9-8-4-5-9 8zm4 5l9-8-4-5-9 8zm5 5l9-7-5-6-9 8zm4 5l9-7-4-5-9 7zm5 5l9-7-5-5-9 7zm4 5l9-7-4-5-9 7zm5 6l9-9-5-4-9 7zm4 5l10-8-5-6-9 9zm5 5l9-8-4-5-10 8zm4 6l10-8-5-6-9 8zm5 5l10-7-5-6-10 8zm5 6l9-8-4-5-10 7zm5 5l9-8-5-5-9 8zm4 6l10-8-5-6-9 8zm5 6l10-8-5-6-10 8z"/><path class="m" d="M182 3243l10-7-5-7-10 8zm5 6l10-6-5-7-10 7zm5 6l10-6-5-6-10 6zm5 7l10-6-5-7-10 6zm5 7l10-7-5-6-10 6z"/><path class="n" d="M207 3277l10-7-5-8-10 7zm5 8l10-5-5-10-10 7zm6 10l9-4-5-11-10 5z"/><path class="o" d="M223 3306l10-2-6-13-9 4zm5 13l10 1-5-16-10 2z"/><path class="p" d="M234 3333l10 4-6-17-10-1z"/><path class="q" d="M239 3348l11 9-6-20-10-4zm6 13l10 14-5-18-11-9z"/><path class="r" d="M250 3368l11 17-6-10-10-14zm5 1l11 14-5 2-11-17z"/><path class="q" d="M260 3367l11 8-5 8-11-14z"/></g>
<path d="M24.59 819.13h-3.3M23.83 810.44h-3.3M23.05 801.54h-3.3M22.25 792.41h-3.3M21.44 783.03h-3.3M20.6 773.41h-3.3M19.73 763.52h-3.3M18.85 753.36h-3.3M17.93 742.93h-3.3M65.94 870.89l-2.3 1.9M61.11 864.78l-2.3 1.9M56.41 858.84l-2.3 1.9M51.84 853.07l-2.3 1.9M47.39 847.44l-2.3 1.9M43.06 841.97l-2.3 1.9M38.84 836.64l-2.3 1.9M34.73 831.44l-2.3 1.9M30.73 826.38l-2.3 1.9M26.82 821.44l-2.3 1.9M68.12 870.06l0.3 3M77.45 866.51l0.3 3M86.63 863.02l0.3 3M95.66 859.59l0.3 3M104.56 856.21l0.3 3M113.32 852.88l0.3 3M121.95 849.6l0.3 3M130.45 846.37l0.3 3M138.81 843.19l0.3 3M147.06 840.05l0.3 3" stroke="#333" stroke-width="0.5" fill="none"/>
<text x="18.99" y="821.03" font-size="5.4" text-anchor="end" fill="#222">−40</text>
<text x="18.23" y="812.34" font-size="5.4" text-anchor="end" fill="#222">−30</text>
<text x="17.45" y="803.44" font-size="5.4" text-anchor="end" fill="#222">−20</text>
<text x="16.65" y="794.31" font-size="5.4" text-anchor="end" fill="#222">−10</text>
<text x="15.84" y="784.93" font-size="5.4" text-anchor="end" fill="#222">0</text>
<text x="15" y="775.31" font-size="5.4" text-anchor="end" fill="#222">10</text>
<text x="14.13" y="765.42" font-size="5.4" text-anchor="end" fill="#222">20</text>
<text x="13.25" y="755.26" font-size="5.4" text-anchor="end" fill="#222">30</text>
<text x="12.33" y="744.83" font-size="5.4" text-anchor="end" fill="#222">40</text>
<text x="61.94" y="879.49" font-size="4.4" text-anchor="middle" fill="#222">0</text>
<text x="56.71" y="869.93" font-size="4.2" text-anchor="end" fill="#222">19.53125</text>
<text x="52.01" y="864.14" font-size="4.2" text-anchor="end" fill="#222">39.0625</text>
<text x="47.44" y="858.52" font-size="4.2" text-anchor="end" fill="#222">78.125</text>
<text x="42.99" y="853.04" font-size="4.2" text-anchor="end" fill="#222">156.25</text>
<text x="38.66" y="847.72" font-size="4.2" text-anchor="end" fill="#222">312.5</text>
<text x="34.44" y="842.54" font-size="4.2" text-anchor="end" fill="#222">625</text>
<text x="30.33" y="837.49" font-size="4.2" text-anchor="end" fill="#222">1,250</text>
<text x="26.33" y="832.58" font-size="4.2" text-anchor="end" fill="#222">2,500</text>
<text x="22.42" y="827.79" font-size="4.2" text-anchor="end" fill="#222">5,000</text>
<text x="68.42" y="879.66" font-size="4.4" text-anchor="middle" fill="#222">0</text>
<text x="77.45" y="874.96" font-size="4.2" fill="#222">19.53125</text>
<text x="86.63" y="871.32" font-size="4.2" fill="#222">39.0625</text>
<text x="95.66" y="867.74" font-size="4.2" fill="#222">78.125</text>
<text x="104.56" y="864.21" font-size="4.2" fill="#222">156.25</text>
<text x="113.32" y="860.73" font-size="4.2" fill="#222">312.5</text>
<text x="121.95" y="857.3" font-size="4.2" fill="#222">625</text>
<text x="130.45" y="853.92" font-size="4.2" fill="#222">1,250</text>
<text x="138.81" y="850.59" font-size="4.2" fill="#222">2,500</text>
<text x="147.06" y="847.3" font-size="4.2" fill="#222">5,000</text>
<text transform="translate(4.52 783.53) rotate(-86)" font-size="7.6" font-weight="bold" text-anchor="middle">Synergy score</text>
<text transform="translate(19.17 853.36) rotate(55)" font-size="7.9" font-weight="bold" text-anchor="middle">Ribociclib (nM)</text>
<text transform="translate(120.75 876.73) rotate(-21.5)" font-size="7.7" font-weight="bold" text-anchor="middle">BLU-222 (nM)</text>
<text x="91.7" y="687.6" font-size="9.5" font-weight="bold" text-anchor="middle">Parental</text>
<text x="91.7" y="701.4" font-size="7.6" text-anchor="middle" fill="#222">MSA score: 21.5</text>
<text x="91.7" y="709.9" font-size="7.6" text-anchor="middle" fill="#222">Mean synergy: 7.1</text>
<g stroke="#333" stroke-width="0.5"><line x1="192.67" y1="742.19" x2="273.98" y2="720.75"/><line x1="273.98" y1="720.75" x2="326.25" y2="760.67"/><line x1="192.67" y1="742.19" x2="199.2" y2="817.77"/><line x1="326.25" y1="760.67" x2="319.05" y2="838.52"/><line x1="199.2" y1="817.77" x2="239.41" y2="869.11"/><line x1="239.41" y1="869.11" x2="319.05" y2="838.52"/><line x1="192.67" y1="742.19" x2="237.03" y2="788.68"/><line x1="326.25" y1="760.67" x2="237.03" y2="788.68"/><line x1="237.03" y1="788.68" x2="239.41" y2="869.11"/><line x1="273.98" y1="720.75" x2="272.48" y2="793.71" stroke-dasharray="1 1.2"/><line x1="199.2" y1="817.77" x2="272.48" y2="793.71" stroke-dasharray="1 1.2"/><line x1="272.48" y1="793.71" x2="319.05" y2="838.52" stroke-dasharray="1 1.2"/></g>
<g transform="scale(0.25)" stroke="#000" stroke-width="1.68" stroke-linejoin="round"><path class="d" d="M1090 3042l8-10-5-4-8 7zm4 3l9-9-5-4-8 10z"/><path class="e" d="M1099 3044l9-5-5-3-9 9zm6-1l8 0-5-4-9 5zm5-1l8 5-5-4-8 0zm5 3l8 6-5-4-8-5zm5 8l8 2-5-4-8-6zm5 11l8-3-5-6-8-2zm4 13l9-9-5-7-8 3zm5 11l9-12-5-8-9 9zm5 7l9-11-5-8-9 12zm6 3l8-8-5-6-9 11zm5 0l8-4-5-4-8 8z"/><path class="m" d="M1156 3097l8 0-6-3-8 4zm5 0l8 2-5-2-8 0zm5 4l9 0-6-2-8-2zm6 8l8-4-5-4-9 0zm5 10l8-8-5-6-8 4zm5 10l9-10-6-8-8 8zm5 8l9-10-5-8-9 10zm6 6l8-9-5-7-9 10zm5 2l9-5-6-6-8 9zm6 1l9-2-6-4-9 5zm6 0l9-1-6-1-9 2zm6 1l9-2-6 0-9 1zm6 4l9-4-6-2-9 2zm6 7l9-8-6-3-9 4zm5 8l9-9-5-7-9 8z"/><path class="e" d="M1239 3175l9-9-6-9-9 9zm6 6l8-6-5-9-9 9zm6 5l8-4-6-7-8 6zm6 1l8 0-6-5-8 4zm6 2l9 0-7-2-8 0zm6 5l9-2-6-3-9 0zm6 9l9-4-6-7-9 2z"/><path class="m" d="M1281 3210l9-3-6-8-9 4z"/><path class="d" d="M1081 3048l9-6-5-7-8 3zm5 3l8-6-4-3-9 6z"/><path class="e" d="M1091 3049l8-5-5 1-8 6zm5-4l9-2-6 1-8 5zm6-2l8-1-5 1-9 2zm5 3l8-1-5-3-8 1zm5 9l8-2-5-8-8 1zm4 13l9-4-5-11-8 2zm5 14l8-5-4-13-9 4zm5 11l8-5-5-11-8 5zm5 6l8-4-5-7-8 5zm5 1l9-2-6-3-8 4z"/><path class="m" d="M1142 3099l8-1-5 0-9 2zm5-2l9 0-6 1-8 1z"/><path class="n" d="M1153 3100l8-3-5 0-9 0zm5 7l8-6-5-4-8 3zm5 10l9-8-6-8-8 6zm5 11l9-9-5-10-9 8zm5 9l9-8-5-10-9 9zm6 6l8-6-5-8-9 8z"/><path class="m" d="M1184 3145l9-2-6-6-8 6zm6 0l8 0-5-2-9 2zm6 0l8 1-6-1-8 0zm6 2l8-1-6 0-8-1z"/><path class="n" d="M1208 3152l8-5-6-1-8 1zm5 7l9-8-6-4-8 5zm6 9l9-10-6-7-9 8z"/><path class="m" d="M1224 3177l9-11-5-8-9 10zm6 6l9-8-6-9-9 11zm6 3l9-5-6-6-9 8z"/><path class="e" d="M1242 3186l9 0-6-5-9 5zm7-1l8 2-6-1-9 0zm6 2l8 2-6-2-8-2zm6 8l8-1-6-5-8-2zm5 11l9-3-6-9-8 1z"/><path class="m" d="M1272 3213l9-3-6-7-9 3z"/><path class="d" d="M1073 3048l8 0-4-10-8 0zm5 4l8-1-5-3-8 0z"/><path class="e" d="M1083 3052l8-3-5 2-8 1zm5-3l8-4-5 4-8 3zm5-1l9-5-6 2-8 4zm5 3l9-5-5-3-9 5zm5 9l9-5-5-9-9 5zm5 12l8-4-4-13-9 5zm5 12l8-2-5-14-8 4zm5 9l8 0-5-11-8 2zm5 4l8 2-5-6-8 0z"/><path class="m" d="M1128 3098l8 2-5-1-8-2zm6 0l8 1-6 1-8-2zm5 2l8-3-5 2-8-1z"/><path class="n" d="M1144 3106l9-6-6-3-8 3zm5 10l9-9-5-7-9 6zm5 11l9-10-5-10-9 9zm6 9l8-8-5-11-9 10zm5 6l8-5-5-9-8 8zm5 1l9 0-6-6-8 5zm6-2l8 4-5-2-9 0z"/><path class="m" d="M1182 3140l8 5-6 0-8-4zm6 2l8 3-6 0-8-5z"/><path class="n" d="M1193 3148l9-1-6-2-8-3zm6 10l9-6-6-5-9 1zm5 11l9-10-5-7-9 6zm6 10l9-11-6-9-9 10zm5 7l9-9-5-9-9 11z"/><path class="m" d="M1221 3189l9-6-6-6-9 9zm6-1l9-2-6-3-9 6zm7-3l8 1-6 0-9 2z"/><path class="e" d="M1240 3183l9 2-7 1-8-1zm6 4l9 0-6-2-9-2zm6 10l9-2-6-8-9 0zm6 12l8-3-5-11-9 2z"/><path class="m" d="M1264 3216l8-3-6-7-8 3z"/><path class="d" d="M1065 3045l8 3-4-10-8-2zm5 5l8 2-5-4-8-3zm5 2l8 0-5 0-8-2zm5 0l8-3-5 3-8 0z"/><path class="e" d="M1085 3054l8-6-5 1-8 3zm5 5l8-8-5-3-8 6zm5 8l8-7-5-9-8 8zm5 9l8-4-5-12-8 7zm5 8l8 0-5-12-8 4zm5 4l8 5-5-9-8 0zm5 3l8 6-5-4-8-5zm5 2l8 5-5-1-8-6z"/><path class="m" d="M1125 3097l9 1-6 0-8-5zm6 7l8-4-5-2-9-1z"/><path class="n" d="M1136 3114l8-8-5-6-8 4zm5 11l8-9-5-10-8 8zm5 9l8-7-5-11-8 9zm5 6l9-4-6-9-8 7zm6 1l8 1-5-6-9 4zm5-3l8 5-5-1-8-1z"/><path class="m" d="M1168 3136l8 5-6 2-8-5zm6 0l8 4-6 1-8-5zm5 6l9 0-6-2-8-4zm6 10l8-4-5-6-9 0z"/><path class="n" d="M1190 3164l9-6-6-10-8 4zm5 12l9-7-5-11-9 6zm6 8l9-5-6-10-9 7zm6 5l8-3-5-7-9 5zm6 2l8-2-6-3-8 3z"/><path class="m" d="M1219 3189l8-1-6 1-8 2zm6-3l9-1-7 3-8 1z"/><path class="e" d="M1232 3186l8-3-6 2-9 1zm6 4l8-3-6-4-8 3zm5 11l9-4-6-10-8 3zm6 11l9-3-6-12-9 4z"/><path class="m" d="M1255 3219l9-3-6-7-9 3z"/><path class="d" d="M1057 3042l8 3-4-9-9 0zm5 4l8 4-5-5-8-3zm5 3l8 3-5-2-8-4zm5 4l8-1-5 0-8-3zm5 6l8-5-5-2-8 1zm5 6l8-6-5-5-8 5z"/><path class="e" d="M1086 3072l9-5-5-8-8 6zm5 6l9-2-5-9-9 5zm5 4l9 2-5-8-9 2zm6 2l8 4-5-4-9-2zm5 1l8 6-5-3-8-4zm5 4l8 4-5-2-8-6zm5 8l8 0-5-4-8-4z"/><path class="m" d="M1122 3107l9-3-6-7-8 0zm5 12l9-5-5-10-9 3z"/><path class="n" d="M1132 3129l9-4-5-11-9 5zm5 7l9-2-5-9-9 4zm6 1l8 3-5-6-9 2zm5-2l9 6-6-1-8-3z"/><path class="m" d="M1154 3132l8 6-5 3-9-6z"/><path class="e" d="M1160 3131l8 5-6 2-8-6zm5 5l9 0-6 0-8-5zm6 10l8-4-5-6-9 0z"/><path class="m" d="M1176 3158l9-6-6-10-8 4zm5 11l9-5-5-12-9 6z"/><path class="n" d="M1187 3178l8-2-5-12-9 5zm5 5l9 1-6-8-8 2zm6 2l9 4-6-5-9-1z"/><path class="m" d="M1204 3187l9 4-6-2-9-4zm6 1l9 1-6 2-9-4zm6 2l9-4-6 3-9-1z"/><path class="e" d="M1222 3193l10-7-7 0-9 4zm6 6l10-9-6-4-10 7zm6 7l9-5-5-11-10 9zm6 9l9-3-6-11-9 5z"/><path class="m" d="M1246 3222l9-3-6-7-9 3z"/><path class="d" d="M1049 3040l8 2-5-6-8 3zm5 2l8 4-5-4-8-2zm5 4l8 3-5-3-8-4zm5 6l8 1-5-4-8-3zm4 7l9 0-5-6-8-1zm5 9l9-3-5-6-9 0zm5 6l8-2-4-7-9 3zm5 4l8 0-5-6-8 2zm5 2l8 2-5-4-8 0z"/><path class="e" d="M1093 3081l9 3-6-2-8-2zm6 2l8 2-5-1-9-3zm5 5l8 1-5-4-8-2zm5 10l8-1-5-8-8-1zm5 11l8-2-5-10-8 1zm5 11l8-1-5-12-8 2zm5 7l8 2-5-10-8 1z"/><path class="m" d="M1129 3131l8 5-5-7-8-2zm6-1l8 7-6-1-8-5z"/><path class="e" d="M1140 3127l8 8-5 2-8-7zm6-1l8 6-6 3-8-8zm6 4l8 1-6 1-8-6zm5 9l8-3-5-5-8-1zm5 12l9-5-6-10-8 3zm5 12l9-5-5-12-9 5zm6 8l8-2-5-11-9 5z"/><path class="m" d="M1178 3175l9 3-6-9-8 2zm6 1l8 7-5-5-9-3zm6 1l8 8-6-2-8-7zm6 3l8 7-6-2-8-8zm6 7l8 1-6-1-8-7z"/><path class="e" d="M1208 3195l8-5-6-2-8-1zm5 8l9-10-6-3-8 5zm6 6l9-10-6-6-9 10zm6 4l9-7-6-7-9 10zm6 6l9-4-6-9-9 7z"/><path class="m" d="M1237 3226l9-4-6-7-9 4z"/><path class="d" d="M1041 3040l8 0-5-1-8 3zm5 0l8 2-5-2-8 0zm4 3l9 3-5-4-8-2zm5 6l9 3-5-6-9-3zm5 9l8 1-4-7-9-3zm5 8l8 2-5-9-8-1zm5 7l8 1-5-6-8-2zm5 3l8 2-5-4-8-1zm5 2l8 2-5-2-8-2zm5 1l8 2-5-1-8-2zm5 3l9 1-6-2-8-2zm5 7l9-1-5-5-9-1zm5 9l9 0-5-10-9 1z"/><path class="e" d="M1105 3108l9 1-5-11-9 0zm5 9l9 3-5-11-9-1zm6 4l8 6-5-7-9-3zm5 1l8 9-5-4-8-6zm6-1l8 9-6 1-8-9zm5-1l8 7-5 3-8-9z"/><path class="d" d="M1138 3123l8 3-6 1-8-7zm5 7l9 0-6-4-8-3zm5 12l9-3-5-9-9 0zm5 13l9-4-5-12-9 3z"/><path class="e" d="M1159 3165l8-2-5-12-9 4zm5 5l9 1-6-8-8 2zm6 0l8 5-5-4-9-1zm6-2l8 8-6-1-8-5zm6 1l8 8-6-1-8-8zm6 6l8 5-6-3-8-8zm5 11l9 1-6-7-8-5zm6 14l9-5-6-8-9-1zm5 12l9-9-5-8-9 5zm6 6l9-9-6-6-9 9zm6 1l9-6-6-4-9 9zm6 3l9-3-6-6-9 6z"/><path class="m" d="M1228 3229l9-3-6-7-9 3z"/><path class="d" d="M1032 3041l9-1-5 2-8 1zm5-1l9 0-5 0-9 1zm5 2l8 1-4-3-9 0zm5 6l8 1-5-6-8-1zm5 8l8 2-5-9-8-1zm5 8l8 2-5-8-8-2zm5 5l8 4-5-7-8-2zm5 3l8 4-5-3-8-4zm5 2l8 4-5-2-8-4zm5 3l8 2-5-1-8-4zm5 5l8 0-5-3-8-2zm5 7l8 0-5-7-8 0zm5 9l8 0-5-9-8 0zm5 8l8 2-5-10-8 0zm5 5l8 6-5-9-8-2zm5 3l9 7-6-4-8-6zm6 0l8 8-5-1-9-7zm5 0l9 7-6 1-8-8zm6 1l8 5-5 1-9-7zm5 5l9 3-6-3-8-5z"/><path class="c" d="M1134 3129l9 1-5-7-9-3zm6 12l8 1-5-12-9-1z"/><path class="d" d="M1145 3154l8 1-5-13-8-1zm5 9l9 2-6-10-8-1zm6 4l8 3-5-5-9-2z"/><path class="e" d="M1162 3166l8 4-6 0-8-3zm6-1l8 3-6 2-8-4zm5 2l9 2-6-1-8-3zm6 8l9 0-6-6-9-2zm5 13l9-2-5-11-9 0zm6 14l9-2-6-14-9 2zm5 12l9-2-5-12-9 2zm6 7l9-3-6-6-9 2zm6 1l9-3-6-1-9 3zm6 3l9-3-6-3-9 3z"/><path class="m" d="M1219 3232l9-3-6-7-9 3z"/><path class="d" d="M1024 3040l8 1-4 2-9-2zm5 1l8-1-5 1-8-1z"/><path class="c" d="M1034 3044l8-2-5-2-8 1zm4 7l9-3-5-6-8 2zm5 6l9-1-5-8-9 3zm5 5l9 2-5-8-9 1zm5 3l9 4-5-5-9-2zm5 2l9 5-5-3-9-4zm5 1l9 6-5-2-9-5zm5 4l9 5-5-3-9-6zm5 6l9 4-5-5-9-5zm5 8l9 3-5-7-9-4zm5 8l9 4-5-9-9-3zm5 7l9 5-5-8-9-4zm6 5l8 5-5-5-9-5z"/><path class="d" d="M1099 3108l8 6-5-3-8-5zm5 2l9 4-6 0-8-6zm6 1l8 3-5 0-9-4z"/><path class="c" d="M1115 3114l9 1-6-1-8-3zm6 4l8 2-5-5-9-1zm5 8l8 3-5-9-8-2zm5 10l9 5-6-12-8-3zm5 11l9 7-5-13-9-5zm6 9l8 7-5-9-9-7z"/><path class="d" d="M1147 3162l9 5-6-4-8-7zm6 3l9 1-6 1-9-5z"/><path class="e" d="M1159 3168l9-3-6 1-9-1zm5 5l9-6-5-2-9 3zm6 8l9-6-6-8-9 6zm6 10l8-3-5-13-9 6zm5 11l9 0-6-14-8 3zm6 9l8 3-5-12-9 0zm6 6l8 4-6-7-8-3zm6 4l8 1-6-1-8-4zm5 7l9-3-6-3-8-1z"/><path class="m" d="M1210 3235l9-3-6-7-9 3z"/><path class="c" d="M1016 3038l8 2-5 1-8-5zm4 4l9-1-5-1-8-2zm5 6l9-4-5-3-9 1zm5 6l8-3-4-7-9 4zm5 4l8-1-5-6-8 3zm5 2l8 2-5-5-8 1zm5 0l8 5-5-3-8-2z"/><path class="b" d="M1050 3059l8 8-5-2-8-5zm5 1l8 8-5-1-8-8zm5 5l8 7-5-4-8-8zm5 7l8 6-5-6-8-7zm5 8l8 6-5-8-8-6zm5 8l8 6-5-8-8-6z"/><path class="c" d="M1080 3095l8 6-5-7-8-6zm5 5l9 6-6-5-8-6zm5 4l9 4-5-2-9-6zm6 4l8 2-5-2-9-4zm5 3l9 0-6-1-8-2zm5 3l9 0-5-3-9 0z"/><path class="b" d="M1112 3117l9 1-6-4-9 0zm5 3l9 6-5-8-9-1zm6 7l8 9-5-10-9-6zm5 9l8 11-5-11-8-9z"/><path class="c" d="M1133 3147l9 9-6-9-8-11zm6 11l8 4-5-6-9-9z"/><path class="d" d="M1144 3167l9-2-6-3-8-4zm6 9l9-8-6-3-9 2zm5 7l9-10-5-5-9 8zm6 7l9-9-6-8-9 10zm6 5l9-4-6-10-9 9z"/><path class="e" d="M1172 3200l9 2-5-11-9 4zm6 4l9 7-6-9-9-2zm6 6l9 7-6-6-9-7zm6 9l9 2-6-4-9-7zm5 11l9-2-5-7-9-2z"/><path class="m" d="M1201 3238l9-3-6-7-9 2z"/><path class="c" d="M1007 3036l9 2-5-2-8-4zm5 7l8-1-4-4-9-2zm5 8l8-3-5-6-8 1zm5 5l8-2-5-6-8 3z"/><path class="b" d="M1026 3058l9 0-5-4-8 2zm5-1l9 3-5-2-9 0zm5-4l9 7-5 0-9-3zm5-2l9 8-5 1-9-7z"/><path class="a" d="M1046 3051l9 9-5-1-9-8zm5 4l9 10-5-5-9-9zm5 8l9 9-5-7-9-10zm5 9l9 8-5-8-9-9z"/><path class="b" d="M1066 3080l9 8-5-8-9-8zm5 8l9 7-5-7-9-8zm6 6l8 6-5-5-9-7zm5 7l8 3-5-4-8-6zm5 6l9 1-6-4-8-3zm5 5l9-1-5-3-9-1zm6 3l8-1-5-3-9 1zm5 0l9 2-6-3-8 1z"/><path class="a" d="M1109 3115l8 5-5-3-9-2zm5 3l9 9-6-7-8-5z"/><path class="b" d="M1120 3127l8 9-5-9-9-9zm5 13l8 7-5-11-8-9z"/><path class="c" d="M1130 3155l9 3-6-11-8-7z"/><path class="d" d="M1135 3170l9-3-5-9-9-3zm6 13l9-7-6-9-9 3zm5 9l9-9-5-7-9 7zm6 5l9-7-6-7-9 9zm6 2l9-4-6-5-9 7zm6 0l8 1-5-5-9 4zm6 1l8 4-6-4-8-1z"/><path class="e" d="M1176 3206l8 4-6-6-8-4zm5 13l9 0-6-9-8-4zm5 14l9-3-5-11-9 0z"/><path class="m" d="M1192 3241l9-3-6-8-9 3z"/><path class="c" d="M999 3036l8 0-4-4-9 0zm4 7l9 0-5-7-8 0z"/><path class="b" d="M1008 3050l9 1-5-8-9 0zm5 4l9 2-5-5-9-1zm5-1l8 5-4-2-9-2z"/><path class="a" d="M1023 3049l8 8-5 1-8-5zm5-5l8 9-5 4-8-8zm4-3l9 10-5 2-8-9z"/><path class="f" d="M1037 3041l9 10-5 0-9-10zm5 5l9 9-5-4-9-10zm6 8l8 9-5-8-9-9zm5 9l8 9-5-9-8-9z"/><path class="a" d="M1058 3071l8 9-5-8-8-9zm5 7l8 10-5-8-8-9zm5 8l9 8-6-6-8-10zm5 8l9 7-5-7-9-8z"/><path class="b" d="M1078 3103l9 4-5-6-9-7zm6 7l8 2-5-5-9-4z"/><path class="a" d="M1089 3113l9 2-6-3-8-2zm5 0l9 2-5 0-9-2zm6-1l9 3-6 0-9-2zm5 2l9 4-5-3-9-3zm6 9l9 4-6-9-9-4z"/><path class="b" d="M1116 3137l9 3-5-13-9-4z"/><path class="c" d="M1121 3154l9 1-5-15-9-3zm5 17l9-1-5-15-9-1z"/><path class="d" d="M1132 3186l9-3-6-13-9 1zm5 10l9-4-5-9-9 3zm6 4l9-3-6-5-9 4zm6 1l9-2-6-2-9 3zm6-1l9-1-6 0-9 2zm6 1l9-1-6-1-9 1zm5 6l10-1-6-6-9 1z"/><path class="e" d="M1172 3221l9-2-5-13-10 1zm5 15l9-3-5-14-9 2z"/><path class="m" d="M1183 3244l9-3-6-8-9 3z"/><path class="c" d="M990 3039l9-3-5-4-8 3z"/><path class="b" d="M995 3043l8 0-4-7-9 3zm5 3l8 4-5-7-8 0zm4 0l9 8-5-4-8-4z"/><path class="a" d="M1009 3043l9 10-5 1-9-8zm5-6l9 12-5 4-9-10z"/><path class="f" d="M1019 3032l9 12-5 5-9-12zm5-2l8 11-4 3-9-12z"/><path class="g" d="M1029 3032l8 9-5 0-8-11zm5 5l8 9-5-5-8-9zm5 8l9 9-6-8-8-9zm5 8l9 10-5-9-9-9zm5 7l9 11-5-8-9-10z"/><path class="f" d="M1054 3067l9 11-5-7-9-11zm5 8l9 11-5-8-9-11zm5 10l9 9-5-8-9-11z"/><path class="a" d="M1070 3095l8 8-5-9-9-9zm5 9l9 6-6-7-8-8zm5 6l9 3-5-3-9-6zm6 1l8 2-5 0-9-3z"/><path class="f" d="M1091 3111l9 1-6 1-8-2zm6 4l8-1-5-2-9-1z"/><path class="a" d="M1102 3124l9-1-6-9-8 1z"/><path class="b" d="M1107 3138l9-1-5-14-9 1zm5 17l9-1-5-17-9 1z"/><path class="c" d="M1118 3171l8 0-5-17-9 1zm5 13l9 2-6-15-8 0z"/><path class="d" d="M1128 3193l9 3-5-10-9-2zm6 5l9 2-6-4-9-3zm6 3l9 0-6-1-9-2zm6 2l9-3-6 1-9 0zm5 4l10-6-6-1-9 3zm6 8l9-8-5-6-10 6z"/><path class="e" d="M1163 3228l9-7-6-14-9 8zm5 12l9-4-5-15-9 7z"/><path class="m" d="M1174 3248l9-4-6-8-9 4z"/><path class="b" d="M982 3041l8-2-4-4-9 6zm4 0l9 2-5-4-8 2z"/><path class="a" d="M991 3039l9 7-5-3-9-2zm5-4l8 11-4 0-9-7z"/><path class="f" d="M1000 3029l9 14-5 3-8-11zm5-6l9 14-5 6-9-14z"/><path class="g" d="M1010 3019l9 13-5 5-9-14z"/><path class="h" d="M1015 3018l9 12-5 2-9-13zm5 3l9 11-5-2-9-12zm5 6l9 10-5-5-9-11zm5 7l9 11-5-8-9-10zm5 7l9 12-5-8-9-11zm5 7l9 12-5-7-9-12zm5 7l9 12-5-7-9-12z"/><path class="g" d="M1050 3063l9 12-5-8-9-12z"/><path class="f" d="M1056 3074l8 11-5-10-9-12zm5 12l9 9-6-10-8-11zm5 11l9 7-5-9-9-9zm5 8l9 5-5-6-9-7zm6 4l9 2-6-1-9-5zm5 2l9 0-5 0-9-2zm5 6l10-2-6-4-9 0zm6 11l9-4-5-9-10 2z"/><path class="a" d="M1098 3142l9-4-5-14-9 4z"/><path class="b" d="M1103 3157l9-2-5-17-9 4z"/><path class="c" d="M1109 3170l9 1-6-16-9 2zm5 10l9 4-5-13-9-1z"/><path class="d" d="M1120 3188l8 5-5-9-9-4zm5 6l9 4-6-5-8-5zm6 6l9 1-6-3-9-4zm6 6l9-3-6-2-9-1zm5 9l9-8-5-4-9 3zm6 10l9-10-6-8-9 8z"/><path class="e" d="M1153 3235l10-7-6-13-9 10zm6 9l9-4-5-12-10 7z"/><path class="m" d="M1165 3251l9-3-6-8-9 4z"/><path class="b" d="M973 3043l9-2-5 0-8 4zm5-4l8 2-4 0-9 2z"/><path class="a" d="M982 3033l9 6-5 2-8-2z"/><path class="f" d="M987 3025l9 10-5 4-9-6z"/><path class="g" d="M991 3017l9 12-4 6-9-10zm5-7l9 13-5 6-9-12z"/><path class="h" d="M1001 3006l9 13-5 4-9-13z"/><path class="i" d="M1006 3005l9 13-5 1-9-13zm5 3l9 13-5-3-9-13z"/><path class="j" d="M1016 3013l9 14-5-6-9-13zm5 7l9 14-5-7-9-14zm5 6l9 15-5-7-9-14z"/><path class="i" d="M1031 3034l9 14-5-7-9-15zm5 8l9 13-5-7-9-14z"/><path class="h" d="M1042 3053l8 10-5-8-9-13z"/><path class="g" d="M1047 3066l9 8-6-11-8-10zm5 14l9 6-5-12-9-8z"/><path class="f" d="M1057 3092l9 5-5-11-9-6zm5 8l9 5-5-8-9-5zm6 5l9 4-6-4-9-5z"/><path class="g" d="M1073 3110l9 1-5-2-9-4zm5 8l9-1-5-6-9-1z"/><path class="f" d="M1084 3130l9-2-6-11-9 1z"/><path class="a" d="M1089 3146l9-4-5-14-9 2z"/><path class="b" d="M1094 3160l9-3-5-15-9 4z"/><path class="c" d="M1100 3171l9-1-6-13-9 3zm5 8l9 1-5-10-9 1z"/><path class="d" d="M1111 3186l9 2-6-8-9-1zm5 6l9 2-5-6-9-2zm6 7l9 1-6-6-9-2zm5 10l10-3-6-6-9-1zm6 11l9-5-5-9-10 3zm5 12l10-7-6-10-9 5z"/><path class="e" d="M1144 3241l9-6-5-10-10 7zm6 7l9-4-6-9-9 6z"/><path class="m" d="M1156 3254l9-3-6-7-9 4z"/><path class="b" d="M964 3043l9 0-4 2-9 0z"/><path class="a" d="M969 3037l9 2-5 4-9 0z"/><path class="f" d="M973 3029l9 4-4 6-9-2zm5-10l9 6-5 8-9-4z"/><path class="g" d="M982 3009l9 8-4 8-9-6z"/><path class="h" d="M987 3001l9 9-5 7-9-8z"/><path class="i" d="M992 2996l9 10-5 4-9-9z"/><path class="j" d="M997 2994l9 11-5 1-9-10z"/><path class="k" d="M1002 2995l9 13-5-3-9-11zm5 3l9 15-5-5-9-13zm5 5l9 17-5-7-9-15zm5 7l9 16-5-6-9-17zm5 9l9 15-5-8-9-16z"/><path class="j" d="M1027 3031l9 11-5-8-9-15z"/><path class="i" d="M1032 3046l10 7-6-11-9-11z"/><path class="h" d="M1038 3062l9 4-5-13-10-7zm5 15l9 3-5-14-9-4z"/><path class="g" d="M1048 3090l9 2-5-12-9-3zm5 7l9 3-5-8-9-2zm6 4l9 4-6-5-9-3zm5 4l9 5-5-5-9-4zm5 9l9 4-5-8-9-5z"/><path class="f" d="M1075 3129l9 1-6-12-9-4z"/><path class="a" d="M1080 3146l9 0-5-16-9-1z"/><path class="b" d="M1085 3162l9-2-5-14-9 0zm6 13l9-4-6-11-9 2z"/><path class="c" d="M1096 3183l9-4-5-8-9 4zm6 6l9-3-6-7-9 4z"/><path class="d" d="M1107 3195l9-3-5-6-9 3zm6 6l9-2-6-7-9 3zm5 9l9-1-5-10-9 2zm6 11l9-1-6-11-9 1zm5 12l9-1-5-12-9 1z"/><path class="e" d="M1135 3243l9-2-6-9-9 1zm6 8l9-3-6-7-9 2z"/><path class="m" d="M1146 3257l10-3-6-6-9 3z"/><path class="a" d="M956 3041l8 2-4 2-9-3zm4-5l9 1-5 6-8-2z"/><path class="f" d="M965 3028l8 1-4 8-9-1z"/><path class="g" d="M969 3017l9 2-5 10-8-1z"/><path class="h" d="M973 3007l9 2-4 10-9-2z"/><path class="i" d="M978 2997l9 4-5 8-9-2z"/><path class="j" d="M983 2990l9 6-5 5-9-4z"/><path class="k" d="M987 2985l10 9-5 2-9-6z"/><path class="l" d="M992 2983l10 12-5-1-10-9zm5 0l10 15-5-3-10-12zm5 4l10 16-5-5-10-15zm6 8l9 15-5-7-10-16zm5 12l9 12-5-9-9-15z"/><path class="k" d="M1018 3023l9 8-5-12-9-12z"/><path class="j" d="M1023 3042l9 4-5-15-9-8z"/><path class="i" d="M1029 3062l9 0-6-16-9-4z"/><path class="h" d="M1034 3079l9-2-5-15-9 0zm5 12l9-1-5-13-9 2z"/><path class="g" d="M1044 3096l9 1-5-7-9 1zm6 2l9 3-6-4-9-1zm5 2l9 5-5-4-9-3zm5 9l9 5-5-9-9-5zm6 15l9 5-6-15-9-5z"/><path class="f" d="M1071 3144l9 2-5-17-9-5z"/><path class="a" d="M1076 3163l9-1-5-16-9-2z"/><path class="b" d="M1081 3179l10-4-6-13-9 1z"/><path class="c" d="M1087 3190l9-7-5-8-10 4zm5 7l10-8-6-6-9 7z"/><path class="d" d="M1098 3202l9-7-5-6-10 8zm5 5l10-6-6-6-9 7zm6 5l9-2-5-9-10 6zm6 7l9 2-6-11-9 2zm5 10l9 4-5-12-9-2z"/><path class="e" d="M1126 3242l9 1-6-10-9-4zm5 11l10-2-6-8-9-1z"/><path class="m" d="M1137 3261l9-4-5-6-10 2z"/><path class="a" d="M947 3039l9 2-5 1-9-3z"/><path class="f" d="M951 3036l9 0-4 5-9-2zm5-7l9-1-5 8-9 0z"/><path class="g" d="M960 3019l9-2-4 11-9 1z"/><path class="i" d="M964 3008l9-1-4 10-9 2z"/><path class="j" d="M969 2997l9 0-5 10-9 1z"/><path class="k" d="M974 2988l9 2-5 7-9 0z"/><path class="l" d="M978 2980l9 5-4 5-9-2zm5-4l9 7-5 2-9-5zm5-2l9 9-5 0-9-7zm5 3l9 10-5-4-9-9zm5 9l10 9-6-8-9-10zm6 14l9 7-5-12-10-9zm5 19l9 4-5-16-9-7z"/><path class="k" d="M1014 3041l9 1-5-19-9-4z"/><path class="j" d="M1019 3063l10-1-6-20-9-1z"/><path class="i" d="M1025 3081l9-2-5-17-10 1z"/><path class="h" d="M1030 3092l9-1-5-12-9 2zm5 5l9-1-5-5-9 1zm5-1l10 2-6-2-9 1zm6 2l9 2-5-2-10-2z"/><path class="g" d="M1051 3105l9 4-5-9-9-2zm5 16l10 3-6-15-9-4z"/><path class="f" d="M1062 3142l9 2-5-20-10-3z"/><path class="a" d="M1067 3163l9 0-5-19-9-2z"/><path class="b" d="M1072 3181l9-2-5-16-9 0z"/><path class="c" d="M1078 3196l9-6-6-11-9 2zm5 9l9-8-5-7-9 6zm5 6l10-9-6-5-9 8z"/><path class="d" d="M1094 3214l9-7-5-5-10 9zm6 1l9-3-6-5-9 7zm6 3l9 1-6-7-9 3zm5 8l9 3-5-10-9-1z"/><path class="e" d="M1117 3240l9 2-6-13-9-3zm5 15l9-2-5-11-9-2z"/><path class="m" d="M1128 3264l9-3-6-8-9 2z"/><path class="a" d="M938 3040l9-1-5 0-8 0z"/><path class="f" d="M943 3037l8-1-4 3-9 1z"/><path class="g" d="M947 3030l9-1-5 7-8 1z"/><path class="h" d="M951 3021l9-2-4 10-9 1z"/><path class="i" d="M955 3009l9-1-4 11-9 2z"/><path class="j" d="M960 2999l9-2-5 11-9 1z"/><path class="k" d="M964 2989l10-1-5 9-9 2z"/><path class="l" d="M969 2981l9-1-4 8-10 1zm5-5l9 0-5 4-9 1zm5-2l9 0-5 2-9 0zm5 4l9-1-5-3-9 0zm5 9l9-1-5-9-9 1zm5 15l10-2-6-14-9 1zm6 19l9-2-5-19-10 2z"/><path class="k" d="M1005 3043l9-2-5-22-9 2z"/><path class="j" d="M1010 3063l9 0-5-22-9 2z"/><path class="i" d="M1015 3080l10 1-6-18-9 0z"/><path class="h" d="M1021 3092l9 0-5-11-10-1zm5 4l9 1-5-5-9 0zm5 1l9-1-5 1-9-1zm5 2l10-1-6-2-9 1zm6 8l9-2-5-7-10 1z"/><path class="g" d="M1047 3123l9-2-5-16-9 2z"/><path class="f" d="M1052 3142l10 0-6-21-9 2z"/><path class="a" d="M1058 3163l9 0-5-21-10 0z"/><path class="b" d="M1063 3181l9 0-5-18-9 0z"/><path class="c" d="M1068 3196l10 0-6-15-9 0zm6 12l9-3-5-9-10 0zm5 8l9-5-5-6-9 3z"/><path class="d" d="M1085 3221l9-7-6-3-9 5zm5 1l10-7-6-1-9 7zm6 0l10-4-6-3-10 7zm6 5l9-1-5-8-10 4z"/><path class="e" d="M1107 3240l10 0-6-14-9 1zm6 17l9-2-5-15-10 0z"/><path class="m" d="M1118 3267l10-3-6-9-9 2z"/><path class="a" d="M929 3043l9-3-4-1-9 5z"/><path class="f" d="M934 3039l9-2-5 3-9 3z"/><path class="g" d="M938 3032l9-2-4 7-9 2z"/><path class="h" d="M942 3022l9-1-4 9-9 2z"/><path class="i" d="M946 3011l9-2-4 12-9 1z"/><path class="j" d="M951 3002l9-3-5 10-9 2z"/><path class="k" d="M955 2994l9-5-4 10-9 3z"/><path class="l" d="M960 2987l9-6-5 8-9 5zm5-3l9-8-5 5-9 6zm5-1l9-9-5 2-9 8zm5 4l9-9-5-4-9 9zm5 10l9-10-5-9-9 9zm5 13l9-8-5-15-9 10zm5 17l10-6-6-19-9 8z"/><path class="k" d="M996 3046l9-3-5-22-10 6z"/><path class="j" d="M1001 3063l9 0-5-20-9 3z"/><path class="i" d="M1006 3078l9 2-5-17-9 0zm5 10l10 4-6-12-9-2z"/><path class="h" d="M1017 3095l9 1-5-4-10-4zm5 5l9-3-5-1-9-1zm5 6l9-7-5-2-9 3zm5 10l10-9-6-8-9 7z"/><path class="g" d="M1038 3131l9-8-5-16-10 9z"/><path class="f" d="M1043 3148l9-6-5-19-9 8z"/><path class="a" d="M1048 3163l10 0-6-21-9 6z"/><path class="b" d="M1054 3178l9 3-5-18-10 0z"/><path class="c" d="M1059 3191l9 5-5-15-9-3zm6 13l9 4-6-12-9-5zm5 12l9 0-5-8-9-4z"/><path class="d" d="M1075 3225l10-4-6-5-9 0zm6 5l9-8-5-1-10 4zm6 2l9-10-6 0-9 8zm5 3l10-8-6-5-9 10z"/><path class="e" d="M1098 3244l9-4-5-13-10 8zm5 16l10-3-6-17-9 4z"/><path class="m" d="M1109 3271l9-4-5-10-10 3z"/><path class="a" d="M921 3047l8-4-4 1-9 6z"/><path class="f" d="M925 3040l9-1-5 4-8 4z"/><path class="g" d="M929 3032l9 0-4 7-9 1z"/><path class="h" d="M933 3023l9-1-4 10-9 0z"/><path class="i" d="M937 3015l9-4-4 11-9 1z"/><path class="j" d="M942 3008l9-6-5 9-9 4z"/><path class="k" d="M946 3002l9-8-4 8-9 6z"/><path class="l" d="M951 2998l9-11-5 7-9 8zm5-2l9-12-5 3-9 11zm5 1l9-14-5 1-9 12zm5 5l9-15-5-4-9 14zm5 9l9-14-5-10-9 15zm5 13l9-14-5-13-9 14zm5 14l9-11-5-17-9 14z"/><path class="k" d="M986 3052l10-6-6-19-9 11z"/><path class="j" d="M992 3064l9-1-5-17-10 6z"/><path class="i" d="M997 3076l9 2-5-15-9 1zm5 9l9 3-5-10-9-2z"/><path class="h" d="M1007 3094l10 1-6-7-9-3zm5 8l10-2-5-5-10-1zm6 11l9-7-5-6-10 2zm5 14l9-11-5-10-9 7z"/><path class="g" d="M1028 3142l10-11-6-15-9 11z"/><path class="f" d="M1034 3156l9-8-5-17-10 11z"/><path class="a" d="M1039 3167l9-4-5-15-9 8z"/><path class="b" d="M1045 3176l9 2-6-15-9 4z"/><path class="c" d="M1050 3185l9 6-5-13-9-2zm5 12l10 7-6-13-9-6zm6 15l9 4-5-12-10-7z"/><path class="d" d="M1066 3227l9-2-5-9-9-4zm6 11l9-8-6-5-9 2zm5 6l10-12-6-2-9 8zm6 2l9-11-5-3-10 12z"/><path class="e" d="M1088 3252l10-8-6-9-9 11zm6 12l9-4-5-16-10 8z"/><path class="m" d="M1100 3274l9-3-6-11-9 4z"/><path class="a" d="M912 3048l9-1-5 3-8 4z"/><path class="f" d="M916 3041l9-1-4 7-9 1z"/><path class="g" d="M920 3033l9-1-4 8-9 1zm4-6l9-4-4 9-9 1z"/><path class="h" d="M928 3021l9-6-4 8-9 4z"/><path class="i" d="M933 3017l9-9-5 7-9 6z"/><path class="j" d="M937 3014l9-12-4 6-9 9z"/><path class="k" d="M942 3011l9-13-5 4-9 12z"/><path class="l" d="M947 3010l9-14-5 2-9 13zm5 1l9-14-5-1-9 14zm4 5l10-14-5-5-9 14zm6 9l9-14-5-9-10 14zm5 12l9-13-5-13-9 14z"/><path class="k" d="M972 3050l9-12-5-14-9 13z"/><path class="j" d="M977 3061l9-9-5-14-9 12zm5 9l10-6-6-12-9 9z"/><path class="i" d="M987 3078l10-2-5-12-10 6z"/><path class="h" d="M993 3085l9 0-5-9-10 2zm5 8l9 1-5-9-9 0zm5 10l9-1-5-8-9-1zm5 14l10-4-6-11-9 1zm6 17l9-7-5-14-10 4z"/><path class="g" d="M1019 3152l9-10-5-15-9 7z"/><path class="f" d="M1024 3165l10-9-6-14-9 10z"/><path class="a" d="M1030 3173l9-6-5-11-10 9z"/><path class="b" d="M1035 3178l10-2-6-9-9 6z"/><path class="c" d="M1041 3183l9 2-5-9-10 2zm5 10l9 4-5-12-9-2zm5 15l10 4-6-15-9-4z"/><path class="d" d="M1057 3226l9 1-5-15-10-4zm5 16l10-4-6-11-9-1zm6 11l9-9-5-6-10 4zm5 4l10-11-6-2-9 9z"/><path class="e" d="M1079 3259l9-7-5-6-10 11zm6 9l9-4-6-12-9 7z"/><path class="m" d="M1090 3277l10-3-6-10-9 4z"/><path class="a" d="M903 3048l9 0-4 6-9 1z"/><path class="f" d="M907 3041l9 0-4 7-9 0zm4-5l9-3-4 8-9 0z"/><path class="g" d="M915 3033l9-6-4 6-9 3z"/><path class="h" d="M920 3031l8-10-4 6-9 6z"/><path class="i" d="M924 3030l9-13-5 4-8 10z"/><path class="j" d="M929 3028l8-14-4 3-9 13zm4-3l9-14-5 3-8 14z"/><path class="k" d="M938 3022l9-12-5 1-9 14zm4-1l10-10-5-1-9 12zm5 5l9-10-4-5-10 10zm5 9l10-10-6-9-9 10zm6 13l9-11-5-12-10 10zm5 13l9-11-5-13-9 11z"/><path class="j" d="M968 3073l9-12-5-11-9 11z"/><path class="i" d="M973 3082l9-12-5-9-9 12zm5 5l9-9-5-8-9 12z"/><path class="h" d="M983 3091l10-6-6-7-9 9zm5 5l10-3-5-8-10 6zm6 8l9-1-5-10-10 3zm5 13l9 0-5-14-9 1zm5 19l10-2-6-17-9 0z"/><path class="g" d="M1010 3155l9-3-5-18-10 2z"/><path class="f" d="M1015 3171l9-6-5-13-9 3z"/><path class="a" d="M1020 3181l10-8-6-8-9 6z"/><path class="b" d="M1026 3185l9-7-5-5-10 8z"/><path class="c" d="M1031 3188l10-5-6-5-9 7zm6 7l9-2-5-10-10 5zm5 12l9 1-5-15-9 2z"/><path class="d" d="M1047 3224l10 2-6-18-9-1zm6 17l9 1-5-16-10-2zm5 14l10-2-6-11-9-1zm6 7l9-5-5-4-10 2z"/><path class="e" d="M1069 3265l10-6-6-2-9 5zm6 7l10-4-6-9-10 6z"/><path class="m" d="M1081 3280l9-3-5-9-10 4z"/><path class="a" d="M894 3047l9 1-4 7-9-2z"/><path class="f" d="M898 3042l9-1-4 7-9-1zm4-2l9-4-4 5-9 1z"/><path class="g" d="M906 3041l9-8-4 3-9 4z"/><path class="h" d="M911 3042l9-11-5 2-9 8z"/><path class="i" d="M915 3042l9-12-4 1-9 11zm5-2l9-12-5 2-9 12z"/><path class="j" d="M924 3036l9-11-4 3-9 12zm5-5l9-9-5 3-9 11z"/><path class="k" d="M933 3028l9-7-4 1-9 9zm5 3l9-5-5-5-9 7zm5 10l9-6-5-9-9 5z"/><path class="j" d="M948 3055l10-7-6-13-9 6zm6 16l9-10-5-13-10 7z"/><path class="i" d="M959 3085l9-12-5-12-9 10zm5 10l9-13-5-9-9 12z"/><path class="h" d="M969 3101l9-14-5-5-9 13zm5 1l9-11-5-4-9 14zm5 1l9-7-5-5-9 11zm5 3l10-2-6-8-9 7zm5 9l10 2-5-13-10 2zm6 17l9 4-5-19-10-2z"/><path class="g" d="M1000 3153l10 2-6-19-9-4z"/><path class="f" d="M1006 3173l9-2-5-16-10-2z"/><path class="a" d="M1011 3188l9-7-5-10-9 2z"/><path class="b" d="M1016 3196l10-11-6-4-9 7z"/><path class="c" d="M1022 3200l9-12-5-3-10 11zm5 5l10-10-6-7-9 12zm5 7l10-5-5-12-10 10z"/><path class="d" d="M1038 3223l9 1-5-17-10 5zm5 14l10 4-6-17-9-1zm6 14l9 4-5-14-10-4zm5 10l10 1-6-7-9-4z"/><path class="e" d="M1060 3269l9-4-5-3-10-1zm5 7l10-4-6-7-9 4z"/><path class="m" d="M1071 3284l10-4-6-8-10 4z"/><path class="a" d="M885 3047l9 0-4 6-9-1z"/><path class="f" d="M889 3045l9-3-4 5-9 0zm4 0l9-5-4 2-9 3z"/><path class="g" d="M898 3047l8-6-4-1-9 5z"/><path class="h" d="M902 3050l9-8-5-1-8 6zm4 0l9-8-4 0-9 8z"/><path class="i" d="M911 3047l9-7-5 2-9 8zm4-4l9-7-4 4-9 7z"/><path class="j" d="M920 3037l9-6-5 5-9 7zm4-2l9-7-4 3-9 6zm5 2l9-6-5-3-9 7zm5 9l9-5-5-10-9 6zm5 14l9-5-5-14-9 5z"/><path class="i" d="M944 3077l10-6-6-16-9 5zm6 16l9-8-5-14-10 6z"/><path class="h" d="M955 3106l9-11-5-10-9 8zm5 7l9-12-5-6-9 11zm5 2l9-13-5-1-9 12zm5-2l9-10-5-1-9 13zm5-2l9-5-5-3-9 10zm5 4l9 0-5-9-9 5z"/><path class="g" d="M985 3128l10 4-6-17-9 0zm6 21l9 4-5-21-10-4z"/><path class="f" d="M996 3172l10 1-6-20-9-4z"/><path class="a" d="M1002 3192l9-4-5-15-10-1z"/><path class="b" d="M1007 3206l9-10-5-8-9 4z"/><path class="c" d="M1012 3214l10-14-6-4-9 10zm6 4l9-13-5-5-10 14zm5 2l9-8-5-7-9 13zm5 5l10-2-6-11-9 8z"/><path class="d" d="M1034 3233l9 4-5-14-10 2zm5 12l10 6-6-14-9-4zm6 13l9 3-5-10-10-6z"/><path class="e" d="M1050 3270l10-1-6-8-9-3zm6 10l9-4-5-7-10 1z"/><path class="m" d="M1061 3287l10-3-6-8-9 4z"/><path class="a" d="M876 3051l9-4-4 5-9 2z"/><path class="f" d="M880 3050l9-5-4 2-9 4zm4 0l9-5-4 0-9 5z"/><path class="g" d="M888 3051l10-4-5-2-9 5z"/><path class="h" d="M893 3051l9-1-4-3-10 4zm4-1l9 0-4 0-9 1z"/><path class="i" d="M901 3048l10-1-5 3-9 0zm5-3l9-2-4 4-10 1z"/><path class="j" d="M910 3043l10-6-5 6-9 2zm5 0l9-8-4 2-10 6zm5 3l9-9-5-2-9 8zm5 8l9-8-5-9-9 9z"/><path class="i" d="M930 3066l9-6-5-14-9 8zm5 15l9-4-5-17-9 6zm5 16l10-4-6-16-9 4z"/><path class="h" d="M945 3111l10-5-5-13-10 4zm6 10l9-8-5-7-10 5z"/><path class="g" d="M956 3126l9-11-5-2-9 8zm4-1l10-12-5 2-9 11zm5-3l10-11-5 2-10 12zm5 0l10-7-5-4-10 11zm6 8l9-2-5-13-10 7zm5 17l10 2-6-21-9 2z"/><path class="f" d="M987 3171l9 1-5-23-10-2z"/><path class="a" d="M992 3194l10-2-6-20-9-1z"/><path class="b" d="M997 3212l10-6-5-14-10 2z"/><path class="c" d="M1003 3223l9-9-5-8-10 6zm5 5l10-10-6-4-9 9zm5 0l10-8-5-2-10 10zm6 1l9-4-5-5-10 8z"/><path class="d" d="M1024 3233l10 0-6-8-9 4zm6 8l9 4-5-12-10 0zm5 14l10 3-6-13-9-4z"/><path class="e" d="M1041 3271l9-1-5-12-10-3zm5 12l10-3-6-10-9 1z"/><path class="m" d="M1052 3291l9-4-5-7-10 3z"/><path class="a" d="M867 3059l9-8-4 3-9 6z"/><path class="f" d="M871 3058l9-8-4 1-9 8zm4-3l9-5-4 0-9 8z"/><path class="g" d="M879 3051l9 0-4-1-9 5z"/><path class="h" d="M883 3047l10 4-5 0-9 0zm4-3l10 6-4 1-10-4z"/><path class="i" d="M892 3043l9 5-4 2-10-6zm4 1l10 1-5 3-9-5z"/><path class="j" d="M901 3048l9-5-4 2-10-1zm5 6l9-11-5 0-9 5z"/><path class="i" d="M911 3060l9-14-5-3-9 11zm5 7l9-13-5-8-9 14zm5 7l9-8-5-12-9 13zm5 10l9-3-5-15-9 8z"/><path class="h" d="M931 3096l9 1-5-16-9 3zm5 13l9 2-5-14-9-1z"/><path class="g" d="M941 3122l10-1-6-10-9-2zm5 9l10-5-5-5-10 1zm5 4l9-10-4 1-10 5zm5 0l9-13-5 3-9 10zm5 0l9-13-5 0-9 13zm5 5l10-10-6-8-9 13z"/><path class="f" d="M972 3153l9-6-5-17-10 10z"/><path class="a" d="M977 3172l10-1-6-24-9 6zm5 21l10 1-5-23-10 1z"/><path class="b" d="M988 3211l9 1-5-18-10-1z"/><path class="c" d="M993 3224l10-1-6-11-9-1zm6 6l9-2-5-5-10 1zm5 2l9-4-5 0-9 2zm5 1l10-4-6-1-9 4z"/><path class="d" d="M1015 3236l9-3-5-4-10 4zm5 7l10-2-6-8-9 3zm6 14l9-2-5-14-10 2z"/><path class="e" d="M1031 3273l10-2-6-16-9 2zm6 13l9-3-5-12-10 2z"/><path class="m" d="M1042 3294l10-3-6-8-9 3z"/><path class="a" d="M858 3067l9-8-4 1-9 8z"/><path class="f" d="M862 3065l9-7-4 1-9 8zm4-6l9-4-4 3-9 7z"/><path class="g" d="M870 3051l9 0-4 4-9 4z"/><path class="h" d="M874 3043l9 4-4 4-9 0z"/><path class="i" d="M878 3037l9 7-4 3-9-4zm4 0l10 6-5 1-9-7zm5 5l9 2-4-1-10-6z"/><path class="j" d="M892 3052l9-4-5-4-9-2zm5 12l9-10-5-6-9 4z"/><path class="i" d="M902 3074l9-14-5-6-9 10zm5 7l9-14-5-7-9 14zm4 4l10-11-5-7-9 14z"/><path class="h" d="M916 3089l10-5-5-10-10 11zm5 6l10 1-5-12-10 5z"/><path class="g" d="M926 3106l10 3-5-13-10-1zm5 13l10 3-5-13-10-3zm6 14l9-2-5-9-10-3zm5 11l9-9-5-4-9 2zm5 5l9-14-5 0-9 9zm5 3l9-17-5 0-9 14z"/><path class="f" d="M957 3156l9-16-5-5-9 17zm5 7l10-10-6-13-9 16z"/><path class="a" d="M967 3176l10-4-5-19-10 10z"/><path class="b" d="M973 3191l9 2-5-21-10 4zm5 15l10 5-6-18-9-2zm6 11l9 7-5-13-10-5z"/><path class="c" d="M989 3224l10 6-6-6-9-7zm5 5l10 3-5-2-10-6zm5 5l10-1-5-1-10-3zm6 7l10-5-6-3-10 1z"/><path class="d" d="M1010 3250l10-7-5-7-10 5zm6 13l10-6-6-14-10 7z"/><path class="e" d="M1021 3277l10-4-5-16-10 6zm6 13l10-4-6-13-10 4z"/><path class="m" d="M1032 3297l10-3-5-8-10 4z"/><path class="a" d="M849 3073l9-6-4 1-9 5zm4-2l9-6-4 2-9 6z"/><path class="f" d="M857 3064l9-5-4 6-9 6z"/><path class="g" d="M861 3054l9-3-4 8-9 5z"/><path class="h" d="M864 3044l10-1-4 8-9 3z"/><path class="i" d="M868 3036l10 1-4 6-10 1zm4 0l10 1-4 0-10-1zm5 7l10-1-5-5-10-1z"/><path class="j" d="M882 3057l10-5-5-10-10 1z"/><path class="i" d="M888 3073l9-9-5-12-10 5zm5 13l9-12-5-10-9 9zm5 9l9-14-5-7-9 12z"/><path class="h" d="M902 3097l9-12-4-4-9 14zm5 0l9-8-5-4-9 12zm5 2l9-4-5-6-9 8z"/><path class="g" d="M917 3106l9 0-5-11-9 4zm5 12l9 1-5-13-9 0zm5 16l10-1-6-14-9-1z"/><path class="f" d="M932 3149l10-5-5-11-10 1zm6 11l9-11-5-5-10 5zm5 7l9-15-5-3-9 11zm5 4l9-15-5-4-9 15zm5 5l9-13-5-7-9 15z"/><path class="a" d="M958 3183l9-7-5-13-9 13z"/><path class="b" d="M963 3192l10-1-6-15-9 7zm5 9l10 5-5-15-10 1zm6 7l10 9-6-11-10-5zm5 6l10 10-5-7-10-9zm5 7l10 8-5-5-10-10zm6 11l9 2-5-5-10-8z"/><path class="c" d="M995 3245l10-4-6-7-9-2zm6 12l9-7-5-9-10 4z"/><path class="d" d="M1006 3269l10-6-6-13-9 7zm6 13l9-5-5-14-10 6z"/><path class="e" d="M1017 3293l10-3-6-13-9 5z"/><path class="m" d="M1023 3301l9-4-5-7-10 3z"/><path class="a" d="M840 3075l9-2-4 0-9 2zm4 0l9-4-4 2-9 2z"/><path class="f" d="M848 3071l9-7-4 7-9 4z"/><path class="g" d="M852 3063l9-9-4 10-9 7z"/><path class="h" d="M855 3054l9-10-3 10-9 9zm4-8l9-10-4 8-9 10z"/><path class="i" d="M863 3043l9-7-4 0-9 10zm5 6l9-6-5-7-9 7zm5 12l9-4-5-14-9 6zm5 16l10-4-6-16-9 4zm6 16l9-7-5-13-10 4z"/><path class="h" d="M888 3103l10-8-5-9-9 7zm5 5l9-11-4-2-10 8zm5 1l9-12-5 0-9 11z"/><path class="g" d="M902 3109l10-10-5-2-9 12zm5 4l10-7-5-7-10 10z"/><path class="f" d="M912 3124l10-6-5-12-10 7zm6 14l9-4-5-16-10 6zm5 16l9-5-5-15-9 4zm5 13l10-7-6-11-9 5zm5 9l10-9-5-7-10 7zm5 5l10-10-5-4-10 9z"/><path class="a" d="M943 3186l10-10-5-5-10 10zm5 5l10-8-5-7-10 10z"/><path class="b" d="M953 3196l10-4-5-9-10 8zm6 5l9 0-5-9-10 4zm5 3l10 4-6-7-9 0z"/><path class="a" d="M969 3207l10 7-5-6-10-4zm5 8l10 6-5-7-10-7z"/><path class="b" d="M980 3230l10 2-6-11-10-6zm5 17l10-2-5-13-10-2z"/><path class="c" d="M991 3262l10-5-6-12-10 2z"/><path class="d" d="M996 3273l10-4-5-12-10 5zm6 12l10-3-6-13-10 4z"/><path class="e" d="M1007 3296l10-3-5-11-10 3z"/><path class="m" d="M1013 3304l10-3-6-8-10 3z"/><path class="b" d="M831 3076l9-1-4 0-9-1z"/><path class="a" d="M835 3078l9-3-4 0-9 1z"/><path class="f" d="M839 3079l9-8-4 4-9 3zm4-3l9-13-4 8-9 8z"/><path class="g" d="M847 3071l8-17-3 9-9 13z"/><path class="h" d="M851 3064l8-18-4 8-8 17zm4-5l8-16-4 3-8 18z"/><path class="i" d="M859 3061l9-12-5-6-8 16zm5 7l9-7-5-12-9 12zm5 13l9-4-5-16-9 7z"/><path class="h" d="M874 3096l10-3-6-16-9 4zm5 12l9-5-4-10-10 3z"/><path class="g" d="M884 3117l9-9-5-5-9 5zm5 5l9-13-5-1-9 9zm4 3l9-16-4 0-9 13z"/><path class="f" d="M898 3129l9-16-5-4-9 16zm5 7l9-12-5-11-9 16zm5 10l10-8-6-14-9 12zm5 12l10-4-5-16-10 8zm6 11l9-2-5-13-10 4zm5 9l9-2-5-9-9 2z"/><path class="a" d="M929 3186l9-5-5-5-9 2zm5 6l9-6-5-5-9 5z"/><path class="b" d="M939 3198l9-7-5-5-9 6zm5 6l9-8-5-5-9 7zm5 4l10-7-6-5-9 8zm5 2l10-6-5-3-10 7z"/><path class="a" d="M959 3212l10-5-5-3-10 6zm5 7l10-4-5-8-10 5zm6 15l10-4-6-15-10 4z"/><path class="b" d="M976 3250l9-3-5-17-10 4z"/><path class="c" d="M981 3264l10-2-6-15-9 3z"/><path class="d" d="M987 3275l9-2-5-11-10 2zm5 11l10-1-6-12-9 2z"/><path class="e" d="M998 3299l9-3-5-11-10 1z"/><path class="m" d="M1003 3308l10-4-6-8-9 3z"/><path class="b" d="M822 3079l9-3-4-2-9 2z"/><path class="a" d="M826 3083l9-5-4-2-9 3zm4 5l9-9-4-1-9 5z"/><path class="f" d="M835 3090l8-14-4 3-9 9z"/><path class="g" d="M839 3089l8-18-4 5-8 14zm4-4l8-21-4 7-8 18zm3-4l9-22-4 5-8 21z"/><path class="h" d="M851 3079l8-18-4-2-9 22zm4 2l9-13-5-7-8 18zm5 8l9-8-5-13-9 13z"/><path class="g" d="M865 3100l9-4-5-15-9 8zm5 13l9-5-5-12-9 4zm5 12l9-8-5-9-9 5z"/><path class="f" d="M880 3134l9-12-5-5-9 8zm5 7l8-16-4-3-9 12zm4 6l9-18-5-4-8 16zm5 6l9-17-5-7-9 18z"/><path class="a" d="M899 3159l9-13-5-10-9 17zm5 6l9-7-5-12-9 13zm5 7l10-3-6-11-9 7zm5 8l10-2-5-9-10 3zm5 8l10-2-5-8-10 2zm5 9l10-5-5-6-10 2z"/><path class="b" d="M929 3206l10-8-5-6-10 5zm5 9l10-11-5-6-10 8zm6 6l9-13-5-4-10 11zm5 3l9-14-5-2-9 13zm5 3l9-15-5-2-9 14z"/><path class="a" d="M955 3234l9-15-5-7-9 15z"/><path class="b" d="M960 3244l10-10-6-15-9 15zm6 12l10-6-6-16-10 10z"/><path class="c" d="M971 3266l10-2-5-14-10 6z"/><path class="d" d="M977 3276l10-1-6-11-10 2z"/><path class="e" d="M982 3288l10-2-5-11-10 1zm6 14l10-3-6-13-10 2z"/><path class="m" d="M993 3311l10-3-5-9-10 3z"/><path class="b" d="M813 3090l9-11-4-3-9 11zm5 4l8-11-4-4-9 11zm4 6l8-12-4-5-8 11z"/><path class="a" d="M826 3104l9-14-5-2-8 12zm4 2l9-17-4 1-9 14z"/><path class="f" d="M834 3107l9-22-4 4-9 17zm4-2l8-24-3 4-9 22zm4-1l9-25-5 2-8 24zm5 0l8-23-4-2-9 25zm4 4l9-19-5-8-8 23zm5 7l9-15-5-11-9 19zm5 11l9-13-5-13-9 15zm5 11l9-12-5-12-9 13zm5 11l9-14-5-9-9 12z"/><path class="a" d="M876 3158l9-17-5-7-9 14zm5 7l8-18-4-6-9 17zm4 5l9-17-5-6-8 18zm5 4l9-15-5-6-9 17zm5 4l9-13-5-6-9 15z"/><path class="b" d="M899 3182l10-10-5-7-9 13zm5 5l10-7-5-8-10 10zm5 8l10-7-5-8-10 7zm6 10l9-8-5-9-10 7zm5 11l9-10-5-9-9 8z"/><path class="c" d="M925 3226l9-11-5-9-9 10zm5 9l10-14-6-6-9 11zm5 6l10-17-5-3-10 14zm5 5l10-19-5-3-10 17z"/><path class="b" d="M946 3251l9-17-5-7-10 19z"/><path class="c" d="M951 3258l9-14-5-10-9 17zm5 7l10-9-6-12-9 14z"/><path class="d" d="M961 3272l10-6-5-10-10 9zm6 8l10-4-6-10-10 6z"/><path class="e" d="M972 3292l10-4-5-12-10 4zm6 14l10-4-6-14-10 4z"/><path class="m" d="M983 3315l10-4-5-9-10 4z"/><path class="c" d="M805 3109l8-19-4-3-8 19zm4 3l9-18-5-4-8 19zm5 3l8-15-4-6-9 18z"/><path class="b" d="M818 3119l8-15-4-4-8 15zm4 4l8-17-4-2-8 15zm4 4l8-20-4-1-8 17zm5 3l7-25-4 2-8 20z"/><path class="a" d="M835 3133l7-29-4 1-7 25zm4 3l8-32-5 0-7 29zm4 3l8-31-4-4-8 32zm5 5l8-29-5-7-8 31z"/><path class="b" d="M853 3150l8-24-5-11-8 29zm4 8l9-21-5-11-8 24zm5 8l9-18-5-11-9 21zm5 9l9-17-5-10-9 18zm5 7l9-17-5-7-9 17zm4 6l9-18-4-5-9 17zm5 5l9-19-5-4-9 18z"/><path class="c" d="M886 3196l9-18-5-4-9 19zm5 4l8-18-4-4-9 18zm4 6l9-19-5-5-8 18zm5 7l9-18-5-8-9 19zm5 8l10-16-6-10-9 18zm6 10l9-15-5-11-10 16z"/><path class="d" d="M916 3239l9-13-5-10-9 15zm5 8l9-12-5-9-9 13zm5 6l9-12-5-6-9 12zm5 6l9-13-5-5-9 12zm5 6l10-14-6-5-9 13zm5 6l10-13-5-7-10 14zm5 6l10-12-5-7-10 13zm6 6l9-11-5-7-10 12z"/><path class="e" d="M957 3290l10-10-6-8-9 11zm5 10l10-8-5-12-10 10zm6 10l10-4-6-14-10 8z"/><path class="m" d="M973 3318l10-3-5-9-10 4z"/><path class="d" d="M797 3126l8-17-4-3-8 16zm4 3l8-17-4-3-8 17zm5 4l8-18-5-3-8 17zm4 4l8-18-4-4-8 18zm4 4l8-18-4-4-8 18zm4 5l8-19-4-4-8 18zm5 6l8-22-5-3-8 19zm4 5l8-24-4-3-8 22zm4 5l8-26-4-3-8 24zm5 5l7-28-4-3-8 26zm4 4l8-27-5-5-7 28zm5 5l8-26-5-6-8 27zm4 5l8-23-4-8-8 26zm5 6l8-21-5-8-8 23zm4 6l9-18-5-9-8 21zm5 6l9-17-5-7-9 18zm5 6l8-17-4-6-9 17zm4 5l9-17-5-5-8 17zm5 6l9-20-5-3-9 17zm5 5l9-21-5-4-9 20zm5 6l8-21-4-6-9 21zm5 6l8-20-5-7-8 21zm4 6l9-18-5-8-8 20zm5 7l10-15-6-10-9 18z"/><path class="e" d="M906 3252l10-13-5-8-10 15zm5 6l10-11-5-8-10 13zm5 6l10-11-5-6-10 11zm5 6l10-11-5-6-10 11zm5 6l10-11-5-6-10 11zm6 6l9-11-5-6-10 11zm5 7l9-12-5-6-9 11zm5 6l10-12-6-6-9 12zm5 6l10-11-5-7-10 12zm5 7l10-8-5-10-10 11zm6 7l10-5-6-10-10 8z"/><path class="m" d="M963 3322l10-4-5-8-10 5z"/><path class="e" d="M789 3133l8-7-4-4-9 6zm4 5l8-9-4-3-8 7zm4 4l9-9-5-4-8 9zm4 5l9-10-4-4-9 9zm4 5l9-11-4-4-9 10zm5 5l8-11-4-5-9 11zm4 5l9-10-5-6-8 11zm4 5l9-10-4-5-9 10zm5 5l8-10-4-5-9 10zm4 6l9-11-5-5-8 10zm4 5l9-12-4-4-9 11zm5 5l9-12-5-5-9 12zm4 5l9-12-4-5-9 12zm5 5l9-11-5-6-9 12zm4 6l9-11-4-6-9 11zm5 5l9-10-5-6-9 11zm5 6l9-10-5-6-9 10zm4 5l9-10-4-5-9 10zm5 5l9-9-5-6-9 10zm5 6l9-10-5-5-9 9zm4 6l10-10-5-6-9 10zm5 5l10-9-5-6-10 10zm5 6l9-9-4-6-10 9zm5 6l9-8-5-7-9 9zm5 5l9-7-5-6-9 8zm5 6l9-7-5-6-9 7zm5 6l9-7-5-6-9 7zm5 6l9-7-5-6-9 7z"/><path class="m" d="M917 3283l9-7-5-6-9 7zm5 6l10-7-6-6-9 7zm5 6l10-6-5-7-10 7zm5 6l10-6-5-6-10 6zm5 6l10-6-5-6-10 6zm6 6l9-5-5-7-10 6zm5 6l10-4-6-7-9 5zm5 6l10-3-5-7-10 4z"/></g>
<path d="M198.8 817.77h-3.3M198.06 809.16h-3.3M197.3 800.33h-3.3M196.51 791.27h-3.3M195.71 781.97h-3.3M194.89 772.42h-3.3M194.04 762.62h-3.3M193.17 752.54h-3.3M192.27 742.19h-3.3M239.41 869.11l-2.3 1.9M234.66 863.05l-2.3 1.9M230.05 857.16l-2.3 1.9M225.56 851.43l-2.3 1.9M221.2 845.86l-2.3 1.9M216.95 840.43l-2.3 1.9M212.8 835.14l-2.3 1.9M208.77 829.99l-2.3 1.9M204.84 824.96l-2.3 1.9M201 820.07l-2.3 1.9M241.54 868.29l0.3 3M250.7 864.77l0.3 3M259.71 861.31l0.3 3M268.58 857.9l0.3 3M277.31 854.55l0.3 3M285.91 851.24l0.3 3M294.38 847.99l0.3 3M302.72 844.79l0.3 3M310.93 841.63l0.3 3M319.02 838.52l0.3 3" stroke="#333" stroke-width="0.5" fill="none"/>
<text x="193.2" y="819.67" font-size="5.4" text-anchor="end" fill="#222">−40</text>
<text x="192.46" y="811.06" font-size="5.4" text-anchor="end" fill="#222">−30</text>
<text x="191.7" y="802.23" font-size="5.4" text-anchor="end" fill="#222">−20</text>
<text x="190.91" y="793.17" font-size="5.4" text-anchor="end" fill="#222">−10</text>
<text x="190.11" y="783.87" font-size="5.4" text-anchor="end" fill="#222">0</text>
<text x="189.29" y="774.32" font-size="5.4" text-anchor="end" fill="#222">10</text>
<text x="188.44" y="764.52" font-size="5.4" text-anchor="end" fill="#222">20</text>
<text x="187.57" y="754.44" font-size="5.4" text-anchor="end" fill="#222">30</text>
<text x="186.67" y="744.09" font-size="5.4" text-anchor="end" fill="#222">40</text>
<text x="235.41" y="877.71" font-size="4.4" text-anchor="middle" fill="#222">0</text>
<text x="230.26" y="868.2" font-size="4.2" text-anchor="end" fill="#222">19.53125</text>
<text x="225.65" y="862.46" font-size="4.2" text-anchor="end" fill="#222">39.0625</text>
<text x="221.16" y="856.88" font-size="4.2" text-anchor="end" fill="#222">78.125</text>
<text x="216.8" y="851.46" font-size="4.2" text-anchor="end" fill="#222">156.25</text>
<text x="212.55" y="846.18" font-size="4.2" text-anchor="end" fill="#222">312.5</text>
<text x="208.4" y="841.04" font-size="4.2" text-anchor="end" fill="#222">625</text>
<text x="204.37" y="836.04" font-size="4.2" text-anchor="end" fill="#222">1,250</text>
<text x="200.44" y="831.16" font-size="4.2" text-anchor="end" fill="#222">2,500</text>
<text x="196.6" y="826.42" font-size="4.2" text-anchor="end" fill="#222">5,000</text>
<text x="241.84" y="877.89" font-size="4.4" text-anchor="middle" fill="#222">0</text>
<text x="250.7" y="873.22" font-size="4.2" fill="#222">19.53125</text>
<text x="259.71" y="869.61" font-size="4.2" fill="#222">39.0625</text>
<text x="268.58" y="866.05" font-size="4.2" fill="#222">78.125</text>
<text x="277.31" y="862.55" font-size="4.2" fill="#222">156.25</text>
<text x="285.91" y="859.09" font-size="4.2" fill="#222">312.5</text>
<text x="294.38" y="855.69" font-size="4.2" fill="#222">625</text>
<text x="302.72" y="852.34" font-size="4.2" fill="#222">1,250</text>
<text x="310.93" y="849.03" font-size="4.2" fill="#222">2,500</text>
<text x="319.02" y="845.77" font-size="4.2" fill="#222">5,000</text>
<text transform="translate(179.11 782.47) rotate(-86)" font-size="7.6" font-weight="bold" text-anchor="middle">Synergy score</text>
<text transform="translate(193.49 851.72) rotate(55)" font-size="7.9" font-weight="bold" text-anchor="middle">Ribociclib (nM)</text>
<text transform="translate(293.2 874.9) rotate(-21.5)" font-size="7.7" font-weight="bold" text-anchor="middle">BLU-222 (nM)</text>
<text x="264.2" y="687.8" font-size="9.5" font-weight="bold" text-anchor="middle">Ribociclib<tspan font-size="5.8" dy="-3.6">R</tspan></text>
<text x="264.2" y="701.4" font-size="7.6" text-anchor="middle" fill="#222">MSA score: 21.1</text>
<text x="264.2" y="709.9" font-size="7.6" text-anchor="middle" fill="#222">Mean synergy: 8.9</text>
<g stroke="#333" stroke-width="0.5"><line x1="377.04" y1="740.61" x2="460.48" y2="718.56"/><line x1="460.48" y1="718.56" x2="514.13" y2="759.61"/><line x1="377.04" y1="740.61" x2="383.74" y2="818.32"/><line x1="514.13" y1="759.61" x2="506.74" y2="839.65"/><line x1="383.74" y1="818.32" x2="425" y2="871.11"/><line x1="425" y1="871.11" x2="506.74" y2="839.65"/><line x1="377.04" y1="740.61" x2="422.56" y2="788.41"/><line x1="514.13" y1="759.61" x2="422.56" y2="788.41"/><line x1="422.56" y1="788.41" x2="425" y2="871.11"/><line x1="460.48" y1="718.56" x2="458.95" y2="793.58" stroke-dasharray="1 1.2"/><line x1="383.74" y1="818.32" x2="458.95" y2="793.58" stroke-dasharray="1 1.2"/><line x1="458.95" y1="793.58" x2="506.74" y2="839.65" stroke-dasharray="1 1.2"/></g>
<g transform="scale(0.25)" stroke="#000" stroke-width="1.68" stroke-linejoin="round"><path class="d" d="M1836 3031l8 2-5-8-8-1zm5 2l8 4-5-4-8-2zm5 1l8 2-5 1-8-4zm5 1l8-2-5 3-8-2zm5 4l9-6-6 0-8 2zm5 7l9-9-5-4-9 6zm5 8l9-11-5-6-9 9zm5 6l9-10-5-7-9 11zm6 2l8-7-5-5-9 10zm5 1l9-2-6-6-8 7zm5 4l9 1-5-7-9 2zm6 9l8 2-5-10-9-1z"/><path class="e" d="M1898 3088l8 1-5-11-8-2zm5 13l8-2-5-10-8-1zm5 9l9-4-6-7-8 2zm6 4l8-7-5-1-9 4zm5 1l9-10-6 2-8 7zm6-1l9-11-6 2-9 10z"/><path class="m" d="M1931 3117l9-13-6-1-9 11zm5 5l10-12-6-6-9 13zm6 8l9-12-5-8-10 12zm6 8l9-11-6-9-9 12z"/><path class="e" d="M1953 3144l9-10-5-7-9 11zm6 5l9-9-6-6-9 10zm6 3l9-9-6-3-9 9zm6 1l9-8-6-2-9 9z"/><path class="d" d="M1977 3153l9-6-6-2-9 8zm7-1l9-3-7-2-9 6zm6 1l9 0-6-4-9 3zm6 3l9 4-6-7-9 0zm6 9l9 4-6-9-9-4zm6 12l8 2-5-10-9-4zm6 11l8-1-6-8-8-2zm6 9l9-5-7-5-8 1z"/><path class="e" d="M2026 3203l9-4-6-7-9 5z"/><path class="m" d="M2032 3211l9-4-6-8-9 4z"/><path class="d" d="M1827 3027l9 4-5-7-9-2zm5 3l9 3-5-2-9-4zm5 4l9 0-5-1-9-3zm6 4l8-3-5-1-9 0zm5 7l8-6-5-4-8 3zm5 9l8-8-5-7-8 6zm5 8l8-8-5-8-8 8zm5 6l8-8-5-6-8 8zm5 1l9-7-6-2-8 8zm6 1l8-7-5-1-9 7zm5 2l8-5-5-4-8 7z"/><path class="e" d="M1884 3078l9-2-6-9-8 5zm5 10l9 0-5-12-9 2zm6 11l8 2-5-13-9 0z"/><path class="m" d="M1900 3111l8-1-5-9-8-2z"/><path class="n" d="M1905 3119l9-5-6-4-8 1zm5 6l9-10-5-1-9 5zm6 5l9-16-6 1-9 10z"/><path class="o" d="M1921 3135l10-18-6-3-9 16zm6 6l9-19-5-5-10 18zm6 6l9-17-6-8-9 19z"/><path class="n" d="M1938 3152l10-14-6-8-9 17zm6 5l9-13-5-6-10 14zm6 2l9-10-6-5-9 13z"/><path class="m" d="M1956 3161l9-9-6-3-9 10z"/><path class="e" d="M1962 3160l9-7-6-1-9 9zm6-2l9-5-6 0-9 7z"/><path class="d" d="M1975 3155l9-3-7 1-9 5zm6-1l9-1-6-1-9 3zm7 2l8 0-6-3-9 1zm6 7l8 2-6-9-8 0zm5 11l9 3-6-12-8-2zm6 13l9 1-6-11-9-3zm6 11l9-1-6-9-9-1z"/><path class="e" d="M2017 3207l9-4-6-6-9 1z"/><path class="m" d="M2023 3214l9-3-6-8-9 4z"/><path class="d" d="M1819 3025l8 2-5-5-8-1zm5 5l8 0-5-3-8-2zm5 5l8-1-5-4-8 0zm5 7l9-4-6-4-8 1zm5 8l9-5-5-7-9 4zm5 8l9-4-5-9-9 5zm5 7l9-3-5-8-9 4zm5 6l9-3-5-6-9 3zm6 4l8-6-5-1-9 3zm5 3l9-8-6-1-8 6z"/><path class="e" d="M1870 3080l9-8-5-2-9 8zm6 4l8-6-5-6-9 8zm5 6l8-2-5-10-8 6z"/><path class="n" d="M1886 3099l9 0-6-11-8 2zm5 11l9 1-5-12-9 0z"/><path class="o" d="M1896 3124l9-5-5-8-9-1zm5 12l9-11-5-6-9 5z"/><path class="p" d="M1907 3148l9-18-6-5-9 11z"/><path class="t" d="M1912 3156l9-21-5-5-9 18zm6 5l9-20-6-6-9 21zm5 4l10-18-6-6-9 20z"/><path class="p" d="M1929 3167l9-15-5-5-10 18zm6 1l9-11-6-5-9 15z"/><path class="o" d="M1941 3168l9-9-6-2-9 11zm6 0l9-7-6-2-9 9z"/><path class="n" d="M1953 3166l9-6-6 1-9 7z"/><path class="e" d="M1960 3163l8-5-6 2-9 6zm6-3l9-5-7 3-8 5z"/><path class="d" d="M1972 3159l9-5-6 1-9 5zm7 1l9-4-7-2-9 5zm6 5l9-2-6-7-9 4zm6 8l8 1-5-11-9 2zm6 11l8 3-6-13-8-1zm5 14l9 0-6-11-8-3z"/><path class="e" d="M2008 3209l9-2-6-9-9 0z"/><path class="m" d="M2014 3217l9-3-6-7-9 2z"/><path class="d" d="M1811 3026l8-1-5-4-8 3zm5 4l8 0-5-5-8 1zm5 7l8-2-5-5-8 0zm5 7l8-2-5-7-8 2zm5 7l8-1-5-8-8 2zm5 6l8 1-5-8-8 1zm5 5l8 3-5-7-8-1zm5 7l8 2-5-6-8-3zm5 7l9-1-6-4-8-2zm5 7l9-5-5-3-9 1z"/><path class="e" d="M1861 3088l9-8-5-2-9 5zm6 3l9-7-6-4-9 8z"/><path class="m" d="M1872 3095l9-5-5-6-9 7z"/><path class="n" d="M1877 3101l9-2-5-9-9 5z"/><path class="o" d="M1883 3113l8-3-5-11-9 2z"/><path class="p" d="M1888 3130l8-6-5-14-8 3z"/><path class="t" d="M1893 3147l8-11-5-12-8 6z"/><path class="q" d="M1898 3162l9-14-6-12-8 11zm5 10l9-16-5-8-9 14z"/><path class="r" d="M1908 3176l10-15-6-5-9 16zm6 1l9-12-5-4-10 15z"/><path class="q" d="M1920 3176l9-9-6-2-9 12zm6 0l9-8-6-1-9 9z"/><path class="t" d="M1932 3175l9-7-6 0-9 8z"/><path class="p" d="M1938 3174l9-6-6 0-9 7z"/><path class="o" d="M1944 3172l9-6-6 2-9 6z"/><path class="m" d="M1950 3169l10-6-7 3-9 6z"/><path class="e" d="M1957 3167l9-7-6 3-10 6z"/><path class="d" d="M1963 3166l9-7-6 1-9 7zm6 1l10-7-7-1-9 7zm7 3l9-5-6-5-10 7zm6 4l9-1-6-8-9 5zm6 8l9 2-6-11-9 1zm6 14l8 2-5-14-9-2z"/><path class="e" d="M1999 3212l9-3-6-11-8-2z"/><path class="m" d="M2005 3220l9-3-6-8-9 3z"/><path class="d" d="M1802 3028l9-2-5-2-9 4zm5 2l9 0-5-4-9 2zm5 6l9 1-5-7-9 0zm5 8l9 0-5-7-9-1z"/><path class="c" d="M1822 3049l9 2-5-7-9 0zm5 4l9 4-5-6-9-2zm5 4l9 5-5-5-9-4z"/><path class="d" d="M1838 3064l8 5-5-7-9-5zm5 9l8 3-5-7-8-5zm5 10l8 0-5-7-8-3z"/><path class="e" d="M1853 3091l8-3-5-5-8 0zm5 6l9-6-6-3-8 3z"/><path class="n" d="M1863 3101l9-6-5-4-9 6z"/><path class="o" d="M1869 3108l8-7-5-6-9 6z"/><path class="p" d="M1874 3120l9-7-6-12-8 7z"/><path class="t" d="M1879 3137l9-7-5-17-9 7z"/><path class="q" d="M1884 3156l9-9-5-17-9 7z"/><path class="r" d="M1889 3171l9-9-5-15-9 9zm5 9l9-8-5-10-9 9z"/><path class="s" d="M1900 3183l8-7-5-4-9 8z"/><path class="r" d="M1905 3181l9-4-6-1-8 7zm6-2l9-3-6 1-9 4zm6 0l9-3-6 0-9 3z"/><path class="q" d="M1923 3179l9-4-6 1-9 3z"/><path class="t" d="M1929 3179l9-5-6 1-9 4z"/><path class="o" d="M1935 3178l9-6-6 2-9 5z"/><path class="n" d="M1941 3176l9-7-6 3-9 6z"/><path class="e" d="M1948 3174l9-7-7 2-9 7z"/><path class="d" d="M1954 3173l9-7-6 1-9 7zm6 0l9-6-6-1-9 7z"/><path class="c" d="M1967 3174l9-4-7-3-9 6z"/><path class="d" d="M1973 3176l9-2-6-4-9 4zm6 6l9 0-6-8-9 2zm6 15l9-1-6-14-9 0z"/><path class="e" d="M1990 3214l9-2-5-16-9 1z"/><path class="m" d="M1996 3223l9-3-6-8-9 2z"/><path class="d" d="M1794 3029l8-1-5 0-8 5zm5 1l8 0-5-2-8 1z"/><path class="c" d="M1804 3034l8 2-5-6-8 0zm5 6l8 4-5-8-8-2zm5 6l8 3-5-5-8-4zm5 4l8 3-5-4-8-3zm5 3l8 4-5-4-8-3zm5 5l9 6-6-7-8-4zm5 8l9 7-5-9-9-6z"/><path class="d" d="M1839 3076l9 7-5-10-9-7zm5 11l9 4-5-8-9-7z"/><path class="e" d="M1850 3097l8 0-5-6-9-4z"/><path class="m" d="M1855 3105l8-4-5-4-8 0z"/><path class="n" d="M1860 3115l9-7-6-7-8 4z"/><path class="p" d="M1865 3128l9-8-5-12-9 7z"/><path class="q" d="M1870 3143l9-6-5-17-9 8zm5 16l9-3-5-19-9 6z"/><path class="r" d="M1880 3171l9 0-5-15-9 3z"/><path class="s" d="M1886 3178l8 2-5-9-9 0zm5 2l9 3-6-3-8-2zm6-1l8 2-5 2-9-3zm6-1l8 1-6 2-8-2z"/><path class="r" d="M1909 3178l8 1-6 0-8-1z"/><path class="q" d="M1914 3179l9 0-6 0-8-1z"/><path class="t" d="M1920 3181l9-2-6 0-9 0z"/><path class="o" d="M1926 3182l9-4-6 1-9 2z"/><path class="n" d="M1932 3180l9-4-6 2-9 4z"/><path class="e" d="M1939 3178l9-4-7 2-9 4z"/><path class="d" d="M1945 3175l9-2-6 1-9 4z"/><path class="c" d="M1951 3174l9-1-6 0-9 2zm7 1l9-1-7-1-9 1zm6 3l9-2-6-2-9 1z"/><path class="d" d="M1970 3186l9-4-6-6-9 2zm5 15l10-4-6-15-9 4z"/><path class="e" d="M1981 3217l9-3-5-17-10 4z"/><path class="m" d="M1987 3226l9-3-6-9-9 3z"/><path class="d" d="M1785 3031l9-2-5 4-9 3z"/><path class="c" d="M1790 3029l9 1-5-1-9 2zm5 2l9 3-5-4-9-1zm5 5l9 4-5-6-9-3zm5 6l9 4-5-6-9-4z"/><path class="b" d="M1810 3046l9 4-5-4-9-4zm5 3l9 4-5-3-9-4zm6 3l8 6-5-5-9-4z"/><path class="c" d="M1826 3057l8 9-5-8-8-6zm5 9l8 10-5-10-8-9zm5 11l8 10-5-11-8-10z"/><path class="d" d="M1841 3088l9 9-6-10-8-10z"/><path class="e" d="M1846 3099l9 6-5-8-9-9zm5 13l9 3-5-10-9-6z"/><path class="n" d="M1856 3127l9 1-5-13-9-3z"/><path class="p" d="M1862 3142l8 1-5-15-9-1z"/><path class="q" d="M1867 3154l8 5-5-16-8-1z"/><path class="r" d="M1872 3163l8 8-5-12-8-5zm5 7l9 8-6-7-8-8zm6 3l8 7-5-2-9-8zm5 1l9 5-6 1-8-7zm6 0l9 4-6 1-9-5zm6 1l9 3-6 0-9-4z"/><path class="q" d="M1906 3176l8 3-5-1-9-3z"/><path class="t" d="M1912 3179l8 2-6-2-8-3z"/><path class="o" d="M1918 3181l8 1-6-1-8-2z"/><path class="m" d="M1924 3180l8 0-6 2-8-1z"/><path class="d" d="M1930 3177l9 1-7 2-8 0z"/><path class="c" d="M1936 3173l9 2-6 3-9-1zm7-2l8 3-6 1-9-2zm6 2l9 2-7-1-8-3zm6 7l9-2-6-3-9-2z"/><path class="d" d="M1961 3192l9-6-6-8-9 2zm5 16l9-7-5-15-9 6z"/><path class="e" d="M1972 3221l9-4-6-16-9 7z"/><path class="m" d="M1978 3230l9-4-6-9-9 4z"/><path class="c" d="M1777 3033l8-2-5 5-8 0zm5-3l8-1-5 2-8 2zm5-1l8 2-5-2-8 1z"/><path class="b" d="M1792 3032l8 4-5-5-8-2zm5 4l8 6-5-6-8-4zm5 5l8 5-5-4-8-6z"/><path class="a" d="M1807 3043l8 6-5-3-8-5zm5 2l9 7-6-3-8-6z"/><path class="b" d="M1817 3048l9 9-5-5-9-7zm5 7l9 11-5-9-9-9zm6 8l8 14-5-11-9-11zm5 6l8 19-5-11-8-14zm5 5l8 25-5-11-8-19z"/><path class="c" d="M1843 3086l8 26-5-13-8-25z"/><path class="d" d="M1848 3108l8 19-5-15-8-26z"/><path class="m" d="M1853 3129l9 13-6-15-8-19z"/><path class="o" d="M1858 3142l9 12-5-12-9-13z"/><path class="t" d="M1864 3151l8 12-5-9-9-12z"/><path class="q" d="M1869 3160l8 10-5-7-8-12zm5 7l9 6-6-3-8-10zm6 4l8 3-5-1-9-6zm6 1l8 2-6 0-8-3zm5 0l9 3-6-1-8-2z"/><path class="t" d="M1897 3172l9 4-6-1-9-3z"/><path class="o" d="M1903 3173l9 6-6-3-9-4z"/><path class="n" d="M1909 3175l9 6-6-2-9-6z"/><path class="e" d="M1915 3175l9 5-6 1-9-6z"/><path class="d" d="M1921 3172l9 5-6 3-9-5z"/><path class="c" d="M1928 3168l8 5-6 4-9-5z"/><path class="b" d="M1934 3167l9 4-7 2-8-5zm6 4l9 2-6-2-9-4z"/><path class="c" d="M1946 3183l9-3-6-7-9-2zm5 16l10-7-6-12-9 3z"/><path class="d" d="M1957 3214l9-6-5-16-10 7z"/><path class="e" d="M1962 3225l10-4-6-13-9 6z"/><path class="m" d="M1969 3233l9-3-6-9-10 4z"/><path class="c" d="M1768 3035l9-2-5 3-9-1zm5-2l9-3-5 3-9 2z"/><path class="b" d="M1778 3031l9-2-5 1-9 3zm5-1l9 2-5-3-9 2z"/><path class="a" d="M1788 3030l9 6-5-4-9-2zm5 2l9 9-5-5-9-6zm5 2l9 9-5-2-9-9z"/><path class="f" d="M1803 3036l9 9-5-2-9-9z"/><path class="a" d="M1809 3039l8 9-5-3-9-9zm5 6l8 10-5-7-8-9zm5 7l9 11-6-8-8-10zm5 1l9 16-5-6-9-11z"/><path class="f" d="M1830 3051l8 23-5-5-9-16zm5 11l8 24-5-12-8-23z"/><path class="a" d="M1840 3088l8 20-5-22-8-24z"/><path class="c" d="M1845 3113l8 16-5-21-8-20z"/><path class="m" d="M1850 3128l8 14-5-13-8-16z"/><path class="o" d="M1855 3139l9 12-6-9-8-14zm6 12l8 9-5-9-9-12z"/><path class="p" d="M1866 3162l8 5-5-7-8-9zm5 8l9 1-6-4-8-5zm6 2l9 0-6-1-9-1z"/><path class="o" d="M1883 3170l8 2-5 0-9 0zm6-3l8 5-6 0-8-2z"/><path class="n" d="M1895 3166l8 7-6-1-8-5z"/><path class="e" d="M1900 3166l9 9-6-2-8-7z"/><path class="d" d="M1906 3167l9 8-6 0-9-9z"/><path class="c" d="M1913 3165l8 7-6 3-9-8z"/><path class="b" d="M1919 3163l9 5-7 4-8-7zm6 0l9 4-6 1-9-5zm6 8l9 0-6-4-9-4zm6 14l9-2-6-12-9 0z"/><path class="c" d="M1942 3203l9-4-5-16-9 2z"/><path class="d" d="M1947 3219l10-5-6-15-9 4z"/><path class="e" d="M1953 3229l9-4-5-11-10 5z"/><path class="m" d="M1959 3236l10-3-7-8-9 4z"/><path class="c" d="M1760 3037l8-2-5 0-8-2z"/><path class="b" d="M1764 3037l9-4-5 2-8 2zm5-4l9-2-5 2-9 4z"/><path class="a" d="M1774 3028l9 2-5 1-9 2z"/><path class="f" d="M1779 3024l9 6-5 0-9-2zm5-2l9 10-5-2-9-6zm5 0l9 12-5-2-9-10z"/><path class="g" d="M1795 3024l8 12-5-2-9-12zm5 6l9 9-6-3-8-12z"/><path class="f" d="M1805 3040l9 5-5-6-9-9zm5 11l9 1-5-7-9-5zm5 7l9-5-5-1-9-1z"/><path class="g" d="M1821 3062l9-11-6 2-9 5zm5 10l9-10-5-11-9 11z"/><path class="f" d="M1831 3090l9-2-5-26-9 10z"/><path class="b" d="M1836 3107l9 6-5-25-9 2z"/><path class="d" d="M1841 3119l9 9-5-15-9-6z"/><path class="m" d="M1847 3130l8 9-5-11-9-9z"/><path class="n" d="M1852 3145l9 6-6-12-8-9zm5 14l9 3-5-11-9-6zm5 10l9 1-5-8-9-3zm6 3l9 0-6-2-9-1zm6-3l9 1-6 2-9 0z"/><path class="m" d="M1880 3164l9 3-6 3-9-1z"/><path class="e" d="M1886 3161l9 5-6 1-9-3zm6-2l8 7-5 0-9-5z"/><path class="d" d="M1898 3159l8 8-6-1-8-7z"/><path class="b" d="M1904 3158l9 7-7 2-8-8zm6 0l9 5-6 2-9-7z"/><path class="a" d="M1916 3162l9 1-6 0-9-5zm6 11l9-2-6-8-9-1z"/><path class="b" d="M1927 3188l10-3-6-14-9 2z"/><path class="c" d="M1933 3206l9-3-5-18-10 3z"/><path class="d" d="M1938 3221l9-2-5-16-9 3z"/><path class="e" d="M1944 3232l9-3-6-10-9 2z"/><path class="m" d="M1950 3239l9-3-6-7-9 3z"/><path class="c" d="M1751 3038l9-1-5-4-9 0z"/><path class="b" d="M1756 3039l8-2-4 0-9 1z"/><path class="a" d="M1761 3035l8-2-5 4-8 2z"/><path class="f" d="M1766 3027l8 1-5 5-8 2zm4-9l9 6-5 4-8-1z"/><path class="g" d="M1776 3011l8 11-5 2-9-6zm5-2l8 13-5 0-8-11z"/><path class="h" d="M1786 3012l9 12-6-2-8-13zm5 9l9 9-5-6-9-12z"/><path class="g" d="M1796 3035l9 5-5-10-9-9zm5 17l9-1-5-11-9-5zm5 15l9-9-5-7-9 1z"/><path class="f" d="M1812 3079l9-17-6-4-9 9zm5 11l9-18-5-10-9 17z"/><path class="a" d="M1822 3100l9-10-5-18-9 18z"/><path class="c" d="M1827 3109l9-2-5-17-9 10z"/><path class="d" d="M1833 3117l8 2-5-12-9 2z"/><path class="e" d="M1838 3128l9 2-6-11-8-2zm5 13l9 4-5-15-9-2zm5 13l9 5-5-14-9-4zm6 10l8 5-5-10-9-5zm5 5l9 3-6-3-8-5zm6 0l9 0-6 3-9-3zm6-3l9-2-6 5-9 0zm6-4l9-1-6 3-9 2z"/><path class="d" d="M1883 3158l9 1-6 2-9 1z"/><path class="c" d="M1889 3154l9 5-6 0-9-1z"/><path class="b" d="M1895 3153l9 5-6 1-9-5z"/><path class="a" d="M1901 3155l9 3-6 0-9-5zm6 7l9 0-6-4-9-3zm6 14l9-3-6-11-9 0z"/><path class="b" d="M1918 3192l9-4-5-15-9 3z"/><path class="c" d="M1924 3208l9-2-6-18-9 4z"/><path class="d" d="M1929 3222l9-1-5-15-9 2z"/><path class="e" d="M1935 3234l9-2-6-11-9 1z"/><path class="m" d="M1941 3243l9-4-6-7-9 2z"/><path class="b" d="M1742 3037l9 1-5-5-9 0zm5 1l9 1-5-1-9-1z"/><path class="a" d="M1752 3034l9 1-5 4-9-1z"/><path class="f" d="M1757 3025l9 2-5 8-9-1z"/><path class="g" d="M1762 3014l8 4-4 9-9-2z"/><path class="h" d="M1767 3004l9 7-6 7-8-4zm5-4l9 9-5 2-9-7z"/><path class="i" d="M1777 3003l9 9-5-3-9-9zm5 11l9 7-5-9-9-9z"/><path class="h" d="M1787 3031l9 4-5-14-9-7zm5 18l9 3-5-17-9-4z"/><path class="g" d="M1797 3067l9 0-5-15-9-3z"/><path class="f" d="M1803 3081l9-2-6-12-9 0z"/><path class="a" d="M1808 3094l9-4-5-11-9 2z"/><path class="b" d="M1813 3105l9-5-5-10-9 4z"/><path class="c" d="M1818 3114l9-5-5-9-9 5z"/><path class="d" d="M1824 3123l9-6-6-8-9 5zm5 8l9-3-5-11-9 6z"/><path class="e" d="M1834 3139l9 2-5-13-9 3zm6 9l8 6-5-13-9-2zm5 9l9 7-6-10-8-6zm5 7l9 5-5-5-9-7zm6 6l9-1-6 0-9-5zm6 2l9-6-6 3-9 1z"/><path class="d" d="M1867 3169l10-7-6 4-9 6zm7-7l9-4-6 4-10 7z"/><path class="c" d="M1880 3155l9-1-6 4-9 4z"/><path class="b" d="M1886 3149l9 4-6 1-9 1z"/><path class="a" d="M1892 3151l9 4-6-2-9-4z"/><path class="f" d="M1898 3162l9 0-6-7-9-4z"/><path class="a" d="M1903 3178l10-2-6-14-9 0zm6 17l9-3-5-16-10 2z"/><path class="c" d="M1914 3210l10-2-6-16-9 3z"/><path class="d" d="M1920 3223l9-1-5-14-10 2z"/><path class="e" d="M1926 3236l9-2-6-12-9 1z"/><path class="m" d="M1931 3246l10-3-6-9-9 2z"/><path class="b" d="M1733 3035l9 2-5-4-8 1z"/><path class="a" d="M1738 3034l9 4-5-1-9-2z"/><path class="f" d="M1743 3031l9 3-5 4-9-4z"/><path class="g" d="M1748 3023l9 2-5 9-9-3z"/><path class="h" d="M1753 3013l9 1-5 11-9-2zm5-10l9 1-5 10-9-1z"/><path class="i" d="M1763 2997l9 3-5 4-9-1zm5 3l9 3-5-3-9-3zm5 11l9 3-5-11-9-3zm5 16l9 4-5-17-9-3z"/><path class="h" d="M1783 3045l9 4-5-18-9-4z"/><path class="g" d="M1788 3062l9 5-5-18-9-4z"/><path class="f" d="M1794 3078l9 3-6-14-9-5z"/><path class="a" d="M1799 3094l9 0-5-13-9-3z"/><path class="b" d="M1804 3109l9-4-5-11-9 0z"/><path class="c" d="M1809 3123l9-9-5-9-9 4z"/><path class="d" d="M1814 3134l10-11-6-9-9 9zm6 6l9-9-5-8-10 11zm5 2l9-3-5-8-9 9z"/><path class="e" d="M1831 3145l9 3-6-9-9 3zm5 6l9 6-5-9-9-3zm5 10l9 3-5-7-9-6zm6 11l9-2-6-6-9-3z"/><path class="d" d="M1852 3180l10-8-6-2-9 2zm6-1l9-10-5 3-10 8z"/><path class="c" d="M1864 3171l10-9-7 7-9 10z"/><path class="b" d="M1870 3158l10-3-6 7-10 9z"/><path class="a" d="M1877 3148l9 1-6 6-10 3z"/><path class="f" d="M1883 3148l9 3-6-2-9-1zm6 11l9 3-6-11-9-3zm5 18l9 1-5-16-9-3z"/><path class="a" d="M1899 3196l10-1-6-17-9-1z"/><path class="b" d="M1905 3212l9-2-5-15-10 1z"/><path class="d" d="M1911 3225l9-2-6-13-9 2z"/><path class="e" d="M1916 3239l10-3-6-13-9 2z"/><path class="m" d="M1922 3249l9-3-5-10-10 3z"/><path class="b" d="M1725 3033l8 2-4-1-9 2z"/><path class="a" d="M1729 3031l9 3-5 1-8-2z"/><path class="f" d="M1734 3028l9 3-5 3-9-3z"/><path class="g" d="M1739 3022l9 1-5 8-9-3z"/><path class="h" d="M1744 3014l9-1-5 10-9-1z"/><path class="i" d="M1749 3006l9-3-5 10-9 1z"/><path class="j" d="M1754 3002l9-5-5 6-9 3zm5 3l9-5-5-3-9 5zm5 9l9-3-5-11-9 5z"/><path class="i" d="M1769 3027l9 0-5-16-9 3zm5 15l9 3-5-18-9 0z"/><path class="h" d="M1779 3058l9 4-5-17-9-3z"/><path class="f" d="M1785 3075l9 3-6-16-9-4z"/><path class="a" d="M1790 3095l9-1-5-16-9-3z"/><path class="b" d="M1795 3116l9-7-5-15-9 1z"/><path class="c" d="M1800 3135l9-12-5-14-9 7z"/><path class="d" d="M1805 3148l9-14-5-11-9 12z"/><path class="e" d="M1811 3153l9-13-6-6-9 14zm5-1l9-10-5-2-9 13zm5-2l10-5-6-3-9 10zm6 4l9-3-5-6-10 5zm5 9l9-2-5-10-9 3zm6 14l9-5-6-11-9 2z"/><path class="d" d="M1843 3187l9-7-5-8-9 5zm6 1l9-9-6 1-9 7z"/><path class="c" d="M1855 3178l9-7-6 8-9 9z"/><path class="b" d="M1861 3162l9-4-6 13-9 7z"/><path class="a" d="M1867 3149l10-1-7 10-9 4z"/><path class="f" d="M1874 3146l9 2-6 0-10 1zm5 11l10 2-6-11-9-2zm6 19l9 1-5-18-10-2z"/><path class="a" d="M1890 3196l9 0-5-19-9-1z"/><path class="b" d="M1896 3213l9-1-6-16-9 0z"/><path class="d" d="M1901 3228l10-3-6-13-9 1z"/><path class="e" d="M1907 3243l9-4-5-14-10 3z"/><path class="m" d="M1913 3253l9-4-6-10-9 4z"/><path class="b" d="M1716 3035l9-2-5 3-9 2z"/><path class="a" d="M1720 3031l9 0-4 2-9 2z"/><path class="f" d="M1725 3027l9 1-5 3-9 0z"/><path class="g" d="M1730 3022l9 0-5 6-9-1z"/><path class="h" d="M1735 3016l9-2-5 8-9 0z"/><path class="i" d="M1740 3012l9-6-5 8-9 2z"/><path class="j" d="M1745 3012l9-10-5 4-9 6zm5 4l9-11-5-3-9 10zm5 7l9-9-5-9-9 11z"/><path class="i" d="M1760 3033l9-6-5-13-9 9zm5 11l9-2-5-15-9 6z"/><path class="g" d="M1770 3058l9 0-5-16-9 2z"/><path class="f" d="M1775 3076l10-1-6-17-9 0z"/><path class="a" d="M1781 3099l9-4-5-20-10 1z"/><path class="c" d="M1786 3124l9-8-5-21-9 4z"/><path class="d" d="M1791 3147l9-12-5-19-9 8z"/><path class="e" d="M1796 3163l9-15-5-13-9 12z"/><path class="m" d="M1801 3170l10-17-6-5-9 15z"/><path class="n" d="M1807 3170l9-18-5 1-10 17zm5-3l9-17-5 2-9 18zm6 1l9-14-6-4-9 17z"/><path class="m" d="M1823 3174l9-11-5-9-9 14z"/><path class="e" d="M1828 3183l10-6-6-14-9 11zm6 8l9-4-5-10-10 6z"/><path class="d" d="M1840 3191l9-3-6-1-9 4z"/><path class="c" d="M1846 3182l9-4-6 10-9 3z"/><path class="b" d="M1852 3167l9-5-6 16-9 4z"/><path class="a" d="M1858 3153l9-4-6 13-9 5z"/><path class="f" d="M1864 3148l10-2-7 3-9 4zm6 8l9 1-5-11-10 2zm5 18l10 2-6-19-9-1z"/><path class="a" d="M1881 3195l9 1-5-20-10-2z"/><path class="b" d="M1886 3215l10-2-6-17-9-1z"/><path class="d" d="M1892 3232l9-4-5-15-10 2z"/><path class="e" d="M1897 3247l10-4-6-15-9 4z"/><path class="m" d="M1903 3256l10-3-6-10-10 4z"/><path class="b" d="M1707 3041l9-6-5 3-8 5z"/><path class="a" d="M1712 3036l8-5-4 4-9 6z"/><path class="f" d="M1716 3029l9-2-5 4-8 5z"/><path class="g" d="M1721 3023l9-1-5 5-9 2z"/><path class="h" d="M1726 3019l9-3-5 6-9 1z"/><path class="i" d="M1731 3019l9-7-5 4-9 3zm5 4l9-11-5 0-9 7z"/><path class="j" d="M1741 3029l9-13-5-4-9 11zm5 7l9-13-5-7-9 13z"/><path class="i" d="M1751 3043l9-10-5-10-9 13z"/><path class="h" d="M1756 3053l9-9-5-11-9 10z"/><path class="g" d="M1761 3066l9-8-5-14-9 9z"/><path class="f" d="M1766 3085l9-9-5-18-9 8z"/><path class="b" d="M1772 3109l9-10-6-23-9 9z"/><path class="d" d="M1777 3137l9-13-5-25-9 10z"/><path class="e" d="M1782 3162l9-15-5-23-9 13z"/><path class="o" d="M1787 3180l9-17-5-16-9 15z"/><path class="p" d="M1792 3191l9-21-5-7-9 17z"/><path class="t" d="M1798 3194l9-24-6 0-9 21z"/><path class="p" d="M1803 3193l9-26-5 3-9 24z"/><path class="o" d="M1808 3190l10-22-6-1-9 26zm6 0l9-16-5-6-10 22z"/><path class="n" d="M1819 3191l9-8-5-9-9 16z"/><path class="e" d="M1825 3192l9-1-6-8-9 8z"/><path class="d" d="M1830 3190l10 1-6 0-9 1z"/><path class="c" d="M1836 3183l10-1-6 9-10-1z"/><path class="b" d="M1842 3172l10-5-6 15-10 1z"/><path class="a" d="M1848 3161l10-8-6 14-10 5z"/><path class="f" d="M1854 3156l10-8-6 5-10 8zm6 4l10-4-6-8-10 8zm6 14l9 0-5-18-10 4z"/><path class="a" d="M1871 3194l10 1-6-21-9 0z"/><path class="b" d="M1877 3215l9 0-5-20-10-1z"/><path class="d" d="M1882 3235l10-3-6-17-9 0z"/><path class="e" d="M1888 3250l9-3-5-15-10 3z"/><path class="m" d="M1894 3259l9-3-6-9-9 3z"/><path class="b" d="M1698 3050l9-9-4 2-9 8z"/><path class="a" d="M1703 3044l9-8-5 5-9 9zm4-9l9-6-4 7-9 8z"/><path class="f" d="M1712 3027l9-4-5 6-9 6z"/><path class="g" d="M1717 3023l9-4-5 4-9 4z"/><path class="h" d="M1722 3026l9-7-5 0-9 4z"/><path class="i" d="M1727 3033l9-10-5-4-9 7zm5 9l9-13-5-6-9 10zm5 7l9-13-5-7-9 13zm5 7l9-13-5-7-9 13z"/><path class="h" d="M1747 3065l9-12-5-10-9 13z"/><path class="f" d="M1752 3080l9-14-5-13-9 12z"/><path class="a" d="M1757 3101l9-16-5-19-9 14z"/><path class="c" d="M1763 3127l9-18-6-24-9 16z"/><path class="e" d="M1768 3155l9-18-5-28-9 18z"/><path class="o" d="M1773 3180l9-18-5-25-9 18z"/><path class="q" d="M1778 3201l9-21-5-18-9 18z"/><path class="r" d="M1783 3214l9-23-5-11-9 21z"/><path class="s" d="M1788 3220l10-26-6-3-9 23z"/><path class="r" d="M1794 3220l9-27-5 1-10 26zm5-5l9-25-5 3-9 27z"/><path class="t" d="M1804 3207l10-17-6 0-9 25z"/><path class="o" d="M1810 3198l9-7-5-1-10 17z"/><path class="n" d="M1816 3192l9 0-6-1-9 7z"/><path class="e" d="M1821 3188l9 2-5 2-9 0z"/><path class="d" d="M1827 3183l9 0-6 7-9-2z"/><path class="c" d="M1833 3178l9-6-6 11-9 0z"/><path class="a" d="M1839 3172l9-11-6 11-9 6z"/><path class="f" d="M1845 3167l9-11-6 5-9 11zm6 2l9-9-6-4-9 11zm5 9l10-4-6-14-9 9z"/><path class="a" d="M1862 3195l9-1-5-20-10 4z"/><path class="b" d="M1867 3216l10-1-6-21-9 1z"/><path class="d" d="M1873 3237l9-2-5-20-10 1z"/><path class="e" d="M1878 3254l10-4-6-15-9 2z"/><path class="m" d="M1884 3263l10-4-6-9-10 4z"/><path class="b" d="M1690 3059l8-9-4 1-9 8zm4-7l9-8-5 6-8 9z"/><path class="a" d="M1698 3042l9-7-4 9-9 8z"/><path class="f" d="M1703 3034l9-7-5 8-9 7z"/><path class="g" d="M1708 3031l9-8-5 4-9 7z"/><path class="h" d="M1713 3035l9-9-5-3-9 8zm5 8l9-10-5-7-9 9zm5 9l9-10-5-9-9 10zm5 8l9-11-5-7-9 10zm5 8l9-12-5-7-9 11z"/><path class="g" d="M1738 3079l9-14-5-9-9 12z"/><path class="a" d="M1743 3097l9-17-5-15-9 14z"/><path class="c" d="M1748 3121l9-20-5-21-9 17z"/><path class="e" d="M1754 3149l9-22-6-26-9 20z"/><path class="o" d="M1759 3178l9-23-5-28-9 22z"/><path class="r" d="M1764 3203l9-23-5-25-9 23z"/><path class="u" d="M1769 3222l9-21-5-21-9 23z"/><path class="v" d="M1774 3236l9-22-5-13-9 21zm5 7l9-23-5-6-9 22zm6-2l9-21-6 0-9 23z"/><path class="u" d="M1790 3233l9-18-5 5-9 21z"/><path class="r" d="M1795 3219l9-12-5 8-9 18z"/><path class="t" d="M1801 3205l9-7-6 9-9 12z"/><path class="o" d="M1806 3194l10-2-6 6-9 7z"/><path class="e" d="M1812 3188l9 0-5 4-10 2z"/><path class="d" d="M1818 3187l9-4-6 5-9 0z"/><path class="c" d="M1823 3186l10-8-6 5-9 4z"/><path class="a" d="M1829 3183l10-11-6 6-10 8z"/><path class="f" d="M1835 3179l10-12-6 5-10 11zm6-1l10-9-6-2-10 12zm6 7l9-7-5-9-10 9z"/><path class="a" d="M1852 3199l10-4-6-17-9 7z"/><path class="b" d="M1858 3219l9-3-5-21-10 4z"/><path class="d" d="M1863 3240l10-3-6-21-9 3z"/><path class="e" d="M1869 3257l9-3-5-17-10 3z"/><path class="m" d="M1875 3266l9-3-6-9-9 3z"/><path class="c" d="M1681 3066l9-7-5 0-8 9z"/><path class="b" d="M1685 3061l9-9-4 7-9 7zm5-8l8-11-4 10-9 9z"/><path class="a" d="M1694 3046l9-12-5 8-8 11z"/><path class="f" d="M1699 3044l9-13-5 3-9 12z"/><path class="g" d="M1704 3047l9-12-5-4-9 13zm5 6l9-10-5-8-9 12zm5 7l9-8-5-9-9 10zm5 8l9-8-5-8-9 8zm5 10l9-10-5-8-9 8z"/><path class="f" d="M1729 3093l9-14-5-11-9 10z"/><path class="b" d="M1734 3114l9-17-5-18-9 14z"/><path class="d" d="M1739 3141l9-20-5-24-9 17z"/><path class="n" d="M1745 3171l9-22-6-28-9 20z"/><path class="q" d="M1750 3199l9-21-5-29-9 22z"/><path class="u" d="M1755 3223l9-20-5-25-9 21z"/><path class="w" d="M1760 3241l9-19-5-19-9 20z"/><path class="x" d="M1765 3252l9-16-5-14-9 19z"/><path class="y" d="M1770 3256l9-13-5-7-9 16z"/><path class="x" d="M1775 3252l10-11-6 2-9 13z"/><path class="v" d="M1781 3241l9-8-5 8-10 11z"/><path class="u" d="M1786 3225l9-6-5 14-9 8z"/><path class="r" d="M1791 3209l10-4-6 14-9 6z"/><path class="p" d="M1797 3198l9-4-5 11-10 4z"/><path class="m" d="M1802 3193l10-5-6 6-9 4z"/><path class="d" d="M1808 3193l10-6-6 1-10 5z"/><path class="c" d="M1814 3193l9-7-5 1-10 6z"/><path class="b" d="M1819 3191l10-8-6 3-9 7z"/><path class="a" d="M1825 3188l10-9-6 4-10 8z"/><path class="f" d="M1831 3188l10-10-6 1-10 9zm6 5l10-8-6-7-10 10z"/><path class="a" d="M1843 3206l9-7-5-14-10 8z"/><path class="b" d="M1848 3224l10-5-6-20-9 7z"/><path class="d" d="M1854 3244l9-4-5-21-10 5z"/><path class="e" d="M1859 3260l10-3-6-17-9 4z"/><path class="m" d="M1865 3269l10-3-6-9-10 3z"/><path class="c" d="M1672 3072l9-6-4 2-9 5zm5-2l8-9-4 5-9 6zm4-3l9-14-5 8-8 9z"/><path class="b" d="M1686 3065l8-19-4 7-9 14z"/><path class="a" d="M1690 3063l9-19-5 2-8 19zm5 0l9-16-5-3-9 19z"/><path class="f" d="M1700 3064l9-11-5-6-9 16zm4 4l10-8-5-7-9 11zm5 7l10-7-5-8-10 8zm6 12l9-9-5-10-10 7z"/><path class="a" d="M1720 3105l9-12-5-15-9 9z"/><path class="c" d="M1725 3129l9-15-5-21-9 12z"/><path class="e" d="M1730 3156l9-15-5-27-9 15z"/><path class="o" d="M1736 3185l9-14-6-30-9 15z"/><path class="s" d="M1741 3212l9-13-5-28-9 14z"/><path class="v" d="M1746 3234l9-11-5-24-9 13z"/><path class="x" d="M1751 3250l9-9-5-18-9 11z"/><path class="y" d="M1756 3258l9-6-5-11-9 9zm5 1l9-3-5-4-9 6zm5-7l9 0-5 4-9 3z"/><path class="w" d="M1772 3240l9 1-6 11-9 0z"/><path class="u" d="M1777 3226l9-1-5 16-9-1z"/><path class="r" d="M1782 3213l9-4-5 16-9 1z"/><path class="p" d="M1788 3204l9-6-6 11-9 4z"/><path class="n" d="M1793 3200l9-7-5 5-9 6z"/><path class="d" d="M1799 3199l9-6-6 0-9 7z"/><path class="c" d="M1804 3198l10-5-6 0-9 6z"/><path class="b" d="M1810 3195l9-4-5 2-10 5z"/><path class="a" d="M1816 3193l9-5-6 3-9 4z"/><path class="f" d="M1821 3194l10-6-6 0-9 5z"/><path class="a" d="M1827 3201l10-8-6-5-10 6zm6 13l10-8-6-13-10 8z"/><path class="b" d="M1838 3230l10-6-5-18-10 8z"/><path class="d" d="M1844 3248l10-4-6-20-10 6z"/><path class="e" d="M1850 3263l9-3-5-16-10 4z"/><path class="m" d="M1855 3273l10-4-6-9-9 3z"/><path class="d" d="M1663 3077l9-5-4 1-9 2zm5 4l9-11-5 2-9 5zm5 6l8-20-4 3-9 11z"/><path class="c" d="M1677 3089l9-24-5 2-8 20zm5-2l8-24-4 2-9 24z"/><path class="b" d="M1686 3081l9-18-5 0-8 24z"/><path class="a" d="M1691 3076l9-12-5-1-9 18zm4 0l9-8-4-4-9 12zm5 6l9-7-5-7-9 8zm5 14l10-9-6-12-9 7z"/><path class="b" d="M1711 3116l9-11-5-18-10 9z"/><path class="c" d="M1716 3139l9-10-5-24-9 11z"/><path class="e" d="M1721 3163l9-7-5-27-9 10z"/><path class="p" d="M1727 3188l9-3-6-29-9 7z"/><path class="s" d="M1732 3211l9 1-5-27-9 3z"/><path class="v" d="M1737 3231l9 3-5-22-9-1z"/><path class="x" d="M1742 3245l9 5-5-16-9-3z"/><path class="y" d="M1747 3252l9 6-5-8-9-5zm5 0l9 7-5-1-9-6zm5-7l9 7-5 7-9-7z"/><path class="w" d="M1762 3235l10 5-6 12-9-7z"/><path class="u" d="M1768 3224l9 2-5 14-10-5z"/><path class="r" d="M1773 3215l9-2-5 13-9-2z"/><path class="p" d="M1778 3209l10-5-6 9-9 2z"/><path class="m" d="M1784 3205l9-5-5 4-10 5z"/><path class="d" d="M1789 3202l10-3-6 1-9 5z"/><path class="c" d="M1795 3198l9 0-5 1-10 3z"/><path class="b" d="M1800 3195l10 0-6 3-9 0z"/><path class="a" d="M1806 3195l10-2-6 2-10 0zm6 4l9-5-5-1-10 2zm5 10l10-8-6-7-9 5zm6 13l10-8-6-13-10 8z"/><path class="c" d="M1829 3237l9-7-5-16-10 8z"/><path class="d" d="M1834 3252l10-4-6-18-9 7z"/><path class="e" d="M1840 3266l10-3-6-15-10 4z"/><path class="m" d="M1846 3276l9-3-5-10-10 3z"/><path class="d" d="M1654 3082l9-5-4-2-9 0z"/><path class="e" d="M1659 3095l9-14-5-4-9 5zm5 13l9-21-5-6-9 14zm5 6l8-25-4-2-9 21z"/><path class="d" d="M1673 3110l9-23-5 2-8 25z"/><path class="c" d="M1678 3099l8-18-4 6-9 23z"/><path class="b" d="M1682 3088l9-12-5 5-8 18zm4-4l9-8-4 0-9 12zm5 6l9-8-5-6-9 8zm5 15l9-9-5-14-9 8z"/><path class="c" d="M1702 3124l9-8-6-20-9 9z"/><path class="d" d="M1707 3144l9-5-5-23-9 8z"/><path class="e" d="M1712 3163l9 0-5-24-9 5z"/><path class="p" d="M1717 3181l10 7-6-25-9 0z"/><path class="r" d="M1723 3198l9 13-5-23-10-7z"/><path class="u" d="M1728 3214l9 17-5-20-9-13z"/><path class="w" d="M1733 3228l9 17-5-14-9-17z"/><path class="x" d="M1738 3237l9 15-5-7-9-17zm5 2l9 13-5 0-9-15z"/><path class="w" d="M1748 3236l9 9-5 7-9-13z"/><path class="v" d="M1753 3229l9 6-5 10-9-9z"/><path class="s" d="M1758 3222l10 2-6 11-9-6z"/><path class="q" d="M1763 3216l10-1-5 9-10-2z"/><path class="o" d="M1769 3211l9-2-5 6-10 1z"/><path class="e" d="M1774 3205l10 0-6 4-9 2z"/><path class="d" d="M1780 3200l9 2-5 3-10 0z"/><path class="c" d="M1785 3195l10 3-6 4-9-2z"/><path class="b" d="M1791 3192l9 3-5 3-10-3z"/><path class="a" d="M1796 3195l10 0-6 0-9-3zm6 7l10-3-6-4-10 0zm6 12l9-5-5-10-10 3z"/><path class="b" d="M1813 3228l10-6-6-13-9 5z"/><path class="c" d="M1819 3241l10-4-6-15-10 6z"/><path class="d" d="M1825 3256l9-4-5-15-10 4z"/><path class="e" d="M1830 3270l10-4-6-14-9 4z"/><path class="m" d="M1836 3280l10-4-6-10-10 4z"/><path class="e" d="M1646 3087l8-5-4-7-9 0z"/><path class="m" d="M1651 3106l8-11-5-13-8 5z"/><path class="n" d="M1656 3123l8-15-5-13-8 11z"/><path class="o" d="M1661 3131l8-17-5-6-8 15z"/><path class="n" d="M1665 3125l8-15-4 4-8 17z"/><path class="e" d="M1669 3111l9-12-5 11-8 15z"/><path class="c" d="M1673 3097l9-9-4 11-9 12zm4-6l9-7-4 4-9 9z"/><path class="b" d="M1682 3097l9-7-5-6-9 7zm5 15l9-7-5-15-9 7z"/><path class="c" d="M1693 3130l9-6-6-19-9 7z"/><path class="d" d="M1698 3146l9-2-5-20-9 6z"/><path class="e" d="M1703 3159l9 4-5-19-9 2z"/><path class="o" d="M1708 3169l9 12-5-18-9-4z"/><path class="q" d="M1713 3179l10 19-6-17-9-12z"/><path class="r" d="M1718 3192l10 22-5-16-10-19z"/><path class="u" d="M1723 3205l10 23-5-14-10-22zm5 11l10 21-5-9-10-23zm6 8l9 15-5-2-10-21zm5 2l9 10-5 3-9-15z"/><path class="r" d="M1744 3224l9 5-5 7-9-10z"/><path class="q" d="M1749 3220l9 2-5 7-9-5z"/><path class="o" d="M1754 3214l9 2-5 6-9-2z"/><path class="m" d="M1759 3208l10 3-6 5-9-2z"/><path class="e" d="M1765 3201l9 4-5 6-10-3z"/><path class="d" d="M1770 3195l10 5-6 5-9-4z"/><path class="c" d="M1775 3190l10 5-5 5-10-5z"/><path class="b" d="M1781 3190l10 2-6 3-10-5z"/><path class="a" d="M1787 3195l9 0-5-3-10-2zm5 10l10-3-6-7-9 0zm6 13l10-4-6-12-10 3z"/><path class="b" d="M1804 3231l9-3-5-14-10 4z"/><path class="c" d="M1809 3245l10-4-6-13-9 3z"/><path class="d" d="M1815 3259l10-3-6-15-10 4z"/><path class="e" d="M1820 3274l10-4-5-14-10 3z"/><path class="m" d="M1826 3283l10-3-6-10-10 4z"/><path class="e" d="M1637 3091l9-4-5-12-9 0z"/><path class="n" d="M1642 3111l9-5-5-19-9 4z"/><path class="o" d="M1647 3127l9-4-5-17-9 5zm5 7l9-3-5-8-9 4z"/><path class="n" d="M1656 3128l9-3-4 6-9 3z"/><path class="e" d="M1660 3115l9-4-4 14-9 3z"/><path class="d" d="M1664 3102l9-5-4 14-9 4z"/><path class="c" d="M1668 3096l9-5-4 6-9 5z"/><path class="b" d="M1673 3101l9-4-5-6-9 5zm5 13l9-2-5-15-9 4z"/><path class="c" d="M1683 3130l10 0-6-18-9 2z"/><path class="d" d="M1688 3144l10 2-5-16-10 0zm5 9l10 6-5-13-10-2z"/><path class="m" d="M1698 3159l10 10-5-10-10-6z"/><path class="o" d="M1703 3165l10 14-5-10-10-10z"/><path class="t" d="M1708 3173l10 19-5-13-10-14z"/><path class="q" d="M1714 3184l9 21-5-13-10-19z"/><path class="r" d="M1719 3196l9 20-5-11-9-21z"/><path class="q" d="M1724 3207l10 17-6-8-9-20zm5 8l10 11-5-2-10-17z"/><path class="t" d="M1734 3217l10 7-5 2-10-11z"/><path class="o" d="M1739 3215l10 5-5 4-10-7z"/><path class="m" d="M1744 3209l10 5-5 6-10-5z"/><path class="e" d="M1750 3202l9 6-5 6-10-5z"/><path class="d" d="M1755 3195l10 6-6 7-9-6z"/><path class="c" d="M1760 3190l10 5-5 6-10-6z"/><path class="b" d="M1766 3189l9 1-5 5-10-5zm5 2l10-1-6 0-9-1z"/><path class="a" d="M1777 3197l10-2-6-5-10 1zm5 10l10-2-5-10-10 2zm6 12l10-1-6-13-10 2z"/><path class="b" d="M1794 3233l10-2-6-13-10 1z"/><path class="c" d="M1799 3247l10-2-5-14-10 2z"/><path class="d" d="M1805 3263l10-4-6-14-10 2z"/><path class="e" d="M1811 3277l9-3-5-15-10 4z"/><path class="m" d="M1816 3286l10-3-6-9-9 3z"/><path class="e" d="M1627 3091l10 0-5-16-10 2z"/><path class="m" d="M1633 3106l9 5-5-20-10 0z"/><path class="n" d="M1637 3118l10 9-5-16-9-5zm5 4l10 12-5-7-10-9z"/><path class="m" d="M1646 3118l10 10-4 6-10-12z"/><path class="d" d="M1650 3109l10 6-4 13-10-10z"/><path class="c" d="M1654 3100l10 2-4 13-10-6z"/><path class="b" d="M1659 3097l9-1-4 6-10-2zm4 4l10 0-5-5-9 1zm5 10l10 3-5-13-10 0z"/><path class="c" d="M1674 3124l9 6-5-16-10-3zm5 13l9 7-5-14-9-6z"/><path class="d" d="M1684 3147l9 6-5-9-9-7z"/><path class="e" d="M1689 3154l9 5-5-6-9-6zm5 5l9 6-5-6-9-5z"/><path class="n" d="M1699 3164l9 9-5-8-9-6z"/><path class="o" d="M1704 3171l10 13-6-11-9-9zm5 10l10 15-5-12-10-13zm5 11l10 15-5-11-10-15z"/><path class="n" d="M1719 3201l10 14-5-8-10-15z"/><path class="m" d="M1725 3206l9 11-5-2-10-14z"/><path class="e" d="M1730 3205l9 10-5 2-9-11z"/><path class="d" d="M1735 3199l9 10-5 6-9-10z"/><path class="c" d="M1740 3193l10 9-6 7-9-10zm5-5l10 7-5 7-10-9z"/><path class="b" d="M1750 3187l10 3-5 5-10-7zm6 3l10-1-6 1-10-3z"/><path class="a" d="M1761 3194l10-3-5-2-10 1zm6 6l10-3-6-6-10 3zm6 8l9-1-5-10-10 3z"/><path class="b" d="M1778 3219l10 0-6-12-9 1zm6 14l10 0-6-14-10 0z"/><path class="c" d="M1790 3250l9-3-5-14-10 0z"/><path class="d" d="M1795 3268l10-5-6-16-9 3z"/><path class="e" d="M1801 3281l10-4-6-14-10 5z"/><path class="m" d="M1807 3290l9-4-5-9-10 4z"/><path class="d" d="M1618 3088l9 3-5-14-9 2zm5 7l10 11-6-15-9-3z"/><path class="e" d="M1627 3100l10 18-4-12-10-11zm5 1l10 21-5-4-10-18z"/><path class="d" d="M1636 3100l10 18-4 4-10-21z"/><path class="c" d="M1640 3097l10 12-4 9-10-18z"/><path class="b" d="M1645 3094l9 6-4 9-10-12zm4-1l10 4-5 3-9-6z"/><path class="a" d="M1654 3095l9 6-4-4-10-4zm5 7l9 9-5-10-9-6z"/><path class="b" d="M1664 3113l10 11-6-13-9-9zm5 14l10 10-5-13-10-11z"/><path class="c" d="M1674 3142l10 5-5-10-10-10z"/><path class="d" d="M1679 3154l10 0-5-7-10-5zm5 7l10-2-5-5-10 0z"/><path class="e" d="M1689 3164l10 0-5-5-10 2zm5 3l10 4-5-7-10 0zm5 5l10 9-5-10-10-4zm5 7l10 13-5-11-10-9zm5 8l10 14-5-9-10-13z"/><path class="d" d="M1715 3191l10 15-6-5-10-14z"/><path class="c" d="M1720 3190l10 15-5 1-10-15zm5-4l10 13-5 6-10-15z"/><path class="b" d="M1730 3181l10 12-5 6-10-13z"/><path class="a" d="M1735 3180l10 8-5 5-10-12zm6 4l9 3-5 1-10-8zm5 7l10-1-6-3-9-3zm6 6l9-3-5-4-10 1zm5 6l10-3-6-6-9 3zm6 6l10-1-6-8-10 3z"/><path class="b" d="M1768 3219l10 0-5-11-10 1zm6 16l10-2-6-14-10 0z"/><path class="c" d="M1780 3254l10-4-6-17-10 2z"/><path class="d" d="M1785 3273l10-5-5-18-10 4z"/><path class="e" d="M1791 3285l10-4-6-13-10 5z"/><path class="m" d="M1797 3293l10-3-6-9-10 4z"/><path class="c" d="M1609 3083l9 5-5-9-9 3zm4 0l10 12-5-7-9-5zm4-3l10 20-4-5-10-12zm4-2l11 23-5-1-10-20z"/><path class="b" d="M1626 3079l10 21-4 1-11-23z"/><path class="a" d="M1630 3081l10 16-4 3-10-21zm5 2l10 11-5 3-10-16z"/><path class="f" d="M1639 3085l10 8-4 1-10-11zm5 2l10 8-5-2-10-8zm5 5l10 10-5-7-10-8z"/><path class="a" d="M1654 3102l10 11-5-11-10-10z"/><path class="b" d="M1659 3117l10 10-5-14-10-11zm5 19l10 6-5-15-10-10z"/><path class="c" d="M1670 3153l9 1-5-12-10-6zm5 11l9-3-5-7-9-1z"/><path class="d" d="M1680 3169l9-5-5-3-9 3zm5 1l9-3-5-3-9 5zm5 1l9 1-5-5-9 3zm4 2l10 6-5-7-9-1zm6 2l9 12-5-8-10-6z"/><path class="c" d="M1705 3177l10 14-6-4-9-12z"/><path class="b" d="M1710 3175l10 15-5 1-10-14zm5-5l10 16-5 4-10-15z"/><path class="a" d="M1720 3164l10 17-5 5-10-16z"/><path class="f" d="M1725 3164l10 16-5 1-10-17zm6 9l10 11-6-4-10-16zm5 14l10 4-5-7-10-11zm6 11l10-1-6-6-10-4z"/><path class="a" d="M1747 3205l10-2-5-6-10 1zm6 6l10-2-6-6-10 2z"/><path class="b" d="M1758 3222l10-3-5-10-10 2zm6 16l10-3-6-16-10 3z"/><path class="c" d="M1770 3259l10-5-6-19-10 3z"/><path class="d" d="M1775 3277l10-4-5-19-10 5z"/><path class="e" d="M1781 3289l10-4-6-12-10 4z"/><path class="m" d="M1787 3297l10-4-6-8-10 4z"/><path class="c" d="M1599 3078l10 5-5-1-9 0z"/><path class="b" d="M1603 3072l10 11-4 0-10-5zm4-7l10 15-4 3-10-11z"/><path class="a" d="M1611 3060l10 18-4 2-10-15z"/><path class="f" d="M1615 3060l11 19-5-1-10-18z"/><path class="g" d="M1620 3063l10 18-4-2-11-19zm4 6l11 14-5-2-10-18zm5 5l10 11-4-2-11-14zm5 5l10 8-5-2-10-11zm5 5l10 8-5-5-10-8z"/><path class="f" d="M1644 3094l10 8-5-10-10-8z"/><path class="a" d="M1649 3110l10 7-5-15-10-8zm5 19l10 7-5-19-10-7z"/><path class="b" d="M1660 3149l10 4-6-17-10-7z"/><path class="c" d="M1665 3165l10-1-5-11-10-4zm5 8l10-4-5-5-10 1z"/><path class="d" d="M1675 3176l10-6-5-1-10 4zm5 0l10-5-5-1-10 6z"/><path class="c" d="M1685 3174l9-1-4-2-10 5zm5-2l10 3-6-2-9 1z"/><path class="b" d="M1695 3169l10 8-5-2-10-3zm5-4l10 10-5 2-10-8z"/><path class="f" d="M1704 3157l11 13-5 5-10-10z"/><path class="g" d="M1709 3145l11 19-5 6-11-13z"/><path class="h" d="M1714 3136l11 28-5 0-11-19z"/><path class="i" d="M1720 3152l11 21-6-9-11-28z"/><path class="h" d="M1726 3178l10 9-5-14-11-21z"/><path class="g" d="M1732 3196l10 2-6-11-10-9z"/><path class="f" d="M1737 3207l10-2-5-7-10-2z"/><path class="a" d="M1743 3217l10-6-6-6-10 2z"/><path class="b" d="M1748 3228l10-6-5-11-10 6zm6 16l10-6-6-16-10 6z"/><path class="c" d="M1760 3263l10-4-6-21-10 6z"/><path class="d" d="M1765 3279l10-2-5-18-10 4z"/><path class="e" d="M1771 3292l10-3-6-12-10 2z"/><path class="m" d="M1777 3300l10-3-6-8-10 3z"/><path class="b" d="M1589 3075l10 3-4 4-10-2z"/><path class="a" d="M1593 3066l10 6-4 6-10-3z"/><path class="f" d="M1597 3057l10 8-4 7-10-6zm3-8l11 11-4 5-10-8z"/><path class="g" d="M1605 3046l10 14-4 0-11-11z"/><path class="h" d="M1609 3048l11 15-5-3-10-14z"/><path class="i" d="M1614 3055l10 14-4-6-11-15zm5 9l10 10-5-5-10-14z"/><path class="h" d="M1624 3073l10 6-5-5-10-10zm5 10l10 1-5-5-10-6z"/><path class="g" d="M1634 3094l10 0-5-10-10-1z"/><path class="f" d="M1639 3108l10 2-5-16-10 0z"/><path class="a" d="M1645 3125l9 4-5-19-10-2z"/><path class="b" d="M1650 3144l10 5-6-20-9-4z"/><path class="c" d="M1656 3163l9 2-5-16-10-5zm5 14l9-4-5-8-9-2zm5 8l9-9-5-3-9 4z"/><path class="d" d="M1671 3187l9-11-5 0-9 9z"/><path class="c" d="M1675 3183l10-9-5 2-9 11zm5-6l10-5-5 2-10 9z"/><path class="b" d="M1685 3171l10-2-5 3-10 5z"/><path class="a" d="M1690 3164l10 1-5 4-10 2z"/><path class="f" d="M1694 3154l10 3-4 8-10-1z"/><path class="h" d="M1699 3138l10 7-5 12-10-3z"/><path class="j" d="M1704 3115l10 21-5 9-10-7z"/><path class="k" d="M1710 3140l10 12-6-16-10-21z"/><path class="i" d="M1716 3173l10 5-6-26-10-12z"/><path class="g" d="M1722 3196l10 0-6-18-10-5z"/><path class="f" d="M1727 3213l10-6-5-11-10 0z"/><path class="a" d="M1733 3226l10-9-6-10-10 6z"/><path class="b" d="M1738 3239l10-11-5-11-10 9zm6 13l10-8-6-16-10 11z"/><path class="c" d="M1750 3266l10-3-6-19-10 8z"/><path class="d" d="M1755 3281l10-2-5-16-10 3z"/><path class="e" d="M1761 3294l10-2-6-13-10 2z"/><path class="m" d="M1767 3304l10-4-6-8-10 2z"/><path class="b" d="M1580 3074l9 1-4 5-9-1z"/><path class="a" d="M1583 3066l10 0-4 9-9-1z"/><path class="f" d="M1587 3056l10 1-4 9-10 0z"/><path class="g" d="M1591 3047l9 2-3 8-10-1z"/><path class="h" d="M1595 3040l10 6-5 3-9-2z"/><path class="i" d="M1599 3039l10 9-4-2-10-6z"/><path class="j" d="M1604 3045l10 10-5-7-10-9zm5 12l10 7-5-9-10-10z"/><path class="i" d="M1614 3072l10 1-5-9-10-7zm5 14l10-3-5-10-10-1z"/><path class="h" d="M1624 3100l10-6-5-11-10 3z"/><path class="g" d="M1630 3112l9-4-5-14-10 6z"/><path class="a" d="M1635 3127l10-2-6-17-9 4z"/><path class="b" d="M1640 3145l10-1-5-19-10 2z"/><path class="c" d="M1646 3165l10-2-6-19-10 1z"/><path class="d" d="M1651 3184l10-7-5-14-10 2zm6 13l9-12-5-8-10 7zm4 5l10-15-5-2-9 12zm5-4l9-15-4 4-10 15z"/><path class="c" d="M1671 3190l9-13-5 6-9 15z"/><path class="b" d="M1675 3181l10-10-5 6-9 13z"/><path class="a" d="M1680 3173l10-9-5 7-10 10z"/><path class="f" d="M1685 3166l9-12-4 10-10 9z"/><path class="h" d="M1690 3158l9-20-5 16-9 12z"/><path class="j" d="M1695 3153l9-38-5 23-9 20zm5 10l10-23-6-25-9 38z"/><path class="i" d="M1706 3183l10-10-6-33-10 23z"/><path class="g" d="M1712 3203l10-7-6-23-10 10z"/><path class="f" d="M1717 3221l10-8-5-17-10 7z"/><path class="a" d="M1723 3238l10-12-6-13-10 8z"/><path class="b" d="M1729 3251l9-12-5-13-10 12z"/><path class="c" d="M1734 3261l10-9-6-13-9 12zm6 8l10-3-6-14-10 9z"/><path class="d" d="M1745 3281l10 0-5-15-10 3z"/><path class="e" d="M1751 3297l10-3-6-13-10 0z"/><path class="m" d="M1757 3307l10-3-6-10-10 3z"/><path class="a" d="M1570 3076l10-2-4 5-9 1z"/><path class="f" d="M1574 3069l9-3-3 8-10 2z"/><path class="g" d="M1578 3061l9-5-4 10-9 3z"/><path class="h" d="M1581 3051l10-4-4 9-9 5z"/><path class="i" d="M1585 3043l10-3-4 7-10 4zm4-4l10 0-4 1-10 3z"/><path class="j" d="M1594 3044l10 1-5-6-10 0zm5 14l10-1-5-12-10-1zm5 18l10-4-5-15-10 1z"/><path class="i" d="M1610 3094l9-8-5-14-10 4z"/><path class="h" d="M1615 3109l9-9-5-14-9 8z"/><path class="g" d="M1620 3122l10-10-6-12-9 9z"/><path class="a" d="M1626 3136l9-9-5-15-10 10z"/><path class="b" d="M1631 3154l9-9-5-18-9 9z"/><path class="d" d="M1637 3176l9-11-6-20-9 9z"/><path class="e" d="M1642 3197l9-13-5-19-9 11zm6 16l9-16-6-13-9 13zm4 5l9-16-4-5-9 16zm5-5l9-15-5 4-9 16z"/><path class="d" d="M1661 3203l10-13-5 8-9 15z"/><path class="c" d="M1666 3193l9-12-4 9-10 13z"/><path class="b" d="M1670 3186l10-13-5 8-9 12z"/><path class="a" d="M1675 3183l10-17-5 7-10 13z"/><path class="f" d="M1680 3182l10-24-5 8-10 17z"/><path class="g" d="M1685 3183l10-30-5 5-10 24z"/><path class="h" d="M1691 3188l9-25-5-10-10 30z"/><path class="g" d="M1696 3199l10-16-6-20-9 25z"/><path class="f" d="M1702 3214l10-11-6-20-10 16z"/><path class="a" d="M1707 3231l10-10-5-18-10 11z"/><path class="b" d="M1713 3249l10-11-6-17-10 10zm6 13l10-11-6-13-10 11z"/><path class="c" d="M1724 3269l10-8-5-10-10 11zm6 5l10-5-6-8-10 8z"/><path class="d" d="M1735 3284l10-3-5-12-10 5z"/><path class="e" d="M1741 3300l10-3-6-16-10 3z"/><path class="m" d="M1747 3311l10-4-6-10-10 3z"/><path class="b" d="M1561 3082l9-6-3 4-10 6z"/><path class="a" d="M1565 3077l9-8-4 7-9 6z"/><path class="f" d="M1569 3070l9-9-4 8-9 8z"/><path class="g" d="M1572 3062l9-11-3 10-9 9z"/><path class="h" d="M1576 3055l9-12-4 8-9 11z"/><path class="i" d="M1580 3052l9-13-4 4-9 12z"/><path class="j" d="M1585 3056l9-12-5-5-9 13zm5 12l9-10-5-14-9 12z"/><path class="i" d="M1595 3086l9-10-5-18-9 10z"/><path class="h" d="M1601 3104l9-10-6-18-9 10z"/><path class="g" d="M1606 3120l9-11-5-15-9 10z"/><path class="f" d="M1611 3135l9-13-5-13-9 11z"/><path class="b" d="M1616 3150l10-14-6-14-9 13z"/><path class="c" d="M1622 3169l9-15-5-18-10 14z"/><path class="e" d="M1628 3191l9-15-6-22-9 15z"/><path class="n" d="M1633 3211l9-14-5-21-9 15z"/><path class="o" d="M1638 3224l10-11-6-16-9 14zm5 3l9-9-4-5-10 11z"/><path class="n" d="M1647 3222l10-9-5 5-9 9z"/><path class="e" d="M1652 3211l9-8-4 10-10 9z"/><path class="d" d="M1656 3203l10-10-5 10-9 8z"/><path class="c" d="M1661 3199l9-13-4 7-10 10z"/><path class="b" d="M1666 3200l9-17-5 3-9 13z"/><path class="a" d="M1671 3203l9-21-5 1-9 17zm5 3l9-23-5-1-9 21z"/><path class="f" d="M1681 3210l10-22-6-5-9 23z"/><path class="a" d="M1686 3216l10-17-5-11-10 22zm6 11l10-13-6-15-10 17z"/><path class="b" d="M1697 3242l10-11-5-17-10 13zm6 16l10-9-6-18-10 11z"/><path class="c" d="M1709 3270l10-8-6-13-10 9zm5 6l10-7-5-7-10 8z"/><path class="d" d="M1720 3280l10-6-6-5-10 7zm5 8l10-4-5-10-10 6z"/><path class="e" d="M1731 3303l10-3-6-16-10 4z"/><path class="m" d="M1736 3315l11-4-6-11-10 3z"/><path class="b" d="M1552 3094l9-12-4 4-8 10z"/><path class="a" d="M1556 3091l9-14-4 5-9 12zm4-5l9-16-4 7-9 14z"/><path class="f" d="M1564 3082l8-20-3 8-9 16z"/><path class="g" d="M1568 3078l8-23-4 7-8 20z"/><path class="h" d="M1572 3078l8-26-4 3-8 23zm4 5l9-27-5-4-8 26zm5 9l9-24-5-12-9 27zm5 12l9-18-5-18-9 24z"/><path class="g" d="M1592 3118l9-14-6-18-9 18z"/><path class="f" d="M1597 3133l9-13-5-16-9 14z"/><path class="a" d="M1602 3148l9-13-5-15-9 13z"/><path class="c" d="M1607 3165l9-15-5-15-9 13z"/><path class="d" d="M1613 3183l9-14-6-19-9 15z"/><path class="m" d="M1618 3201l10-10-6-22-9 14z"/><path class="o" d="M1624 3216l9-5-5-20-10 10zm5 8l9 0-5-13-9 5zm4 1l10 2-5-3-9 0z"/><path class="n" d="M1638 3220l9 2-4 5-10-2z"/><path class="e" d="M1642 3214l10-3-5 11-9-2z"/><path class="d" d="M1646 3211l10-8-4 8-10 3zm5 0l10-12-5 4-10 8z"/><path class="c" d="M1656 3215l10-15-5-1-10 12z"/><path class="b" d="M1661 3220l10-17-5-3-10 15zm5 5l10-19-5-3-10 17zm6 5l9-20-5-4-10 19zm5 5l9-19-5-6-9 20zm5 8l10-16-6-11-9 19z"/><path class="c" d="M1688 3253l9-11-5-15-10 16zm5 11l10-6-6-16-9 11zm6 11l10-5-6-12-10 6zm5 7l10-6-5-6-10 5z"/><path class="d" d="M1709 3287l11-7-6-4-10 6zm6 8l10-7-5-8-11 7z"/><path class="e" d="M1721 3308l10-5-6-15-10 7z"/><path class="m" d="M1726 3318l10-3-5-12-10 5z"/><path class="c" d="M1544 3110l8-16-3 2-9 12zm4 0l8-19-4 3-8 16z"/><path class="b" d="M1552 3110l8-24-4 5-8 19z"/><path class="a" d="M1556 3110l8-28-4 4-8 24zm4 1l8-33-4 4-8 28zm5 4l7-37-4 0-8 33z"/><path class="f" d="M1569 3120l7-37-4-5-7 37zm5 6l7-34-5-9-7 37zm4 7l8-29-5-12-7 34z"/><path class="a" d="M1583 3141l9-23-6-14-8 29z"/><path class="b" d="M1588 3151l9-18-5-15-9 23zm5 13l9-16-5-15-9 18z"/><path class="c" d="M1598 3177l9-12-5-17-9 16z"/><path class="e" d="M1604 3190l9-7-6-18-9 12z"/><path class="m" d="M1609 3201l9 0-5-18-9 7z"/><path class="n" d="M1613 3209l11 7-6-15-9 0z"/><path class="o" d="M1618 3214l11 10-5-8-11-7z"/><path class="n" d="M1623 3216l10 9-4-1-11-10zm4 1l11 3-5 5-10-9z"/><path class="e" d="M1632 3218l10-4-4 6-11-3zm5 3l9-10-4 3-10 4z"/><path class="d" d="M1642 3225l9-14-5 0-9 10zm5 5l9-15-5-4-9 14zm5 6l9-16-5-5-9 15z"/><path class="c" d="M1657 3241l9-16-5-5-9 16zm5 6l10-17-6-5-9 16zm5 6l10-18-5-5-10 17zm5 6l10-16-5-8-10 18z"/><path class="d" d="M1678 3265l10-12-6-10-10 16zm5 8l10-9-5-11-10 12zm6 7l10-5-6-11-10 9zm5 8l10-6-5-7-10 5zm5 8l10-9-5-5-10 6z"/><path class="e" d="M1705 3304l10-9-6-8-10 9zm5 9l11-5-6-13-10 9z"/><path class="m" d="M1716 3322l10-4-5-10-11 5z"/><path class="d" d="M1536 3124l8-14-4-2-9 11zm4 4l8-18-4 0-8 14zm4 4l8-22-4 0-8 18zm4 4l8-26-4 0-8 22z"/><path class="c" d="M1553 3140l7-29-4-1-8 26zm4 5l8-30-5-4-7 29zm4 5l8-30-4-5-8 30zm5 5l8-29-5-6-8 30zm4 5l8-27-4-7-8 29zm5 6l8-25-5-8-8 27z"/><path class="d" d="M1580 3172l8-21-5-10-8 25zm4 8l9-16-5-13-8 21z"/><path class="e" d="M1589 3187l9-10-5-13-9 16zm5 7l10-4-6-13-9 10zm5 7l10 0-5-11-10 4z"/><path class="m" d="M1603 3206l10 3-4-8-10 0z"/><path class="n" d="M1608 3210l10 4-5-5-10-3z"/><path class="m" d="M1613 3215l10 1-5-2-10-4zm5 5l9-3-4-1-10-1z"/><path class="e" d="M1623 3226l9-8-5-1-9 3zm4 6l10-11-5-3-9 8zm5 6l10-13-5-4-10 11zm5 5l10-13-5-5-10 13zm5 5l10-12-5-6-10 13zm5 6l10-13-5-5-10 12zm5 6l10-13-5-6-10 13zm6 6l9-13-5-6-10 13zm5 6l9-13-5-6-9 13zm5 6l10-13-6-6-9 13zm5 6l10-11-5-8-10 13zm6 6l10-10-6-7-10 11zm5 7l10-9-5-8-10 10zm5 7l10-8-5-8-10 9zm6 7l10-7-6-8-10 8zm5 7l10-5-5-9-10 7z"/><path class="m" d="M1706 3325l10-3-6-9-10 5z"/><path class="e" d="M1526 3131l10-7-5-5-9 7zm5 5l9-8-4-4-10 7zm4 5l9-9-4-4-9 8zm4 5l9-10-4-4-9 9zm5 5l9-11-5-4-9 10zm4 5l9-11-4-5-9 11zm4 5l9-11-4-5-9 11zm5 6l9-12-5-5-9 11zm4 5l9-12-4-5-9 12zm5 5l9-11-5-6-9 12zm4 5l10-10-5-6-9 11zm5 6l9-8-4-8-10 10zm5 5l9-6-5-7-9 8z"/><path class="m" d="M1584 3199l10-5-5-7-9 6zm5 5l10-3-5-7-10 5zm5 6l9-4-4-5-10 3zm4 5l10-5-5-4-9 4zm5 6l10-6-5-5-10 5zm5 5l10-6-5-5-10 6zm5 6l10-6-5-6-10 6zm5 6l9-6-4-6-10 6zm5 6l9-6-5-6-9 6z"/><path class="e" d="M1628 3249l9-6-5-5-9 6zm4 6l10-7-5-5-9 6zm6 6l9-7-5-6-10 7zm5 6l9-7-5-6-9 7zm5 6l10-7-6-6-9 7zm5 6l10-7-5-6-10 7zm5 6l10-7-5-6-10 7zm5 6l10-7-5-6-10 7zm5 6l11-7-6-6-10 7z"/><path class="m" d="M1674 3304l10-7-5-7-11 7zm5 6l10-6-5-7-10 7zm6 6l10-5-6-7-10 6zm5 7l10-5-5-7-10 5zm5 6l11-4-6-7-10 5z"/></g>
<path d="M383.34 818.32h-3.3M382.32 806.46h-3.3M381.26 794.2h-3.3M380.17 781.51h-3.3M379.03 768.36h-3.3M377.86 754.74h-3.3M376.64 740.61h-3.3M425 871.11l-2.3 1.9M420.13 864.88l-2.3 1.9M415.4 858.82l-2.3 1.9M410.8 852.93l-2.3 1.9M406.31 847.2l-2.3 1.9M401.95 841.62l-2.3 1.9M397.7 836.18l-2.3 1.9M393.56 830.88l-2.3 1.9M389.52 825.72l-2.3 1.9M385.59 820.68l-2.3 1.9M427.19 870.26l0.3 3M436.59 866.65l0.3 3M445.84 863.09l0.3 3M454.94 859.58l0.3 3M463.9 856.13l0.3 3M472.73 852.74l0.3 3M481.42 849.39l0.3 3M489.98 846.1l0.3 3M498.41 842.86l0.3 3M506.71 839.66l0.3 3" stroke="#333" stroke-width="0.5" fill="none"/>
<text x="377.74" y="820.22" font-size="5.4" text-anchor="end" fill="#222">−60</text>
<text x="376.72" y="808.36" font-size="5.4" text-anchor="end" fill="#222">−40</text>
<text x="375.66" y="796.1" font-size="5.4" text-anchor="end" fill="#222">−20</text>
<text x="374.57" y="783.41" font-size="5.4" text-anchor="end" fill="#222">0</text>
<text x="373.43" y="770.26" font-size="5.4" text-anchor="end" fill="#222">20</text>
<text x="372.26" y="756.64" font-size="5.4" text-anchor="end" fill="#222">40</text>
<text x="371.04" y="742.51" font-size="5.4" text-anchor="end" fill="#222">60</text>
<text x="421" y="879.71" font-size="4.4" text-anchor="middle" fill="#222">0</text>
<text x="415.73" y="870.03" font-size="4.2" text-anchor="end" fill="#222">19.53125</text>
<text x="411" y="864.12" font-size="4.2" text-anchor="end" fill="#222">39.0625</text>
<text x="406.4" y="858.38" font-size="4.2" text-anchor="end" fill="#222">78.125</text>
<text x="401.91" y="852.8" font-size="4.2" text-anchor="end" fill="#222">156.25</text>
<text x="397.55" y="847.37" font-size="4.2" text-anchor="end" fill="#222">312.5</text>
<text x="393.3" y="842.08" font-size="4.2" text-anchor="end" fill="#222">625</text>
<text x="389.16" y="836.93" font-size="4.2" text-anchor="end" fill="#222">1,250</text>
<text x="385.12" y="831.92" font-size="4.2" text-anchor="end" fill="#222">2,500</text>
<text x="381.19" y="827.03" font-size="4.2" text-anchor="end" fill="#222">5,000</text>
<text x="427.49" y="879.86" font-size="4.4" text-anchor="middle" fill="#222">0</text>
<text x="436.59" y="875.1" font-size="4.2" fill="#222">19.53125</text>
<text x="445.84" y="871.39" font-size="4.2" fill="#222">39.0625</text>
<text x="454.94" y="867.73" font-size="4.2" fill="#222">78.125</text>
<text x="463.9" y="864.13" font-size="4.2" fill="#222">156.25</text>
<text x="472.73" y="860.59" font-size="4.2" fill="#222">312.5</text>
<text x="481.42" y="857.09" font-size="4.2" fill="#222">625</text>
<text x="489.98" y="853.65" font-size="4.2" fill="#222">1,250</text>
<text x="498.41" y="850.26" font-size="4.2" fill="#222">2,500</text>
<text x="506.71" y="846.91" font-size="4.2" fill="#222">5,000</text>
<text transform="translate(363.12 782.01) rotate(-86)" font-size="7.6" font-weight="bold" text-anchor="middle">Synergy score</text>
<text transform="translate(377.88 853.23) rotate(55)" font-size="7.9" font-weight="bold" text-anchor="middle">Ribociclib (nM)</text>
<text transform="translate(480.21 877.06) rotate(-21.5)" font-size="7.7" font-weight="bold" text-anchor="middle">BLU-222 (nM)</text>
<text x="443.1" y="687.8" font-size="9.5" font-weight="bold" text-anchor="middle">Abemaciclib<tspan font-size="5.8" dy="-3.6">R</tspan></text>
<text x="443.1" y="701.4" font-size="7.6" text-anchor="middle" fill="#222">MSA score: 18.1</text>
<text x="443.1" y="709.9" font-size="7.6" text-anchor="middle" fill="#222">Mean synergy: 3.47</text>
<g stroke="#333" stroke-width="0.5"><line x1="544.91" y1="739.88" x2="625.48" y2="718.67"/><line x1="625.48" y1="718.67" x2="677.28" y2="758.16"/><line x1="544.91" y1="739.88" x2="551.38" y2="814.63"/><line x1="677.28" y1="758.16" x2="670.14" y2="835.15"/><line x1="551.38" y1="814.63" x2="591.22" y2="865.4"/><line x1="591.22" y1="865.4" x2="670.14" y2="835.15"/><line x1="544.91" y1="739.88" x2="588.87" y2="785.86"/><line x1="677.28" y1="758.16" x2="588.87" y2="785.86"/><line x1="588.87" y1="785.86" x2="591.22" y2="865.4"/><line x1="625.48" y1="718.67" x2="623.99" y2="790.84" stroke-dasharray="1 1.2"/><line x1="551.38" y1="814.63" x2="623.99" y2="790.84" stroke-dasharray="1 1.2"/><line x1="623.99" y1="790.84" x2="670.14" y2="835.15" stroke-dasharray="1 1.2"/></g>
<g transform="scale(0.25)" stroke="#000" stroke-width="1.68" stroke-linejoin="round"><path class="c" d="M2496 3010l8 1-5-1-8 2zm5 0l8 1-5 0-8-1zm5 4l8 0-5-3-8-1zm5 10l8-3-5-7-8 0z"/><path class="b" d="M2516 3033l8-4-5-8-8 3zm5 3l8-2-5-5-8 4zm5-3l8 2-5-1-8 2zm5-6l8 6-5 2-8-2z"/><path class="a" d="M2537 3025l7 8-5 0-8-6zm5 5l8 6-6-3-7-8zm5 9l8 3-5-6-8-6z"/><path class="f" d="M2552 3048l8 1-5-7-8-3zm5 3l8 2-5-4-8-1zm6-2l8 5-6-1-8-2zm5-1l8 7-5-1-8-5zm6 5l7 7-5-5-8-7zm5 10l8 6-6-9-7-7zm5 12l8 4-5-10-8-6z"/><path class="a" d="M2589 3081l8 4-5-6-8-4zm6 0l8 4-6 0-8-4zm6-2l8 4-6 2-8-4z"/><path class="b" d="M2607 3083l8 2-6-2-8-4zm5 13l8-1-5-10-8-2zm4 20l9-5-5-16-8 1zm5 16l9-5-5-16-9 5z"/><path class="c" d="M2627 3140l8-5-5-8-9 5zm6-3l9-1-7-1-8 5zm7-6l8 2-6 3-9 1zm6 0l8 3-6-1-8-2zm5 12l9 1-6-10-8-3zm5 20l9-3-5-16-9-1zm5 16l9-3-5-16-9 3z"/><path class="d" d="M2667 3186l9-3-6-7-9 3zm7-2l8-2-6 1-9 3z"/><path class="e" d="M2680 3189l8-2-6-5-8 2zm5 9l9-3-6-8-8 2z"/><path class="c" d="M2488 3012l8-2-5 2-8 2zm5-1l8-1-5 0-8 2zm5 4l8-1-5-4-8 1z"/><path class="b" d="M2503 3024l8 0-5-10-8 1zm4 9l9 0-5-9-8 0zm5 3l9 0-5-3-9 0z"/><path class="a" d="M2518 3031l8 2-5 3-9 0zm5-8l8 4-5 6-8-2zm6-4l8 6-6 2-8-4z"/><path class="f" d="M2534 3023l8 7-5-5-8-6zm5 9l8 7-5-9-8-7z"/><path class="g" d="M2544 3042l8 6-5-9-8-7zm5 5l8 4-5-3-8-6zm6-2l8 4-6 2-8-4zm5-3l8 6-5 1-8-4zm6 2l8 9-6-5-8-6zm5 9l8 10-5-10-8-9z"/><path class="f" d="M2576 3065l8 10-5-12-8-10zm5 11l8 5-5-6-8-10zm6 4l8 1-6 0-8-5z"/><path class="a" d="M2592 3082l9-3-6 2-8-1zm6 5l9-4-6-4-9 3z"/><path class="b" d="M2603 3098l9-2-5-13-9 4zm5 17l8 1-4-20-9 2zm5 16l8 1-5-16-8-1zm6 8l8 1-6-8-8-1z"/><path class="c" d="M2625 3138l8-1-6 3-8-1zm6-4l9-3-7 6-8 1zm6 1l9-4-6 0-9 3zm6 11l8-3-5-12-9 4zm5 16l8 1-5-20-8 3zm5 15l8 2-5-16-8-1z"/><path class="d" d="M2659 3184l8 2-6-7-8-2zm6 1l9-1-7 2-8-2z"/><path class="e" d="M2671 3192l9-3-6-5-9 1zm6 9l8-3-5-9-9 3z"/><path class="c" d="M2480 3017l8-5-5 2-8 5zm5-2l8-4-5 1-8 5z"/><path class="b" d="M2490 3016l8-1-5-4-8 4zm5 7l8 1-5-9-8 1zm4 7l8 3-4-9-8-1z"/><path class="a" d="M2504 3034l8 2-5-3-8-3zm6-3l8 0-6 5-8-2z"/><path class="f" d="M2515 3023l8 0-5 8-8 0zm5-7l9 3-6 4-8 0z"/><path class="g" d="M2526 3016l8 7-5-4-9-3zm5 7l8 9-5-9-8-7z"/><path class="h" d="M2536 3033l8 9-5-10-8-9zm5 7l8 7-5-5-8-9zm5 1l9 4-6 2-8-7zm6-4l8 5-5 3-9-4zm6-1l8 8-6-2-8-5zm5 5l8 12-5-9-8-8z"/><path class="g" d="M2568 3054l8 11-5-12-8-12zm5 15l8 7-5-11-8-11zm5 12l9-1-6-4-8-7z"/><path class="f" d="M2584 3089l8-7-5-2-9 1z"/><path class="a" d="M2589 3094l9-7-6-5-8 7zm6 7l8-3-5-11-9 7zm5 10l8 4-5-17-8 3z"/><path class="b" d="M2605 3124l8 7-5-16-8-4zm6 10l8 5-6-8-8-7zm5 6l9-2-6 1-8-5z"/><path class="c" d="M2622 3142l9-8-6 4-9 2zm6 2l9-9-6-1-9 8zm6 5l9-3-6-11-9 9zm6 10l8 3-5-16-9 3zm5 11l8 7-5-15-8-3z"/><path class="d" d="M2651 3179l8 5-6-7-8-7zm6 7l8-1-6-1-8-5z"/><path class="e" d="M2662 3196l9-4-6-7-8 1zm6 8l9-3-6-9-9 4z"/><path class="c" d="M2472 3024l8-7-5 2-8 4z"/><path class="b" d="M2477 3021l8-6-5 2-8 7zm5-2l8-3-5-1-8 6zm4 1l9 3-5-7-8 3z"/><path class="a" d="M2491 3024l8 6-4-7-9-3zm5 5l8 5-5-4-8-6z"/><path class="f" d="M2501 3029l9 2-6 3-8-5zm6-4l8-2-5 8-9-2z"/><path class="g" d="M2512 3018l8-2-5 7-8 2z"/><path class="h" d="M2517 3013l9 3-6 0-8 2zm6 2l8 8-5-7-9-3z"/><path class="i" d="M2528 3022l8 11-5-10-8-8zm5 9l8 9-5-7-8-11zm5 3l8 7-5-1-8-9zm6-1l8 4-6 4-8-7zm5-2l9 5-6 1-8-4zm6 2l8 8-5-5-9-5z"/><path class="h" d="M2560 3045l8 9-5-13-8-8zm5 18l8 6-5-15-8-9z"/><path class="g" d="M2570 3082l8-1-5-12-8-6zm5 13l9-6-6-8-8 1z"/><path class="f" d="M2580 3102l9-8-5-5-9 6z"/><path class="a" d="M2586 3104l9-3-6-7-9 8zm6 4l8 3-5-10-9 3z"/><path class="b" d="M2597 3117l8 7-5-13-8-3zm5 12l9 5-6-10-8-7zm6 13l8-2-5-6-9-5z"/><path class="c" d="M2613 3150l9-8-6-2-8 2zm6 3l9-9-6-2-9 8zm6 0l9-4-6-5-9 9zm6 3l9 3-6-10-9 4zm6 6l8 8-5-11-9-3zm6 12l8 5-6-9-8-8z"/><path class="d" d="M2648 3187l9-1-6-7-8-5z"/><path class="e" d="M2654 3199l8-3-5-10-9 1zm5 8l9-3-6-8-8 3z"/><path class="c" d="M2464 3030l8-6-5-1-8 4z"/><path class="b" d="M2468 3028l9-7-5 3-8 6zm5-5l9-4-5 2-9 7zm5-4l8 1-4-1-9 4z"/><path class="a" d="M2483 3019l8 5-5-4-8-1zm5 3l8 7-5-5-8-5z"/><path class="f" d="M2493 3025l8 4-5 0-8-7z"/><path class="g" d="M2498 3025l9 0-6 4-8-4z"/><path class="h" d="M2504 3021l8-3-5 7-9 0zm5-6l8-2-5 5-8 3z"/><path class="i" d="M2514 3011l9 4-6-2-8 2z"/><path class="j" d="M2520 3013l8 9-5-7-9-4zm5 6l8 12-5-9-8-9zm5 6l8 9-5-3-8-12zm5 4l9 4-6 1-8-9zm6 1l8 1-5 2-9-4zm5 3l9 0-6-2-8-1z"/><path class="i" d="M2552 3043l8 2-5-12-9 0zm5 17l8 3-5-18-8-2z"/><path class="h" d="M2561 3080l9 2-5-19-8-3z"/><path class="g" d="M2566 3096l9-1-5-13-9-2zm6 8l8-2-5-7-9 1z"/><path class="f" d="M2578 3106l8-2-6-2-8 2z"/><path class="a" d="M2583 3108l9 0-6-4-8 2zm6 6l8 3-5-9-9 0z"/><path class="b" d="M2594 3127l8 2-5-12-8-3zm5 15l9 0-6-13-8-2zm6 11l8-3-5-8-9 0z"/><path class="c" d="M2610 3158l9-5-6-3-8 3zm7-2l8-3-6 0-9 5zm6-1l8 1-6-3-8 3zm6 4l8 3-6-6-8-1zm5 12l9 3-6-12-8-3z"/><path class="d" d="M2639 3188l9-1-5-13-9-3z"/><path class="e" d="M2645 3203l9-4-6-12-9 1zm6 7l8-3-5-8-9 4z"/><path class="b" d="M2455 3033l9-3-5-3-8 1zm5 1l8-6-4 2-9 3zm5-5l8-6-5 5-8 6z"/><path class="a" d="M2470 3021l8-2-5 4-8 6zm5-5l8 3-5 0-8 2z"/><path class="f" d="M2480 3015l8 7-5-3-8-3z"/><path class="g" d="M2485 3019l8 6-5-3-8-7zm5 4l8 2-5 0-8-6z"/><path class="h" d="M2495 3024l9-3-6 4-8-2z"/><path class="i" d="M2500 3019l9-4-5 6-9 3z"/><path class="j" d="M2506 3012l8-1-5 4-9 4zm5-5l9 6-6-2-8 1z"/><path class="k" d="M2517 3008l8 11-5-6-9-6zm5 7l8 10-5-6-8-11zm5 9l8 5-5-4-8-10zm5 8l9-2-6-1-8-5z"/><path class="j" d="M2538 3039l8-6-5-3-9 2zm5 8l9-4-6-10-8 6z"/><path class="i" d="M2548 3059l9 1-5-17-9 4z"/><path class="h" d="M2553 3074l8 6-4-20-9-1zm5 15l8 7-5-16-8-6z"/><path class="g" d="M2563 3101l9 3-6-8-8-7z"/><path class="f" d="M2569 3108l9-2-6-2-9-3zm6 4l8-4-5-2-9 2z"/><path class="a" d="M2580 3117l9-3-6-6-8 4zm6 10l8 0-5-13-9 3z"/><path class="b" d="M2591 3139l8 3-5-15-8 0zm5 12l9 2-6-11-8-3zm6 7l8 0-5-5-9-2z"/><path class="c" d="M2608 3159l9-3-7 2-8 0zm6-1l9-3-6 1-9 3zm6 2l9-1-6-4-9 3zm6 12l8-1-5-12-9 1z"/><path class="d" d="M2631 3190l8-2-5-17-8 1z"/><path class="e" d="M2636 3206l9-3-6-15-8 2zm6 7l9-3-6-7-9 3z"/><path class="b" d="M2447 3032l8 1-4-5-8-2zm5 4l8-2-5-1-8-1zm5-2l8-5-5 5-8 2z"/><path class="a" d="M2462 3026l8-5-5 8-8 5zm5-10l8 0-5 5-8 5z"/><path class="f" d="M2472 3010l8 5-5 1-8 0z"/><path class="g" d="M2477 3012l8 7-5-4-8-5z"/><path class="h" d="M2482 3018l8 5-5-4-8-7z"/><path class="i" d="M2487 3023l8 1-5-1-8-5z"/><path class="j" d="M2492 3022l8-3-5 5-8-1zm5-8l9-2-6 7-8 3z"/><path class="k" d="M2503 3005l8 2-5 5-9 2zm5-4l9 7-6-1-8-2zm6 6l8 8-5-7-9-7zm5 14l8 3-5-9-8-8zm5 16l8-5-5-8-8-3zm5 11l9-9-6-7-8 5z"/><path class="j" d="M2534 3054l9-7-5-8-9 9z"/><path class="i" d="M2540 3058l8 1-5-12-9 7zm5 7l8 9-5-15-8-1z"/><path class="h" d="M2550 3078l8 11-5-15-8-9zm5 16l8 7-5-12-8-11z"/><path class="g" d="M2560 3107l9 1-6-7-8-7z"/><path class="f" d="M2566 3117l9-5-6-4-9-1zm5 5l9-5-5-5-9 5z"/><path class="a" d="M2577 3127l9 0-6-10-9 5zm6 8l8 4-5-12-9 0z"/><path class="b" d="M2588 3146l8 5-5-12-8-4zm5 9l9 3-6-7-8-5zm6 6l9-2-6-1-9-3z"/><path class="c" d="M2605 3163l9-5-6 1-9 2zm6 3l9-6-6-2-9 5zm6 10l9-4-6-12-9 6z"/><path class="d" d="M2622 3193l9-3-5-18-9 4z"/><path class="e" d="M2627 3208l9-2-5-16-9 3zm6 9l9-4-6-7-9 2z"/><path class="b" d="M2439 3028l8 4-4-6-9-4zm5 7l8 1-5-4-8-4z"/><path class="a" d="M2449 3038l8-4-5 2-8-1zm4-6l9-6-5 8-8 4z"/><path class="f" d="M2458 3020l9-4-5 10-9 6z"/><path class="g" d="M2463 3010l9 0-5 6-9 4zm5-4l9 6-5-2-9 0z"/><path class="h" d="M2473 3011l9 7-5-6-9-6z"/><path class="i" d="M2478 3018l9 5-5-5-9-7z"/><path class="j" d="M2484 3020l8 2-5 1-9-5z"/><path class="k" d="M2489 3014l8 0-5 8-8-2z"/><path class="l" d="M2494 3004l9 1-6 9-8 0zm6-5l8 2-5 4-9-1zm5 6l9 2-6-6-8-2z"/><path class="k" d="M2510 3022l9-1-5-14-9-2zm5 19l9-4-5-16-9 1zm5 13l9-6-5-11-9 4z"/><path class="j" d="M2525 3057l9-3-5-6-9 6zm6-2l9 3-6-4-9 3z"/><path class="i" d="M2537 3056l8 9-5-7-9-3zm5 10l8 12-5-13-8-9z"/><path class="h" d="M2547 3084l8 10-5-16-8-12zm5 19l8 4-5-13-8-10z"/><path class="g" d="M2557 3117l9 0-6-10-8-4zm6 6l8-1-5-5-9 0z"/><path class="f" d="M2568 3126l9 1-6-5-8 1z"/><path class="a" d="M2574 3131l9 4-6-8-9-1zm6 9l8 6-5-11-9-4z"/><path class="b" d="M2585 3153l8 2-5-9-8-6zm5 10l9-2-6-6-8-2z"/><path class="c" d="M2596 3170l9-7-6-2-9 2zm6 4l9-8-6-3-9 7zm6 7l9-5-6-10-9 8z"/><path class="d" d="M2613 3196l9-3-5-17-9 5z"/><path class="e" d="M2618 3211l9-3-5-15-9 3zm6 9l9-3-6-9-9 3z"/><path class="b" d="M2431 3024l8 4-5-6-8-3zm4 8l9 3-5-7-8-4z"/><path class="a" d="M2440 3037l9 1-5-3-9-3zm5-2l8-3-4 6-9-1z"/><path class="f" d="M2450 3024l8-4-5 12-8 3z"/><path class="g" d="M2455 3012l8-2-5 10-8 4z"/><path class="h" d="M2460 3004l8 2-5 4-8 2z"/><path class="i" d="M2465 3004l8 7-5-5-8-2z"/><path class="j" d="M2470 3007l8 11-5-7-8-7z"/><path class="k" d="M2475 3009l9 11-6-2-8-11z"/><path class="l" d="M2480 3007l9 7-5 6-9-11zm6-6l8 3-5 10-9-7zm5 0l9-2-6 5-8-3zm5 8l9-4-5-6-9 2zm5 16l9-3-5-17-9 4z"/><path class="k" d="M2506 3043l9-2-5-19-9 3zm5 10l9 1-5-13-9 2zm6 1l8 3-5-3-9-1z"/><path class="j" d="M2522 3050l9 5-6 2-8-3zm6-1l9 7-6-1-9-5zm6 8l8 9-5-10-9-7zm5 18l8 9-5-18-8-9z"/><path class="i" d="M2544 3094l8 9-5-19-8-9z"/><path class="h" d="M2549 3109l8 8-5-14-8-9zm5 8l9 6-6-6-8-8z"/><path class="g" d="M2560 3121l8 5-5-3-9-6z"/><path class="f" d="M2566 3127l8 4-6-5-8-5z"/><path class="a" d="M2571 3139l9 1-6-9-8-4zm5 14l9 0-5-13-9-1z"/><path class="b" d="M2582 3167l8-4-5-10-9 0zm5 8l9-5-6-7-8 4z"/><path class="c" d="M2593 3180l9-6-6-4-9 5zm6 7l9-6-6-7-9 6z"/><path class="d" d="M2604 3200l9-4-5-15-9 6z"/><path class="e" d="M2610 3215l8-4-5-15-9 4zm5 8l9-3-6-9-8 4z"/><path class="b" d="M2422 3021l9 3-5-5-8-2zm5 8l8 3-4-8-9-3z"/><path class="a" d="M2432 3034l8 3-5-5-8-3z"/><path class="f" d="M2437 3034l8 1-5 2-8-3zm4-7l9-3-5 11-8-1z"/><path class="g" d="M2446 3016l9-4-5 12-9 3z"/><path class="i" d="M2451 3005l9-1-5 8-9 4z"/><path class="j" d="M2456 2998l9 6-5 0-9 1z"/><path class="k" d="M2461 2995l9 12-5-3-9-6z"/><path class="l" d="M2467 2994l8 15-5-2-9-12zm5 0l8 13-5 2-8-15zm5 3l9 4-6 6-8-13zm5 7l9-3-5 0-9-4zm5 12l9-7-5-8-9 3zm5 14l9-5-5-16-9 7zm6 12l8 1-5-18-9 5z"/><path class="k" d="M2503 3047l8 6-5-10-8-1zm5-2l9 9-6-1-8-6zm6-2l8 7-5 4-9-9zm5 1l9 5-6 1-8-7zm6 8l9 5-6-8-9-5zm5 14l9 9-5-18-9-5z"/><path class="j" d="M2535 3081l9 13-5-19-9-9zm6 13l8 15-5-15-9-13z"/><path class="i" d="M2546 3104l8 13-5-8-8-15z"/><path class="h" d="M2551 3113l9 8-6-4-8-13z"/><path class="g" d="M2557 3125l9 2-6-6-9-8z"/><path class="f" d="M2562 3141l9-2-5-12-9-2z"/><path class="a" d="M2567 3158l9-5-5-14-9 2z"/><path class="b" d="M2573 3171l9-4-6-14-9 5zm5 9l9-5-5-8-9 4z"/><path class="c" d="M2584 3186l9-6-6-5-9 5zm6 7l9-6-6-7-9 6z"/><path class="d" d="M2595 3205l9-5-5-13-9 6z"/><path class="e" d="M2601 3218l9-3-6-15-9 5zm5 8l9-3-5-8-9 3z"/><path class="b" d="M2414 3021l8 0-4-4-9 2z"/><path class="a" d="M2419 3025l8 4-5-8-8 0zm4 5l9 4-5-5-8-4z"/><path class="f" d="M2428 3031l9 3-5 0-9-4z"/><path class="g" d="M2433 3027l8 0-4 7-9-3z"/><path class="h" d="M2438 3018l8-2-5 11-8 0z"/><path class="i" d="M2443 3006l8-1-5 11-8 2z"/><path class="k" d="M2448 2993l8 5-5 7-8 1z"/><path class="l" d="M2453 2982l8 13-5 3-8-5zm5-4l9 16-6 1-8-13zm5 2l9 14-5 0-9-16zm5 11l9 6-5-3-9-14zm5 14l9-1-5-7-9-6zm5 16l9-5-5-12-9 1zm6 11l8-2-5-14-9 5zm5 6l9 4-6-12-8 2zm5 1l9 8-5-5-9-4z"/><path class="k" d="M2500 3038l8 7-5 2-9-8z"/><path class="l" d="M2505 3038l9 5-6 2-8-7zm6 4l8 2-5-1-9-5zm5 7l9 3-6-8-8-2zm5 8l9 9-5-14-9-3zm6 9l8 15-5-15-9-9z"/><path class="k" d="M2532 3076l9 18-6-13-8-15z"/><path class="j" d="M2538 3089l8 15-5-10-9-18z"/><path class="i" d="M2543 3106l8 7-5-9-8-15z"/><path class="h" d="M2548 3126l9-1-6-12-8-7z"/><path class="f" d="M2553 3147l9-6-5-16-9 1z"/><path class="a" d="M2558 3165l9-7-5-17-9 6z"/><path class="b" d="M2563 3179l10-8-6-13-9 7z"/><path class="c" d="M2569 3188l9-8-5-9-10 8zm6 6l9-8-6-6-9 8z"/><path class="d" d="M2580 3201l10-8-6-7-9 8zm6 10l9-6-5-12-10 8z"/><path class="e" d="M2592 3221l9-3-6-13-9 6zm5 8l9-3-5-8-9 3z"/><path class="b" d="M2406 3023l8-2-5-2-8 4z"/><path class="a" d="M2410 3024l9 1-5-4-8 2zm5 2l8 4-4-5-9-1z"/><path class="f" d="M2420 3027l8 4-5-1-8-4z"/><path class="g" d="M2424 3026l9 1-5 4-8-4z"/><path class="i" d="M2429 3018l9 0-5 9-9-1z"/><path class="j" d="M2434 3005l9 1-5 12-9 0z"/><path class="l" d="M2439 2988l9 5-5 13-9-1zm5-15l9 9-5 11-9-5zm5-7l9 12-5 4-9-9zm5 4l9 10-5-2-9-12zm5 14l9 7-5-11-9-10zm6 19l8 2-5-14-9-7zm5 16l8 2-5-16-8-2zm5 11l9 2-6-11-8-2zm5 5l9 3-5-6-9-2zm5 1l9 3-5-1-9-3zm6 2l9 0-6 1-9-3zm5 2l9-2-5 0-9 0zm6 4l9-2-6-4-9 2zm5 3l9 2-5-7-9 2zm6 3l8 7-5-8-9-2zm5 5l9 11-6-9-8-7zm6 9l8 12-5-10-9-11z"/><path class="k" d="M2529 3081l9 8-6-13-8-12z"/><path class="j" d="M2534 3103l9 3-5-17-9-8z"/><path class="h" d="M2539 3128l9-2-5-20-9-3z"/><path class="g" d="M2544 3153l9-6-5-21-9 2z"/><path class="a" d="M2549 3174l9-9-5-18-9 6z"/><path class="b" d="M2554 3190l9-11-5-14-9 9z"/><path class="c" d="M2560 3201l9-13-6-9-9 11z"/><path class="d" d="M2565 3207l10-13-6-6-9 13zm6 4l9-10-5-7-10 13zm6 5l9-5-6-10-9 10z"/><path class="e" d="M2583 3224l9-3-6-10-9 5zm5 8l9-3-5-8-9 3z"/><path class="b" d="M2397 3026l9-3-5 0-8 5z"/><path class="a" d="M2402 3024l8 0-4-1-9 3zm4 0l9 2-5-2-8 0z"/><path class="f" d="M2411 3025l9 2-5-1-9-2z"/><path class="h" d="M2416 3023l8 3-4 1-9-2z"/><path class="i" d="M2421 3016l8 2-5 8-8-3z"/><path class="k" d="M2425 3002l9 3-5 13-8-2z"/><path class="l" d="M2430 2985l9 3-5 17-9-3zm5-15l9 3-5 15-9-3zm5-7l9 3-5 7-9-3zm5 4l9 3-5-4-9-3zm6 13l8 4-5-14-9-3zm5 17l9 6-6-19-8-4zm5 15l9 7-5-16-9-6zm5 13l9 5-5-11-9-7zm5 9l9 1-5-5-9-5zm5 7l9-5-5-1-9-1zm6 6l9-9-6-2-9 5zm5 3l9-10-5-2-9 9zm6 0l9-6-6-4-9 10zm5-3l9 0-5-3-9 6zm6-1l9 4-6-3-9 0zm5 5l9 4-5-5-9-4zm6 12l9 1-6-9-9-4zm5 20l9-2-5-17-9-1z"/><path class="j" d="M2525 3108l9-5-5-22-9 2z"/><path class="i" d="M2530 3134l9-6-5-25-9 5z"/><path class="g" d="M2535 3159l9-6-5-25-9 6z"/><path class="a" d="M2540 3183l9-9-5-21-9 6z"/><path class="c" d="M2545 3204l9-14-5-16-9 9z"/><path class="e" d="M2550 3219l10-18-6-11-9 14zm6 7l9-19-5-6-10 18zm6-1l9-14-6-4-9 19zm6-3l9-6-6-5-9 14zm6 5l9-3-6-8-9 6z"/><path class="m" d="M2579 3235l9-3-5-8-9 3z"/><path class="b" d="M2389 3030l8-4-4 2-9 6z"/><path class="a" d="M2393 3027l9-3-5 2-8 4z"/><path class="f" d="M2398 3025l8-1-4 0-9 3z"/><path class="g" d="M2403 3024l8 1-5-1-8 1z"/><path class="h" d="M2407 3021l9 2-5 2-8-1z"/><path class="j" d="M2412 3013l9 3-5 7-9-2z"/><path class="k" d="M2417 2999l8 3-4 14-9-3z"/><path class="l" d="M2421 2983l9 2-5 17-8-3zm5-12l9-1-5 15-9-2zm5-4l9-4-5 7-9 1zm5 3l9-3-5-4-9 4zm6 10l9 0-6-13-9 3zm5 11l9 6-5-17-9 0zm5 14l9 7-5-15-9-6zm5 15l9 5-5-13-9-7zm5 16l9-2-5-9-9-5zm5 16l9-11-5-7-9 2zm6 11l9-16-6-6-9 11zm5 3l9-16-5-3-9 16zm5-5l10-11-6 0-9 16zm6-8l9-6-5 3-10 11zm6-3l9-4-6 1-9 6zm5 7l9-6-5-5-9 4zm5 16l10-10-6-12-9 6zm6 23l9-13-5-20-10 10z"/><path class="j" d="M2516 3119l9-11-5-25-9 13z"/><path class="h" d="M2521 3141l9-7-5-26-9 11z"/><path class="f" d="M2526 3165l9-6-5-25-9 7z"/><path class="b" d="M2531 3192l9-9-5-24-9 6z"/><path class="e" d="M2535 3219l10-15-5-21-9 9z"/><path class="n" d="M2540 3241l10-22-5-15-10 15z"/><path class="o" d="M2546 3247l10-21-6-7-10 22zm6-8l10-14-6 1-10 21z"/><path class="n" d="M2559 3228l9-6-6 3-10 14z"/><path class="e" d="M2565 3230l9-3-6-5-9 6z"/><path class="m" d="M2570 3239l9-4-5-8-9 3z"/><path class="a" d="M2380 3036l9-6-5 4-8 4zm5-5l8-4-4 3-9 6z"/><path class="f" d="M2389 3028l9-3-5 2-8 4z"/><path class="g" d="M2394 3025l9-1-5 1-9 3z"/><path class="h" d="M2398 3020l9 1-4 3-9 1z"/><path class="j" d="M2403 3010l9 3-5 8-9-1z"/><path class="l" d="M2408 2997l9 2-5 14-9-3zm5-12l8-2-4 16-9-2zm4-9l9-5-5 12-8 2zm5-3l9-6-5 4-9 5zm5 3l9-6-5-3-9 6zm6 6l9-2-6-10-9 6zm5 8l9 1-5-11-9 2zm5 12l9 3-5-14-9-1zm5 18l9 0-5-15-9-3zm5 23l9-7-5-16-9 0zm5 22l9-13-5-16-9 7z"/><path class="k" d="M2463 3079l10-16-6-11-9 13zm6 3l9-16-5-3-10 16z"/><path class="l" d="M2474 3075l9-14-5 5-9 16zm6-10l9-12-6 8-9 14zm5-3l10-12-6 3-9 12zm6 9l9-14-5-7-10 12zm5 19l9-17-5-16-9 14z"/><path class="k" d="M2501 3112l10-16-6-23-9 17z"/><path class="i" d="M2506 3132l10-13-5-23-10 16z"/><path class="h" d="M2512 3150l9-9-5-22-10 13z"/><path class="a" d="M2517 3172l9-7-5-24-9 9z"/><path class="c" d="M2521 3201l10-9-5-27-9 7z"/><path class="n" d="M2526 3233l9-14-4-27-10 9z"/><path class="t" d="M2531 3257l9-16-5-22-9 14z"/><path class="q" d="M2537 3264l9-17-6-6-9 16z"/><path class="t" d="M2543 3252l9-13-6 8-9 17z"/><path class="o" d="M2549 3235l10-7-7 11-9 13z"/><path class="m" d="M2555 3233l10-3-6-2-10 7zm6 9l9-3-5-9-10 3z"/><path class="a" d="M2372 3041l8-5-4 2-9 4zm4-4l9-6-5 5-8 5z"/><path class="f" d="M2381 3032l8-4-4 3-9 6z"/><path class="g" d="M2385 3026l9-1-5 3-8 4z"/><path class="h" d="M2390 3019l8 1-4 5-9 1z"/><path class="j" d="M2394 3010l9 0-5 10-8-1z"/><path class="l" d="M2399 2999l9-2-5 13-9 0zm5-11l9-3-5 12-9 2zm4-8l9-4-4 9-9 3zm5-3l9-4-5 3-9 4zm5 2l9-3-5-3-9 4zm6 6l9-3-6-6-9 3zm5 10l9-5-5-8-9 3zm5 14l9-7-5-12-9 5zm5 20l9-9-5-18-9 7zm5 23l9-9-5-23-9 9z"/><path class="k" d="M2449 3074l9-9-5-22-9 9zm5 15l9-10-5-14-9 9z"/><path class="j" d="M2460 3094l9-12-6-3-9 10z"/><path class="k" d="M2465 3090l9-15-5 7-9 12zm5-6l10-19-6 10-9 15zm6-1l9-21-5 3-10 19zm5 8l10-20-6-9-9 21z"/><path class="j" d="M2487 3107l9-17-5-19-10 20z"/><path class="i" d="M2492 3126l9-14-5-22-9 17z"/><path class="h" d="M2497 3143l9-11-5-20-9 14z"/><path class="g" d="M2502 3160l10-10-6-18-9 11z"/><path class="a" d="M2507 3180l10-8-5-22-10 10z"/><path class="d" d="M2512 3208l9-7-4-29-10 8z"/><path class="o" d="M2517 3239l9-6-5-32-9 7z"/><path class="q" d="M2522 3264l9-7-5-24-9 6z"/><path class="r" d="M2527 3271l10-7-6-7-9 7z"/><path class="q" d="M2534 3258l9-6-6 12-10 7z"/><path class="o" d="M2540 3240l9-5-6 17-9 6z"/><path class="n" d="M2546 3237l9-4-6 2-9 5z"/><path class="m" d="M2552 3245l9-3-6-9-9 4z"/><path class="a" d="M2363 3045l9-4-5 1-8 1zm5-3l8-5-4 4-9 4z"/><path class="f" d="M2372 3036l9-4-5 5-8 5z"/><path class="g" d="M2377 3028l8-2-4 6-9 4z"/><path class="i" d="M2381 3020l9-1-5 7-8 2z"/><path class="j" d="M2385 3011l9-1-4 9-9 1z"/><path class="l" d="M2390 3002l9-3-5 11-9 1zm5-11l9-3-5 11-9 3zm4-9l9-2-4 8-9 3zm5-5l9 0-5 3-9 2zm5 3l9-1-5-2-9 0zm5 10l10-5-6-6-9 1zm6 16l9-11-5-10-10 5zm5 19l9-16-5-14-9 11zm5 19l9-15-5-20-9 16z"/><path class="k" d="M2435 3062l9-10-5-23-9 15z"/><path class="j" d="M2440 3078l9-4-5-22-9 10zm5 13l9-2-5-15-9 4z"/><path class="i" d="M2451 3100l9-6-6-5-9 2zm5 5l9-15-5 4-9 6zm5 1l9-22-5 6-9 15zm6 2l9-25-6 1-9 22zm5 5l9-22-5-8-9 25zm5 9l10-15-6-16-9 22z"/><path class="h" d="M2483 3135l9-9-5-19-10 15z"/><path class="g" d="M2488 3151l9-8-5-17-9 9z"/><path class="f" d="M2493 3168l9-8-5-17-9 8z"/><path class="b" d="M2498 3188l9-8-5-20-9 8z"/><path class="e" d="M2503 3212l9-4-5-28-9 8z"/><path class="o" d="M2508 3237l9 2-5-31-9 4z"/><path class="r" d="M2513 3257l9 7-5-25-9-2zm6 7l8 7-5-7-9-7z"/><path class="q" d="M2525 3257l9 1-7 13-8-7z"/><path class="o" d="M2531 3244l9-4-6 18-9-1z"/><path class="n" d="M2537 3242l9-5-6 3-9 4z"/><path class="m" d="M2543 3248l9-3-6-8-9 5z"/><path class="a" d="M2355 3048l8-3-4-2-9 1zm4-2l9-4-5 3-8 3z"/><path class="f" d="M2363 3039l9-3-4 6-9 4z"/><path class="g" d="M2368 3030l9-2-5 8-9 3z"/><path class="i" d="M2372 3021l9-1-4 8-9 2z"/><path class="k" d="M2377 3013l8-2-4 9-9 1z"/><path class="l" d="M2381 3005l9-3-5 9-8 2zm5-12l9-2-5 11-9 3zm4-12l9 1-4 9-9 2zm5-6l9 2-5 5-9-1zm5 4l9 1-5-3-9-2zm5 16l9-5-5-10-9-1zm6 24l9-13-6-16-9 5zm5 24l9-18-5-19-9 13zm5 18l9-17-5-19-9 18z"/><path class="k" d="M2426 3071l9-9-5-18-9 17z"/><path class="j" d="M2431 3079l9-1-5-16-9 9z"/><path class="i" d="M2436 3089l9 2-5-13-9 1zm6 13l9-2-6-9-9-2z"/><path class="h" d="M2447 3116l9-11-5-5-9 2zm5 10l9-20-5-1-9 11zm5 5l10-23-6-2-9 20zm6 1l9-19-5-5-10 23zm5 2l9-12-5-9-9 19z"/><path class="g" d="M2473 3142l10-7-6-13-9 12z"/><path class="f" d="M2479 3156l9-5-5-16-10 7z"/><path class="a" d="M2484 3174l9-6-5-17-9 5z"/><path class="b" d="M2489 3193l9-5-5-20-9 6z"/><path class="e" d="M2494 3212l9 0-5-24-9 5z"/><path class="o" d="M2500 3229l8 8-5-25-9 0z"/><path class="q" d="M2505 3242l8 15-5-20-8-8zm5 7l9 15-6-7-8-15zm6 0l9 8-6 7-9-15z"/><path class="o" d="M2522 3246l9-2-6 13-9-8z"/><path class="n" d="M2528 3246l9-4-6 2-9 2z"/><path class="m" d="M2534 3251l9-3-6-6-9 4z"/><path class="a" d="M2346 3049l9-1-5-4-8 0z"/><path class="f" d="M2351 3048l8-2-4 2-9 1zm4-7l8-2-4 7-8 2z"/><path class="h" d="M2359 3032l9-2-5 9-8 2z"/><path class="i" d="M2363 3023l9-2-4 9-9 2z"/><path class="k" d="M2368 3014l9-1-5 8-9 2z"/><path class="l" d="M2372 3005l9 0-4 8-9 1zm5-13l9 1-5 12-9 0zm4-12l9 1-4 12-9-1zm5-6l9 1-5 6-9-1zm5 7l9-2-5-4-9-1zm5 22l9-8-5-16-9 2zm6 29l9-13-6-24-9 8zm5 26l9-15-5-24-9 13z"/><path class="k" d="M2412 3073l9-12-5-18-9 15z"/><path class="j" d="M2417 3079l9-8-5-10-9 12z"/><path class="i" d="M2422 3081l9-2-5-8-9 8z"/><path class="h" d="M2427 3088l9 1-5-10-9 2zm6 15l9-1-6-13-9-1zm5 19l9-6-5-14-9 1z"/><path class="g" d="M2443 3138l9-12-5-10-9 6zm5 8l9-15-5-5-9 12zm5 0l10-14-6-1-9 15zm6-2l9-10-5-2-10 14z"/><path class="f" d="M2464 3148l9-6-5-8-9 10zm5 12l10-4-6-14-9 6z"/><path class="a" d="M2475 3177l9-3-5-18-10 4z"/><path class="b" d="M2480 3194l9-1-5-19-9 3z"/><path class="d" d="M2485 3207l9 5-5-19-9 1z"/><path class="n" d="M2491 3218l9 11-6-17-9-5z"/><path class="o" d="M2496 3226l9 16-5-13-9-11z"/><path class="p" d="M2502 3233l8 16-5-7-9-16z"/><path class="o" d="M2507 3240l9 9-6 0-8-16z"/><path class="n" d="M2513 3245l9 1-6 3-9-9z"/><path class="m" d="M2519 3249l9-3-6 0-9-1zm5 6l10-4-6-5-9 3z"/><path class="a" d="M2337 3048l9 1-4-5-9 1z"/><path class="f" d="M2342 3048l9 0-5 1-9-1z"/><path class="g" d="M2346 3043l9-2-4 7-9 0z"/><path class="h" d="M2350 3034l9-2-4 9-9 2z"/><path class="i" d="M2354 3024l9-1-4 9-9 2z"/><path class="k" d="M2359 3013l9 1-5 9-9 1z"/><path class="l" d="M2363 3002l9 3-4 9-9-1zm4-12l10 2-5 13-9-3zm5-10l9 0-4 12-10-2zm5-1l9-5-5 6-9 0zm5 11l9-9-5-7-9 5zm5 23l9-10-5-22-9 9zm6 28l9-9-6-29-9 10zm5 24l9-7-5-26-9 9z"/><path class="k" d="M2403 3080l9-7-5-15-9 7z"/><path class="j" d="M2408 3085l9-6-5-6-9 7z"/><path class="i" d="M2413 3087l9-6-5-2-9 6z"/><path class="h" d="M2418 3093l9-5-5-7-9 6z"/><path class="g" d="M2423 3106l10-3-6-15-9 5zm6 18l9-2-5-19-10 3zm5 17l9-3-5-16-9 2zm5 10l9-5-5-8-9 3z"/><path class="f" d="M2444 3155l9-9-5 0-9 5zm6 0l9-11-6 2-9 9zm5 3l9-10-5-4-9 11z"/><path class="a" d="M2460 3167l9-7-5-12-9 10zm6 12l9-2-6-17-9 7z"/><path class="b" d="M2471 3191l9 3-5-17-9 2z"/><path class="c" d="M2476 3201l9 6-5-13-9-3z"/><path class="e" d="M2482 3208l9 10-6-11-9-6z"/><path class="n" d="M2487 3215l9 11-5-8-9-10zm6 8l9 10-6-7-9-11zm5 10l9 7-5-7-9-10z"/><path class="e" d="M2504 3243l9 2-6-5-9-7zm5 8l10-2-6-4-9-2z"/><path class="m" d="M2515 3258l9-3-5-6-10 2z"/><path class="a" d="M2329 3049l8-1-4-3-9 3z"/><path class="f" d="M2333 3048l9 0-5 0-8 1z"/><path class="g" d="M2337 3044l9-1-4 5-9 0z"/><path class="h" d="M2341 3036l9-2-4 9-9 1z"/><path class="j" d="M2346 3025l8-1-4 10-9 2z"/><path class="k" d="M2350 3011l9 2-5 11-8 1z"/><path class="l" d="M2354 2998l9 4-4 11-9-2zm4-9l9 1-4 12-9-4zm5-3l9-6-5 10-9-1zm5 5l9-12-5 1-9 6zm5 14l9-15-5-11-9 12zm5 20l9-12-5-23-9 15zm6 21l9-5-6-28-9 12zm5 20l9-1-5-24-9 5z"/><path class="k" d="M2394 3081l9-1-5-15-9 1z"/><path class="i" d="M2399 3091l9-6-5-5-9 1z"/><path class="h" d="M2404 3098l9-11-5-2-9 6zm5 6l9-11-5-6-9 11z"/><path class="g" d="M2414 3113l9-7-5-13-9 11zm5 12l10-1-6-18-9 7z"/><path class="f" d="M2425 3137l9 4-5-17-10 1zm5 12l9 2-5-10-9-4zm5 9l9-3-5-4-9-2zm5 7l10-10-6 0-9 3z"/><path class="a" d="M2446 3170l9-12-5-3-10 10zm5 5l9-8-5-9-9 12zm5 5l10-1-6-12-9 8z"/><path class="b" d="M2462 3187l9 4-5-12-10 1z"/><path class="c" d="M2467 3196l9 5-5-10-9-4zm6 8l9 4-6-7-9-5z"/><path class="d" d="M2478 3213l9 2-5-7-9-4z"/><path class="e" d="M2483 3221l10 2-6-8-9-2zm6 9l9 3-5-10-10-2zm5 12l10 1-6-10-9-3zm6 11l9-2-5-8-10-1zm6 8l9-3-6-7-9 2z"/><path class="a" d="M2320 3051l9-2-5-1-8 5z"/><path class="f" d="M2324 3049l9-1-4 1-9 2z"/><path class="g" d="M2328 3045l9-1-4 4-9 1z"/><path class="h" d="M2332 3038l9-2-4 8-9 1z"/><path class="j" d="M2337 3026l9-1-5 11-9 2z"/><path class="k" d="M2341 3011l9 0-4 14-9 1z"/><path class="l" d="M2345 2999l9-1-4 13-9 0zm4-5l9-5-4 9-9 1zm5 4l9-12-5 3-9 5zm5 11l9-18-5-5-9 12zm5 14l9-18-5-14-9 18zm5 15l9-13-5-20-9 18zm5 13l10-5-6-21-9 13zm6 14l9 1-5-20-10 5z"/><path class="j" d="M2385 3080l9 1-5-15-9-1z"/><path class="i" d="M2390 3096l9-5-5-10-9-1z"/><path class="h" d="M2395 3109l9-11-5-7-9 5z"/><path class="g" d="M2400 3118l9-14-5-6-9 11zm5 4l9-9-5-9-9 14zm5 4l9-1-5-12-9 9z"/><path class="f" d="M2415 3132l10 5-6-12-9 1zm6 12l9 5-5-12-10-5zm5 15l9-1-5-9-9-5zm5 13l9-7-5-7-9 1z"/><path class="a" d="M2436 3180l10-10-6-5-9 7zm6 3l9-8-5-5-10 10zm5 1l9-4-5-5-9 8z"/><path class="b" d="M2452 3187l10 0-6-7-9 4zm6 7l9 2-5-9-10 0z"/><path class="c" d="M2463 3205l10-1-6-8-9-2zm6 11l9-3-5-9-10 1z"/><path class="d" d="M2474 3224l9-3-5-8-9 3zm6 8l9-2-6-9-9 3zm5 10l9 0-5-12-9 2z"/><path class="e" d="M2491 3255l9-2-6-11-9 0zm5 10l10-4-6-8-9 2z"/><path class="a" d="M2311 3056l9-5-4 2-9 7z"/><path class="f" d="M2315 3052l9-3-4 2-9 5zm4-5l9-2-4 4-9 3z"/><path class="h" d="M2324 3039l8-1-4 7-9 2z"/><path class="i" d="M2328 3028l9-2-5 12-8 1z"/><path class="k" d="M2332 3015l9-4-4 15-9 2z"/><path class="l" d="M2336 3006l9-7-4 12-9 4zm4 0l9-12-4 5-9 7zm5 9l9-17-5-4-9 12zm5 13l9-19-5-11-9 17zm5 13l9-18-5-14-9 19zm5 10l9-13-5-15-9 18zm5 7l9-7-5-13-9 13z"/><path class="k" d="M2370 3068l10-3-6-14-9 7z"/><path class="j" d="M2376 3083l9-3-5-15-10 3z"/><path class="i" d="M2381 3101l9-5-5-16-9 3z"/><path class="h" d="M2386 3118l9-9-5-13-9 5z"/><path class="g" d="M2391 3128l9-10-5-9-9 9zm5 2l9-8-5-4-9 10z"/><path class="f" d="M2401 3129l9-3-5-4-9 8zm5 3l9 0-5-6-9 3zm5 9l10 3-6-12-9 0zm6 17l9 1-5-15-10-3z"/><path class="a" d="M2422 3174l9-2-5-13-9-1zm5 11l9-5-5-8-9 2zm5 4l10-6-6-3-9 5zm6 0l9-5-5-1-10 6z"/><path class="b" d="M2443 3191l9-4-5-3-9 5zm5 8l10-5-6-7-9 4z"/><path class="c" d="M2454 3210l9-5-5-11-10 5zm5 12l10-6-6-11-9 5zm6 8l9-6-5-8-10 6zm5 5l10-3-6-8-9 6z"/><path class="d" d="M2476 3244l9-2-5-10-10 3z"/><path class="e" d="M2481 3258l10-3-6-13-9 2zm6 10l9-3-5-10-10 3z"/><path class="a" d="M2303 3061l8-5-4 4-8 5zm4-5l8-4-4 4-8 5z"/><path class="f" d="M2311 3049l8-2-4 5-8 4z"/><path class="g" d="M2315 3041l9-2-5 8-8 2z"/><path class="i" d="M2319 3033l9-5-4 11-9 2z"/><path class="j" d="M2323 3025l9-10-4 13-9 5z"/><path class="l" d="M2327 3021l9-15-4 9-9 10zm5 3l8-18-4 0-9 15zm5 9l8-18-5-9-8 18zm5 12l8-17-5-13-8 18zm5 11l8-15-5-13-8 17zm5 8l8-13-5-10-8 15z"/><path class="k" d="M2356 3070l9-12-5-7-8 13z"/><path class="j" d="M2361 3078l9-10-5-10-9 12z"/><path class="i" d="M2366 3090l10-7-6-15-9 10z"/><path class="h" d="M2372 3106l9-5-5-18-10 7z"/><path class="g" d="M2377 3122l9-4-5-17-9 5zm5 10l9-4-5-10-9 4z"/><path class="f" d="M2387 3136l9-6-5-2-9 4zm5-1l9-6-5 1-9 6zm5 2l9-5-5-3-9 6zm5 7l9-3-5-9-9 5z"/><path class="a" d="M2407 3157l10 1-6-17-9 3zm6 15l9 2-5-16-10-1zm5 13l9 0-5-11-9-2zm5 7l9-3-5-4-9 0z"/><path class="b" d="M2428 3197l10-8-6 0-9 3zm6 5l9-11-5-2-10 8zm5 8l9-11-5-8-9 11z"/><path class="c" d="M2444 3220l10-10-6-11-9 11zm6 9l9-7-5-12-10 10zm5 6l10-5-6-8-9 7zm6 4l9-4-5-5-10 5z"/><path class="d" d="M2466 3247l10-3-6-9-9 4z"/><path class="e" d="M2472 3261l9-3-5-14-10 3zm5 10l10-3-6-10-9 3z"/><path class="b" d="M2294 3065l9-4-4 4-9 3z"/><path class="a" d="M2298 3060l9-4-4 5-9 4z"/><path class="f" d="M2302 3054l9-5-4 7-9 4z"/><path class="g" d="M2306 3048l9-7-4 8-9 5z"/><path class="h" d="M2310 3043l9-10-4 8-9 7z"/><path class="i" d="M2314 3040l9-15-4 8-9 10z"/><path class="j" d="M2319 3040l8-19-4 4-9 15z"/><path class="k" d="M2323 3043l9-19-5-3-8 19z"/><path class="l" d="M2328 3050l9-17-5-9-9 19zm5 9l9-14-5-12-9 17zm5 9l9-12-5-11-9 14z"/><path class="k" d="M2343 3076l9-12-5-8-9 12z"/><path class="j" d="M2348 3084l8-14-4-6-9 12z"/><path class="i" d="M2352 3092l9-14-5-8-8 14z"/><path class="h" d="M2357 3101l9-11-5-12-9 14zm6 11l9-6-6-16-9 11z"/><path class="g" d="M2368 3122l9 0-5-16-9 6zm5 9l9 1-5-10-9 0z"/><path class="f" d="M2378 3137l9-1-5-4-9-1zm5 4l9-6-5 1-9 1zm5 5l9-9-5-2-9 6zm5 5l9-7-5-7-9 9z"/><path class="a" d="M2398 3159l9-2-5-13-9 7zm5 10l10 3-6-15-9 2zm5 12l10 4-5-13-10-3zm6 11l9 0-5-7-10-4z"/><path class="b" d="M2419 3204l9-7-5-5-9 0zm5 11l10-13-6-5-9 7z"/><path class="c" d="M2430 3225l9-15-5-8-10 13zm5 9l9-14-5-10-9 15z"/><path class="d" d="M2440 3239l10-10-6-9-9 14zm6 3l9-7-5-6-10 10zm5 3l10-6-6-4-9 7zm6 7l9-5-5-8-10 6z"/><path class="e" d="M2462 3265l10-4-6-14-9 5zm6 9l9-3-5-10-10 4z"/><path class="b" d="M2285 3066l9-1-4 3-9-1z"/><path class="a" d="M2289 3063l9-3-4 5-9 1zm4-2l9-7-4 6-9 3z"/><path class="f" d="M2297 3059l9-11-4 6-9 7z"/><path class="g" d="M2301 3058l9-15-4 5-9 11z"/><path class="h" d="M2306 3058l8-18-4 3-9 15z"/><path class="i" d="M2310 3059l9-19-5 0-8 18z"/><path class="j" d="M2315 3060l8-17-4-3-9 19zm4 4l9-14-5-7-8 17z"/><path class="k" d="M2324 3070l9-11-5-9-9 14z"/><path class="j" d="M2329 3077l9-9-5-9-9 11zm5 10l9-11-5-8-9 9z"/><path class="i" d="M2339 3097l9-13-5-8-9 11z"/><path class="h" d="M2344 3106l8-14-4-8-9 13zm5 6l8-11-5-9-8 14z"/><path class="g" d="M2353 3117l10-5-6-11-8 11zm5 4l10 1-5-10-10 5zm5 6l10 4-5-9-10-1z"/><path class="f" d="M2368 3135l10 2-5-6-10-4zm5 8l10-2-5-4-10-2zm5 8l10-5-5-5-10 2zm5 6l10-6-5-5-10 5zm6 5l9-3-5-8-10 6z"/><path class="a" d="M2394 3168l9 1-5-10-9 3zm5 10l9 3-5-12-9-1z"/><path class="b" d="M2404 3192l10 0-6-11-9-3zm6 18l9-6-5-12-10 0z"/><path class="c" d="M2415 3228l9-13-5-11-9 6z"/><path class="d" d="M2420 3243l10-18-6-10-9 13zm6 8l9-17-5-9-10 18z"/><path class="e" d="M2431 3254l9-15-5-5-9 17zm5-1l10-11-6-3-9 15zm6 0l9-8-5-3-10 11zm5 6l10-7-6-7-9 8zm6 10l9-4-5-13-10 7zm5 9l10-4-6-9-9 4z"/><path class="b" d="M2276 3065l9 1-4 1-9-2zm4 3l9-5-4 3-9-1z"/><path class="a" d="M2285 3071l8-10-4 2-9 5z"/><path class="f" d="M2289 3074l8-15-4 2-8 10zm4 1l8-17-4 1-8 15z"/><path class="g" d="M2297 3075l9-17-5 0-8 17z"/><path class="h" d="M2302 3074l8-15-4-1-9 17zm4-1l9-13-5-1-8 15z"/><path class="i" d="M2310 3075l9-11-4-4-9 13zm5 5l9-10-5-6-9 11zm5 7l9-10-5-7-9 10zm5 10l9-10-5-10-9 10z"/><path class="h" d="M2330 3106l9-9-5-10-9 10zm5 8l9-8-5-9-9 9z"/><path class="g" d="M2339 3118l10-6-5-6-9 8zm5 2l9-3-4-5-10 6zm5 0l9 1-5-4-9 3zm5 2l9 5-5-6-9-1zm5 6l9 7-5-8-9-5zm5 10l9 5-5-8-9-7zm5 10l9 3-5-8-9-5z"/><path class="f" d="M2374 3157l9 0-5-6-9-3zm5 7l10-2-6-5-9 0zm5 5l10-1-5-6-10 2z"/><path class="a" d="M2389 3178l10 0-5-10-10 1z"/><path class="b" d="M2395 3193l9-1-5-14-10 0z"/><path class="c" d="M2400 3215l10-5-6-18-9 1z"/><path class="d" d="M2406 3239l9-11-5-18-10 5z"/><path class="e" d="M2411 3259l9-16-5-15-9 11z"/><path class="n" d="M2416 3272l10-21-6-8-9 16z"/><path class="o" d="M2422 3275l9-21-5-3-10 21z"/><path class="n" d="M2427 3270l9-17-5 1-9 21zm5-4l10-13-6 0-9 17z"/><path class="m" d="M2438 3266l9-7-5-6-10 13z"/><path class="e" d="M2443 3273l10-4-6-10-9 7z"/><path class="m" d="M2449 3281l9-3-5-9-10 4z"/><path class="b" d="M2267 3066l9-1-4 0-9-2zm4 8l9-6-4-3-9 1z"/><path class="a" d="M2276 3083l9-12-5-3-9 6zm5 6l8-15-4-3-9 12z"/><path class="f" d="M2285 3091l8-16-4-1-8 15zm4-3l8-13-4 0-8 16z"/><path class="g" d="M2293 3084l9-10-5 1-8 13zm4-1l9-10-4 1-9 10zm5 2l8-10-4-2-9 10z"/><path class="h" d="M2306 3091l9-11-5-5-8 10zm5 6l9-10-5-7-9 11zm5 6l9-6-5-10-9 10z"/><path class="g" d="M2321 3110l9-4-5-9-9 6zm4 5l10-1-5-8-9 4zm5 3l9 0-4-4-10 1zm5 1l9 1-5-2-9 0z"/><path class="h" d="M2339 3118l10 2-5 0-9-1zm5-2l10 6-5-2-10-2zm5 1l10 11-5-6-10-6zm5 7l10 14-5-10-10-11zm5 11l10 13-5-10-10-14zm5 14l10 8-5-9-10-13z"/><path class="g" d="M2370 3162l9 2-5-7-10-8z"/><path class="f" d="M2375 3172l9-3-5-5-9-2z"/><path class="a" d="M2380 3182l9-4-5-9-9 3z"/><path class="b" d="M2385 3196l10-3-6-15-9 4z"/><path class="c" d="M2391 3218l9-3-5-22-10 3z"/><path class="e" d="M2396 3245l10-6-6-24-9 3z"/><path class="o" d="M2402 3272l9-13-5-20-10 6z"/><path class="p" d="M2407 3291l9-19-5-13-9 13z"/><path class="q" d="M2412 3297l10-22-6-3-9 19z"/><path class="t" d="M2418 3291l9-21-5 5-10 22z"/><path class="o" d="M2423 3280l9-14-5 4-9 21z"/><path class="n" d="M2428 3275l10-9-6 0-9 14z"/><path class="m" d="M2434 3278l9-5-5-7-10 9zm5 7l10-4-6-8-9 5z"/><path class="b" d="M2258 3070l9-4-4-3-9 1zm5 12l8-8-4-8-9 4zm5 12l8-11-5-9-8 8z"/><path class="a" d="M2272 3101l9-12-5-6-8 11zm4 0l9-10-4-2-9 12zm4-4l9-9-4 3-9 10z"/><path class="f" d="M2284 3093l9-9-4 4-9 9zm4-1l9-9-4 1-9 9zm5 4l9-11-5-2-9 9z"/><path class="g" d="M2297 3101l9-10-4-6-9 11zm5 4l9-8-5-6-9 10zm5 2l9-4-5-6-9 8zm4 1l10 2-5-7-9 4zm5 3l9 4-4-5-10-2z"/><path class="h" d="M2320 3115l10 3-5-3-9-4zm5 2l10 2-5-1-10-3z"/><path class="i" d="M2330 3115l9 3-4 1-10-2zm4-5l10 6-5 2-9-3z"/><path class="j" d="M2339 3105l10 12-5-1-10-6zm5 2l10 17-5-7-10-12zm5 11l10 17-5-11-10-17z"/><path class="i" d="M2354 3136l10 13-5-14-10-17z"/><path class="h" d="M2360 3156l10 6-6-13-10-13z"/><path class="g" d="M2365 3173l10-1-5-10-10-6z"/><path class="f" d="M2370 3186l10-4-5-10-10 1z"/><path class="b" d="M2376 3201l9-5-5-14-10 4z"/><path class="c" d="M2381 3221l10-3-6-22-9 5z"/><path class="n" d="M2387 3249l9-4-5-27-10 3z"/><path class="p" d="M2392 3280l10-8-6-27-9 4z"/><path class="r" d="M2398 3303l9-12-5-19-10 8zm5 10l9-16-5-6-9 12zm5-5l10-17-6 6-9 16z"/><path class="q" d="M2413 3294l10-14-5 11-10 17z"/><path class="o" d="M2419 3283l9-8-5 5-10 14z"/><path class="n" d="M2424 3282l10-4-6-3-9 8z"/><path class="m" d="M2429 3288l10-3-5-7-10 4z"/><path class="c" d="M2250 3079l8-9-4-6-9 6z"/><path class="b" d="M2254 3092l9-10-5-12-8 9zm5 10l9-8-5-12-9 10zm4 5l9-6-4-7-9 8zm4-1l9-5-4 0-9 6z"/><path class="a" d="M2271 3102l9-5-4 4-9 5zm4-1l9-8-4 4-9 5zm5 2l8-11-4 1-9 8z"/><path class="f" d="M2284 3108l9-12-5-4-8 11zm5 3l8-10-4-5-9 12zm4 0l9-6-5-4-8 10zm4-2l10-2-5-2-9 6zm5-2l9 1-4-1-10 2z"/><path class="g" d="M2306 3109l10 2-5-3-9-1z"/><path class="h" d="M2311 3113l9 2-4-4-10-2z"/><path class="i" d="M2315 3116l10 1-5-2-9-2z"/><path class="j" d="M2320 3114l10 1-5 2-10-1z"/><path class="k" d="M2324 3107l10 3-4 5-10-1zm5-8l10 6-5 5-10-3z"/><path class="l" d="M2334 3098l10 9-5-2-10-6z"/><path class="k" d="M2339 3108l10 10-5-11-10-9zm5 20l10 8-5-18-10-10z"/><path class="j" d="M2350 3151l10 5-6-20-10-8z"/><path class="h" d="M2355 3172l10 1-5-17-10-5z"/><path class="g" d="M2361 3189l9-3-5-13-10-1z"/><path class="a" d="M2366 3205l10-4-6-15-9 3z"/><path class="d" d="M2372 3225l9-4-5-20-10 4z"/><path class="n" d="M2377 3252l10-3-6-28-9 4z"/><path class="q" d="M2383 3282l9-2-5-31-10 3z"/><path class="s" d="M2389 3306l9-3-6-23-9 2zm5 12l9-5-5-10-9 3zm5-2l9-8-5 5-9 5z"/><path class="r" d="M2404 3303l9-9-5 14-9 8z"/><path class="o" d="M2409 3289l10-6-6 11-9 9z"/><path class="n" d="M2414 3286l10-4-5 1-10 6z"/><path class="m" d="M2420 3291l9-3-5-6-10 4z"/><path class="c" d="M2241 3091l9-12-5-9-9 9z"/><path class="b" d="M2246 3100l8-8-4-13-9 12zm4 6l9-4-5-10-8 8zm4 1l9 0-4-5-9 4zm4-1l9 0-4 1-9 0zm4 1l9-5-4 4-9 0z"/><path class="a" d="M2267 3110l8-9-4 1-9 5zm4 5l9-12-5-2-8 9zm4 4l9-11-4-5-9 12zm5-1l9-7-5-3-9 11zm4-3l9-4-4 0-9 7z"/><path class="f" d="M2288 3111l9-2-4 2-9 4zm4 0l10-4-5 2-9 2z"/><path class="g" d="M2297 3114l9-5-4-2-10 4z"/><path class="h" d="M2301 3118l10-5-5-4-9 5z"/><path class="i" d="M2306 3120l9-4-4-3-10 5z"/><path class="j" d="M2311 3117l9-3-5 2-9 4z"/><path class="k" d="M2315 3111l9-4-4 7-9 3z"/><path class="l" d="M2319 3106l10-7-5 8-9 4zm5 1l10-9-5 1-10 7zm5 9l10-8-5-10-10 9z"/><path class="k" d="M2335 3133l9-5-5-20-10 8z"/><path class="j" d="M2340 3152l10-1-6-23-9 5z"/><path class="i" d="M2346 3172l9 0-5-21-10 1z"/><path class="g" d="M2351 3190l10-1-6-17-9 0z"/><path class="a" d="M2357 3209l9-4-5-16-10 1z"/><path class="c" d="M2362 3230l10-5-6-20-9 4z"/><path class="n" d="M2368 3255l9-3-5-27-10 5z"/><path class="q" d="M2373 3279l10 3-6-30-9 3z"/><path class="r" d="M2379 3300l10 6-6-24-10-3z"/><path class="s" d="M2384 3311l10 7-5-12-10-6zm5 1l10 4-5 2-10-7z"/><path class="q" d="M2394 3304l10-1-5 13-10-4z"/><path class="o" d="M2399 3293l10-4-5 14-10 1z"/><path class="n" d="M2404 3290l10-4-5 3-10 4z"/><path class="m" d="M2410 3295l10-4-6-5-10 4z"/><path class="c" d="M2233 3101l8-10-5-12-8 11zm4 5l9-6-5-9-8 10zm4 0l9 0-4-6-9 6z"/><path class="b" d="M2245 3105l9 2-4-1-9 0zm4 1l9 0-4 1-9-2zm4 6l9-5-4-1-9 0zm5 9l9-11-5-3-9 5zm4 5l9-11-4-5-9 11zm5 1l8-8-4-4-9 11z"/><path class="a" d="M2271 3124l9-6-5 1-8 8zm3-5l10-4-4 3-9 6zm5-1l9-7-4 4-10 4z"/><path class="f" d="M2283 3122l9-11-4 0-9 7zm5 5l9-13-5-3-9 11z"/><path class="g" d="M2292 3130l9-12-4-4-9 13z"/><path class="h" d="M2297 3130l9-10-5-2-9 12z"/><path class="i" d="M2301 3127l10-10-5 3-9 10z"/><path class="j" d="M2306 3125l9-14-4 6-10 10z"/><path class="k" d="M2310 3127l9-21-4 5-9 14zm5 6l9-26-5-1-9 21zm5 9l9-26-5-9-9 26z"/><path class="j" d="M2326 3152l9-19-6-17-9 26z"/><path class="i" d="M2331 3163l9-11-5-19-9 19z"/><path class="h" d="M2336 3176l10-4-6-20-9 11z"/><path class="f" d="M2342 3193l9-3-5-18-10 4z"/><path class="a" d="M2347 3213l10-4-6-19-9 3z"/><path class="c" d="M2353 3236l9-6-5-21-10 4z"/><path class="m" d="M2358 3257l10-2-6-25-9 6z"/><path class="p" d="M2364 3275l9 4-5-24-10 2z"/><path class="q" d="M2369 3288l10 12-6-21-9-4z"/><path class="r" d="M2374 3295l10 16-5-11-10-12zm5 4l10 13-5-1-10-16z"/><path class="q" d="M2384 3297l10 7-5 8-10-13z"/><path class="o" d="M2389 3293l10 0-5 11-10-7z"/><path class="n" d="M2395 3292l9-2-5 3-10 0z"/><path class="m" d="M2400 3298l10-3-6-5-9 2z"/><path class="c" d="M2224 3107l9-6-5-11-8 10zm4 1l9-2-4-5-9 6zm4-2l9 0-4 0-9 2zm4 0l9-1-4 1-9 0zm4 5l9-5-4-1-9 1zm5 10l8-9-4-6-9 5z"/><path class="b" d="M2249 3130l9-9-5-9-8 9zm5 5l8-9-4-5-9 9zm4-1l9-7-5-1-8 9zm3-4l10-6-4 3-9 7zm5-1l8-10-3 5-10 6zm4 4l9-15-5 1-8 10z"/><path class="a" d="M2275 3140l8-18-4-4-9 15zm4 6l9-19-5-5-8 18z"/><path class="f" d="M2284 3147l8-17-4-3-9 19z"/><path class="g" d="M2288 3146l9-16-5 0-8 17zm4-1l9-18-4 3-9 16z"/><path class="h" d="M2297 3149l9-24-5 2-9 18z"/><path class="i" d="M2302 3157l8-30-4-2-9 24zm5 11l8-35-5-6-8 30zm5 8l8-34-5-9-8 35z"/><path class="h" d="M2317 3180l9-28-6-10-8 34z"/><path class="g" d="M2322 3182l9-19-5-11-9 28z"/><path class="f" d="M2327 3189l9-13-5-13-9 19z"/><path class="a" d="M2332 3202l10-9-6-17-9 13z"/><path class="b" d="M2338 3221l9-8-5-20-10 9z"/><path class="c" d="M2343 3241l10-5-6-23-9 8z"/><path class="e" d="M2349 3258l9-1-5-21-10 5z"/><path class="o" d="M2354 3269l10 6-6-18-9 1z"/><path class="p" d="M2359 3275l10 13-5-13-10-6z"/><path class="t" d="M2364 3280l10 15-5-7-10-13zm5 4l10 15-5-4-10-15z"/><path class="o" d="M2374 3288l10 9-5 2-10-15z"/><path class="n" d="M2380 3291l9 2-5 4-10-9z"/><path class="m" d="M2385 3295l10-3-6 1-9-2zm5 7l10-4-5-6-10 3z"/><path class="d" d="M2215 3111l9-4-4-7-9 7zm4 0l9-3-4-1-9 4zm4 1l9-6-4 2-9 3z"/><path class="c" d="M2227 3115l9-9-4 0-9 6zm4 7l9-11-4-5-9 9zm5 9l9-10-5-10-9 11zm4 7l9-8-4-9-9 10zm5 3l9-6-5-5-9 8zm4 0l9-7-4 1-9 6zm4 2l8-13-3 4-9 7zm4 4l9-18-5 1-8 13zm5 7l8-21-4-4-9 18zm4 7l9-21-5-7-8 21z"/><path class="b" d="M2271 3165l8-19-4-6-9 21zm4 1l9-19-5-1-8 19zm5 0l8-20-4 1-9 19z"/><path class="a" d="M2284 3169l8-24-4 1-8 20zm5 7l8-27-5-4-8 24z"/><path class="f" d="M2294 3187l8-30-5-8-8 27zm5 9l8-28-5-11-8 30zm5 6l8-26-5-8-8 28z"/><path class="a" d="M2308 3204l9-24-5-4-8 26zm5 2l9-24-5-2-9 24z"/><path class="b" d="M2318 3210l9-21-5-7-9 24zm5 10l9-18-5-13-9 21z"/><path class="c" d="M2328 3233l10-12-6-19-9 18z"/><path class="d" d="M2334 3247l9-6-5-20-10 12z"/><path class="e" d="M2339 3257l10 1-6-17-9 6z"/><path class="m" d="M2344 3265l10 4-5-11-10-1z"/><path class="n" d="M2349 3269l10 6-5-6-10-4zm5 5l10 6-5-5-10-6zm5 5l10 5-5-4-10-6zm5 5l10 4-5-4-10-5z"/><path class="m" d="M2370 3290l10 1-6-3-10-4z"/><path class="e" d="M2375 3298l10-3-5-4-10-1z"/><path class="m" d="M2380 3305l10-3-5-7-10 3z"/><path class="e" d="M2206 3116l9-5-4-4-9 6zm4 3l9-8-4 0-9 5zm4 4l9-11-4-1-9 8zm5 6l8-14-4-3-9 11z"/><path class="d" d="M2223 3135l8-13-4-7-8 14zm4 6l9-10-5-9-8 13zm4 4l9-7-4-7-9 10zm5 4l9-8-5-3-9 7zm4 4l9-12-4 0-9 8zm4 5l9-15-4-2-9 12zm5 6l8-17-4-4-9 15zm4 6l9-16-5-7-8 17zm5 6l8-15-4-7-9 16zm4 4l9-15-5-4-8 15zm5 3l8-17-4-1-9 15zm4 4l9-21-5 0-8 17zm5 5l8-23-4-3-9 21zm4 7l9-23-5-7-8 23z"/><path class="c" d="M2285 3206l9-19-5-11-9 23zm5 6l9-16-5-9-9 19zm5 5l9-15-5-6-9 16z"/><path class="d" d="M2299 3221l9-17-4-2-9 15zm5 5l9-20-5-2-9 17zm5 6l9-22-5-4-9 20zm5 7l9-19-5-10-9 22zm5 7l9-13-5-13-9 19z"/><path class="e" d="M2324 3253l10-6-6-14-9 13zm5 6l10-2-5-10-10 6zm5 6l10 0-5-8-10 2z"/><path class="m" d="M2339 3271l10-2-5-4-10 0zm5 6l10-3-5-5-10 2zm5 6l10-4-5-5-10 3zm6 5l9-4-5-5-10 4z"/><path class="e" d="M2360 3295l10-5-6-6-9 4z"/><path class="m" d="M2365 3302l10-4-5-8-10 5zm5 7l10-4-5-7-10 4z"/><path class="e" d="M2197 3122l9-6-4-3-9 4zm4 4l9-7-4-3-9 6zm5 5l8-8-4-4-9 7zm4 5l9-7-5-6-8 8zm4 5l9-6-4-6-9 7zm4 5l9-5-4-6-9 6zm4 5l9-6-4-4-9 5zm5 5l9-7-5-4-9 6zm4 5l9-8-4-4-9 7zm4 5l9-8-4-5-9 8zm5 5l9-7-5-6-9 8zm4 5l9-6-4-6-9 7zm5 6l9-6-5-6-9 6zm4 5l9-7-4-4-9 6zm5 5l9-9-5-3-9 7zm4 5l9-10-4-4-9 9zm5 6l9-11-5-5-9 10zm4 5l9-9-4-7-9 11zm5 5l9-7-5-7-9 9zm5 6l9-7-5-6-9 7zm4 5l10-7-5-5-9 7zm5 6l9-9-4-4-10 7zm5 6l9-10-5-5-9 9zm5 5l9-9-5-6-9 10zm5 6l9-8-5-7-9 9zm4 6l10-7-5-7-9 8zm5 5l10-5-5-7-10 7zm5 6l10-5-5-6-10 5z"/><path class="m" d="M2324 3270l10-5-5-6-10 5zm5 6l10-5-5-6-10 5zm5 6l10-5-5-6-10 5zm6 6l9-5-5-6-10 5zm5 6l10-6-6-5-9 5zm5 6l10-5-5-7-10 6zm5 6l10-4-5-7-10 5zm5 6l10-3-5-7-10 4z"/></g>
<path d="M550.4 807.83h-3.3M549.18 793.82h-3.3M547.92 779.22h-3.3M546.6 763.99h-3.3M545.23 748.09h-3.3M591.22 865.4l-2.3 1.9M586.52 859.41l-2.3 1.9M581.95 853.59l-2.3 1.9M577.51 847.92l-2.3 1.9M573.18 842.41l-2.3 1.9M568.97 837.04l-2.3 1.9M564.86 831.81l-2.3 1.9M560.86 826.71l-2.3 1.9M556.97 821.75l-2.3 1.9M553.17 816.9l-2.3 1.9M593.34 864.59l0.3 3M602.41 861.12l0.3 3M611.34 857.69l0.3 3M620.13 854.32l0.3 3M628.78 851l0.3 3M637.3 847.74l0.3 3M645.69 844.52l0.3 3M653.96 841.35l0.3 3M662.1 838.23l0.3 3M670.12 835.16l0.3 3" stroke="#333" stroke-width="0.5" fill="none"/>
<text x="544.8" y="809.73" font-size="5.4" text-anchor="end" fill="#222">−40</text>
<text x="543.58" y="795.72" font-size="5.4" text-anchor="end" fill="#222">−20</text>
<text x="542.32" y="781.12" font-size="5.4" text-anchor="end" fill="#222">0</text>
<text x="541" y="765.89" font-size="5.4" text-anchor="end" fill="#222">20</text>
<text x="539.63" y="749.99" font-size="5.4" text-anchor="end" fill="#222">40</text>
<text x="587.22" y="874" font-size="4.4" text-anchor="middle" fill="#222">0</text>
<text x="582.12" y="864.56" font-size="4.2" text-anchor="end" fill="#222">19.53125</text>
<text x="577.55" y="858.89" font-size="4.2" text-anchor="end" fill="#222">39.0625</text>
<text x="573.11" y="853.37" font-size="4.2" text-anchor="end" fill="#222">78.125</text>
<text x="568.78" y="848.01" font-size="4.2" text-anchor="end" fill="#222">156.25</text>
<text x="564.57" y="842.79" font-size="4.2" text-anchor="end" fill="#222">312.5</text>
<text x="560.46" y="837.71" font-size="4.2" text-anchor="end" fill="#222">625</text>
<text x="556.46" y="832.76" font-size="4.2" text-anchor="end" fill="#222">1,250</text>
<text x="552.57" y="827.95" font-size="4.2" text-anchor="end" fill="#222">2,500</text>
<text x="548.77" y="823.25" font-size="4.2" text-anchor="end" fill="#222">5,000</text>
<text x="593.64" y="874.19" font-size="4.4" text-anchor="middle" fill="#222">0</text>
<text x="602.41" y="869.57" font-size="4.2" fill="#222">19.53125</text>
<text x="611.34" y="865.99" font-size="4.2" fill="#222">39.0625</text>
<text x="620.13" y="862.47" font-size="4.2" fill="#222">78.125</text>
<text x="628.78" y="859" font-size="4.2" fill="#222">156.25</text>
<text x="637.3" y="855.59" font-size="4.2" fill="#222">312.5</text>
<text x="645.69" y="852.22" font-size="4.2" fill="#222">625</text>
<text x="653.96" y="848.9" font-size="4.2" fill="#222">1,250</text>
<text x="662.1" y="845.63" font-size="4.2" fill="#222">2,500</text>
<text x="670.12" y="842.41" font-size="4.2" fill="#222">5,000</text>
<text transform="translate(531.48 779.72) rotate(-86)" font-size="7.6" font-weight="bold" text-anchor="middle">Synergy score</text>
<text transform="translate(545.73 848.21) rotate(55)" font-size="7.9" font-weight="bold" text-anchor="middle">Ribociclib (nM)</text>
<text transform="translate(644.52 871.14) rotate(-21.5)" font-size="7.7" font-weight="bold" text-anchor="middle">BLU-222 (nM)</text>
<text x="619.6" y="687.8" font-size="9.5" font-weight="bold" text-anchor="middle">Atirmociclib<tspan font-size="5.8" dy="-3.6">R</tspan></text>
<text x="619.6" y="701.4" font-size="7.6" text-anchor="middle" fill="#222">MSA score: 23.1</text>
<text x="619.6" y="709.9" font-size="7.6" text-anchor="middle" fill="#222">Mean synergy: 12.8</text>
<text transform="translate(2.6 11.2) scale(1 1.12)" font-size="13.2" font-weight="bold">a.</text>
<text transform="translate(233.6 11.2) scale(1 1.12)" font-size="13.2" font-weight="bold">b.</text>
<text transform="translate(448 11.2) scale(1 1.12)" font-size="13.2" font-weight="bold">c.</text>
<text transform="translate(2.2 246) scale(1 1.12)" font-size="13.2" font-weight="bold">d.</text>
<text transform="translate(260.8 246) scale(1 1.12)" font-size="13.2" font-weight="bold">e.</text>
<text transform="translate(475.6 246) scale(1 1.12)" font-size="13.2" font-weight="bold">f.</text>
<text transform="translate(2 444.2) scale(1 1.12)" font-size="13.2" font-weight="bold">g.</text>
<text transform="translate(2 679.5) scale(1 1.12)" font-size="13.2" font-weight="bold">h.</text>
</svg>
</body></html>
